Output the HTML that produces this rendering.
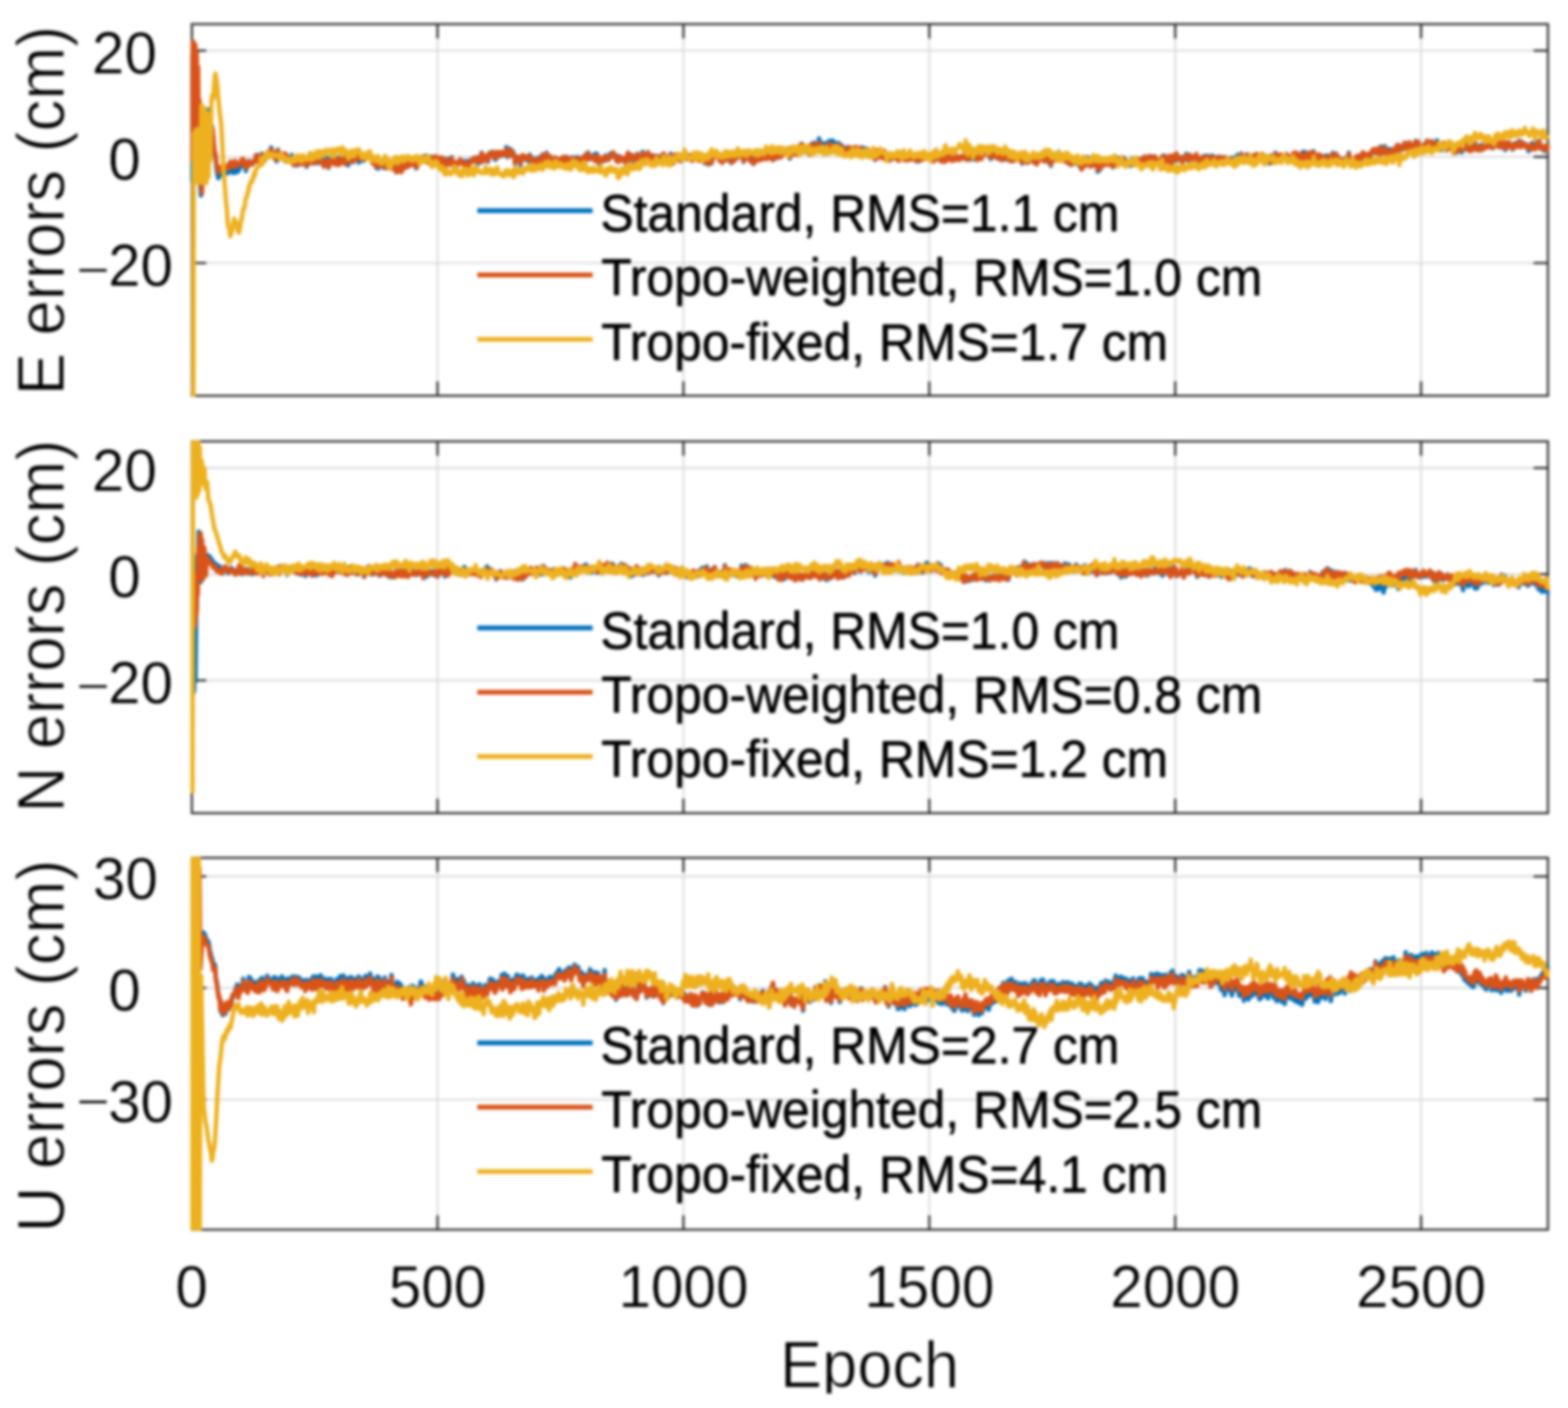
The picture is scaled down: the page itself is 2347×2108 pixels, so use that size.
<!DOCTYPE html>
<html lang="en"><head><meta charset="utf-8"><title>Positioning errors</title>
<style>html,body{margin:0;padding:0;background:#fff;}body{width:2347px;height:2108px;overflow:hidden;}svg{display:block;}text{font-family:"Liberation Sans","DejaVu Sans",sans-serif;fill:#000;}.tk{font-size:87.5px;stroke:#fff;stroke-width:0.6px;stroke-linejoin:round;}.lab{font-size:94.8px;stroke:#fff;stroke-width:1.2px;stroke-linejoin:round;}.leg{font-size:74.55px;stroke:#000;stroke-width:0.8px;stroke-linejoin:round;}</style></head><body>
<svg width="2347" height="2108" viewBox="0 0 2347 2108" role="img" aria-label="E, N and U positioning errors versus epoch">
<defs>
<clipPath id="c0"><rect x="284.7" y="34.6" width="2034.8" height="559.4"/></clipPath>
<clipPath id="c1"><rect x="284.7" y="659.3" width="2034.8" height="559.6"/></clipPath>
<clipPath id="c2"><rect x="284.7" y="1282.8" width="2034.8" height="559.7"/></clipPath>
<clipPath id="ce"><rect x="-200" y="-90" width="400" height="98.8"/></clipPath>
<filter id="bl" x="-5%" y="-5%" width="110%" height="110%" color-interpolation-filters="sRGB"><feGaussianBlur stdDeviation="2.0"/></filter>
</defs>
<rect width="2347" height="2108" fill="#fff"/>
<g filter="url(#bl)">
<g id="axes-E">
<line x1="654.9" x2="654.9" y1="36.1" y2="592.5" stroke="#dedede" stroke-width="3.1"/>
<line x1="1023.0" x2="1023.0" y1="36.1" y2="592.5" stroke="#dedede" stroke-width="3.1"/>
<line x1="1391.0" x2="1391.0" y1="36.1" y2="592.5" stroke="#dedede" stroke-width="3.1"/>
<line x1="1759.1" x2="1759.1" y1="36.1" y2="592.5" stroke="#dedede" stroke-width="3.1"/>
<line x1="2127.1" x2="2127.1" y1="36.1" y2="592.5" stroke="#dedede" stroke-width="3.1"/>
<line x1="287.2" x2="2317.0" y1="75.8" y2="75.8" stroke="#dedede" stroke-width="3.1"/>
<line x1="287.2" x2="2317.0" y1="234.8" y2="234.8" stroke="#dedede" stroke-width="3.1"/>
<line x1="287.2" x2="2317.0" y1="393.8" y2="393.8" stroke="#dedede" stroke-width="3.1"/>
<line x1="654.9" x2="654.9" y1="592.5" y2="571.0" stroke="#262626" stroke-width="3.1"/>
<line x1="654.9" x2="654.9" y1="36.1" y2="57.6" stroke="#262626" stroke-width="3.1"/>
<line x1="1023.0" x2="1023.0" y1="592.5" y2="571.0" stroke="#262626" stroke-width="3.1"/>
<line x1="1023.0" x2="1023.0" y1="36.1" y2="57.6" stroke="#262626" stroke-width="3.1"/>
<line x1="1391.0" x2="1391.0" y1="592.5" y2="571.0" stroke="#262626" stroke-width="3.1"/>
<line x1="1391.0" x2="1391.0" y1="36.1" y2="57.6" stroke="#262626" stroke-width="3.1"/>
<line x1="1759.1" x2="1759.1" y1="592.5" y2="571.0" stroke="#262626" stroke-width="3.1"/>
<line x1="1759.1" x2="1759.1" y1="36.1" y2="57.6" stroke="#262626" stroke-width="3.1"/>
<line x1="2127.1" x2="2127.1" y1="592.5" y2="571.0" stroke="#262626" stroke-width="3.1"/>
<line x1="2127.1" x2="2127.1" y1="36.1" y2="57.6" stroke="#262626" stroke-width="3.1"/>
<line x1="287.2" x2="308.7" y1="75.8" y2="75.8" stroke="#262626" stroke-width="3.1"/>
<line x1="2317.0" x2="2295.5" y1="75.8" y2="75.8" stroke="#262626" stroke-width="3.1"/>
<line x1="287.2" x2="308.7" y1="234.8" y2="234.8" stroke="#262626" stroke-width="3.1"/>
<line x1="2317.0" x2="2295.5" y1="234.8" y2="234.8" stroke="#262626" stroke-width="3.1"/>
<line x1="287.2" x2="308.7" y1="393.8" y2="393.8" stroke="#262626" stroke-width="3.1"/>
<line x1="2317.0" x2="2295.5" y1="393.8" y2="393.8" stroke="#262626" stroke-width="3.1"/>
<rect x="287.2" y="36.1" width="2029.8" height="556.4" fill="none" stroke="#262626" stroke-width="3.1"/>
<polyline clip-path="url(#c0)" fill="none" stroke="#0072BD" stroke-width="6.6" stroke-linejoin="round" stroke-linecap="round" points="286.5,268.7 287.0,85.0 288.0,201.7 289.0,69.9 290.0,198.7 291.0,73.4 292.0,198.2 293.0,85.0 294.0,197.8 295.0,104.6 296.0,204.3 297.0,154.1 298.5,254.5 300.9,292.6 304.0,243.7 305.0,219.8 306.0,199.8 307.0,183.2 308.0,174.6 309.0,171.7 310.0,168.2 311.0,163.9 312.0,168.1 313.0,172.9 314.0,173.1 315.0,178.7 316.0,187.1 317.0,188.8 318.0,192.7 319.0,202.7 320.0,215.0 321.0,227.2 322.0,232.7 323.0,238.3 324.0,249.9 325.0,258.2 326.0,262.8 327.0,266.8 328.0,262.6 329.0,260.6 330.0,262.0 331.0,258.5 332.0,259.4 333.0,259.0 334.0,257.4 335.0,258.8 336.0,260.8 337.0,257.2 338.0,257.1 339.0,256.3 340.0,256.2 341.0,259.4 342.0,252.0 343.0,257.3 344.0,252.5 345.0,247.1 346.0,254.1 347.0,255.1 348.0,258.6 349.0,255.1 350.0,258.6 351.0,258.9 352.0,249.4 353.0,251.6 354.0,256.5 355.0,256.6 356.0,257.4 357.0,252.7 358.0,254.1 359.0,249.6 360.0,248.6 361.0,240.4 362.0,245.5 363.0,244.1 364.0,240.4 365.0,249.1 366.0,244.5 367.0,248.7 368.0,256.1 369.0,248.1 370.0,248.9 371.0,249.5 372.0,242.5 373.0,241.1 374.0,243.4 375.0,242.9 376.0,245.9 377.0,243.7 378.0,245.9 379.0,244.1 380.0,242.4 381.0,242.0 382.0,239.7 383.0,232.7 384.0,240.3 385.0,231.8 386.0,239.9 387.0,243.2 388.0,236.1 389.0,236.0 390.0,235.3 391.0,236.7 392.0,230.1 393.0,232.5 394.0,234.0 395.0,235.0 396.0,241.1 397.0,235.0 398.0,235.1 399.0,235.2 400.0,234.5 401.0,227.4 402.0,231.9 403.0,230.1 404.0,232.0 405.0,228.3 406.0,220.9 407.0,225.1 408.0,228.9 409.0,228.1 410.0,231.3 411.0,236.4 412.0,238.2 413.0,236.3 414.0,241.5 415.0,228.5 416.0,224.0 417.0,233.4 418.0,232.9 419.0,237.2 420.0,237.9 421.0,234.4 422.0,237.4 423.0,236.1 424.0,230.1 425.0,236.0 426.0,236.8 427.0,241.3 428.0,231.3 429.0,236.8 430.0,239.6 431.0,236.4 432.0,239.0 433.0,238.5 434.0,236.0 435.0,239.9 436.0,241.1 437.0,232.0 438.0,238.9 439.0,244.1 440.0,247.3 441.0,242.6 442.0,242.2 443.0,246.3 444.0,240.4 445.0,247.6 446.0,244.9 447.0,245.7 448.0,240.7 449.0,241.1 450.0,244.8 451.0,245.7 452.0,240.9 453.0,244.5 454.0,243.2 455.0,239.8 456.0,243.5 457.0,243.5 458.0,242.6 459.0,249.6 460.0,246.9 461.0,244.9 462.0,240.3 463.0,239.3 464.0,244.2 465.0,242.9 466.0,240.7 467.0,241.0 468.0,240.4 469.0,242.1 470.0,243.5 471.0,243.2 472.0,239.9 473.0,244.0 474.0,243.1 475.0,244.0 476.0,237.9 477.0,237.4 478.0,237.9 479.0,241.3 480.0,240.9 481.0,244.9 482.0,243.6 483.0,242.7 484.0,239.4 485.0,247.9 486.0,243.6 487.0,242.7 488.0,244.3 489.0,242.0 490.0,235.9 491.0,245.2 492.0,251.1 493.0,244.2 494.0,243.8 495.0,243.9 496.0,239.4 497.0,239.8 498.0,241.5 499.0,242.2 500.0,238.3 501.0,246.0 502.0,238.9 503.0,242.2 504.0,246.1 505.0,244.9 506.0,236.1 507.0,239.3 508.0,245.3 509.0,238.4 510.0,243.7 511.0,242.1 512.0,238.6 513.0,238.2 514.0,241.0 515.0,244.0 516.0,243.4 517.0,241.5 518.0,235.9 519.0,243.3 520.0,242.1 521.0,247.4 522.0,245.3 523.0,238.2 524.0,240.1 525.0,235.8 526.0,237.6 527.0,236.5 528.0,238.8 529.0,242.9 530.0,227.8 531.0,237.4 532.0,238.5 533.0,234.7 534.0,238.4 535.0,232.5 536.0,237.4 537.0,243.3 538.0,234.8 539.0,234.3 540.0,236.4 541.0,235.6 542.0,240.3 543.0,236.7 544.0,240.8 545.0,238.3 546.0,233.5 547.0,235.6 548.0,231.6 549.0,231.7 550.0,229.6 551.0,232.4 552.0,229.4 553.0,232.5 554.0,236.8 555.0,236.8 556.0,237.1 557.0,242.2 558.0,244.5 559.0,238.1 560.0,245.3 561.0,246.8 562.0,245.9 563.0,250.9 564.0,245.8 565.0,249.7 566.0,252.4 567.0,244.0 568.0,243.4 569.0,243.8 570.0,248.0 571.0,246.6 572.0,248.6 573.0,249.9 574.0,251.1 575.0,247.7 576.0,244.8 577.0,242.9 578.0,251.8 579.0,247.3 580.0,245.7 581.0,248.9 582.0,248.3 583.0,243.9 584.0,251.5 585.0,247.1 586.0,248.6 587.0,253.1 588.0,248.1 589.0,251.1 590.0,248.1 591.0,248.1 592.0,250.0 593.0,257.8 594.0,252.7 595.0,255.6 596.0,252.6 597.0,253.4 598.0,253.6 599.0,249.9 600.0,242.6 601.0,256.7 602.0,250.0 603.0,249.0 604.0,252.6 605.0,249.2 606.0,251.4 607.0,246.6 608.0,242.3 609.0,249.8 610.0,242.6 611.0,245.1 612.0,247.5 613.0,248.2 614.0,243.7 615.0,244.4 616.0,245.7 617.0,242.6 618.0,243.1 619.0,243.8 620.0,242.9 621.0,248.7 622.0,243.9 623.0,251.9 624.0,251.1 625.0,237.6 626.0,241.4 627.0,238.7 628.0,242.1 629.0,240.9 630.0,241.5 631.0,235.8 632.0,240.1 633.0,236.9 634.0,235.0 635.0,236.4 636.0,234.8 637.0,236.1 638.0,233.4 639.0,242.1 640.0,234.8 641.0,242.2 642.0,241.2 643.0,244.9 644.0,234.4 645.0,238.2 646.0,238.3 647.0,245.8 648.0,247.4 649.0,235.0 650.0,237.5 651.0,237.4 652.0,237.9 653.0,234.9 654.0,244.1 655.0,241.3 656.0,244.9 657.0,241.5 658.0,237.4 659.0,241.2 660.0,245.0 661.0,237.2 662.0,237.2 663.0,240.0 664.0,242.5 665.0,239.4 666.0,237.6 667.0,248.4 668.0,243.7 669.0,245.4 670.0,243.0 671.0,241.4 672.0,237.9 673.0,241.2 674.0,246.6 675.0,237.3 676.0,235.5 677.0,245.4 678.0,243.0 679.0,247.9 680.0,250.4 681.0,244.1 682.0,243.1 683.0,243.5 684.0,246.1 685.0,247.1 686.0,244.0 687.0,242.2 688.0,243.3 689.0,239.0 690.0,243.8 691.0,241.8 692.0,241.9 693.0,243.0 694.0,244.1 695.0,242.3 696.0,241.2 697.0,246.8 698.0,245.2 699.0,245.6 700.0,249.5 701.0,241.1 702.0,245.8 703.0,244.9 704.0,243.7 705.0,239.8 706.0,239.4 707.0,238.4 708.0,241.5 709.0,237.7 710.0,241.4 711.0,241.5 712.0,241.6 713.0,235.7 714.0,235.5 715.0,239.6 716.0,245.0 717.0,240.9 718.0,241.0 719.0,236.7 720.0,238.8 721.0,228.5 722.0,242.6 723.0,239.1 724.0,240.0 725.0,235.1 726.0,233.4 727.0,237.5 728.0,233.9 729.0,239.0 730.0,242.5 731.0,239.7 732.0,229.8 733.0,230.2 734.0,231.6 735.0,231.0 736.0,227.3 737.0,227.2 738.0,230.4 739.0,231.0 740.0,237.7 741.0,234.9 742.0,239.1 743.0,228.4 744.0,228.6 745.0,231.2 746.0,230.2 747.0,228.0 748.0,232.9 749.0,232.6 750.0,232.0 751.0,227.8 752.0,228.9 753.0,230.2 754.0,231.7 755.0,232.6 756.0,227.7 757.0,229.4 758.0,220.4 759.0,232.8 760.0,235.3 761.0,230.5 762.0,233.0 763.0,222.7 764.0,231.4 765.0,224.2 766.0,231.1 767.0,232.1 768.0,227.0 769.0,231.0 770.0,233.2 771.0,245.1 772.0,237.9 773.0,234.4 774.0,235.7 775.0,234.7 776.0,236.2 777.0,237.3 778.0,238.1 779.0,246.9 780.0,241.0 781.0,236.2 782.0,232.5 783.0,235.7 784.0,235.1 785.0,233.4 786.0,239.0 787.0,236.5 788.0,237.2 789.0,238.7 790.0,235.7 791.0,241.6 792.0,235.7 793.0,231.5 794.0,234.4 795.0,235.9 796.0,243.8 797.0,242.0 798.0,239.4 799.0,240.2 800.0,241.6 801.0,237.2 802.0,240.9 803.0,239.4 804.0,243.9 805.0,238.0 806.0,242.8 807.0,235.8 808.0,240.2 809.0,244.9 810.0,238.1 811.0,240.2 812.0,231.3 813.0,238.2 814.0,238.6 815.0,236.6 816.0,235.6 817.0,240.4 818.0,228.8 819.0,240.9 820.0,239.3 821.0,237.8 822.0,238.5 823.0,233.4 824.0,237.8 825.0,240.7 826.0,244.1 827.0,239.1 828.0,240.6 829.0,239.7 830.0,242.6 831.0,235.5 832.0,238.0 833.0,243.7 834.0,244.2 835.0,238.4 836.0,242.1 837.0,242.0 838.0,242.5 839.0,238.6 840.0,237.8 841.0,236.8 842.0,241.3 843.0,245.3 844.0,235.1 845.0,240.0 846.0,239.9 847.0,237.4 848.0,244.7 849.0,234.9 850.0,246.4 851.0,241.5 852.0,238.3 853.0,241.1 854.0,243.7 855.0,237.0 856.0,239.0 857.0,235.5 858.0,236.2 859.0,242.6 860.0,241.4 861.0,243.7 862.0,243.0 863.0,238.0 864.0,235.1 865.0,237.6 866.0,242.7 867.0,239.0 868.0,239.8 869.0,238.4 870.0,243.0 871.0,235.9 872.0,236.1 873.0,235.7 874.0,239.3 875.0,243.9 876.0,231.9 877.0,233.3 878.0,237.5 879.0,235.7 880.0,228.3 881.0,230.1 882.0,236.8 883.0,236.0 884.0,235.7 885.0,236.3 886.0,234.5 887.0,233.3 888.0,235.6 889.0,239.9 890.0,231.0 891.0,233.9 892.0,236.9 893.0,230.1 894.0,235.5 895.0,235.5 896.0,235.2 897.0,246.6 898.0,244.0 899.0,243.1 900.0,242.6 901.0,239.7 902.0,238.7 903.0,237.9 904.0,235.3 905.0,240.7 906.0,232.7 907.0,236.1 908.0,239.4 909.0,236.4 910.0,235.3 911.0,237.3 912.0,237.4 913.0,230.2 914.0,230.2 915.0,229.7 916.0,233.3 917.0,230.9 918.0,229.0 919.0,233.0 920.0,235.8 921.0,234.0 922.0,232.4 923.0,241.3 924.0,241.3 925.0,241.0 926.0,240.7 927.0,234.2 928.0,236.0 929.0,235.1 930.0,237.8 931.0,238.0 932.0,238.7 933.0,241.2 934.0,237.8 935.0,239.3 936.0,235.6 937.0,245.0 938.0,242.4 939.0,233.2 940.0,231.3 941.0,242.0 942.0,233.8 943.0,238.9 944.0,231.6 945.0,238.2 946.0,232.8 947.0,236.9 948.0,233.2 949.0,241.9 950.0,235.0 951.0,240.0 952.0,236.5 953.0,239.0 954.0,230.4 955.0,232.3 956.0,237.9 957.0,233.5 958.0,235.8 959.0,233.6 960.0,232.1 961.0,233.6 962.0,227.4 963.0,230.7 964.0,235.4 965.0,234.4 966.0,238.1 967.0,237.0 968.0,238.8 969.0,238.0 970.0,228.2 971.0,233.7 972.0,233.5 973.0,241.0 974.0,235.9 975.0,232.6 976.0,233.7 977.0,232.4 978.0,234.2 979.0,235.8 980.0,239.7 981.0,234.8 982.0,234.8 983.0,233.4 984.0,235.2 985.0,233.7 986.0,241.0 987.0,243.5 988.0,243.8 989.0,239.7 990.0,238.7 991.0,239.7 992.0,230.5 993.0,239.6 994.0,231.4 995.0,238.5 996.0,236.4 997.0,236.4 998.0,235.0 999.0,238.9 1000.0,238.6 1001.0,240.9 1002.0,242.6 1003.0,237.8 1004.0,230.1 1005.0,235.8 1006.0,236.0 1007.0,244.2 1008.0,233.0 1009.0,236.0 1010.0,238.4 1011.0,238.8 1012.0,232.0 1013.0,239.8 1014.0,234.8 1015.0,236.6 1016.0,238.4 1017.0,233.8 1018.0,234.3 1019.0,241.4 1020.0,233.8 1021.0,233.5 1022.0,231.1 1023.0,236.2 1024.0,232.1 1025.0,233.3 1026.0,231.2 1027.0,230.8 1028.0,238.4 1029.0,234.7 1030.0,232.9 1031.0,235.2 1032.0,232.0 1033.0,233.3 1034.0,239.2 1035.0,240.1 1036.0,235.6 1037.0,238.9 1038.0,239.9 1039.0,236.4 1040.0,239.1 1041.0,235.6 1042.0,236.6 1043.0,230.6 1044.0,237.6 1045.0,235.1 1046.0,240.4 1047.0,234.0 1048.0,238.4 1049.0,232.7 1050.0,239.1 1051.0,240.8 1052.0,241.7 1053.0,242.6 1054.0,239.2 1055.0,244.6 1056.0,237.2 1057.0,238.8 1058.0,240.5 1059.0,237.4 1060.0,237.6 1061.0,246.4 1062.0,236.0 1063.0,240.0 1064.0,237.8 1065.0,244.5 1066.0,239.5 1067.0,236.0 1068.0,235.6 1069.0,232.8 1070.0,231.6 1071.0,230.1 1072.0,234.7 1073.0,234.5 1074.0,236.5 1075.0,234.2 1076.0,236.3 1077.0,240.6 1078.0,232.1 1079.0,232.3 1080.0,237.3 1081.0,242.3 1082.0,235.1 1083.0,231.3 1084.0,234.5 1085.0,235.2 1086.0,240.1 1087.0,234.5 1088.0,234.6 1089.0,234.5 1090.0,228.5 1091.0,228.6 1092.0,239.4 1093.0,242.2 1094.0,237.2 1095.0,244.1 1096.0,242.8 1097.0,241.0 1098.0,241.5 1099.0,240.5 1100.0,239.4 1101.0,238.9 1102.0,237.1 1103.0,233.4 1104.0,235.9 1105.0,230.0 1106.0,230.0 1107.0,234.2 1108.0,227.2 1109.0,235.4 1110.0,230.4 1111.0,230.7 1112.0,233.4 1113.0,242.4 1114.0,237.7 1115.0,230.9 1116.0,237.5 1117.0,237.6 1118.0,226.7 1119.0,229.4 1120.0,236.3 1121.0,234.5 1122.0,236.1 1123.0,241.4 1124.0,237.7 1125.0,236.1 1126.0,241.0 1127.0,239.0 1128.0,245.4 1129.0,238.7 1130.0,237.2 1131.0,237.0 1132.0,238.8 1133.0,239.9 1134.0,235.3 1135.0,231.9 1136.0,231.7 1137.0,234.7 1138.0,238.2 1139.0,239.3 1140.0,228.1 1141.0,234.9 1142.0,234.3 1143.0,234.3 1144.0,237.8 1145.0,233.1 1146.0,232.1 1147.0,237.3 1148.0,236.3 1149.0,233.8 1150.0,232.0 1151.0,231.5 1152.0,226.9 1153.0,236.2 1154.0,233.9 1155.0,230.9 1156.0,230.4 1157.0,239.8 1158.0,235.2 1159.0,234.8 1160.0,234.4 1161.0,237.3 1162.0,237.1 1163.0,230.1 1164.0,232.6 1165.0,233.1 1166.0,235.7 1167.0,233.3 1168.0,224.0 1169.0,233.7 1170.0,230.8 1171.0,221.6 1172.0,227.3 1173.0,227.0 1174.0,228.8 1175.0,227.0 1176.0,227.2 1177.0,227.8 1178.0,227.2 1179.0,229.6 1180.0,231.4 1181.0,234.0 1182.0,237.4 1183.0,232.1 1184.0,221.7 1185.0,230.7 1186.0,227.3 1187.0,227.1 1188.0,229.3 1189.0,224.7 1190.0,226.9 1191.0,222.8 1192.0,231.1 1193.0,222.2 1194.0,221.4 1195.0,226.3 1196.0,220.0 1197.0,223.7 1198.0,220.0 1199.0,217.1 1200.0,215.1 1201.0,223.5 1202.0,228.5 1203.0,224.0 1204.0,225.8 1205.0,226.5 1206.0,221.1 1207.0,222.5 1208.0,228.1 1209.0,223.3 1210.0,221.3 1211.0,220.2 1212.0,229.4 1213.0,224.3 1214.0,216.3 1215.0,222.1 1216.0,219.9 1217.0,218.6 1218.0,213.5 1219.0,224.5 1220.0,220.5 1221.0,215.5 1222.0,220.1 1223.0,216.0 1224.0,215.0 1225.0,216.2 1226.0,207.3 1227.0,219.1 1228.0,214.6 1229.0,213.4 1230.0,214.4 1231.0,215.7 1232.0,217.6 1233.0,217.6 1234.0,215.1 1235.0,217.7 1236.0,214.6 1237.0,214.9 1238.0,217.3 1239.0,219.2 1240.0,219.0 1241.0,211.0 1242.0,216.6 1243.0,216.6 1244.0,216.1 1245.0,218.1 1246.0,210.3 1247.0,214.9 1248.0,212.4 1249.0,215.2 1250.0,214.4 1251.0,220.9 1252.0,219.5 1253.0,216.9 1254.0,217.5 1255.0,214.0 1256.0,221.9 1257.0,217.2 1258.0,216.6 1259.0,219.0 1260.0,217.8 1261.0,224.7 1262.0,224.0 1263.0,226.4 1264.0,222.0 1265.0,221.9 1266.0,221.5 1267.0,223.8 1268.0,223.7 1269.0,224.6 1270.0,219.9 1271.0,225.1 1272.0,226.0 1273.0,230.6 1274.0,223.2 1275.0,229.2 1276.0,222.0 1277.0,223.6 1278.0,221.3 1279.0,222.2 1280.0,228.6 1281.0,221.1 1282.0,221.3 1283.0,220.9 1284.0,225.4 1285.0,229.9 1286.0,224.3 1287.0,226.8 1288.0,221.2 1289.0,225.0 1290.0,223.2 1291.0,220.9 1292.0,223.2 1293.0,228.1 1294.0,223.3 1295.0,223.7 1296.0,225.8 1297.0,222.7 1298.0,233.6 1299.0,223.8 1300.0,233.7 1301.0,230.5 1302.0,229.9 1303.0,234.4 1304.0,230.1 1305.0,234.1 1306.0,225.0 1307.0,231.1 1308.0,233.4 1309.0,230.2 1310.0,239.3 1311.0,232.6 1312.0,225.4 1313.0,234.6 1314.0,235.0 1315.0,230.4 1316.0,233.6 1317.0,235.0 1318.0,230.9 1319.0,234.0 1320.0,235.2 1321.0,231.5 1322.0,236.3 1323.0,236.5 1324.0,226.2 1325.0,227.7 1326.0,231.5 1327.0,232.9 1328.0,232.5 1329.0,231.2 1330.0,230.3 1331.0,236.0 1332.0,240.3 1333.0,232.6 1334.0,230.4 1335.0,232.4 1336.0,231.6 1337.0,231.3 1338.0,237.5 1339.0,236.5 1340.0,234.7 1341.0,233.9 1342.0,237.7 1343.0,237.1 1344.0,237.1 1345.0,240.7 1346.0,238.0 1347.0,228.7 1348.0,231.0 1349.0,232.8 1350.0,236.2 1351.0,239.2 1352.0,239.2 1353.0,236.6 1354.0,232.1 1355.0,232.3 1356.0,231.3 1357.0,238.7 1358.0,238.1 1359.0,236.5 1360.0,237.3 1361.0,233.4 1362.0,234.1 1363.0,232.6 1364.0,236.4 1365.0,238.7 1366.0,237.0 1367.0,237.7 1368.0,235.6 1369.0,237.6 1370.0,237.4 1371.0,241.1 1372.0,235.4 1373.0,237.3 1374.0,239.3 1375.0,241.7 1376.0,236.4 1377.0,233.8 1378.0,234.2 1379.0,231.4 1380.0,239.5 1381.0,236.8 1382.0,229.9 1383.0,235.4 1384.0,237.8 1385.0,233.6 1386.0,233.7 1387.0,237.7 1388.0,234.0 1389.0,233.0 1390.0,237.1 1391.0,235.4 1392.0,237.3 1393.0,234.5 1394.0,238.9 1395.0,237.2 1396.0,240.5 1397.0,237.6 1398.0,241.2 1399.0,239.6 1400.0,233.3 1401.0,231.5 1402.0,234.4 1403.0,236.4 1404.0,234.3 1405.0,239.0 1406.0,234.7 1407.0,236.5 1408.0,241.0 1409.0,238.3 1410.0,238.7 1411.0,239.9 1412.0,237.6 1413.0,234.4 1414.0,236.3 1415.0,240.8 1416.0,240.6 1417.0,239.8 1418.0,238.3 1419.0,231.6 1420.0,236.9 1421.0,231.7 1422.0,235.7 1423.0,238.2 1424.0,239.9 1425.0,240.6 1426.0,239.7 1427.0,240.2 1428.0,235.1 1429.0,237.7 1430.0,235.0 1431.0,233.7 1432.0,238.9 1433.0,236.2 1434.0,235.4 1435.0,237.6 1436.0,239.5 1437.0,234.7 1438.0,238.1 1439.0,236.5 1440.0,234.2 1441.0,235.1 1442.0,233.2 1443.0,232.3 1444.0,231.4 1445.0,238.4 1446.0,232.9 1447.0,237.4 1448.0,234.0 1449.0,238.4 1450.0,238.3 1451.0,239.3 1452.0,233.0 1453.0,234.7 1454.0,236.0 1455.0,235.1 1456.0,233.8 1457.0,238.7 1458.0,233.0 1459.0,227.5 1460.0,232.8 1461.0,232.3 1462.0,228.2 1463.0,239.3 1464.0,232.4 1465.0,234.6 1466.0,231.0 1467.0,230.3 1468.0,236.3 1469.0,237.0 1470.0,235.4 1471.0,229.6 1472.0,229.1 1473.0,228.9 1474.0,224.2 1475.0,222.0 1476.0,222.6 1477.0,228.2 1478.0,226.4 1479.0,230.0 1480.0,233.4 1481.0,234.8 1482.0,236.0 1483.0,238.1 1484.0,234.3 1485.0,226.7 1486.0,235.5 1487.0,232.1 1488.0,233.9 1489.0,232.8 1490.0,232.2 1491.0,228.3 1492.0,232.5 1493.0,237.4 1494.0,237.5 1495.0,234.4 1496.0,227.9 1497.0,229.6 1498.0,235.3 1499.0,240.0 1500.0,229.1 1501.0,232.8 1502.0,235.5 1503.0,238.0 1504.0,238.8 1505.0,229.0 1506.0,237.6 1507.0,235.7 1508.0,238.5 1509.0,233.6 1510.0,235.4 1511.0,240.4 1512.0,235.9 1513.0,239.6 1514.0,234.1 1515.0,241.3 1516.0,234.9 1517.0,237.9 1518.0,240.7 1519.0,237.0 1520.0,238.0 1521.0,236.3 1522.0,238.6 1523.0,232.6 1524.0,236.5 1525.0,234.7 1526.0,229.7 1527.0,238.8 1528.0,233.3 1529.0,240.9 1530.0,244.9 1531.0,241.5 1532.0,239.1 1533.0,237.8 1534.0,230.9 1535.0,238.8 1536.0,240.4 1537.0,242.4 1538.0,237.2 1539.0,243.6 1540.0,236.7 1541.0,237.0 1542.0,234.1 1543.0,236.9 1544.0,234.8 1545.0,237.0 1546.0,241.9 1547.0,242.8 1548.0,237.4 1549.0,235.1 1550.0,244.9 1551.0,241.8 1552.0,245.7 1553.0,238.0 1554.0,230.7 1555.0,239.7 1556.0,236.2 1557.0,237.6 1558.0,232.1 1559.0,236.7 1560.0,230.8 1561.0,237.3 1562.0,232.5 1563.0,241.6 1564.0,238.7 1565.0,238.5 1566.0,236.5 1567.0,236.9 1568.0,240.8 1569.0,234.4 1570.0,243.5 1571.0,238.2 1572.0,244.8 1573.0,248.2 1574.0,242.4 1575.0,235.7 1576.0,241.2 1577.0,240.0 1578.0,239.0 1579.0,238.8 1580.0,234.8 1581.0,236.8 1582.0,232.6 1583.0,236.9 1584.0,237.1 1585.0,227.4 1586.0,237.7 1587.0,232.3 1588.0,237.2 1589.0,238.0 1590.0,237.7 1591.0,235.4 1592.0,233.9 1593.0,238.2 1594.0,239.3 1595.0,240.6 1596.0,243.0 1597.0,239.7 1598.0,236.5 1599.0,239.4 1600.0,242.6 1601.0,246.0 1602.0,243.8 1603.0,246.5 1604.0,245.7 1605.0,243.7 1606.0,240.1 1607.0,242.9 1608.0,244.4 1609.0,242.1 1610.0,244.3 1611.0,244.9 1612.0,239.8 1613.0,243.0 1614.0,238.9 1615.0,245.7 1616.0,249.3 1617.0,242.2 1618.0,245.0 1619.0,253.7 1620.0,245.6 1621.0,244.7 1622.0,242.9 1623.0,242.7 1624.0,246.7 1625.0,241.6 1626.0,242.3 1627.0,241.3 1628.0,235.2 1629.0,246.8 1630.0,244.6 1631.0,244.1 1632.0,248.5 1633.0,244.9 1634.0,244.3 1635.0,244.8 1636.0,248.2 1637.0,238.8 1638.0,242.1 1639.0,239.5 1640.0,244.3 1641.0,243.8 1642.0,244.8 1643.0,257.0 1644.0,253.4 1645.0,255.4 1646.0,250.5 1647.0,253.7 1648.0,246.2 1649.0,247.3 1650.0,245.9 1651.0,243.2 1652.0,247.4 1653.0,244.4 1654.0,241.7 1655.0,239.2 1656.0,241.5 1657.0,243.2 1658.0,247.0 1659.0,242.8 1660.0,242.4 1661.0,243.2 1662.0,241.7 1663.0,245.0 1664.0,247.7 1665.0,242.7 1666.0,250.4 1667.0,248.3 1668.0,243.9 1669.0,246.0 1670.0,241.1 1671.0,243.1 1672.0,240.0 1673.0,240.1 1674.0,236.3 1675.0,243.2 1676.0,241.3 1677.0,236.6 1678.0,238.5 1679.0,244.5 1680.0,245.4 1681.0,235.7 1682.0,244.1 1683.0,237.2 1684.0,240.0 1685.0,240.5 1686.0,241.9 1687.0,242.1 1688.0,243.0 1689.0,246.5 1690.0,242.0 1691.0,243.3 1692.0,248.4 1693.0,243.6 1694.0,237.4 1695.0,238.7 1696.0,242.9 1697.0,246.4 1698.0,242.8 1699.0,240.9 1700.0,246.4 1701.0,238.4 1702.0,245.6 1703.0,238.1 1704.0,244.5 1705.0,237.8 1706.0,245.5 1707.0,242.0 1708.0,241.3 1709.0,242.8 1710.0,237.1 1711.0,240.7 1712.0,239.5 1713.0,234.9 1714.0,245.4 1715.0,243.4 1716.0,239.4 1717.0,241.6 1718.0,243.4 1719.0,241.6 1720.0,233.5 1721.0,237.7 1722.0,238.5 1723.0,242.2 1724.0,236.9 1725.0,234.2 1726.0,240.9 1727.0,235.8 1728.0,237.2 1729.0,235.8 1730.0,242.8 1731.0,238.8 1732.0,239.1 1733.0,243.8 1734.0,239.8 1735.0,239.4 1736.0,238.7 1737.0,243.3 1738.0,238.5 1739.0,239.9 1740.0,233.6 1741.0,236.2 1742.0,234.4 1743.0,233.3 1744.0,237.1 1745.0,240.5 1746.0,242.0 1747.0,239.8 1748.0,239.0 1749.0,241.4 1750.0,236.3 1751.0,239.6 1752.0,244.8 1753.0,244.4 1754.0,243.0 1755.0,240.1 1756.0,232.9 1757.0,235.6 1758.0,237.9 1759.0,238.2 1760.0,240.2 1761.0,231.2 1762.0,234.2 1763.0,239.9 1764.0,235.2 1765.0,234.9 1766.0,235.0 1767.0,237.9 1768.0,236.8 1769.0,241.0 1770.0,242.9 1771.0,238.1 1772.0,234.3 1773.0,236.4 1774.0,236.7 1775.0,237.4 1776.0,230.4 1777.0,233.5 1778.0,233.5 1779.0,240.7 1780.0,237.8 1781.0,232.2 1782.0,237.3 1783.0,237.3 1784.0,234.1 1785.0,236.5 1786.0,235.4 1787.0,233.9 1788.0,236.2 1789.0,235.3 1790.0,238.7 1791.0,232.6 1792.0,235.3 1793.0,242.4 1794.0,238.7 1795.0,239.7 1796.0,238.4 1797.0,239.4 1798.0,240.7 1799.0,238.1 1800.0,240.7 1801.0,233.9 1802.0,237.3 1803.0,236.9 1804.0,235.3 1805.0,239.3 1806.0,233.1 1807.0,234.6 1808.0,245.1 1809.0,240.0 1810.0,238.2 1811.0,239.3 1812.0,233.5 1813.0,240.3 1814.0,233.4 1815.0,235.6 1816.0,233.8 1817.0,238.1 1818.0,239.2 1819.0,242.3 1820.0,243.3 1821.0,237.0 1822.0,239.5 1823.0,236.7 1824.0,234.7 1825.0,241.3 1826.0,243.5 1827.0,235.8 1828.0,237.2 1829.0,237.6 1830.0,239.8 1831.0,240.3 1832.0,237.8 1833.0,237.4 1834.0,236.3 1835.0,235.8 1836.0,238.7 1837.0,239.6 1838.0,243.3 1839.0,240.6 1840.0,239.9 1841.0,237.3 1842.0,240.1 1843.0,238.3 1844.0,241.7 1845.0,236.0 1846.0,243.0 1847.0,239.7 1848.0,238.0 1849.0,237.8 1850.0,237.5 1851.0,240.5 1852.0,232.1 1853.0,236.0 1854.0,235.0 1855.0,239.7 1856.0,235.9 1857.0,238.5 1858.0,229.9 1859.0,241.1 1860.0,235.6 1861.0,241.5 1862.0,236.6 1863.0,243.2 1864.0,236.6 1865.0,236.5 1866.0,231.0 1867.0,238.1 1868.0,236.1 1869.0,231.6 1870.0,238.2 1871.0,235.2 1872.0,239.4 1873.0,236.2 1874.0,238.2 1875.0,242.0 1876.0,232.2 1877.0,240.4 1878.0,234.8 1879.0,234.6 1880.0,232.1 1881.0,230.6 1882.0,239.4 1883.0,234.0 1884.0,233.2 1885.0,238.7 1886.0,237.1 1887.0,236.9 1888.0,233.9 1889.0,232.5 1890.0,238.2 1891.0,239.9 1892.0,234.5 1893.0,240.7 1894.0,233.0 1895.0,236.4 1896.0,240.1 1897.0,239.1 1898.0,238.1 1899.0,237.1 1900.0,244.8 1901.0,232.9 1902.0,241.5 1903.0,242.7 1904.0,236.1 1905.0,236.4 1906.0,233.4 1907.0,237.0 1908.0,232.1 1909.0,228.8 1910.0,230.7 1911.0,236.6 1912.0,234.5 1913.0,237.1 1914.0,232.7 1915.0,236.5 1916.0,241.3 1917.0,231.6 1918.0,236.4 1919.0,235.1 1920.0,236.5 1921.0,238.2 1922.0,237.5 1923.0,234.8 1924.0,236.9 1925.0,235.8 1926.0,230.7 1927.0,237.2 1928.0,237.6 1929.0,240.3 1930.0,242.2 1931.0,236.3 1932.0,234.3 1933.0,233.6 1934.0,235.8 1935.0,239.7 1936.0,230.4 1937.0,239.2 1938.0,239.6 1939.0,230.0 1940.0,228.5 1941.0,234.2 1942.0,236.1 1943.0,236.6 1944.0,236.2 1945.0,239.0 1946.0,232.3 1947.0,234.4 1948.0,232.1 1949.0,233.0 1950.0,227.6 1951.0,234.0 1952.0,234.7 1953.0,227.5 1954.0,230.0 1955.0,233.0 1956.0,229.6 1957.0,234.4 1958.0,235.0 1959.0,231.3 1960.0,228.4 1961.0,236.4 1962.0,233.3 1963.0,232.6 1964.0,233.1 1965.0,231.4 1966.0,226.4 1967.0,230.5 1968.0,234.2 1969.0,239.0 1970.0,240.5 1971.0,234.0 1972.0,239.9 1973.0,232.7 1974.0,235.1 1975.0,231.4 1976.0,236.6 1977.0,235.6 1978.0,240.3 1979.0,234.4 1980.0,240.1 1981.0,238.7 1982.0,239.4 1983.0,239.1 1984.0,233.4 1985.0,233.0 1986.0,241.1 1987.0,239.8 1988.0,234.0 1989.0,238.2 1990.0,233.2 1991.0,237.2 1992.0,239.7 1993.0,237.1 1994.0,237.3 1995.0,228.9 1996.0,238.4 1997.0,231.2 1998.0,239.7 1999.0,236.9 2000.0,230.1 2001.0,239.4 2002.0,237.8 2003.0,234.2 2004.0,241.2 2005.0,241.4 2006.0,238.7 2007.0,244.5 2008.0,242.5 2009.0,240.6 2010.0,243.7 2011.0,238.0 2012.0,241.2 2013.0,237.5 2014.0,236.4 2015.0,237.4 2016.0,238.8 2017.0,240.4 2018.0,234.3 2019.0,228.7 2020.0,238.6 2021.0,237.2 2022.0,243.0 2023.0,241.0 2024.0,245.6 2025.0,243.7 2026.0,247.0 2027.0,239.3 2028.0,244.9 2029.0,243.3 2030.0,239.9 2031.0,234.9 2032.0,241.9 2033.0,240.4 2034.0,238.3 2035.0,232.8 2036.0,235.9 2037.0,235.6 2038.0,234.4 2039.0,238.4 2040.0,228.3 2041.0,237.1 2042.0,238.1 2043.0,236.0 2044.0,231.5 2045.0,231.9 2046.0,233.0 2047.0,234.0 2048.0,230.9 2049.0,233.8 2050.0,232.0 2051.0,235.6 2052.0,231.1 2053.0,228.9 2054.0,225.6 2055.0,227.9 2056.0,224.8 2057.0,222.9 2058.0,228.7 2059.0,229.3 2060.0,226.4 2061.0,228.2 2062.0,228.0 2063.0,224.1 2064.0,230.6 2065.0,220.7 2066.0,231.4 2067.0,219.6 2068.0,225.1 2069.0,225.9 2070.0,224.8 2071.0,225.1 2072.0,229.4 2073.0,219.0 2074.0,226.0 2075.0,224.9 2076.0,229.6 2077.0,230.9 2078.0,226.4 2079.0,223.6 2080.0,223.4 2081.0,225.2 2082.0,228.4 2083.0,228.7 2084.0,225.2 2085.0,223.4 2086.0,226.4 2087.0,229.1 2088.0,227.3 2089.0,229.4 2090.0,219.4 2091.0,222.7 2092.0,218.2 2093.0,217.6 2094.0,224.7 2095.0,225.6 2096.0,219.1 2097.0,224.0 2098.0,221.8 2099.0,219.7 2100.0,223.3 2101.0,219.0 2102.0,213.8 2103.0,215.8 2104.0,220.1 2105.0,220.9 2106.0,224.6 2107.0,218.9 2108.0,219.2 2109.0,213.1 2110.0,213.1 2111.0,218.7 2112.0,224.4 2113.0,220.3 2114.0,218.2 2115.0,218.6 2116.0,221.2 2117.0,216.1 2118.0,215.3 2119.0,210.8 2120.0,212.2 2121.0,214.4 2122.0,216.2 2123.0,212.5 2124.0,223.8 2125.0,221.4 2126.0,222.6 2127.0,224.7 2128.0,229.0 2129.0,220.5 2130.0,219.8 2131.0,220.7 2132.0,216.0 2133.0,215.7 2134.0,215.5 2135.0,218.8 2136.0,211.7 2137.0,218.9 2138.0,215.2 2139.0,216.9 2140.0,214.7 2141.0,220.6 2142.0,214.8 2143.0,211.1 2144.0,215.8 2145.0,215.2 2146.0,218.2 2147.0,217.4 2148.0,215.1 2149.0,214.6 2150.0,213.1 2151.0,210.2 2152.0,221.0 2153.0,214.3 2154.0,222.0 2155.0,217.9 2156.0,222.9 2157.0,220.0 2158.0,224.7 2159.0,220.7 2160.0,215.7 2161.0,216.6 2162.0,219.6 2163.0,220.1 2164.0,222.6 2165.0,225.1 2166.0,214.5 2167.0,217.8 2168.0,218.4 2169.0,222.2 2170.0,220.4 2171.0,212.5 2172.0,222.5 2173.0,223.9 2174.0,220.0 2175.0,219.7 2176.0,229.2 2177.0,223.2 2178.0,217.7 2179.0,223.5 2180.0,228.2 2181.0,227.9 2182.0,222.5 2183.0,223.3 2184.0,224.5 2185.0,225.8 2186.0,225.4 2187.0,224.0 2188.0,228.0 2189.0,224.5 2190.0,215.9 2191.0,218.6 2192.0,223.3 2193.0,218.2 2194.0,220.1 2195.0,219.5 2196.0,216.1 2197.0,220.3 2198.0,225.6 2199.0,215.1 2200.0,223.1 2201.0,220.9 2202.0,224.8 2203.0,224.4 2204.0,220.7 2205.0,218.8 2206.0,222.3 2207.0,219.6 2208.0,218.9 2209.0,215.4 2210.0,218.4 2211.0,224.9 2212.0,220.2 2213.0,223.6 2214.0,221.5 2215.0,220.8 2216.0,222.8 2217.0,217.1 2218.0,223.0 2219.0,223.3 2220.0,223.2 2221.0,219.9 2222.0,213.3 2223.0,219.1 2224.0,214.7 2225.0,219.9 2226.0,215.8 2227.0,216.1 2228.0,216.8 2229.0,211.3 2230.0,217.7 2231.0,213.5 2232.0,221.2 2233.0,215.8 2234.0,214.3 2235.0,221.8 2236.0,216.5 2237.0,215.9 2238.0,217.9 2239.0,216.6 2240.0,217.0 2241.0,215.3 2242.0,218.6 2243.0,216.9 2244.0,220.1 2245.0,219.0 2246.0,213.5 2247.0,220.7 2248.0,217.3 2249.0,220.4 2250.0,211.3 2251.0,217.3 2252.0,222.2 2253.0,224.4 2254.0,213.4 2255.0,222.5 2256.0,217.2 2257.0,219.4 2258.0,213.2 2259.0,214.2 2260.0,218.5 2261.0,216.7 2262.0,217.8 2263.0,216.9 2264.0,223.8 2265.0,219.1 2266.0,221.5 2267.0,221.0 2268.0,214.3 2269.0,219.1 2270.0,219.3 2271.0,217.3 2272.0,212.9 2273.0,215.7 2274.0,210.9 2275.0,219.5 2276.0,220.5 2277.0,211.7 2278.0,213.6 2279.0,218.3 2280.0,214.7 2281.0,215.9 2282.0,218.2 2283.0,215.2 2284.0,219.7 2285.0,221.2 2286.0,221.5 2287.0,221.9 2288.0,226.3 2289.0,219.3 2290.0,219.6 2291.0,217.8 2292.0,220.1 2293.0,214.3 2294.0,223.5 2295.0,218.2 2296.0,222.8 2297.0,221.9 2298.0,222.4 2299.0,215.6 2300.0,219.3 2301.0,218.2 2302.0,212.3 2303.0,212.9 2304.0,211.0 2305.0,219.6 2306.0,222.8 2307.0,222.3 2308.0,218.7 2309.0,220.9 2310.0,220.7 2311.0,222.9 2312.0,226.2 2313.0,221.3 2314.0,224.0 2315.0,217.6 2316.0,224.7 2317.0,218.9"/>
<polyline clip-path="url(#c0)" fill="none" stroke="#D95319" stroke-width="6.6" stroke-linejoin="round" stroke-linecap="round" points="288.0,240.0 288.5,62.0 289.5,190.0 290.5,64.0 291.5,193.0 292.5,68.0 293.5,193.0 294.5,80.0 295.5,193.0 296.5,100.0 297.5,200.0 298.5,150.0 300.0,250.0 302.4,289.0 304.0,241.7 305.0,219.8 306.0,199.8 307.0,187.8 308.0,179.9 309.0,176.0 310.0,172.9 311.0,170.8 312.0,173.9 313.0,175.7 314.0,178.2 315.0,182.9 316.0,189.2 317.0,192.5 318.0,193.2 319.0,203.3 320.0,215.7 321.0,225.3 322.0,228.6 323.0,232.8 324.0,244.7 325.0,249.1 326.0,254.5 327.0,258.7 328.0,255.2 329.0,253.0 330.0,254.4 331.0,249.6 332.0,251.4 333.0,249.7 334.0,250.3 335.0,252.3 336.0,252.1 337.0,249.8 338.0,251.1 339.0,250.5 340.0,249.8 341.0,253.2 342.0,245.7 343.0,251.5 344.0,246.8 345.0,241.5 346.0,246.3 347.0,245.7 348.0,249.7 349.0,245.6 350.0,250.0 351.0,249.5 352.0,240.9 353.0,244.3 354.0,247.8 355.0,248.2 356.0,248.1 357.0,245.8 358.0,246.9 359.0,243.5 360.0,245.0 361.0,239.4 362.0,243.1 363.0,241.5 364.0,237.9 365.0,246.0 366.0,240.9 367.0,245.9 368.0,251.8 369.0,244.1 370.0,245.6 371.0,250.0 372.0,241.9 373.0,242.7 374.0,245.2 375.0,244.2 376.0,243.8 377.0,242.4 378.0,246.2 379.0,243.1 380.0,242.2 381.0,240.4 382.0,238.4 383.0,232.9 384.0,241.2 385.0,233.1 386.0,239.9 387.0,243.5 388.0,235.8 389.0,235.7 390.0,235.4 391.0,236.8 392.0,231.4 393.0,233.2 394.0,232.9 395.0,233.8 396.0,239.8 397.0,232.2 398.0,235.1 399.0,234.8 400.0,234.1 401.0,227.7 402.0,234.1 403.0,232.5 404.0,233.5 405.0,230.0 406.0,223.5 407.0,225.6 408.0,229.8 409.0,229.5 410.0,230.2 411.0,236.0 412.0,238.2 413.0,233.3 414.0,239.0 415.0,227.2 416.0,225.4 417.0,234.6 418.0,233.0 419.0,235.0 420.0,237.0 421.0,234.0 422.0,236.5 423.0,235.2 424.0,229.5 425.0,236.3 426.0,236.0 427.0,239.9 428.0,230.4 429.0,236.2 430.0,237.2 431.0,237.3 432.0,241.6 433.0,238.9 434.0,237.0 435.0,238.7 436.0,241.8 437.0,236.1 438.0,241.5 439.0,246.9 440.0,246.2 441.0,242.6 442.0,242.2 443.0,244.4 444.0,239.0 445.0,246.0 446.0,245.6 447.0,245.2 448.0,239.8 449.0,240.8 450.0,245.3 451.0,245.1 452.0,242.1 453.0,245.8 454.0,244.2 455.0,240.6 456.0,242.7 457.0,243.1 458.0,241.8 459.0,247.8 460.0,247.0 461.0,246.1 462.0,240.6 463.0,239.3 464.0,241.5 465.0,239.7 466.0,239.4 467.0,240.0 468.0,242.1 469.0,245.0 470.0,244.2 471.0,242.9 472.0,239.6 473.0,240.3 474.0,239.6 475.0,241.8 476.0,237.8 477.0,237.9 478.0,238.1 479.0,242.5 480.0,243.1 481.0,244.4 482.0,243.3 483.0,244.7 484.0,241.7 485.0,249.9 486.0,244.5 487.0,243.5 488.0,245.8 489.0,242.4 490.0,239.7 491.0,245.2 492.0,249.8 493.0,242.2 494.0,243.9 495.0,244.6 496.0,239.6 497.0,240.5 498.0,242.3 499.0,241.8 500.0,239.1 501.0,246.1 502.0,240.2 503.0,241.7 504.0,245.2 505.0,246.8 506.0,238.1 507.0,240.4 508.0,246.8 509.0,240.1 510.0,241.4 511.0,239.1 512.0,237.7 513.0,237.6 514.0,241.2 515.0,244.7 516.0,245.6 517.0,240.5 518.0,234.7 519.0,240.7 520.0,240.8 521.0,243.2 522.0,241.0 523.0,234.0 524.0,240.2 525.0,233.2 526.0,236.8 527.0,239.9 528.0,239.1 529.0,242.2 530.0,228.2 531.0,238.3 532.0,238.9 533.0,235.4 534.0,238.5 535.0,233.1 536.0,236.8 537.0,237.9 538.0,233.1 539.0,232.9 540.0,234.8 541.0,233.5 542.0,238.4 543.0,235.3 544.0,239.4 545.0,237.6 546.0,234.9 547.0,235.6 548.0,231.3 549.0,231.3 550.0,229.1 551.0,233.5 552.0,229.3 553.0,232.4 554.0,235.0 555.0,236.3 556.0,238.8 557.0,243.9 558.0,244.7 559.0,239.5 560.0,245.0 561.0,246.6 562.0,245.5 563.0,249.6 564.0,245.5 565.0,248.5 566.0,249.6 567.0,242.4 568.0,243.7 569.0,244.2 570.0,246.6 571.0,244.2 572.0,248.4 573.0,249.1 574.0,249.0 575.0,245.7 576.0,243.0 577.0,243.3 578.0,251.6 579.0,248.9 580.0,244.2 581.0,247.4 582.0,247.5 583.0,243.5 584.0,251.0 585.0,247.4 586.0,248.3 587.0,252.2 588.0,248.9 589.0,250.9 590.0,249.9 591.0,249.6 592.0,250.1 593.0,257.8 594.0,253.1 595.0,257.7 596.0,251.4 597.0,254.9 598.0,253.2 599.0,251.0 600.0,245.1 601.0,257.8 602.0,249.8 603.0,248.5 604.0,251.0 605.0,248.7 606.0,251.5 607.0,246.9 608.0,243.2 609.0,250.6 610.0,244.2 611.0,246.6 612.0,248.6 613.0,248.6 614.0,246.0 615.0,244.9 616.0,244.3 617.0,241.6 618.0,245.1 619.0,244.0 620.0,242.3 621.0,245.7 622.0,243.7 623.0,251.0 624.0,249.8 625.0,238.6 626.0,242.9 627.0,240.0 628.0,242.5 629.0,240.2 630.0,240.4 631.0,236.5 632.0,241.3 633.0,238.1 634.0,233.6 635.0,237.5 636.0,237.6 637.0,236.6 638.0,234.9 639.0,242.8 640.0,236.8 641.0,242.1 642.0,239.0 643.0,245.0 644.0,237.1 645.0,239.8 646.0,238.3 647.0,243.8 648.0,244.9 649.0,234.5 650.0,236.3 651.0,238.5 652.0,237.9 653.0,234.2 654.0,242.1 655.0,239.2 656.0,243.1 657.0,239.4 658.0,236.5 659.0,239.3 660.0,244.1 661.0,235.5 662.0,238.9 663.0,240.1 664.0,241.6 665.0,242.6 666.0,238.3 667.0,248.3 668.0,242.6 669.0,244.3 670.0,242.9 671.0,241.9 672.0,240.3 673.0,243.9 674.0,246.8 675.0,237.9 676.0,236.7 677.0,246.4 678.0,244.9 679.0,246.1 680.0,250.2 681.0,242.9 682.0,242.9 683.0,244.5 684.0,248.4 685.0,246.5 686.0,243.3 687.0,241.2 688.0,241.9 689.0,238.5 690.0,244.3 691.0,242.2 692.0,242.8 693.0,242.7 694.0,247.0 695.0,243.4 696.0,243.2 697.0,246.4 698.0,244.4 699.0,245.7 700.0,247.9 701.0,243.7 702.0,247.3 703.0,244.0 704.0,243.9 705.0,241.4 706.0,239.9 707.0,238.4 708.0,240.5 709.0,236.3 710.0,241.9 711.0,241.3 712.0,241.1 713.0,237.3 714.0,236.5 715.0,239.1 716.0,243.2 717.0,239.2 718.0,238.9 719.0,233.9 720.0,239.7 721.0,229.5 722.0,242.1 723.0,237.5 724.0,238.3 725.0,233.4 726.0,233.3 727.0,239.5 728.0,236.2 729.0,239.1 730.0,241.0 731.0,238.2 732.0,229.4 733.0,230.2 734.0,231.3 735.0,233.1 736.0,229.5 737.0,228.2 738.0,231.3 739.0,231.8 740.0,236.7 741.0,233.3 742.0,236.1 743.0,227.4 744.0,228.3 745.0,232.0 746.0,228.4 747.0,227.8 748.0,234.5 749.0,233.8 750.0,232.2 751.0,227.3 752.0,228.8 753.0,230.2 754.0,230.0 755.0,230.6 756.0,227.5 757.0,231.1 758.0,223.4 759.0,232.7 760.0,233.9 761.0,229.5 762.0,231.3 763.0,224.7 764.0,230.3 765.0,225.1 766.0,231.0 767.0,233.5 768.0,229.0 769.0,232.8 770.0,233.5 771.0,244.4 772.0,237.1 773.0,235.9 774.0,236.4 775.0,235.6 776.0,236.0 777.0,235.3 778.0,238.5 779.0,244.5 780.0,239.7 781.0,236.6 782.0,232.2 783.0,236.8 784.0,235.6 785.0,233.8 786.0,238.7 787.0,235.3 788.0,234.8 789.0,236.6 790.0,234.2 791.0,238.9 792.0,234.0 793.0,233.4 794.0,237.3 795.0,238.4 796.0,244.0 797.0,241.4 798.0,241.3 799.0,240.1 800.0,241.6 801.0,237.8 802.0,241.0 803.0,239.5 804.0,245.2 805.0,242.0 806.0,245.5 807.0,238.5 808.0,240.9 809.0,243.5 810.0,239.4 811.0,241.9 812.0,231.8 813.0,237.7 814.0,238.1 815.0,239.0 816.0,235.3 817.0,240.4 818.0,230.2 819.0,239.7 820.0,237.1 821.0,237.3 822.0,237.6 823.0,233.4 824.0,238.0 825.0,241.9 826.0,244.4 827.0,240.9 828.0,243.3 829.0,242.0 830.0,244.5 831.0,235.8 832.0,238.7 833.0,243.9 834.0,243.8 835.0,240.4 836.0,242.3 837.0,240.1 838.0,238.9 839.0,237.5 840.0,237.7 841.0,236.2 842.0,237.8 843.0,242.5 844.0,234.6 845.0,238.6 846.0,241.0 847.0,237.0 848.0,243.9 849.0,235.5 850.0,243.2 851.0,240.9 852.0,237.2 853.0,239.7 854.0,243.5 855.0,237.4 856.0,239.9 857.0,237.7 858.0,237.0 859.0,241.4 860.0,239.3 861.0,243.7 862.0,244.8 863.0,237.7 864.0,237.2 865.0,238.5 866.0,242.8 867.0,239.5 868.0,237.9 869.0,239.2 870.0,243.6 871.0,236.0 872.0,237.1 873.0,235.7 874.0,239.3 875.0,243.4 876.0,233.2 877.0,234.1 878.0,238.9 879.0,238.0 880.0,229.3 881.0,234.7 882.0,238.8 883.0,234.9 884.0,235.8 885.0,235.5 886.0,236.1 887.0,234.7 888.0,236.1 889.0,239.2 890.0,233.7 891.0,236.9 892.0,241.6 893.0,234.5 894.0,236.0 895.0,235.0 896.0,233.9 897.0,243.5 898.0,240.0 899.0,242.6 900.0,240.9 901.0,238.3 902.0,236.8 903.0,236.4 904.0,235.6 905.0,239.4 906.0,233.8 907.0,236.9 908.0,239.2 909.0,236.6 910.0,235.6 911.0,239.6 912.0,238.3 913.0,233.6 914.0,233.0 915.0,231.8 916.0,234.0 917.0,231.4 918.0,227.9 919.0,232.0 920.0,234.9 921.0,234.6 922.0,233.1 923.0,241.6 924.0,241.8 925.0,241.4 926.0,242.4 927.0,236.6 928.0,237.3 929.0,235.0 930.0,236.9 931.0,239.0 932.0,239.4 933.0,240.8 934.0,238.9 935.0,240.4 936.0,235.6 937.0,243.8 938.0,240.9 939.0,231.9 940.0,228.5 941.0,239.5 942.0,232.5 943.0,237.6 944.0,233.1 945.0,237.7 946.0,234.4 947.0,236.8 948.0,232.9 949.0,239.8 950.0,234.8 951.0,240.2 952.0,235.4 953.0,237.3 954.0,231.5 955.0,231.2 956.0,238.2 957.0,233.4 958.0,236.7 959.0,235.0 960.0,233.8 961.0,236.7 962.0,230.1 963.0,230.3 964.0,236.9 965.0,233.8 966.0,237.0 967.0,236.3 968.0,238.8 969.0,235.6 970.0,227.6 971.0,232.7 972.0,233.5 973.0,239.1 974.0,237.9 975.0,234.6 976.0,236.1 977.0,233.1 978.0,235.5 979.0,234.5 980.0,237.5 981.0,234.2 982.0,236.2 983.0,233.4 984.0,236.7 985.0,235.5 986.0,240.3 987.0,240.6 988.0,239.6 989.0,238.3 990.0,238.0 991.0,240.3 992.0,231.9 993.0,241.4 994.0,230.0 995.0,236.5 996.0,235.0 997.0,237.4 998.0,235.8 999.0,238.6 1000.0,238.6 1001.0,241.8 1002.0,243.8 1003.0,239.2 1004.0,231.9 1005.0,237.6 1006.0,238.7 1007.0,245.1 1008.0,234.8 1009.0,235.8 1010.0,236.5 1011.0,236.1 1012.0,230.9 1013.0,238.8 1014.0,232.3 1015.0,235.8 1016.0,238.9 1017.0,233.6 1018.0,235.3 1019.0,241.3 1020.0,235.6 1021.0,233.4 1022.0,232.9 1023.0,237.0 1024.0,231.1 1025.0,232.1 1026.0,231.4 1027.0,231.2 1028.0,237.7 1029.0,233.7 1030.0,234.4 1031.0,236.5 1032.0,233.0 1033.0,232.4 1034.0,239.8 1035.0,240.5 1036.0,234.9 1037.0,238.4 1038.0,239.8 1039.0,236.5 1040.0,237.8 1041.0,233.7 1042.0,236.7 1043.0,231.5 1044.0,237.4 1045.0,235.5 1046.0,240.7 1047.0,232.2 1048.0,237.2 1049.0,230.9 1050.0,236.4 1051.0,239.2 1052.0,240.1 1053.0,240.5 1054.0,236.2 1055.0,242.9 1056.0,239.0 1057.0,240.1 1058.0,241.3 1059.0,238.0 1060.0,238.4 1061.0,246.0 1062.0,235.3 1063.0,238.3 1064.0,236.9 1065.0,243.6 1066.0,238.3 1067.0,234.2 1068.0,235.9 1069.0,233.9 1070.0,231.1 1071.0,228.8 1072.0,234.6 1073.0,234.1 1074.0,236.2 1075.0,234.3 1076.0,236.2 1077.0,240.3 1078.0,233.2 1079.0,231.4 1080.0,238.0 1081.0,244.1 1082.0,235.9 1083.0,232.4 1084.0,235.0 1085.0,236.5 1086.0,239.8 1087.0,234.8 1088.0,235.2 1089.0,235.5 1090.0,230.1 1091.0,230.5 1092.0,238.7 1093.0,240.4 1094.0,237.6 1095.0,243.5 1096.0,242.0 1097.0,239.4 1098.0,241.7 1099.0,239.4 1100.0,238.4 1101.0,238.0 1102.0,237.0 1103.0,230.0 1104.0,235.5 1105.0,231.5 1106.0,230.3 1107.0,234.4 1108.0,227.4 1109.0,235.4 1110.0,232.4 1111.0,233.2 1112.0,234.4 1113.0,241.5 1114.0,237.7 1115.0,231.3 1116.0,235.7 1117.0,237.1 1118.0,229.8 1119.0,231.0 1120.0,237.1 1121.0,235.5 1122.0,235.1 1123.0,240.2 1124.0,240.0 1125.0,238.6 1126.0,243.6 1127.0,239.7 1128.0,245.2 1129.0,239.1 1130.0,237.4 1131.0,239.1 1132.0,240.1 1133.0,241.4 1134.0,237.9 1135.0,233.2 1136.0,233.3 1137.0,235.1 1138.0,238.6 1139.0,239.8 1140.0,228.3 1141.0,235.7 1142.0,233.5 1143.0,234.6 1144.0,237.1 1145.0,232.8 1146.0,233.3 1147.0,238.3 1148.0,238.0 1149.0,234.5 1150.0,233.6 1151.0,233.3 1152.0,229.5 1153.0,237.2 1154.0,235.3 1155.0,232.7 1156.0,233.7 1157.0,239.7 1158.0,234.3 1159.0,233.0 1160.0,232.7 1161.0,235.2 1162.0,236.5 1163.0,229.7 1164.0,231.8 1165.0,231.8 1166.0,234.8 1167.0,233.5 1168.0,227.8 1169.0,235.6 1170.0,232.7 1171.0,224.0 1172.0,230.4 1173.0,229.5 1174.0,229.7 1175.0,227.3 1176.0,228.9 1177.0,229.8 1178.0,227.4 1179.0,230.4 1180.0,232.0 1181.0,232.8 1182.0,235.6 1183.0,232.5 1184.0,224.7 1185.0,232.6 1186.0,228.0 1187.0,225.8 1188.0,227.6 1189.0,223.3 1190.0,226.3 1191.0,222.8 1192.0,231.5 1193.0,223.7 1194.0,222.3 1195.0,223.7 1196.0,218.4 1197.0,222.7 1198.0,221.7 1199.0,220.7 1200.0,216.3 1201.0,224.0 1202.0,228.0 1203.0,223.0 1204.0,225.5 1205.0,225.9 1206.0,221.2 1207.0,222.6 1208.0,227.4 1209.0,225.3 1210.0,222.1 1211.0,221.7 1212.0,231.6 1213.0,224.9 1214.0,218.2 1215.0,223.4 1216.0,222.8 1217.0,222.6 1218.0,215.3 1219.0,226.4 1220.0,222.6 1221.0,219.8 1222.0,223.4 1223.0,219.1 1224.0,219.8 1225.0,223.1 1226.0,213.2 1227.0,223.1 1228.0,219.6 1229.0,221.5 1230.0,221.9 1231.0,223.3 1232.0,224.9 1233.0,223.5 1234.0,219.2 1235.0,223.1 1236.0,218.7 1237.0,219.3 1238.0,222.3 1239.0,222.2 1240.0,223.7 1241.0,215.0 1242.0,221.7 1243.0,222.2 1244.0,221.6 1245.0,223.7 1246.0,216.9 1247.0,221.4 1248.0,219.1 1249.0,220.1 1250.0,218.5 1251.0,221.9 1252.0,222.3 1253.0,220.1 1254.0,218.6 1255.0,216.7 1256.0,225.1 1257.0,218.5 1258.0,219.3 1259.0,222.2 1260.0,220.2 1261.0,225.9 1262.0,225.8 1263.0,227.5 1264.0,225.6 1265.0,225.9 1266.0,223.6 1267.0,226.7 1268.0,226.2 1269.0,224.7 1270.0,220.4 1271.0,223.7 1272.0,225.1 1273.0,227.2 1274.0,221.3 1275.0,230.3 1276.0,224.3 1277.0,224.0 1278.0,222.0 1279.0,221.7 1280.0,228.6 1281.0,220.0 1282.0,222.0 1283.0,221.3 1284.0,223.0 1285.0,228.2 1286.0,223.6 1287.0,225.6 1288.0,221.1 1289.0,226.7 1290.0,225.2 1291.0,223.9 1292.0,225.1 1293.0,229.2 1294.0,226.9 1295.0,225.9 1296.0,226.2 1297.0,224.6 1298.0,232.1 1299.0,223.4 1300.0,232.1 1301.0,231.2 1302.0,231.0 1303.0,234.7 1304.0,230.3 1305.0,235.2 1306.0,228.2 1307.0,231.2 1308.0,233.7 1309.0,228.8 1310.0,237.8 1311.0,232.3 1312.0,225.0 1313.0,234.2 1314.0,236.8 1315.0,229.9 1316.0,232.8 1317.0,234.5 1318.0,229.6 1319.0,233.7 1320.0,236.0 1321.0,232.2 1322.0,235.3 1323.0,237.9 1324.0,225.8 1325.0,226.9 1326.0,230.3 1327.0,232.3 1328.0,234.1 1329.0,231.4 1330.0,229.9 1331.0,232.5 1332.0,239.0 1333.0,230.7 1334.0,230.0 1335.0,231.9 1336.0,230.0 1337.0,230.0 1338.0,237.6 1339.0,235.3 1340.0,234.5 1341.0,232.8 1342.0,237.4 1343.0,235.8 1344.0,236.9 1345.0,240.7 1346.0,239.6 1347.0,230.4 1348.0,231.7 1349.0,233.1 1350.0,235.6 1351.0,238.0 1352.0,239.0 1353.0,234.9 1354.0,232.5 1355.0,234.1 1356.0,232.8 1357.0,240.2 1358.0,239.5 1359.0,237.1 1360.0,239.5 1361.0,232.5 1362.0,231.6 1363.0,231.4 1364.0,236.7 1365.0,238.9 1366.0,237.5 1367.0,236.8 1368.0,234.7 1369.0,237.6 1370.0,236.9 1371.0,240.4 1372.0,235.5 1373.0,237.3 1374.0,238.5 1375.0,240.3 1376.0,235.5 1377.0,234.7 1378.0,233.5 1379.0,232.4 1380.0,239.6 1381.0,237.4 1382.0,230.6 1383.0,233.8 1384.0,237.6 1385.0,234.2 1386.0,232.7 1387.0,238.0 1388.0,234.4 1389.0,232.9 1390.0,236.2 1391.0,232.8 1392.0,235.5 1393.0,235.3 1394.0,238.4 1395.0,236.0 1396.0,241.7 1397.0,238.8 1398.0,241.2 1399.0,239.8 1400.0,234.9 1401.0,233.8 1402.0,232.6 1403.0,237.1 1404.0,235.5 1405.0,239.0 1406.0,235.2 1407.0,234.2 1408.0,239.9 1409.0,236.0 1410.0,238.9 1411.0,242.5 1412.0,238.8 1413.0,234.7 1414.0,236.8 1415.0,241.9 1416.0,240.2 1417.0,239.8 1418.0,240.0 1419.0,232.0 1420.0,238.0 1421.0,233.6 1422.0,234.8 1423.0,235.5 1424.0,238.7 1425.0,240.8 1426.0,239.7 1427.0,238.7 1428.0,236.7 1429.0,239.7 1430.0,238.0 1431.0,233.4 1432.0,238.8 1433.0,237.2 1434.0,234.2 1435.0,235.9 1436.0,239.6 1437.0,234.3 1438.0,236.8 1439.0,237.0 1440.0,233.8 1441.0,235.5 1442.0,232.5 1443.0,232.5 1444.0,232.0 1445.0,238.0 1446.0,234.5 1447.0,239.1 1448.0,234.7 1449.0,236.6 1450.0,238.0 1451.0,238.5 1452.0,232.0 1453.0,234.6 1454.0,235.8 1455.0,234.1 1456.0,233.0 1457.0,235.1 1458.0,231.9 1459.0,228.6 1460.0,232.8 1461.0,234.3 1462.0,228.4 1463.0,239.9 1464.0,235.5 1465.0,236.2 1466.0,230.2 1467.0,231.3 1468.0,237.5 1469.0,238.1 1470.0,234.8 1471.0,230.6 1472.0,230.7 1473.0,231.7 1474.0,226.7 1475.0,224.0 1476.0,225.4 1477.0,228.8 1478.0,225.9 1479.0,229.1 1480.0,231.2 1481.0,233.3 1482.0,233.1 1483.0,236.4 1484.0,233.6 1485.0,227.8 1486.0,234.6 1487.0,232.9 1488.0,234.0 1489.0,234.1 1490.0,234.1 1491.0,227.7 1492.0,233.1 1493.0,236.2 1494.0,237.6 1495.0,233.9 1496.0,229.6 1497.0,232.6 1498.0,235.3 1499.0,239.7 1500.0,230.2 1501.0,234.6 1502.0,237.1 1503.0,237.6 1504.0,235.4 1505.0,227.0 1506.0,237.4 1507.0,235.5 1508.0,236.7 1509.0,233.3 1510.0,235.8 1511.0,240.4 1512.0,235.5 1513.0,236.5 1514.0,233.9 1515.0,241.6 1516.0,234.1 1517.0,236.8 1518.0,237.8 1519.0,237.3 1520.0,239.7 1521.0,236.4 1522.0,238.8 1523.0,234.4 1524.0,235.9 1525.0,234.9 1526.0,229.7 1527.0,239.5 1528.0,235.6 1529.0,241.6 1530.0,242.7 1531.0,241.0 1532.0,238.8 1533.0,237.0 1534.0,232.1 1535.0,239.7 1536.0,239.7 1537.0,244.0 1538.0,238.9 1539.0,243.1 1540.0,238.2 1541.0,239.8 1542.0,236.5 1543.0,238.0 1544.0,234.5 1545.0,237.8 1546.0,238.8 1547.0,242.4 1548.0,239.3 1549.0,236.3 1550.0,244.5 1551.0,242.3 1552.0,246.1 1553.0,238.9 1554.0,233.3 1555.0,241.2 1556.0,239.1 1557.0,239.3 1558.0,233.2 1559.0,236.0 1560.0,232.6 1561.0,238.7 1562.0,234.9 1563.0,241.7 1564.0,239.6 1565.0,239.6 1566.0,236.8 1567.0,236.6 1568.0,238.5 1569.0,233.3 1570.0,240.5 1571.0,235.7 1572.0,242.4 1573.0,246.7 1574.0,242.6 1575.0,233.4 1576.0,240.1 1577.0,236.6 1578.0,237.0 1579.0,238.3 1580.0,236.7 1581.0,240.5 1582.0,236.0 1583.0,240.4 1584.0,237.8 1585.0,229.1 1586.0,237.2 1587.0,236.2 1588.0,238.8 1589.0,239.4 1590.0,240.3 1591.0,237.3 1592.0,234.6 1593.0,239.7 1594.0,241.0 1595.0,239.8 1596.0,242.3 1597.0,239.5 1598.0,237.4 1599.0,240.4 1600.0,242.0 1601.0,245.6 1602.0,243.5 1603.0,246.3 1604.0,246.9 1605.0,242.9 1606.0,240.9 1607.0,243.4 1608.0,243.4 1609.0,243.1 1610.0,243.5 1611.0,244.1 1612.0,238.7 1613.0,244.0 1614.0,240.4 1615.0,243.7 1616.0,247.2 1617.0,242.9 1618.0,244.8 1619.0,254.0 1620.0,244.6 1621.0,244.5 1622.0,243.9 1623.0,244.5 1624.0,248.9 1625.0,243.1 1626.0,242.5 1627.0,241.1 1628.0,237.3 1629.0,246.8 1630.0,242.9 1631.0,244.7 1632.0,249.5 1633.0,244.9 1634.0,245.7 1635.0,244.0 1636.0,247.3 1637.0,239.3 1638.0,242.1 1639.0,239.5 1640.0,246.2 1641.0,247.7 1642.0,246.1 1643.0,254.4 1644.0,251.2 1645.0,252.3 1646.0,248.4 1647.0,252.6 1648.0,244.4 1649.0,247.5 1650.0,245.6 1651.0,243.2 1652.0,247.7 1653.0,246.1 1654.0,242.0 1655.0,243.1 1656.0,243.0 1657.0,244.7 1658.0,246.8 1659.0,243.5 1660.0,243.8 1661.0,244.2 1662.0,242.9 1663.0,244.9 1664.0,248.3 1665.0,243.2 1666.0,249.4 1667.0,247.6 1668.0,240.8 1669.0,244.7 1670.0,238.2 1671.0,242.0 1672.0,239.1 1673.0,239.8 1674.0,237.6 1675.0,243.2 1676.0,242.2 1677.0,238.2 1678.0,240.4 1679.0,244.1 1680.0,244.2 1681.0,237.1 1682.0,245.0 1683.0,238.6 1684.0,240.6 1685.0,242.0 1686.0,245.2 1687.0,244.3 1688.0,244.2 1689.0,245.9 1690.0,244.1 1691.0,241.9 1692.0,246.5 1693.0,243.2 1694.0,239.1 1695.0,238.3 1696.0,242.3 1697.0,245.4 1698.0,244.1 1699.0,242.3 1700.0,246.4 1701.0,239.4 1702.0,244.3 1703.0,241.9 1704.0,245.9 1705.0,238.8 1706.0,243.7 1707.0,239.3 1708.0,238.8 1709.0,240.0 1710.0,237.7 1711.0,241.1 1712.0,239.0 1713.0,234.1 1714.0,243.5 1715.0,243.9 1716.0,238.8 1717.0,240.1 1718.0,239.7 1719.0,237.6 1720.0,233.7 1721.0,237.2 1722.0,239.2 1723.0,242.9 1724.0,236.2 1725.0,235.2 1726.0,241.2 1727.0,235.2 1728.0,235.7 1729.0,234.3 1730.0,243.0 1731.0,238.6 1732.0,239.5 1733.0,241.1 1734.0,239.2 1735.0,240.4 1736.0,239.0 1737.0,242.3 1738.0,238.7 1739.0,238.5 1740.0,234.0 1741.0,235.6 1742.0,235.7 1743.0,235.0 1744.0,237.9 1745.0,242.5 1746.0,241.1 1747.0,238.1 1748.0,238.9 1749.0,240.9 1750.0,233.3 1751.0,238.1 1752.0,244.9 1753.0,245.4 1754.0,242.7 1755.0,240.8 1756.0,232.6 1757.0,237.0 1758.0,237.1 1759.0,237.1 1760.0,238.2 1761.0,229.6 1762.0,233.1 1763.0,239.1 1764.0,234.8 1765.0,235.6 1766.0,235.7 1767.0,235.6 1768.0,236.8 1769.0,241.4 1770.0,243.1 1771.0,239.0 1772.0,235.7 1773.0,237.4 1774.0,237.6 1775.0,239.0 1776.0,232.5 1777.0,235.3 1778.0,234.9 1779.0,239.2 1780.0,234.7 1781.0,231.8 1782.0,237.1 1783.0,236.0 1784.0,234.9 1785.0,239.2 1786.0,235.2 1787.0,235.3 1788.0,235.8 1789.0,233.8 1790.0,237.2 1791.0,230.7 1792.0,235.3 1793.0,239.9 1794.0,236.0 1795.0,237.5 1796.0,238.4 1797.0,236.8 1798.0,240.6 1799.0,237.7 1800.0,239.5 1801.0,234.9 1802.0,237.4 1803.0,237.7 1804.0,237.8 1805.0,241.2 1806.0,235.1 1807.0,236.5 1808.0,246.5 1809.0,239.8 1810.0,238.0 1811.0,240.0 1812.0,234.5 1813.0,240.9 1814.0,235.5 1815.0,237.2 1816.0,236.3 1817.0,240.7 1818.0,239.0 1819.0,242.0 1820.0,241.8 1821.0,235.9 1822.0,239.6 1823.0,236.5 1824.0,236.7 1825.0,241.7 1826.0,241.1 1827.0,235.0 1828.0,235.2 1829.0,236.1 1830.0,238.8 1831.0,238.8 1832.0,235.4 1833.0,238.8 1834.0,236.5 1835.0,237.1 1836.0,239.0 1837.0,240.5 1838.0,244.3 1839.0,241.6 1840.0,240.3 1841.0,237.5 1842.0,241.1 1843.0,240.0 1844.0,240.4 1845.0,238.5 1846.0,243.9 1847.0,242.5 1848.0,241.2 1849.0,240.7 1850.0,240.7 1851.0,243.4 1852.0,235.9 1853.0,237.0 1854.0,235.6 1855.0,239.3 1856.0,235.0 1857.0,240.2 1858.0,230.9 1859.0,241.9 1860.0,237.4 1861.0,240.4 1862.0,235.9 1863.0,242.5 1864.0,237.6 1865.0,238.1 1866.0,232.0 1867.0,239.1 1868.0,236.9 1869.0,232.6 1870.0,237.0 1871.0,234.3 1872.0,239.4 1873.0,236.4 1874.0,237.9 1875.0,241.8 1876.0,232.9 1877.0,242.0 1878.0,236.9 1879.0,235.6 1880.0,231.8 1881.0,230.8 1882.0,238.3 1883.0,233.9 1884.0,233.3 1885.0,238.7 1886.0,238.7 1887.0,237.4 1888.0,232.0 1889.0,230.2 1890.0,237.8 1891.0,237.7 1892.0,235.0 1893.0,241.5 1894.0,233.8 1895.0,236.9 1896.0,241.6 1897.0,237.7 1898.0,234.3 1899.0,234.8 1900.0,242.0 1901.0,235.4 1902.0,241.6 1903.0,243.7 1904.0,234.5 1905.0,236.4 1906.0,235.3 1907.0,239.0 1908.0,234.3 1909.0,230.1 1910.0,233.4 1911.0,235.6 1912.0,232.7 1913.0,236.0 1914.0,232.4 1915.0,234.6 1916.0,239.4 1917.0,231.2 1918.0,236.4 1919.0,234.9 1920.0,234.3 1921.0,237.9 1922.0,236.7 1923.0,232.8 1924.0,237.5 1925.0,237.4 1926.0,231.0 1927.0,236.6 1928.0,237.1 1929.0,239.6 1930.0,241.3 1931.0,235.5 1932.0,235.3 1933.0,233.4 1934.0,234.1 1935.0,237.5 1936.0,229.1 1937.0,240.0 1938.0,239.5 1939.0,228.8 1940.0,228.4 1941.0,234.7 1942.0,233.2 1943.0,236.5 1944.0,235.1 1945.0,238.2 1946.0,230.8 1947.0,234.4 1948.0,233.7 1949.0,233.5 1950.0,231.3 1951.0,237.3 1952.0,238.8 1953.0,231.0 1954.0,232.1 1955.0,233.6 1956.0,230.1 1957.0,234.8 1958.0,235.8 1959.0,232.1 1960.0,228.1 1961.0,237.1 1962.0,232.0 1963.0,232.6 1964.0,232.4 1965.0,232.7 1966.0,228.1 1967.0,231.4 1968.0,233.8 1969.0,236.3 1970.0,238.5 1971.0,232.0 1972.0,237.2 1973.0,232.2 1974.0,234.9 1975.0,231.0 1976.0,235.5 1977.0,233.4 1978.0,239.8 1979.0,233.7 1980.0,237.9 1981.0,237.8 1982.0,239.1 1983.0,238.5 1984.0,236.6 1985.0,236.1 1986.0,240.1 1987.0,239.3 1988.0,234.8 1989.0,240.6 1990.0,234.4 1991.0,237.2 1992.0,238.0 1993.0,237.8 1994.0,238.6 1995.0,230.3 1996.0,240.3 1997.0,231.4 1998.0,240.7 1999.0,238.1 2000.0,231.1 2001.0,239.8 2002.0,236.3 2003.0,234.3 2004.0,241.9 2005.0,240.9 2006.0,239.0 2007.0,243.2 2008.0,240.6 2009.0,238.9 2010.0,243.4 2011.0,239.5 2012.0,242.0 2013.0,241.3 2014.0,239.0 2015.0,238.0 2016.0,240.5 2017.0,240.6 2018.0,237.7 2019.0,230.4 2020.0,238.4 2021.0,238.2 2022.0,245.5 2023.0,240.0 2024.0,243.9 2025.0,244.1 2026.0,244.6 2027.0,236.6 2028.0,243.5 2029.0,241.7 2030.0,239.6 2031.0,233.3 2032.0,240.6 2033.0,238.2 2034.0,238.6 2035.0,233.4 2036.0,236.4 2037.0,235.2 2038.0,231.3 2039.0,236.8 2040.0,227.8 2041.0,236.6 2042.0,236.4 2043.0,235.3 2044.0,231.2 2045.0,230.7 2046.0,234.7 2047.0,236.3 2048.0,232.2 2049.0,232.6 2050.0,230.3 2051.0,233.3 2052.0,228.7 2053.0,227.3 2054.0,224.6 2055.0,224.9 2056.0,226.0 2057.0,223.2 2058.0,227.9 2059.0,228.8 2060.0,225.3 2061.0,226.8 2062.0,227.8 2063.0,222.1 2064.0,230.6 2065.0,221.0 2066.0,233.0 2067.0,222.3 2068.0,227.8 2069.0,225.8 2070.0,226.7 2071.0,224.6 2072.0,229.3 2073.0,220.9 2074.0,228.0 2075.0,227.4 2076.0,231.5 2077.0,233.6 2078.0,227.3 2079.0,226.5 2080.0,226.6 2081.0,226.9 2082.0,226.6 2083.0,228.7 2084.0,225.9 2085.0,223.8 2086.0,227.7 2087.0,229.2 2088.0,226.0 2089.0,228.3 2090.0,219.2 2091.0,222.4 2092.0,216.7 2093.0,218.7 2094.0,222.6 2095.0,225.1 2096.0,220.0 2097.0,222.9 2098.0,221.4 2099.0,221.8 2100.0,222.3 2101.0,220.0 2102.0,214.0 2103.0,214.5 2104.0,220.2 2105.0,220.4 2106.0,226.3 2107.0,218.6 2108.0,220.6 2109.0,213.7 2110.0,213.1 2111.0,219.0 2112.0,223.5 2113.0,219.7 2114.0,217.3 2115.0,219.2 2116.0,220.0 2117.0,217.7 2118.0,216.5 2119.0,211.8 2120.0,213.8 2121.0,214.8 2122.0,217.8 2123.0,212.6 2124.0,223.4 2125.0,221.3 2126.0,218.5 2127.0,221.9 2128.0,226.1 2129.0,219.6 2130.0,220.9 2131.0,223.6 2132.0,217.2 2133.0,218.2 2134.0,217.0 2135.0,219.1 2136.0,210.3 2137.0,216.9 2138.0,214.5 2139.0,215.9 2140.0,215.6 2141.0,221.1 2142.0,214.6 2143.0,211.7 2144.0,216.6 2145.0,215.3 2146.0,218.6 2147.0,217.9 2148.0,216.0 2149.0,217.7 2150.0,213.8 2151.0,213.8 2152.0,224.9 2153.0,216.5 2154.0,222.2 2155.0,216.8 2156.0,219.6 2157.0,219.6 2158.0,222.5 2159.0,218.6 2160.0,214.2 2161.0,213.9 2162.0,218.1 2163.0,220.4 2164.0,222.6 2165.0,224.8 2166.0,214.2 2167.0,217.2 2168.0,216.4 2169.0,220.5 2170.0,220.3 2171.0,213.4 2172.0,222.3 2173.0,223.8 2174.0,221.7 2175.0,220.2 2176.0,229.1 2177.0,222.8 2178.0,217.5 2179.0,223.4 2180.0,226.8 2181.0,226.1 2182.0,221.0 2183.0,222.2 2184.0,223.7 2185.0,225.3 2186.0,223.6 2187.0,220.3 2188.0,225.1 2189.0,222.9 2190.0,215.6 2191.0,217.7 2192.0,221.4 2193.0,217.2 2194.0,219.5 2195.0,219.5 2196.0,218.6 2197.0,221.9 2198.0,225.3 2199.0,217.5 2200.0,223.5 2201.0,220.6 2202.0,226.3 2203.0,225.4 2204.0,220.5 2205.0,220.5 2206.0,223.3 2207.0,220.5 2208.0,216.6 2209.0,215.7 2210.0,218.6 2211.0,224.3 2212.0,221.6 2213.0,223.4 2214.0,224.1 2215.0,223.0 2216.0,225.4 2217.0,219.5 2218.0,223.2 2219.0,222.9 2220.0,223.5 2221.0,221.4 2222.0,214.7 2223.0,219.8 2224.0,215.6 2225.0,221.6 2226.0,216.4 2227.0,216.6 2228.0,217.1 2229.0,211.1 2230.0,216.4 2231.0,213.0 2232.0,220.4 2233.0,216.1 2234.0,214.5 2235.0,221.3 2236.0,217.3 2237.0,216.6 2238.0,218.6 2239.0,218.3 2240.0,218.3 2241.0,213.6 2242.0,219.0 2243.0,217.2 2244.0,220.3 2245.0,219.4 2246.0,213.9 2247.0,219.9 2248.0,215.5 2249.0,217.3 2250.0,211.1 2251.0,216.0 2252.0,221.5 2253.0,222.2 2254.0,213.3 2255.0,220.9 2256.0,218.8 2257.0,220.6 2258.0,213.9 2259.0,213.8 2260.0,219.7 2261.0,218.0 2262.0,218.1 2263.0,217.5 2264.0,222.9 2265.0,216.1 2266.0,221.2 2267.0,220.3 2268.0,215.9 2269.0,220.4 2270.0,219.2 2271.0,215.2 2272.0,213.7 2273.0,216.5 2274.0,211.8 2275.0,218.6 2276.0,220.5 2277.0,213.3 2278.0,213.0 2279.0,219.0 2280.0,215.2 2281.0,216.5 2282.0,217.3 2283.0,216.3 2284.0,219.8 2285.0,219.4 2286.0,220.9 2287.0,220.0 2288.0,222.8 2289.0,217.4 2290.0,219.0 2291.0,216.7 2292.0,218.3 2293.0,217.0 2294.0,223.4 2295.0,218.4 2296.0,222.6 2297.0,223.0 2298.0,223.5 2299.0,218.2 2300.0,221.4 2301.0,220.3 2302.0,213.4 2303.0,213.8 2304.0,212.0 2305.0,217.3 2306.0,220.7 2307.0,223.1 2308.0,217.9 2309.0,219.4 2310.0,222.1 2311.0,222.2 2312.0,223.9 2313.0,219.3 2314.0,223.5 2315.0,218.7 2316.0,224.6 2317.0,217.2"/>
<polyline clip-path="url(#c0)" fill="none" stroke="#EDB120" stroke-width="6.6" stroke-linejoin="round" stroke-linecap="round" points="289.5,592.0 290.0,200.0 291.0,270.0 292.5,195.0 294.0,272.0 295.5,193.0 297.0,274.0 298.5,193.0 300.0,270.0 301.5,158.0 303.0,274.0 304.5,160.0 306.0,272.0 307.5,165.0 309.0,274.0 310.5,170.0 312.0,265.0 313.5,180.0 315.0,240.0 316.5,150.5 317.5,142.9 318.5,148.3 319.5,146.3 320.5,125.3 321.5,116.2 322.5,110.2 323.5,116.5 324.5,121.2 325.5,131.2 326.5,144.2 327.5,155.4 328.5,165.0 329.5,174.3 330.5,180.2 331.5,191.2 332.5,210.9 333.5,231.7 334.5,251.9 335.5,265.5 336.5,278.8 337.5,291.6 338.5,304.1 339.5,311.3 340.5,328.3 341.5,338.3 342.5,341.4 343.5,342.6 344.5,353.6 345.5,351.6 346.5,348.3 347.5,345.2 348.5,337.3 349.5,332.9 350.5,327.3 351.5,329.2 352.5,331.2 353.5,334.1 354.5,337.2 355.5,343.4 356.5,346.7 357.5,348.3 358.5,345.5 359.5,339.9 360.5,330.0 361.5,330.0 362.5,322.3 363.5,316.9 364.5,311.7 365.5,312.4 366.5,307.9 367.5,297.7 368.5,295.8 369.5,295.0 370.5,289.6 371.5,287.6 372.5,280.0 373.5,278.8 374.5,274.1 375.5,271.8 376.5,273.1 377.5,270.9 378.5,265.7 379.5,266.3 380.5,258.4 381.5,262.7 382.5,255.9 383.5,253.8 384.5,251.5 385.5,250.4 386.5,249.8 387.5,248.6 388.5,246.4 389.5,247.0 390.5,236.7 391.5,238.5 392.5,246.4 393.5,235.7 394.5,241.6 395.5,237.7 396.5,237.3 397.5,231.9 398.5,235.0 399.5,229.4 400.5,228.5 401.5,231.5 402.5,231.9 403.5,235.9 404.5,229.6 405.5,233.2 406.5,230.7 407.5,230.1 408.5,233.2 409.5,232.4 410.5,231.0 411.5,231.6 412.5,233.8 413.5,232.9 414.5,232.7 415.5,233.1 416.5,234.5 417.5,231.4 418.5,235.6 419.5,237.8 420.5,236.4 421.5,233.9 422.5,231.5 423.5,237.7 424.5,236.0 425.5,238.4 426.5,236.1 427.5,237.1 428.5,238.5 429.5,242.7 430.5,237.4 431.5,242.4 432.5,238.5 433.5,241.1 434.5,241.5 435.5,240.0 436.5,241.2 437.5,241.3 438.5,235.6 439.5,242.7 440.5,240.9 441.5,241.6 442.5,240.7 443.5,238.4 444.5,235.5 445.5,232.5 446.5,236.2 447.5,233.4 448.5,240.6 449.5,234.1 450.5,234.9 451.5,242.1 452.5,233.8 453.5,232.2 454.5,237.2 455.5,239.3 456.5,237.8 457.5,235.7 458.5,239.3 459.5,238.9 460.5,235.2 461.5,235.9 462.5,232.4 463.5,229.3 464.5,232.9 465.5,240.1 466.5,229.3 467.5,238.0 468.5,233.5 469.5,234.4 470.5,237.9 471.5,232.2 472.5,232.7 473.5,226.9 474.5,227.1 475.5,227.5 476.5,235.4 477.5,232.0 478.5,236.0 479.5,225.7 480.5,226.3 481.5,229.6 482.5,230.7 483.5,232.2 484.5,231.4 485.5,233.2 486.5,226.5 487.5,224.3 488.5,225.3 489.5,225.8 490.5,226.0 491.5,227.8 492.5,224.9 493.5,224.4 494.5,225.0 495.5,225.4 496.5,233.8 497.5,223.8 498.5,227.5 499.5,224.2 500.5,234.3 501.5,226.4 502.5,223.6 503.5,224.4 504.5,224.2 505.5,225.9 506.5,222.3 507.5,223.7 508.5,225.1 509.5,230.7 510.5,228.9 511.5,230.3 512.5,220.6 513.5,226.0 514.5,230.4 515.5,224.3 516.5,224.4 517.5,230.0 518.5,230.3 519.5,232.5 520.5,233.7 521.5,237.4 522.5,226.9 523.5,231.9 524.5,228.0 525.5,234.4 526.5,230.4 527.5,225.0 528.5,232.8 529.5,231.2 530.5,233.8 531.5,225.9 532.5,228.3 533.5,227.8 534.5,224.2 535.5,225.6 536.5,223.4 537.5,228.6 538.5,225.4 539.5,232.9 540.5,233.5 541.5,233.1 542.5,237.2 543.5,235.3 544.5,235.6 545.5,229.9 546.5,233.5 547.5,231.5 548.5,230.5 549.5,238.1 550.5,231.6 551.5,228.6 552.5,231.6 553.5,226.3 554.5,231.4 555.5,231.3 556.5,241.4 557.5,237.4 558.5,234.1 559.5,235.7 560.5,235.6 561.5,238.4 562.5,239.9 563.5,241.9 564.5,237.8 565.5,233.4 566.5,237.3 567.5,238.5 568.5,242.6 569.5,240.7 570.5,245.2 571.5,241.7 572.5,244.7 573.5,240.5 574.5,236.5 575.5,240.4 576.5,233.2 577.5,240.6 578.5,240.1 579.5,237.2 580.5,248.7 581.5,242.2 582.5,238.8 583.5,243.4 584.5,252.9 585.5,241.6 586.5,244.0 587.5,243.3 588.5,244.1 589.5,243.7 590.5,235.7 591.5,237.5 592.5,241.3 593.5,234.9 594.5,235.7 595.5,244.6 596.5,242.4 597.5,240.6 598.5,240.4 599.5,235.4 600.5,240.9 601.5,234.7 602.5,234.2 603.5,236.7 604.5,241.9 605.5,237.2 606.5,235.0 607.5,235.1 608.5,239.1 609.5,237.5 610.5,233.4 611.5,237.8 612.5,238.6 613.5,237.7 614.5,235.5 615.5,237.8 616.5,240.7 617.5,235.4 618.5,240.6 619.5,237.1 620.5,237.0 621.5,238.8 622.5,233.8 623.5,237.3 624.5,236.8 625.5,239.7 626.5,234.2 627.5,245.5 628.5,245.7 629.5,241.3 630.5,237.3 631.5,238.9 632.5,241.7 633.5,237.2 634.5,235.3 635.5,242.5 636.5,241.0 637.5,239.9 638.5,235.9 639.5,238.7 640.5,235.5 641.5,234.0 642.5,240.3 643.5,242.8 644.5,247.4 645.5,248.2 646.5,250.0 647.5,248.8 648.5,241.8 649.5,248.0 650.5,248.1 651.5,247.0 652.5,243.8 653.5,241.2 654.5,243.1 655.5,247.2 656.5,250.0 657.5,252.5 658.5,250.3 659.5,253.6 660.5,248.7 661.5,251.5 662.5,250.8 663.5,257.8 664.5,251.7 665.5,254.7 666.5,261.4 667.5,259.9 668.5,253.6 669.5,254.7 670.5,256.9 671.5,258.0 672.5,260.5 673.5,257.6 674.5,260.7 675.5,258.6 676.5,259.4 677.5,257.2 678.5,255.6 679.5,248.6 680.5,256.9 681.5,254.4 682.5,257.6 683.5,250.4 684.5,257.3 685.5,259.4 686.5,262.1 687.5,258.3 688.5,259.5 689.5,260.5 690.5,256.1 691.5,263.7 692.5,256.8 693.5,252.8 694.5,258.5 695.5,252.1 696.5,255.5 697.5,258.8 698.5,252.8 699.5,262.5 700.5,258.8 701.5,261.9 702.5,255.0 703.5,259.8 704.5,252.6 705.5,260.2 706.5,254.7 707.5,257.7 708.5,253.7 709.5,262.3 710.5,249.9 711.5,256.6 712.5,255.8 713.5,251.4 714.5,256.5 715.5,257.4 716.5,257.6 717.5,255.0 718.5,256.8 719.5,257.5 720.5,259.1 721.5,258.0 722.5,258.4 723.5,258.3 724.5,258.3 725.5,259.4 726.5,250.2 727.5,254.7 728.5,255.2 729.5,257.8 730.5,256.4 731.5,258.8 732.5,255.2 733.5,252.7 734.5,255.7 735.5,261.2 736.5,256.6 737.5,255.8 738.5,253.8 739.5,258.3 740.5,261.3 741.5,254.4 742.5,258.0 743.5,258.0 744.5,250.5 745.5,258.6 746.5,259.4 747.5,258.4 748.5,261.6 749.5,260.5 750.5,261.0 751.5,261.4 752.5,263.8 753.5,264.3 754.5,259.6 755.5,257.1 756.5,259.6 757.5,262.0 758.5,254.6 759.5,259.0 760.5,258.4 761.5,255.5 762.5,261.8 763.5,258.7 764.5,259.0 765.5,261.3 766.5,255.6 767.5,262.5 768.5,265.2 769.5,264.6 770.5,251.9 771.5,256.3 772.5,257.5 773.5,258.4 774.5,252.7 775.5,259.3 776.5,257.9 777.5,255.5 778.5,254.2 779.5,253.8 780.5,256.8 781.5,258.8 782.5,260.1 783.5,255.1 784.5,252.8 785.5,256.5 786.5,253.3 787.5,250.7 788.5,252.1 789.5,253.1 790.5,250.2 791.5,249.5 792.5,251.0 793.5,254.3 794.5,248.4 795.5,246.6 796.5,255.6 797.5,253.5 798.5,250.6 799.5,251.0 800.5,252.2 801.5,255.2 802.5,247.7 803.5,250.6 804.5,249.1 805.5,248.8 806.5,251.4 807.5,253.0 808.5,247.7 809.5,246.0 810.5,252.4 811.5,248.4 812.5,253.9 813.5,248.6 814.5,249.5 815.5,246.3 816.5,242.7 817.5,247.3 818.5,249.0 819.5,248.4 820.5,249.3 821.5,241.7 822.5,245.9 823.5,249.7 824.5,250.5 825.5,248.3 826.5,247.9 827.5,244.5 828.5,247.5 829.5,252.6 830.5,245.6 831.5,240.6 832.5,246.3 833.5,242.3 834.5,243.2 835.5,250.1 836.5,247.6 837.5,245.2 838.5,245.4 839.5,244.8 840.5,249.2 841.5,250.3 842.5,248.0 843.5,251.0 844.5,246.9 845.5,252.1 846.5,251.7 847.5,248.5 848.5,252.9 849.5,245.5 850.5,250.8 851.5,249.1 852.5,245.1 853.5,246.6 854.5,254.0 855.5,246.0 856.5,249.9 857.5,240.0 858.5,244.6 859.5,248.6 860.5,245.0 861.5,245.7 862.5,247.7 863.5,242.5 864.5,244.8 865.5,251.7 866.5,248.9 867.5,248.3 868.5,254.7 869.5,250.8 870.5,245.7 871.5,249.3 872.5,247.4 873.5,254.2 874.5,242.5 875.5,249.5 876.5,247.9 877.5,248.0 878.5,252.1 879.5,258.0 880.5,255.6 881.5,252.9 882.5,253.4 883.5,252.4 884.5,257.1 885.5,252.7 886.5,252.5 887.5,257.3 888.5,250.5 889.5,256.0 890.5,256.7 891.5,255.8 892.5,253.9 893.5,254.7 894.5,256.3 895.5,254.0 896.5,253.0 897.5,250.6 898.5,258.1 899.5,247.7 900.5,254.7 901.5,255.2 902.5,257.1 903.5,256.2 904.5,259.1 905.5,256.1 906.5,263.0 907.5,262.3 908.5,252.1 909.5,256.0 910.5,257.4 911.5,256.4 912.5,255.2 913.5,253.2 914.5,249.9 915.5,256.7 916.5,254.2 917.5,256.4 918.5,256.3 919.5,252.8 920.5,253.5 921.5,257.3 922.5,252.6 923.5,257.2 924.5,264.8 925.5,266.5 926.5,266.1 927.5,256.9 928.5,262.2 929.5,261.8 930.5,251.8 931.5,258.3 932.5,259.7 933.5,254.3 934.5,253.2 935.5,254.3 936.5,250.5 937.5,252.9 938.5,255.4 939.5,261.1 940.5,245.7 941.5,249.6 942.5,254.2 943.5,252.3 944.5,250.9 945.5,246.6 946.5,249.5 947.5,253.2 948.5,249.2 949.5,251.9 950.5,249.5 951.5,252.6 952.5,244.6 953.5,246.4 954.5,248.2 955.5,246.8 956.5,247.5 957.5,253.1 958.5,248.5 959.5,248.6 960.5,239.5 961.5,243.3 962.5,244.0 963.5,244.5 964.5,244.9 965.5,245.5 966.5,246.4 967.5,238.0 968.5,243.4 969.5,240.0 970.5,239.8 971.5,241.9 972.5,243.1 973.5,242.6 974.5,248.7 975.5,247.0 976.5,242.4 977.5,245.4 978.5,246.5 979.5,242.2 980.5,248.4 981.5,240.7 982.5,236.3 983.5,246.1 984.5,240.9 985.5,240.1 986.5,243.1 987.5,240.0 988.5,241.8 989.5,242.6 990.5,242.4 991.5,247.3 992.5,240.1 993.5,234.1 994.5,236.5 995.5,242.8 996.5,245.1 997.5,238.7 998.5,242.7 999.5,247.3 1000.5,239.7 1001.5,235.6 1002.5,238.1 1003.5,247.6 1004.5,235.6 1005.5,237.0 1006.5,237.1 1007.5,240.3 1008.5,238.3 1009.5,237.0 1010.5,243.2 1011.5,234.0 1012.5,233.6 1013.5,234.7 1014.5,235.0 1015.5,230.4 1016.5,232.2 1017.5,235.6 1018.5,238.0 1019.5,238.7 1020.5,235.8 1021.5,238.0 1022.5,232.0 1023.5,239.0 1024.5,224.0 1025.5,225.7 1026.5,233.6 1027.5,231.1 1028.5,233.0 1029.5,236.1 1030.5,236.5 1031.5,238.0 1032.5,238.6 1033.5,234.7 1034.5,235.2 1035.5,234.4 1036.5,233.7 1037.5,235.3 1038.5,228.5 1039.5,238.8 1040.5,232.5 1041.5,238.6 1042.5,228.0 1043.5,234.8 1044.5,238.3 1045.5,228.9 1046.5,234.3 1047.5,233.4 1048.5,234.2 1049.5,229.7 1050.5,230.0 1051.5,241.6 1052.5,239.7 1053.5,235.8 1054.5,234.4 1055.5,238.5 1056.5,233.7 1057.5,231.6 1058.5,230.9 1059.5,237.8 1060.5,230.5 1061.5,237.4 1062.5,229.0 1063.5,230.3 1064.5,225.2 1065.5,223.6 1066.5,227.9 1067.5,233.1 1068.5,229.5 1069.5,231.5 1070.5,230.8 1071.5,226.8 1072.5,225.7 1073.5,234.9 1074.5,232.6 1075.5,229.6 1076.5,235.3 1077.5,234.7 1078.5,234.0 1079.5,233.9 1080.5,236.7 1081.5,234.9 1082.5,231.2 1083.5,233.0 1084.5,234.0 1085.5,226.3 1086.5,235.3 1087.5,229.5 1088.5,226.6 1089.5,234.2 1090.5,232.6 1091.5,233.1 1092.5,231.8 1093.5,233.6 1094.5,230.1 1095.5,227.7 1096.5,230.0 1097.5,227.0 1098.5,233.6 1099.5,233.2 1100.5,228.7 1101.5,226.7 1102.5,233.0 1103.5,228.4 1104.5,222.2 1105.5,227.1 1106.5,231.4 1107.5,233.1 1108.5,232.1 1109.5,227.1 1110.5,231.9 1111.5,228.7 1112.5,226.0 1113.5,229.1 1114.5,225.7 1115.5,230.1 1116.5,233.2 1117.5,232.6 1118.5,233.1 1119.5,229.3 1120.5,229.2 1121.5,224.9 1122.5,228.7 1123.5,228.1 1124.5,229.9 1125.5,227.1 1126.5,228.0 1127.5,230.5 1128.5,227.4 1129.5,226.3 1130.5,227.5 1131.5,226.0 1132.5,224.4 1133.5,233.3 1134.5,228.3 1135.5,226.7 1136.5,227.7 1137.5,232.0 1138.5,225.1 1139.5,230.0 1140.5,225.8 1141.5,229.0 1142.5,226.7 1143.5,228.3 1144.5,230.9 1145.5,225.6 1146.5,219.7 1147.5,219.9 1148.5,221.2 1149.5,225.5 1150.5,222.6 1151.5,227.3 1152.5,228.9 1153.5,229.6 1154.5,227.8 1155.5,219.1 1156.5,222.1 1157.5,224.5 1158.5,229.1 1159.5,225.4 1160.5,221.1 1161.5,225.0 1162.5,223.6 1163.5,227.6 1164.5,220.8 1165.5,225.3 1166.5,220.5 1167.5,226.8 1168.5,229.6 1169.5,227.2 1170.5,220.8 1171.5,226.8 1172.5,223.6 1173.5,224.5 1174.5,225.7 1175.5,228.6 1176.5,223.1 1177.5,229.6 1178.5,221.1 1179.5,234.4 1180.5,227.1 1181.5,226.3 1182.5,224.8 1183.5,229.7 1184.5,223.8 1185.5,224.5 1186.5,219.4 1187.5,219.0 1188.5,226.2 1189.5,227.3 1190.5,223.6 1191.5,225.7 1192.5,220.7 1193.5,227.2 1194.5,225.7 1195.5,226.0 1196.5,232.4 1197.5,219.2 1198.5,222.0 1199.5,220.3 1200.5,221.7 1201.5,222.4 1202.5,227.8 1203.5,225.6 1204.5,217.3 1205.5,224.8 1206.5,226.8 1207.5,219.9 1208.5,218.9 1209.5,222.7 1210.5,226.1 1211.5,228.9 1212.5,224.2 1213.5,228.3 1214.5,221.3 1215.5,231.0 1216.5,225.2 1217.5,224.6 1218.5,227.2 1219.5,230.0 1220.5,223.0 1221.5,225.2 1222.5,222.1 1223.5,223.9 1224.5,221.5 1225.5,223.9 1226.5,228.1 1227.5,225.2 1228.5,226.8 1229.5,227.0 1230.5,219.6 1231.5,229.0 1232.5,221.4 1233.5,231.0 1234.5,230.9 1235.5,226.8 1236.5,226.2 1237.5,220.1 1238.5,229.2 1239.5,230.3 1240.5,225.8 1241.5,225.0 1242.5,227.6 1243.5,228.1 1244.5,228.2 1245.5,223.7 1246.5,227.7 1247.5,219.4 1248.5,225.3 1249.5,228.7 1250.5,223.3 1251.5,222.1 1252.5,218.4 1253.5,223.4 1254.5,231.0 1255.5,224.4 1256.5,227.3 1257.5,225.2 1258.5,222.0 1259.5,230.0 1260.5,224.1 1261.5,233.1 1262.5,233.1 1263.5,230.7 1264.5,230.7 1265.5,234.5 1266.5,232.3 1267.5,232.6 1268.5,231.6 1269.5,229.1 1270.5,230.1 1271.5,231.5 1272.5,228.0 1273.5,235.3 1274.5,226.4 1275.5,228.5 1276.5,223.1 1277.5,233.6 1278.5,228.0 1279.5,228.2 1280.5,231.0 1281.5,228.1 1282.5,224.4 1283.5,223.0 1284.5,234.0 1285.5,234.3 1286.5,225.2 1287.5,229.9 1288.5,226.5 1289.5,234.2 1290.5,236.0 1291.5,234.9 1292.5,225.2 1293.5,227.4 1294.5,225.8 1295.5,226.9 1296.5,228.6 1297.5,224.4 1298.5,235.0 1299.5,225.1 1300.5,231.0 1301.5,228.9 1302.5,226.6 1303.5,228.1 1304.5,230.5 1305.5,236.3 1306.5,232.7 1307.5,221.4 1308.5,231.2 1309.5,234.1 1310.5,234.7 1311.5,231.1 1312.5,233.5 1313.5,228.5 1314.5,231.2 1315.5,229.4 1316.5,224.6 1317.5,222.1 1318.5,227.9 1319.5,224.8 1320.5,227.5 1321.5,229.1 1322.5,229.0 1323.5,230.0 1324.5,231.3 1325.5,227.6 1326.5,232.3 1327.5,241.5 1328.5,233.5 1329.5,235.2 1330.5,235.3 1331.5,229.5 1332.5,229.7 1333.5,229.6 1334.5,229.8 1335.5,232.3 1336.5,235.4 1337.5,234.2 1338.5,230.0 1339.5,234.6 1340.5,231.7 1341.5,234.0 1342.5,231.1 1343.5,226.2 1344.5,231.2 1345.5,234.0 1346.5,234.8 1347.5,230.1 1348.5,231.9 1349.5,238.4 1350.5,230.3 1351.5,228.8 1352.5,225.0 1353.5,229.7 1354.5,230.0 1355.5,236.1 1356.5,229.9 1357.5,229.7 1358.5,229.9 1359.5,235.0 1360.5,231.9 1361.5,226.1 1362.5,225.5 1363.5,232.8 1364.5,232.0 1365.5,231.1 1366.5,231.7 1367.5,236.3 1368.5,235.7 1369.5,233.7 1370.5,229.4 1371.5,229.2 1372.5,232.9 1373.5,230.1 1374.5,234.3 1375.5,229.6 1376.5,230.0 1377.5,228.5 1378.5,229.3 1379.5,229.4 1380.5,236.3 1381.5,235.4 1382.5,235.6 1383.5,226.0 1384.5,235.5 1385.5,234.5 1386.5,238.4 1387.5,238.4 1388.5,235.4 1389.5,232.3 1390.5,229.4 1391.5,233.4 1392.5,240.1 1393.5,230.9 1394.5,232.3 1395.5,238.1 1396.5,233.6 1397.5,227.0 1398.5,234.7 1399.5,228.4 1400.5,225.3 1401.5,223.8 1402.5,232.0 1403.5,235.0 1404.5,233.3 1405.5,229.5 1406.5,232.2 1407.5,229.8 1408.5,228.0 1409.5,232.2 1410.5,228.3 1411.5,231.6 1412.5,225.0 1413.5,224.9 1414.5,218.3 1415.5,217.5 1416.5,229.5 1417.5,224.3 1418.5,224.8 1419.5,225.5 1420.5,225.5 1421.5,227.5 1422.5,223.2 1423.5,227.6 1424.5,229.6 1425.5,222.6 1426.5,229.8 1427.5,229.9 1428.5,227.4 1429.5,223.7 1430.5,227.6 1431.5,223.9 1432.5,222.2 1433.5,221.3 1434.5,220.7 1435.5,216.5 1436.5,215.8 1437.5,218.3 1438.5,221.2 1439.5,218.5 1440.5,221.1 1441.5,218.6 1442.5,228.3 1443.5,223.2 1444.5,218.7 1445.5,210.3 1446.5,226.8 1447.5,227.8 1448.5,232.1 1449.5,219.0 1450.5,216.8 1451.5,219.3 1452.5,225.1 1453.5,221.2 1454.5,223.0 1455.5,222.9 1456.5,236.2 1457.5,227.4 1458.5,226.1 1459.5,229.0 1460.5,225.8 1461.5,222.5 1462.5,229.2 1463.5,226.0 1464.5,222.0 1465.5,218.5 1466.5,218.9 1467.5,219.2 1468.5,221.0 1469.5,230.7 1470.5,226.7 1471.5,222.9 1472.5,219.3 1473.5,220.9 1474.5,222.8 1475.5,220.5 1476.5,224.6 1477.5,228.8 1478.5,220.1 1479.5,229.7 1480.5,226.7 1481.5,227.9 1482.5,219.1 1483.5,225.7 1484.5,225.6 1485.5,223.7 1486.5,222.4 1487.5,219.1 1488.5,221.1 1489.5,219.9 1490.5,222.3 1491.5,227.9 1492.5,229.3 1493.5,225.5 1494.5,228.8 1495.5,228.3 1496.5,222.4 1497.5,225.6 1498.5,224.3 1499.5,225.3 1500.5,230.4 1501.5,230.5 1502.5,224.2 1503.5,225.6 1504.5,219.4 1505.5,226.6 1506.5,227.9 1507.5,229.6 1508.5,224.2 1509.5,230.1 1510.5,234.8 1511.5,234.3 1512.5,228.5 1513.5,230.5 1514.5,226.5 1515.5,236.2 1516.5,227.8 1517.5,228.6 1518.5,227.3 1519.5,235.4 1520.5,231.7 1521.5,235.6 1522.5,240.2 1523.5,233.3 1524.5,229.6 1525.5,234.9 1526.5,231.8 1527.5,231.5 1528.5,228.0 1529.5,234.7 1530.5,231.1 1531.5,232.1 1532.5,228.4 1533.5,239.1 1534.5,227.4 1535.5,232.2 1536.5,229.3 1537.5,240.0 1538.5,240.6 1539.5,236.6 1540.5,237.9 1541.5,237.7 1542.5,233.1 1543.5,237.3 1544.5,235.1 1545.5,231.8 1546.5,228.0 1547.5,234.6 1548.5,234.6 1549.5,231.9 1550.5,236.3 1551.5,231.8 1552.5,231.5 1553.5,230.3 1554.5,231.5 1555.5,230.7 1556.5,236.6 1557.5,231.8 1558.5,231.4 1559.5,235.4 1560.5,227.5 1561.5,230.0 1562.5,233.3 1563.5,231.1 1564.5,224.3 1565.5,230.2 1566.5,227.8 1567.5,230.4 1568.5,230.8 1569.5,232.0 1570.5,224.3 1571.5,229.2 1572.5,234.2 1573.5,230.3 1574.5,236.5 1575.5,236.7 1576.5,228.9 1577.5,231.6 1578.5,235.2 1579.5,233.4 1580.5,231.7 1581.5,239.9 1582.5,228.8 1583.5,232.4 1584.5,229.1 1585.5,228.3 1586.5,235.8 1587.5,233.2 1588.5,241.3 1589.5,231.9 1590.5,237.9 1591.5,230.5 1592.5,231.1 1593.5,230.6 1594.5,238.5 1595.5,230.6 1596.5,228.8 1597.5,231.2 1598.5,229.2 1599.5,235.3 1600.5,237.5 1601.5,235.3 1602.5,236.3 1603.5,233.5 1604.5,240.9 1605.5,236.5 1606.5,237.7 1607.5,235.8 1608.5,243.4 1609.5,237.9 1610.5,237.7 1611.5,233.6 1612.5,242.2 1613.5,233.1 1614.5,244.8 1615.5,243.5 1616.5,239.9 1617.5,241.8 1618.5,244.3 1619.5,242.3 1620.5,244.2 1621.5,234.1 1622.5,236.1 1623.5,236.3 1624.5,236.3 1625.5,236.5 1626.5,241.5 1627.5,243.2 1628.5,240.1 1629.5,238.5 1630.5,239.5 1631.5,242.5 1632.5,242.7 1633.5,237.3 1634.5,240.3 1635.5,235.4 1636.5,232.1 1637.5,236.2 1638.5,240.9 1639.5,237.4 1640.5,234.2 1641.5,240.9 1642.5,236.7 1643.5,233.6 1644.5,239.8 1645.5,242.0 1646.5,236.1 1647.5,236.0 1648.5,237.0 1649.5,236.8 1650.5,241.9 1651.5,238.5 1652.5,240.3 1653.5,238.4 1654.5,240.7 1655.5,236.5 1656.5,237.9 1657.5,242.5 1658.5,237.4 1659.5,239.1 1660.5,241.3 1661.5,240.0 1662.5,235.3 1663.5,239.4 1664.5,236.2 1665.5,237.4 1666.5,241.7 1667.5,238.1 1668.5,232.6 1669.5,237.9 1670.5,239.5 1671.5,239.2 1672.5,239.2 1673.5,249.3 1674.5,245.2 1675.5,242.6 1676.5,239.4 1677.5,243.2 1678.5,235.4 1679.5,239.9 1680.5,242.2 1681.5,244.9 1682.5,247.0 1683.5,244.1 1684.5,249.9 1685.5,247.5 1686.5,244.6 1687.5,242.2 1688.5,246.5 1689.5,243.7 1690.5,243.9 1691.5,245.4 1692.5,243.2 1693.5,238.7 1694.5,245.1 1695.5,243.1 1696.5,239.4 1697.5,243.4 1698.5,242.9 1699.5,248.0 1700.5,235.5 1701.5,238.5 1702.5,245.0 1703.5,244.3 1704.5,246.1 1705.5,244.2 1706.5,248.6 1707.5,252.1 1708.5,253.4 1709.5,249.7 1710.5,246.5 1711.5,250.5 1712.5,246.1 1713.5,248.5 1714.5,247.9 1715.5,248.5 1716.5,246.6 1717.5,245.1 1718.5,247.1 1719.5,243.7 1720.5,246.0 1721.5,245.2 1722.5,250.1 1723.5,242.6 1724.5,246.3 1725.5,253.8 1726.5,251.8 1727.5,249.7 1728.5,245.3 1729.5,243.5 1730.5,244.4 1731.5,244.9 1732.5,246.4 1733.5,245.0 1734.5,245.2 1735.5,242.4 1736.5,253.3 1737.5,248.5 1738.5,253.6 1739.5,239.4 1740.5,247.1 1741.5,249.4 1742.5,252.2 1743.5,252.5 1744.5,251.5 1745.5,248.7 1746.5,254.5 1747.5,254.8 1748.5,253.8 1749.5,255.7 1750.5,253.4 1751.5,249.6 1752.5,251.2 1753.5,254.8 1754.5,250.8 1755.5,251.9 1756.5,255.4 1757.5,253.0 1758.5,247.9 1759.5,252.1 1760.5,257.1 1761.5,254.7 1762.5,258.4 1763.5,257.4 1764.5,248.6 1765.5,253.7 1766.5,253.9 1767.5,252.0 1768.5,249.9 1769.5,249.1 1770.5,248.8 1771.5,248.9 1772.5,255.1 1773.5,249.4 1774.5,251.7 1775.5,253.3 1776.5,248.5 1777.5,248.4 1778.5,249.2 1779.5,251.7 1780.5,248.8 1781.5,245.8 1782.5,252.2 1783.5,247.4 1784.5,248.0 1785.5,247.9 1786.5,246.5 1787.5,248.1 1788.5,250.6 1789.5,243.5 1790.5,248.8 1791.5,247.5 1792.5,247.7 1793.5,247.2 1794.5,253.5 1795.5,248.1 1796.5,248.8 1797.5,250.6 1798.5,244.9 1799.5,244.7 1800.5,248.2 1801.5,243.5 1802.5,250.2 1803.5,250.7 1804.5,247.1 1805.5,240.8 1806.5,239.3 1807.5,246.4 1808.5,247.4 1809.5,245.6 1810.5,245.8 1811.5,245.1 1812.5,246.6 1813.5,242.9 1814.5,242.8 1815.5,244.4 1816.5,244.1 1817.5,239.4 1818.5,247.7 1819.5,243.9 1820.5,249.1 1821.5,247.6 1822.5,243.5 1823.5,243.4 1824.5,245.6 1825.5,243.1 1826.5,244.3 1827.5,241.1 1828.5,242.0 1829.5,246.8 1830.5,242.7 1831.5,241.3 1832.5,246.7 1833.5,246.0 1834.5,243.3 1835.5,242.9 1836.5,237.2 1837.5,244.2 1838.5,243.8 1839.5,239.7 1840.5,241.4 1841.5,240.3 1842.5,244.0 1843.5,246.3 1844.5,240.8 1845.5,245.7 1846.5,246.2 1847.5,249.9 1848.5,238.1 1849.5,243.0 1850.5,237.9 1851.5,247.5 1852.5,244.9 1853.5,244.8 1854.5,235.4 1855.5,236.9 1856.5,240.2 1857.5,242.6 1858.5,240.1 1859.5,236.5 1860.5,237.3 1861.5,243.9 1862.5,241.4 1863.5,235.6 1864.5,242.0 1865.5,239.3 1866.5,240.6 1867.5,238.0 1868.5,239.2 1869.5,244.4 1870.5,239.8 1871.5,232.2 1872.5,245.1 1873.5,241.4 1874.5,243.1 1875.5,237.9 1876.5,248.5 1877.5,239.8 1878.5,239.5 1879.5,245.7 1880.5,241.7 1881.5,245.9 1882.5,236.5 1883.5,234.5 1884.5,235.2 1885.5,239.0 1886.5,231.8 1887.5,230.7 1888.5,240.0 1889.5,243.1 1890.5,240.9 1891.5,242.6 1892.5,246.5 1893.5,235.6 1894.5,233.4 1895.5,243.5 1896.5,239.6 1897.5,236.1 1898.5,239.6 1899.5,233.3 1900.5,236.7 1901.5,237.7 1902.5,239.4 1903.5,239.6 1904.5,239.3 1905.5,240.4 1906.5,234.5 1907.5,240.9 1908.5,244.5 1909.5,238.0 1910.5,240.3 1911.5,242.4 1912.5,243.1 1913.5,240.8 1914.5,238.5 1915.5,241.1 1916.5,236.7 1917.5,241.0 1918.5,243.9 1919.5,240.2 1920.5,235.9 1921.5,231.9 1922.5,234.7 1923.5,236.6 1924.5,234.7 1925.5,236.5 1926.5,241.6 1927.5,244.3 1928.5,243.4 1929.5,237.6 1930.5,241.9 1931.5,238.2 1932.5,242.1 1933.5,237.7 1934.5,243.4 1935.5,233.7 1936.5,238.2 1937.5,238.3 1938.5,238.5 1939.5,246.5 1940.5,239.0 1941.5,242.7 1942.5,246.0 1943.5,245.4 1944.5,249.2 1945.5,248.0 1946.5,250.9 1947.5,242.4 1948.5,246.1 1949.5,244.0 1950.5,247.9 1951.5,247.6 1952.5,245.7 1953.5,242.8 1954.5,243.9 1955.5,248.2 1956.5,250.4 1957.5,250.3 1958.5,242.3 1959.5,247.4 1960.5,248.0 1961.5,245.8 1962.5,244.3 1963.5,246.0 1964.5,240.7 1965.5,239.8 1966.5,234.5 1967.5,245.5 1968.5,245.0 1969.5,241.7 1970.5,247.4 1971.5,243.7 1972.5,246.8 1973.5,243.5 1974.5,248.3 1975.5,245.4 1976.5,243.9 1977.5,241.5 1978.5,246.5 1979.5,245.9 1980.5,240.0 1981.5,243.0 1982.5,239.1 1983.5,242.5 1984.5,242.8 1985.5,248.5 1986.5,244.3 1987.5,246.6 1988.5,245.8 1989.5,242.3 1990.5,248.2 1991.5,244.3 1992.5,238.8 1993.5,244.9 1994.5,243.3 1995.5,242.4 1996.5,241.1 1997.5,241.0 1998.5,244.1 1999.5,245.5 2000.5,238.4 2001.5,239.5 2002.5,247.4 2003.5,246.9 2004.5,243.4 2005.5,241.0 2006.5,240.5 2007.5,242.2 2008.5,246.5 2009.5,246.9 2010.5,248.3 2011.5,249.7 2012.5,243.1 2013.5,246.7 2014.5,237.6 2015.5,243.1 2016.5,242.8 2017.5,240.7 2018.5,241.3 2019.5,243.1 2020.5,245.1 2021.5,249.5 2022.5,247.4 2023.5,238.8 2024.5,240.7 2025.5,238.0 2026.5,245.7 2027.5,247.2 2028.5,247.4 2029.5,251.0 2030.5,248.0 2031.5,243.4 2032.5,246.9 2033.5,248.6 2034.5,243.5 2035.5,246.1 2036.5,246.4 2037.5,249.1 2038.5,244.8 2039.5,246.6 2040.5,245.4 2041.5,243.5 2042.5,239.9 2043.5,245.4 2044.5,242.9 2045.5,243.3 2046.5,238.4 2047.5,246.6 2048.5,241.9 2049.5,243.7 2050.5,244.7 2051.5,240.7 2052.5,241.4 2053.5,244.8 2054.5,238.5 2055.5,237.5 2056.5,240.2 2057.5,243.7 2058.5,244.5 2059.5,237.9 2060.5,239.8 2061.5,239.8 2062.5,239.9 2063.5,242.4 2064.5,236.3 2065.5,238.3 2066.5,241.8 2067.5,243.5 2068.5,242.9 2069.5,239.8 2070.5,239.9 2071.5,244.0 2072.5,240.1 2073.5,244.7 2074.5,235.3 2075.5,245.6 2076.5,235.9 2077.5,238.5 2078.5,240.2 2079.5,236.2 2080.5,237.9 2081.5,233.8 2082.5,240.0 2083.5,243.0 2084.5,236.1 2085.5,243.3 2086.5,241.3 2087.5,234.6 2088.5,232.5 2089.5,237.2 2090.5,232.5 2091.5,237.5 2092.5,238.6 2093.5,231.3 2094.5,247.1 2095.5,234.9 2096.5,236.0 2097.5,232.1 2098.5,232.2 2099.5,238.7 2100.5,237.2 2101.5,234.5 2102.5,236.4 2103.5,235.3 2104.5,236.3 2105.5,233.9 2106.5,227.2 2107.5,228.4 2108.5,227.7 2109.5,228.1 2110.5,229.5 2111.5,228.9 2112.5,225.4 2113.5,229.3 2114.5,230.8 2115.5,230.8 2116.5,234.8 2117.5,225.2 2118.5,228.0 2119.5,223.2 2120.5,231.5 2121.5,230.6 2122.5,229.6 2123.5,225.2 2124.5,227.7 2125.5,228.1 2126.5,221.1 2127.5,225.1 2128.5,229.7 2129.5,223.6 2130.5,221.0 2131.5,221.1 2132.5,226.0 2133.5,228.5 2134.5,221.8 2135.5,222.4 2136.5,222.9 2137.5,223.2 2138.5,218.4 2139.5,223.1 2140.5,228.0 2141.5,227.5 2142.5,225.0 2143.5,229.2 2144.5,227.9 2145.5,224.3 2146.5,221.5 2147.5,222.7 2148.5,222.3 2149.5,223.9 2150.5,221.2 2151.5,223.9 2152.5,221.6 2153.5,225.3 2154.5,213.7 2155.5,220.0 2156.5,217.1 2157.5,216.7 2158.5,220.6 2159.5,222.2 2160.5,216.3 2161.5,216.7 2162.5,221.9 2163.5,222.8 2164.5,215.1 2165.5,216.3 2166.5,215.8 2167.5,213.9 2168.5,211.6 2169.5,218.4 2170.5,217.9 2171.5,216.8 2172.5,212.9 2173.5,217.5 2174.5,228.8 2175.5,221.4 2176.5,220.0 2177.5,224.0 2178.5,218.3 2179.5,216.9 2180.5,214.3 2181.5,218.0 2182.5,217.2 2183.5,214.6 2184.5,215.4 2185.5,212.3 2186.5,216.7 2187.5,211.5 2188.5,212.4 2189.5,218.7 2190.5,214.4 2191.5,208.9 2192.5,207.1 2193.5,206.7 2194.5,209.8 2195.5,204.0 2196.5,210.2 2197.5,210.2 2198.5,209.8 2199.5,215.2 2200.5,209.0 2201.5,205.4 2202.5,207.4 2203.5,211.4 2204.5,208.1 2205.5,205.9 2206.5,208.0 2207.5,199.0 2208.5,208.7 2209.5,203.7 2210.5,204.9 2211.5,201.7 2212.5,201.7 2213.5,203.4 2214.5,207.3 2215.5,201.1 2216.5,200.5 2217.5,207.0 2218.5,206.3 2219.5,205.7 2220.5,204.0 2221.5,210.7 2222.5,213.4 2223.5,205.4 2224.5,208.9 2225.5,203.8 2226.5,205.4 2227.5,208.3 2228.5,212.1 2229.5,204.6 2230.5,209.0 2231.5,209.2 2232.5,212.5 2233.5,211.3 2234.5,209.6 2235.5,213.6 2236.5,216.4 2237.5,213.4 2238.5,202.2 2239.5,207.8 2240.5,207.7 2241.5,199.8 2242.5,208.6 2243.5,206.8 2244.5,202.1 2245.5,201.4 2246.5,205.2 2247.5,203.0 2248.5,203.1 2249.5,202.0 2250.5,208.1 2251.5,205.8 2252.5,197.9 2253.5,200.1 2254.5,204.5 2255.5,199.0 2256.5,201.0 2257.5,204.3 2258.5,197.3 2259.5,205.3 2260.5,205.8 2261.5,200.6 2262.5,197.5 2263.5,195.3 2264.5,203.9 2265.5,199.4 2266.5,200.9 2267.5,197.7 2268.5,200.1 2269.5,199.2 2270.5,203.7 2271.5,197.2 2272.5,201.7 2273.5,201.0 2274.5,195.4 2275.5,199.5 2276.5,201.8 2277.5,199.5 2278.5,201.5 2279.5,196.0 2280.5,199.4 2281.5,196.1 2282.5,191.4 2283.5,195.9 2284.5,195.4 2285.5,197.9 2286.5,200.6 2287.5,200.3 2288.5,197.8 2289.5,203.9 2290.5,198.7 2291.5,200.9 2292.5,200.4 2293.5,197.7 2294.5,192.3 2295.5,199.5 2296.5,196.3 2297.5,208.6 2298.5,201.6 2299.5,199.6 2300.5,195.8 2301.5,197.7 2302.5,197.2 2303.5,197.3 2304.5,198.2 2305.5,202.2 2306.5,202.3 2307.5,205.4 2308.5,204.8 2309.5,195.5 2310.5,195.6 2311.5,205.6 2312.5,207.1 2313.5,205.4 2314.5,206.3 2315.5,205.1 2316.5,205.1"/>
<text class="tk" transform="translate(137.6,110.0) scale(1,1.02)">20</text>
<text class="tk" transform="translate(162,269.0) scale(1,1.02)">0</text>
<text class="tk" transform="translate(0,428.0) scale(1,1.02)"><tspan x="113.0" font-size="89.3" stroke-width="2.5" dy="6.5">−</tspan><tspan x="161.7" dy="-6.5">20</tspan></text>
<text class="lab" transform="translate(96,591.7) rotate(-90) scale(1,1.048)">E errors (cm)</text>
<line x1="714.5" x2="887" y1="315.4" y2="315.4" stroke="#0072BD" stroke-width="7.2"/>
<text class="leg" transform="translate(898.7,345.9) scale(1,1.05)">Standard, RMS=1.1 cm</text>
<line x1="714.5" x2="887" y1="411.7" y2="411.7" stroke="#D95319" stroke-width="7.2"/>
<text class="leg" transform="translate(899.9,442.2) scale(1,1.05)">Tropo-weighted, RMS=1.0 cm</text>
<line x1="714.5" x2="887" y1="508.0" y2="508.0" stroke="#EDB120" stroke-width="7.2"/>
<text class="leg" transform="translate(899.9,538.5) scale(1,1.05)">Tropo-fixed, RMS=1.7 cm</text>
</g>
<g id="axes-N">
<line x1="654.9" x2="654.9" y1="660.8" y2="1217.4" stroke="#dedede" stroke-width="3.1"/>
<line x1="1023.0" x2="1023.0" y1="660.8" y2="1217.4" stroke="#dedede" stroke-width="3.1"/>
<line x1="1391.0" x2="1391.0" y1="660.8" y2="1217.4" stroke="#dedede" stroke-width="3.1"/>
<line x1="1759.1" x2="1759.1" y1="660.8" y2="1217.4" stroke="#dedede" stroke-width="3.1"/>
<line x1="2127.1" x2="2127.1" y1="660.8" y2="1217.4" stroke="#dedede" stroke-width="3.1"/>
<line x1="287.2" x2="2317.0" y1="700.6" y2="700.6" stroke="#dedede" stroke-width="3.1"/>
<line x1="287.2" x2="2317.0" y1="859.6" y2="859.6" stroke="#dedede" stroke-width="3.1"/>
<line x1="287.2" x2="2317.0" y1="1018.6" y2="1018.6" stroke="#dedede" stroke-width="3.1"/>
<line x1="654.9" x2="654.9" y1="1217.4" y2="1195.9" stroke="#262626" stroke-width="3.1"/>
<line x1="654.9" x2="654.9" y1="660.8" y2="682.3" stroke="#262626" stroke-width="3.1"/>
<line x1="1023.0" x2="1023.0" y1="1217.4" y2="1195.9" stroke="#262626" stroke-width="3.1"/>
<line x1="1023.0" x2="1023.0" y1="660.8" y2="682.3" stroke="#262626" stroke-width="3.1"/>
<line x1="1391.0" x2="1391.0" y1="1217.4" y2="1195.9" stroke="#262626" stroke-width="3.1"/>
<line x1="1391.0" x2="1391.0" y1="660.8" y2="682.3" stroke="#262626" stroke-width="3.1"/>
<line x1="1759.1" x2="1759.1" y1="1217.4" y2="1195.9" stroke="#262626" stroke-width="3.1"/>
<line x1="1759.1" x2="1759.1" y1="660.8" y2="682.3" stroke="#262626" stroke-width="3.1"/>
<line x1="2127.1" x2="2127.1" y1="1217.4" y2="1195.9" stroke="#262626" stroke-width="3.1"/>
<line x1="2127.1" x2="2127.1" y1="660.8" y2="682.3" stroke="#262626" stroke-width="3.1"/>
<line x1="287.2" x2="308.7" y1="700.6" y2="700.6" stroke="#262626" stroke-width="3.1"/>
<line x1="2317.0" x2="2295.5" y1="700.6" y2="700.6" stroke="#262626" stroke-width="3.1"/>
<line x1="287.2" x2="308.7" y1="859.6" y2="859.6" stroke="#262626" stroke-width="3.1"/>
<line x1="2317.0" x2="2295.5" y1="859.6" y2="859.6" stroke="#262626" stroke-width="3.1"/>
<line x1="287.2" x2="308.7" y1="1018.6" y2="1018.6" stroke="#262626" stroke-width="3.1"/>
<line x1="2317.0" x2="2295.5" y1="1018.6" y2="1018.6" stroke="#262626" stroke-width="3.1"/>
<rect x="287.2" y="660.8" width="2029.8" height="556.6" fill="none" stroke="#262626" stroke-width="3.1"/>
<polyline clip-path="url(#c1)" fill="none" stroke="#0072BD" stroke-width="6.6" stroke-linejoin="round" stroke-linecap="round" points="288.5,1041.0 289.5,969.0 290.5,1035.0 291.5,970.0 292.5,1020.0 293.5,920.0 294.5,910.0 295.5,832.0 296.5,872.0 297.5,796.0 298.5,867.0 299.0,799.0 300.0,871.5 301.0,812.3 302.5,868.3 304.5,819.7 306.5,859.0 310.0,831.2 311.0,831.3 312.0,832.9 313.0,832.4 314.0,836.3 315.0,834.8 316.0,837.9 317.0,840.0 318.0,838.8 319.0,843.9 320.0,843.0 321.0,843.5 322.0,845.6 323.0,844.2 324.0,849.3 325.0,846.4 326.0,849.6 327.0,847.7 328.0,847.3 329.0,855.1 330.0,854.0 331.0,854.7 332.0,855.8 333.0,858.4 334.0,853.4 335.0,849.7 336.0,850.3 337.0,851.7 338.0,848.2 339.0,852.7 340.0,853.6 341.0,857.7 342.0,857.9 343.0,855.0 344.0,852.5 345.0,853.9 346.0,850.1 347.0,851.3 348.0,853.9 349.0,852.4 350.0,855.0 351.0,855.3 352.0,858.1 353.0,856.5 354.0,854.3 355.0,853.6 356.0,854.5 357.0,858.9 358.0,846.8 359.0,855.4 360.0,852.7 361.0,855.7 362.0,852.1 363.0,859.5 364.0,857.0 365.0,852.7 366.0,855.9 367.0,853.2 368.0,853.9 369.0,852.6 370.0,856.6 371.0,857.2 372.0,852.2 373.0,855.8 374.0,854.7 375.0,856.0 376.0,851.0 377.0,859.6 378.0,851.9 379.0,853.2 380.0,853.8 381.0,853.5 382.0,857.5 383.0,850.7 384.0,856.7 385.0,857.6 386.0,850.8 387.0,851.9 388.0,854.2 389.0,853.8 390.0,854.7 391.0,856.3 392.0,856.1 393.0,856.6 394.0,858.9 395.0,853.0 396.0,848.5 397.0,856.3 398.0,854.5 399.0,855.4 400.0,854.4 401.0,851.7 402.0,855.5 403.0,859.3 404.0,859.0 405.0,853.6 406.0,859.4 407.0,852.6 408.0,853.8 409.0,854.2 410.0,852.4 411.0,851.3 412.0,854.6 413.0,851.7 414.0,849.8 415.0,850.2 416.0,850.2 417.0,848.9 418.0,859.6 419.0,849.4 420.0,852.5 421.0,847.2 422.0,852.3 423.0,852.3 424.0,853.3 425.0,851.6 426.0,848.3 427.0,854.6 428.0,851.1 429.0,850.8 430.0,860.8 431.0,855.9 432.0,850.1 433.0,849.3 434.0,851.7 435.0,854.0 436.0,850.8 437.0,850.4 438.0,850.4 439.0,851.6 440.0,847.9 441.0,851.2 442.0,856.4 443.0,857.7 444.0,852.9 445.0,854.0 446.0,855.3 447.0,850.6 448.0,852.4 449.0,856.9 450.0,860.0 451.0,858.3 452.0,849.4 453.0,858.6 454.0,857.4 455.0,857.1 456.0,859.9 457.0,862.1 458.0,857.0 459.0,854.7 460.0,852.4 461.0,858.8 462.0,856.4 463.0,856.4 464.0,854.6 465.0,858.1 466.0,860.2 467.0,860.5 468.0,854.0 469.0,861.6 470.0,858.8 471.0,853.4 472.0,860.6 473.0,849.1 474.0,853.0 475.0,860.8 476.0,859.4 477.0,853.6 478.0,854.1 479.0,856.5 480.0,852.3 481.0,857.7 482.0,854.9 483.0,857.3 484.0,854.7 485.0,852.4 486.0,853.8 487.0,855.9 488.0,852.6 489.0,854.6 490.0,856.9 491.0,857.7 492.0,859.6 493.0,855.4 494.0,854.2 495.0,857.6 496.0,857.1 497.0,861.5 498.0,853.1 499.0,858.9 500.0,856.0 501.0,847.8 502.0,853.1 503.0,854.4 504.0,852.1 505.0,855.1 506.0,854.2 507.0,856.6 508.0,850.2 509.0,847.3 510.0,853.7 511.0,854.1 512.0,856.6 513.0,851.2 514.0,858.9 515.0,851.1 516.0,854.0 517.0,857.9 518.0,859.3 519.0,848.9 520.0,858.4 521.0,857.0 522.0,856.2 523.0,853.6 524.0,848.5 525.0,855.6 526.0,854.3 527.0,858.1 528.0,855.4 529.0,853.2 530.0,855.8 531.0,853.6 532.0,858.0 533.0,853.8 534.0,860.1 535.0,854.9 536.0,852.0 537.0,855.3 538.0,853.5 539.0,859.5 540.0,852.0 541.0,854.2 542.0,858.4 543.0,855.9 544.0,856.0 545.0,863.8 546.0,858.3 547.0,860.1 548.0,856.2 549.0,852.0 550.0,857.2 551.0,852.9 552.0,847.6 553.0,858.6 554.0,855.3 555.0,852.8 556.0,859.9 557.0,855.4 558.0,855.4 559.0,853.6 560.0,859.5 561.0,851.2 562.0,855.5 563.0,857.8 564.0,857.2 565.0,852.9 566.0,856.6 567.0,855.7 568.0,861.7 569.0,855.9 570.0,860.9 571.0,855.2 572.0,855.0 573.0,855.8 574.0,855.6 575.0,855.2 576.0,859.4 577.0,858.0 578.0,852.5 579.0,854.7 580.0,861.9 581.0,856.0 582.0,850.5 583.0,857.1 584.0,863.9 585.0,860.2 586.0,858.1 587.0,862.4 588.0,863.7 589.0,860.3 590.0,858.5 591.0,863.2 592.0,857.0 593.0,861.0 594.0,854.1 595.0,856.3 596.0,857.0 597.0,861.2 598.0,856.0 599.0,855.0 600.0,854.6 601.0,858.1 602.0,861.8 603.0,853.5 604.0,857.0 605.0,858.6 606.0,858.8 607.0,859.7 608.0,862.4 609.0,854.6 610.0,859.8 611.0,863.0 612.0,854.6 613.0,856.2 614.0,855.9 615.0,857.5 616.0,854.2 617.0,858.3 618.0,858.3 619.0,856.6 620.0,859.1 621.0,856.7 622.0,858.3 623.0,860.6 624.0,860.2 625.0,855.0 626.0,858.5 627.0,859.1 628.0,858.9 629.0,854.6 630.0,857.4 631.0,858.0 632.0,857.4 633.0,859.5 634.0,865.6 635.0,857.1 636.0,857.8 637.0,853.8 638.0,854.0 639.0,862.9 640.0,857.9 641.0,853.1 642.0,858.7 643.0,855.2 644.0,856.5 645.0,856.0 646.0,857.2 647.0,858.7 648.0,857.9 649.0,855.3 650.0,857.6 651.0,861.0 652.0,857.6 653.0,855.5 654.0,855.9 655.0,863.3 656.0,857.0 657.0,857.1 658.0,854.5 659.0,859.0 660.0,852.5 661.0,848.0 662.0,857.4 663.0,857.5 664.0,855.9 665.0,853.9 666.0,862.8 667.0,858.7 668.0,853.0 669.0,855.1 670.0,854.1 671.0,860.0 672.0,855.6 673.0,851.9 674.0,855.6 675.0,855.4 676.0,856.0 677.0,851.5 678.0,852.2 679.0,851.9 680.0,853.1 681.0,853.1 682.0,854.6 683.0,854.9 684.0,853.2 685.0,851.7 686.0,854.9 687.0,858.7 688.0,856.4 689.0,860.7 690.0,858.2 691.0,852.3 692.0,859.6 693.0,850.9 694.0,856.6 695.0,848.8 696.0,855.3 697.0,856.3 698.0,857.9 699.0,853.0 700.0,856.7 701.0,855.6 702.0,855.9 703.0,858.0 704.0,853.2 705.0,856.4 706.0,854.7 707.0,856.3 708.0,855.7 709.0,855.3 710.0,858.1 711.0,859.4 712.0,857.1 713.0,854.9 714.0,855.9 715.0,854.7 716.0,860.7 717.0,858.1 718.0,861.8 719.0,856.2 720.0,861.5 721.0,856.3 722.0,856.8 723.0,855.8 724.0,852.7 725.0,858.0 726.0,857.0 727.0,854.5 728.0,851.8 729.0,848.2 730.0,851.3 731.0,858.2 732.0,858.6 733.0,855.0 734.0,854.8 735.0,852.4 736.0,852.7 737.0,859.0 738.0,858.6 739.0,861.3 740.0,862.1 741.0,859.5 742.0,856.9 743.0,867.4 744.0,865.2 745.0,863.9 746.0,861.5 747.0,862.4 748.0,863.0 749.0,855.1 750.0,858.4 751.0,857.3 752.0,859.9 753.0,863.9 754.0,859.6 755.0,864.2 756.0,859.7 757.0,860.2 758.0,863.9 759.0,863.8 760.0,865.0 761.0,862.0 762.0,860.2 763.0,860.9 764.0,857.9 765.0,861.7 766.0,861.5 767.0,859.9 768.0,858.4 769.0,865.8 770.0,855.5 771.0,858.8 772.0,862.8 773.0,865.4 774.0,860.3 775.0,867.2 776.0,867.0 777.0,861.3 778.0,855.4 779.0,864.6 780.0,863.1 781.0,862.8 782.0,867.5 783.0,866.7 784.0,862.1 785.0,859.7 786.0,854.4 787.0,861.8 788.0,859.2 789.0,857.9 790.0,852.8 791.0,857.0 792.0,858.6 793.0,857.8 794.0,858.8 795.0,852.0 796.0,857.3 797.0,853.8 798.0,856.8 799.0,854.0 800.0,853.2 801.0,852.4 802.0,855.3 803.0,850.1 804.0,855.5 805.0,856.0 806.0,860.1 807.0,857.6 808.0,852.9 809.0,850.7 810.0,853.8 811.0,850.0 812.0,859.8 813.0,854.4 814.0,847.8 815.0,853.8 816.0,851.8 817.0,857.2 818.0,855.3 819.0,853.0 820.0,858.5 821.0,859.1 822.0,857.3 823.0,856.0 824.0,854.3 825.0,855.4 826.0,856.9 827.0,859.1 828.0,852.7 829.0,856.1 830.0,862.2 831.0,852.2 832.0,855.4 833.0,853.6 834.0,856.3 835.0,859.4 836.0,859.2 837.0,857.6 838.0,856.2 839.0,855.2 840.0,857.5 841.0,851.8 842.0,854.6 843.0,851.2 844.0,859.0 845.0,851.7 846.0,856.1 847.0,856.4 848.0,859.2 849.0,854.5 850.0,860.8 851.0,857.2 852.0,853.5 853.0,857.1 854.0,864.4 855.0,856.5 856.0,862.5 857.0,855.4 858.0,853.1 859.0,860.8 860.0,855.9 861.0,845.1 862.0,852.9 863.0,847.6 864.0,852.2 865.0,856.8 866.0,854.3 867.0,852.9 868.0,849.0 869.0,856.3 870.0,853.3 871.0,853.7 872.0,848.8 873.0,847.7 874.0,850.7 875.0,849.5 876.0,849.4 877.0,845.3 878.0,847.1 879.0,852.7 880.0,849.8 881.0,854.6 882.0,854.5 883.0,855.3 884.0,852.1 885.0,857.3 886.0,855.1 887.0,850.0 888.0,855.1 889.0,852.1 890.0,851.8 891.0,849.6 892.0,853.4 893.0,855.6 894.0,857.5 895.0,856.7 896.0,856.4 897.0,847.6 898.0,853.0 899.0,851.0 900.0,849.9 901.0,845.6 902.0,848.0 903.0,846.6 904.0,851.2 905.0,850.9 906.0,852.2 907.0,848.5 908.0,849.4 909.0,843.5 910.0,852.2 911.0,850.5 912.0,849.2 913.0,851.4 914.0,850.2 915.0,850.9 916.0,843.9 917.0,846.8 918.0,845.7 919.0,857.0 920.0,857.2 921.0,854.5 922.0,853.7 923.0,855.5 924.0,852.3 925.0,848.2 926.0,852.4 927.0,851.0 928.0,851.1 929.0,850.1 930.0,844.2 931.0,846.9 932.0,846.4 933.0,852.2 934.0,849.4 935.0,845.9 936.0,856.3 937.0,853.0 938.0,847.9 939.0,853.7 940.0,849.4 941.0,858.2 942.0,856.1 943.0,855.5 944.0,857.5 945.0,862.6 946.0,857.5 947.0,851.5 948.0,858.2 949.0,860.6 950.0,857.0 951.0,856.2 952.0,853.2 953.0,847.7 954.0,859.3 955.0,854.0 956.0,859.4 957.0,853.3 958.0,859.7 959.0,853.8 960.0,854.9 961.0,851.9 962.0,857.7 963.0,860.6 964.0,855.5 965.0,856.5 966.0,855.9 967.0,856.2 968.0,853.0 969.0,858.4 970.0,850.6 971.0,857.4 972.0,852.1 973.0,854.2 974.0,856.4 975.0,848.3 976.0,850.0 977.0,854.0 978.0,852.9 979.0,855.2 980.0,851.2 981.0,850.5 982.0,856.2 983.0,855.5 984.0,857.3 985.0,856.0 986.0,861.2 987.0,849.4 988.0,851.5 989.0,857.0 990.0,853.1 991.0,854.3 992.0,856.0 993.0,852.6 994.0,853.0 995.0,855.1 996.0,849.1 997.0,857.5 998.0,856.5 999.0,857.3 1000.0,851.6 1001.0,854.9 1002.0,855.7 1003.0,851.1 1004.0,852.1 1005.0,850.3 1006.0,855.2 1007.0,853.0 1008.0,854.8 1009.0,859.2 1010.0,850.3 1011.0,852.8 1012.0,857.9 1013.0,857.0 1014.0,858.5 1015.0,851.5 1016.0,856.8 1017.0,860.6 1018.0,855.1 1019.0,853.2 1020.0,854.2 1021.0,860.2 1022.0,855.8 1023.0,856.8 1024.0,860.2 1025.0,859.7 1026.0,859.3 1027.0,862.6 1028.0,855.7 1029.0,864.5 1030.0,859.9 1031.0,858.4 1032.0,860.0 1033.0,856.4 1034.0,858.3 1035.0,859.1 1036.0,861.8 1037.0,856.8 1038.0,854.8 1039.0,858.9 1040.0,857.1 1041.0,859.1 1042.0,862.8 1043.0,858.5 1044.0,861.4 1045.0,862.5 1046.0,854.3 1047.0,856.8 1048.0,857.9 1049.0,855.4 1050.0,854.3 1051.0,850.1 1052.0,853.0 1053.0,853.5 1054.0,852.0 1055.0,856.3 1056.0,851.5 1057.0,848.7 1058.0,848.0 1059.0,855.0 1060.0,856.3 1061.0,859.0 1062.0,859.5 1063.0,854.5 1064.0,854.6 1065.0,856.1 1066.0,859.1 1067.0,851.6 1068.0,854.8 1069.0,851.9 1070.0,849.3 1071.0,861.4 1072.0,855.6 1073.0,854.8 1074.0,856.0 1075.0,861.7 1076.0,861.3 1077.0,856.9 1078.0,859.9 1079.0,858.1 1080.0,857.1 1081.0,856.9 1082.0,858.3 1083.0,854.1 1084.0,859.6 1085.0,846.4 1086.0,860.6 1087.0,857.5 1088.0,857.7 1089.0,862.3 1090.0,863.1 1091.0,861.2 1092.0,852.6 1093.0,861.5 1094.0,853.6 1095.0,853.7 1096.0,859.3 1097.0,857.9 1098.0,857.1 1099.0,861.2 1100.0,855.8 1101.0,854.8 1102.0,861.3 1103.0,862.1 1104.0,859.4 1105.0,859.6 1106.0,858.7 1107.0,861.7 1108.0,860.3 1109.0,853.9 1110.0,847.0 1111.0,859.6 1112.0,858.6 1113.0,858.8 1114.0,863.1 1115.0,850.9 1116.0,846.1 1117.0,854.6 1118.0,853.4 1119.0,851.6 1120.0,848.7 1121.0,859.3 1122.0,853.7 1123.0,862.2 1124.0,855.1 1125.0,859.7 1126.0,850.7 1127.0,860.7 1128.0,855.9 1129.0,855.3 1130.0,858.3 1131.0,864.4 1132.0,856.4 1133.0,853.6 1134.0,861.1 1135.0,856.1 1136.0,856.3 1137.0,861.1 1138.0,860.3 1139.0,858.0 1140.0,861.8 1141.0,859.7 1142.0,853.2 1143.0,857.4 1144.0,856.9 1145.0,858.7 1146.0,858.7 1147.0,861.2 1148.0,861.9 1149.0,857.6 1150.0,856.7 1151.0,857.9 1152.0,861.7 1153.0,858.6 1154.0,852.7 1155.0,860.1 1156.0,853.3 1157.0,854.0 1158.0,855.9 1159.0,863.3 1160.0,855.6 1161.0,863.3 1162.0,860.0 1163.0,860.7 1164.0,854.0 1165.0,865.0 1166.0,858.2 1167.0,859.6 1168.0,857.6 1169.0,856.2 1170.0,867.9 1171.0,859.5 1172.0,861.7 1173.0,863.1 1174.0,866.9 1175.0,865.0 1176.0,861.0 1177.0,862.1 1178.0,859.1 1179.0,856.6 1180.0,857.2 1181.0,861.3 1182.0,864.7 1183.0,856.9 1184.0,863.8 1185.0,863.2 1186.0,865.5 1187.0,862.5 1188.0,862.6 1189.0,865.8 1190.0,868.6 1191.0,864.2 1192.0,861.9 1193.0,862.7 1194.0,866.1 1195.0,862.1 1196.0,860.6 1197.0,861.4 1198.0,859.9 1199.0,867.6 1200.0,862.4 1201.0,862.0 1202.0,866.4 1203.0,861.9 1204.0,864.6 1205.0,861.4 1206.0,862.0 1207.0,857.0 1208.0,862.9 1209.0,860.3 1210.0,862.5 1211.0,865.1 1212.0,863.4 1213.0,862.7 1214.0,864.2 1215.0,861.6 1216.0,857.4 1217.0,857.0 1218.0,861.6 1219.0,860.3 1220.0,860.6 1221.0,854.1 1222.0,862.2 1223.0,863.1 1224.0,861.8 1225.0,858.3 1226.0,858.9 1227.0,866.4 1228.0,856.4 1229.0,860.0 1230.0,862.5 1231.0,861.0 1232.0,860.2 1233.0,865.2 1234.0,866.4 1235.0,858.9 1236.0,865.7 1237.0,867.8 1238.0,868.2 1239.0,863.5 1240.0,864.9 1241.0,863.3 1242.0,857.8 1243.0,859.7 1244.0,865.5 1245.0,862.3 1246.0,858.6 1247.0,861.3 1248.0,861.5 1249.0,859.7 1250.0,854.2 1251.0,856.4 1252.0,860.4 1253.0,854.9 1254.0,864.2 1255.0,861.1 1256.0,857.7 1257.0,855.9 1258.0,864.5 1259.0,861.9 1260.0,863.7 1261.0,859.4 1262.0,864.7 1263.0,864.4 1264.0,860.5 1265.0,861.0 1266.0,856.4 1267.0,861.7 1268.0,858.1 1269.0,857.2 1270.0,859.6 1271.0,856.9 1272.0,849.5 1273.0,853.3 1274.0,850.3 1275.0,850.6 1276.0,852.4 1277.0,855.6 1278.0,856.2 1279.0,857.9 1280.0,855.1 1281.0,853.3 1282.0,850.6 1283.0,852.1 1284.0,852.3 1285.0,852.2 1286.0,848.7 1287.0,851.6 1288.0,855.7 1289.0,850.3 1290.0,848.1 1291.0,851.5 1292.0,848.6 1293.0,845.5 1294.0,848.7 1295.0,845.1 1296.0,852.0 1297.0,849.9 1298.0,846.5 1299.0,848.9 1300.0,847.9 1301.0,856.5 1302.0,850.6 1303.0,853.2 1304.0,846.9 1305.0,850.4 1306.0,855.5 1307.0,855.1 1308.0,857.3 1309.0,851.5 1310.0,861.6 1311.0,856.7 1312.0,849.9 1313.0,851.9 1314.0,852.5 1315.0,844.6 1316.0,848.5 1317.0,848.1 1318.0,850.8 1319.0,850.9 1320.0,846.0 1321.0,851.1 1322.0,851.7 1323.0,850.1 1324.0,847.8 1325.0,844.9 1326.0,846.6 1327.0,847.0 1328.0,842.6 1329.0,843.0 1330.0,852.9 1331.0,851.4 1332.0,846.1 1333.0,844.7 1334.0,847.4 1335.0,846.5 1336.0,845.8 1337.0,852.4 1338.0,853.8 1339.0,848.7 1340.0,850.4 1341.0,847.4 1342.0,850.7 1343.0,851.1 1344.0,848.3 1345.0,842.4 1346.0,851.3 1347.0,850.6 1348.0,852.8 1349.0,853.6 1350.0,852.5 1351.0,850.7 1352.0,854.0 1353.0,858.0 1354.0,856.9 1355.0,853.9 1356.0,854.0 1357.0,853.3 1358.0,849.0 1359.0,856.0 1360.0,852.6 1361.0,855.0 1362.0,850.5 1363.0,849.4 1364.0,856.8 1365.0,849.6 1366.0,855.6 1367.0,855.8 1368.0,854.9 1369.0,854.0 1370.0,852.3 1371.0,857.9 1372.0,850.4 1373.0,846.9 1374.0,845.8 1375.0,851.0 1376.0,849.7 1377.0,850.7 1378.0,853.9 1379.0,848.6 1380.0,847.9 1381.0,856.9 1382.0,850.7 1383.0,851.8 1384.0,850.3 1385.0,850.9 1386.0,850.0 1387.0,842.6 1388.0,843.3 1389.0,845.0 1390.0,850.4 1391.0,851.4 1392.0,849.8 1393.0,850.0 1394.0,854.3 1395.0,851.1 1396.0,848.9 1397.0,846.8 1398.0,850.8 1399.0,849.7 1400.0,848.2 1401.0,848.3 1402.0,847.2 1403.0,853.7 1404.0,843.4 1405.0,852.2 1406.0,853.1 1407.0,848.8 1408.0,845.6 1409.0,857.8 1410.0,853.5 1411.0,854.1 1412.0,858.1 1413.0,857.1 1414.0,852.4 1415.0,855.4 1416.0,855.1 1417.0,859.1 1418.0,862.7 1419.0,852.5 1420.0,858.5 1421.0,863.8 1422.0,857.6 1423.0,856.6 1424.0,856.7 1425.0,860.4 1426.0,857.0 1427.0,861.4 1428.0,862.5 1429.0,859.3 1430.0,857.2 1431.0,858.8 1432.0,860.9 1433.0,862.7 1434.0,864.9 1435.0,863.3 1436.0,864.0 1437.0,861.2 1438.0,860.9 1439.0,861.8 1440.0,860.7 1441.0,861.0 1442.0,870.0 1443.0,863.9 1444.0,869.5 1445.0,867.0 1446.0,862.5 1447.0,870.4 1448.0,869.1 1449.0,868.7 1450.0,867.5 1451.0,868.7 1452.0,867.1 1453.0,868.8 1454.0,865.9 1455.0,865.2 1456.0,866.5 1457.0,867.0 1458.0,860.9 1459.0,865.2 1460.0,855.5 1461.0,867.8 1462.0,867.7 1463.0,864.9 1464.0,865.4 1465.0,863.4 1466.0,862.1 1467.0,861.9 1468.0,866.5 1469.0,865.9 1470.0,862.6 1471.0,866.4 1472.0,857.3 1473.0,864.3 1474.0,865.7 1475.0,859.7 1476.0,868.9 1477.0,860.5 1478.0,863.7 1479.0,863.1 1480.0,863.2 1481.0,865.2 1482.0,868.9 1483.0,866.2 1484.0,864.0 1485.0,864.4 1486.0,864.4 1487.0,863.3 1488.0,867.0 1489.0,867.0 1490.0,866.3 1491.0,864.3 1492.0,863.5 1493.0,862.0 1494.0,858.4 1495.0,862.8 1496.0,868.0 1497.0,862.5 1498.0,862.4 1499.0,861.6 1500.0,865.4 1501.0,864.2 1502.0,865.5 1503.0,862.6 1504.0,866.4 1505.0,864.7 1506.0,866.4 1507.0,864.8 1508.0,865.3 1509.0,868.1 1510.0,864.8 1511.0,856.4 1512.0,856.3 1513.0,855.8 1514.0,857.9 1515.0,857.1 1516.0,854.2 1517.0,854.9 1518.0,854.0 1519.0,857.8 1520.0,856.4 1521.0,858.5 1522.0,859.1 1523.0,849.9 1524.0,852.8 1525.0,853.5 1526.0,855.2 1527.0,848.7 1528.0,851.7 1529.0,853.5 1530.0,847.9 1531.0,847.6 1532.0,845.1 1533.0,840.9 1534.0,844.6 1535.0,846.8 1536.0,842.8 1537.0,847.6 1538.0,851.9 1539.0,847.0 1540.0,848.4 1541.0,846.0 1542.0,847.0 1543.0,848.2 1544.0,848.4 1545.0,845.9 1546.0,845.0 1547.0,844.5 1548.0,845.9 1549.0,846.9 1550.0,846.3 1551.0,855.5 1552.0,845.1 1553.0,846.6 1554.0,851.6 1555.0,846.8 1556.0,847.2 1557.0,843.2 1558.0,845.4 1559.0,846.8 1560.0,847.0 1561.0,844.5 1562.0,848.1 1563.0,844.1 1564.0,848.5 1565.0,853.8 1566.0,843.7 1567.0,847.4 1568.0,849.6 1569.0,849.4 1570.0,847.2 1571.0,843.0 1572.0,848.0 1573.0,845.7 1574.0,849.1 1575.0,845.1 1576.0,843.3 1577.0,843.9 1578.0,845.6 1579.0,849.8 1580.0,847.9 1581.0,843.7 1582.0,847.7 1583.0,843.2 1584.0,856.3 1585.0,848.6 1586.0,846.7 1587.0,847.1 1588.0,846.5 1589.0,852.2 1590.0,847.7 1591.0,849.4 1592.0,849.1 1593.0,848.4 1594.0,843.5 1595.0,853.4 1596.0,852.2 1597.0,854.6 1598.0,847.7 1599.0,849.5 1600.0,844.9 1601.0,850.1 1602.0,851.2 1603.0,849.2 1604.0,852.0 1605.0,855.4 1606.0,848.3 1607.0,855.0 1608.0,848.8 1609.0,849.8 1610.0,853.4 1611.0,845.3 1612.0,848.7 1613.0,848.8 1614.0,849.9 1615.0,854.6 1616.0,854.3 1617.0,849.7 1618.0,851.2 1619.0,854.9 1620.0,854.2 1621.0,855.4 1622.0,858.3 1623.0,854.0 1624.0,846.0 1625.0,848.2 1626.0,851.8 1627.0,852.6 1628.0,851.6 1629.0,851.7 1630.0,853.2 1631.0,850.3 1632.0,854.7 1633.0,856.4 1634.0,846.0 1635.0,850.3 1636.0,851.1 1637.0,852.7 1638.0,854.2 1639.0,852.7 1640.0,851.4 1641.0,860.8 1642.0,860.3 1643.0,860.2 1644.0,852.3 1645.0,851.9 1646.0,848.1 1647.0,854.0 1648.0,855.7 1649.0,856.2 1650.0,851.0 1651.0,858.3 1652.0,856.2 1653.0,855.9 1654.0,852.3 1655.0,854.4 1656.0,850.9 1657.0,858.0 1658.0,851.2 1659.0,849.5 1660.0,850.5 1661.0,851.5 1662.0,845.9 1663.0,857.0 1664.0,850.4 1665.0,850.9 1666.0,851.4 1667.0,852.3 1668.0,852.8 1669.0,854.6 1670.0,854.1 1671.0,854.7 1672.0,857.3 1673.0,859.6 1674.0,855.4 1675.0,854.6 1676.0,857.7 1677.0,855.7 1678.0,864.5 1679.0,861.2 1680.0,855.9 1681.0,855.4 1682.0,855.3 1683.0,853.7 1684.0,860.1 1685.0,863.2 1686.0,861.1 1687.0,857.4 1688.0,858.6 1689.0,850.2 1690.0,853.7 1691.0,852.7 1692.0,858.5 1693.0,856.2 1694.0,857.2 1695.0,856.4 1696.0,853.7 1697.0,856.6 1698.0,854.5 1699.0,856.4 1700.0,859.9 1701.0,859.4 1702.0,860.5 1703.0,857.7 1704.0,856.0 1705.0,858.5 1706.0,859.3 1707.0,859.8 1708.0,860.2 1709.0,859.2 1710.0,854.0 1711.0,860.3 1712.0,859.7 1713.0,854.6 1714.0,857.4 1715.0,853.2 1716.0,858.7 1717.0,861.4 1718.0,857.2 1719.0,858.1 1720.0,851.4 1721.0,854.1 1722.0,858.4 1723.0,855.7 1724.0,858.2 1725.0,858.1 1726.0,858.4 1727.0,855.5 1728.0,851.6 1729.0,853.3 1730.0,851.8 1731.0,856.5 1732.0,851.8 1733.0,850.2 1734.0,851.6 1735.0,855.2 1736.0,858.0 1737.0,853.8 1738.0,854.6 1739.0,852.7 1740.0,861.9 1741.0,856.8 1742.0,852.8 1743.0,857.0 1744.0,847.0 1745.0,855.0 1746.0,852.0 1747.0,858.5 1748.0,850.9 1749.0,849.1 1750.0,852.4 1751.0,852.9 1752.0,862.0 1753.0,854.5 1754.0,859.1 1755.0,854.7 1756.0,852.5 1757.0,848.6 1758.0,856.4 1759.0,856.6 1760.0,852.4 1761.0,862.4 1762.0,857.3 1763.0,858.1 1764.0,860.6 1765.0,860.2 1766.0,858.3 1767.0,858.7 1768.0,859.1 1769.0,851.0 1770.0,855.2 1771.0,853.4 1772.0,863.9 1773.0,855.8 1774.0,853.5 1775.0,857.1 1776.0,854.5 1777.0,856.5 1778.0,853.3 1779.0,856.8 1780.0,857.8 1781.0,856.6 1782.0,854.1 1783.0,852.8 1784.0,849.1 1785.0,852.8 1786.0,853.6 1787.0,852.5 1788.0,855.7 1789.0,857.0 1790.0,858.2 1791.0,859.4 1792.0,863.5 1793.0,861.4 1794.0,857.1 1795.0,859.2 1796.0,859.1 1797.0,853.6 1798.0,856.7 1799.0,855.8 1800.0,860.6 1801.0,855.0 1802.0,857.8 1803.0,857.1 1804.0,853.8 1805.0,861.2 1806.0,855.5 1807.0,859.8 1808.0,859.7 1809.0,852.1 1810.0,863.1 1811.0,852.8 1812.0,852.0 1813.0,850.2 1814.0,856.5 1815.0,855.3 1816.0,855.6 1817.0,861.5 1818.0,854.2 1819.0,857.2 1820.0,854.6 1821.0,861.2 1822.0,851.7 1823.0,854.8 1824.0,855.8 1825.0,854.0 1826.0,860.8 1827.0,853.0 1828.0,857.4 1829.0,863.6 1830.0,854.1 1831.0,861.9 1832.0,858.2 1833.0,859.3 1834.0,856.1 1835.0,854.7 1836.0,856.8 1837.0,864.6 1838.0,861.2 1839.0,854.5 1840.0,866.8 1841.0,856.8 1842.0,854.3 1843.0,862.8 1844.0,859.4 1845.0,863.0 1846.0,856.9 1847.0,861.4 1848.0,857.3 1849.0,859.5 1850.0,861.6 1851.0,856.6 1852.0,856.8 1853.0,855.4 1854.0,857.8 1855.0,858.3 1856.0,860.2 1857.0,857.9 1858.0,856.9 1859.0,857.8 1860.0,863.1 1861.0,858.5 1862.0,860.9 1863.0,858.4 1864.0,860.1 1865.0,857.8 1866.0,860.7 1867.0,854.7 1868.0,857.4 1869.0,854.8 1870.0,851.2 1871.0,852.7 1872.0,852.0 1873.0,856.2 1874.0,858.0 1875.0,862.5 1876.0,861.9 1877.0,857.0 1878.0,857.5 1879.0,855.8 1880.0,861.7 1881.0,863.7 1882.0,860.0 1883.0,859.8 1884.0,857.7 1885.0,858.4 1886.0,860.5 1887.0,862.8 1888.0,861.7 1889.0,860.7 1890.0,864.1 1891.0,858.3 1892.0,856.8 1893.0,861.0 1894.0,857.9 1895.0,861.1 1896.0,861.1 1897.0,859.3 1898.0,859.2 1899.0,857.7 1900.0,858.0 1901.0,863.0 1902.0,857.0 1903.0,862.5 1904.0,861.8 1905.0,861.8 1906.0,861.2 1907.0,858.6 1908.0,861.3 1909.0,862.9 1910.0,864.1 1911.0,862.4 1912.0,861.5 1913.0,864.7 1914.0,865.0 1915.0,858.8 1916.0,855.8 1917.0,862.1 1918.0,856.0 1919.0,860.6 1920.0,861.2 1921.0,864.0 1922.0,863.6 1923.0,863.3 1924.0,853.6 1925.0,858.0 1926.0,856.9 1927.0,862.0 1928.0,868.8 1929.0,862.0 1930.0,864.6 1931.0,856.1 1932.0,859.0 1933.0,862.6 1934.0,857.4 1935.0,857.7 1936.0,858.4 1937.0,863.6 1938.0,864.8 1939.0,862.0 1940.0,860.9 1941.0,863.5 1942.0,866.4 1943.0,861.9 1944.0,863.1 1945.0,860.9 1946.0,863.1 1947.0,866.6 1948.0,861.2 1949.0,861.8 1950.0,861.2 1951.0,860.9 1952.0,860.0 1953.0,864.2 1954.0,860.5 1955.0,863.8 1956.0,863.9 1957.0,869.0 1958.0,866.7 1959.0,861.6 1960.0,863.8 1961.0,856.4 1962.0,866.9 1963.0,864.7 1964.0,858.9 1965.0,866.3 1966.0,863.8 1967.0,865.2 1968.0,864.2 1969.0,860.1 1970.0,865.8 1971.0,863.4 1972.0,862.9 1973.0,869.1 1974.0,864.1 1975.0,864.1 1976.0,867.7 1977.0,871.3 1978.0,861.7 1979.0,858.5 1980.0,856.6 1981.0,861.9 1982.0,856.7 1983.0,860.0 1984.0,853.3 1985.0,859.7 1986.0,855.0 1987.0,850.8 1988.0,852.1 1989.0,859.2 1990.0,857.4 1991.0,862.5 1992.0,859.4 1993.0,854.3 1994.0,858.9 1995.0,860.9 1996.0,861.3 1997.0,863.4 1998.0,859.0 1999.0,856.8 2000.0,862.9 2001.0,856.4 2002.0,859.5 2003.0,857.9 2004.0,864.1 2005.0,865.7 2006.0,857.3 2007.0,865.5 2008.0,861.4 2009.0,865.4 2010.0,860.9 2011.0,864.2 2012.0,859.0 2013.0,859.2 2014.0,858.3 2015.0,867.8 2016.0,859.2 2017.0,865.4 2018.0,868.8 2019.0,863.5 2020.0,866.4 2021.0,867.4 2022.0,860.7 2023.0,869.1 2024.0,868.1 2025.0,869.0 2026.0,865.1 2027.0,865.8 2028.0,869.4 2029.0,869.2 2030.0,866.2 2031.0,864.8 2032.0,868.1 2033.0,864.8 2034.0,861.2 2035.0,861.5 2036.0,867.4 2037.0,867.9 2038.0,870.3 2039.0,866.6 2040.0,866.2 2041.0,864.8 2042.0,868.9 2043.0,869.3 2044.0,867.4 2045.0,865.4 2046.0,869.3 2047.0,868.9 2048.0,865.5 2049.0,872.8 2050.0,867.3 2051.0,870.6 2052.0,871.1 2053.0,870.3 2054.0,875.7 2055.0,877.1 2056.0,876.5 2057.0,875.1 2058.0,876.5 2059.0,882.6 2060.0,882.8 2061.0,878.1 2062.0,878.4 2063.0,875.4 2064.0,882.3 2065.0,879.9 2066.0,879.3 2067.0,872.3 2068.0,875.6 2069.0,873.0 2070.0,879.4 2071.0,887.1 2072.0,879.9 2073.0,878.3 2074.0,878.9 2075.0,871.1 2076.0,873.9 2077.0,873.9 2078.0,872.3 2079.0,865.2 2080.0,868.5 2081.0,867.7 2082.0,877.0 2083.0,875.6 2084.0,875.7 2085.0,876.3 2086.0,874.6 2087.0,872.4 2088.0,874.6 2089.0,874.5 2090.0,870.2 2091.0,876.5 2092.0,873.0 2093.0,881.5 2094.0,866.2 2095.0,872.4 2096.0,871.8 2097.0,873.6 2098.0,871.2 2099.0,868.2 2100.0,867.0 2101.0,867.0 2102.0,865.3 2103.0,861.8 2104.0,862.5 2105.0,857.7 2106.0,862.2 2107.0,865.2 2108.0,857.5 2109.0,859.0 2110.0,867.3 2111.0,854.8 2112.0,856.7 2113.0,855.5 2114.0,857.5 2115.0,864.0 2116.0,862.7 2117.0,856.6 2118.0,861.4 2119.0,853.4 2120.0,857.3 2121.0,860.2 2122.0,862.4 2123.0,859.8 2124.0,864.7 2125.0,861.0 2126.0,861.3 2127.0,858.1 2128.0,863.3 2129.0,860.0 2130.0,863.6 2131.0,856.6 2132.0,857.8 2133.0,862.5 2134.0,859.8 2135.0,863.1 2136.0,860.0 2137.0,859.7 2138.0,859.8 2139.0,859.7 2140.0,855.3 2141.0,855.2 2142.0,864.2 2143.0,857.6 2144.0,862.8 2145.0,860.1 2146.0,869.1 2147.0,858.9 2148.0,862.1 2149.0,862.4 2150.0,860.8 2151.0,871.4 2152.0,865.2 2153.0,864.5 2154.0,857.4 2155.0,863.3 2156.0,858.5 2157.0,866.7 2158.0,863.0 2159.0,860.6 2160.0,868.4 2161.0,865.7 2162.0,866.1 2163.0,864.1 2164.0,866.5 2165.0,864.5 2166.0,865.7 2167.0,859.9 2168.0,866.6 2169.0,863.3 2170.0,866.5 2171.0,866.8 2172.0,872.6 2173.0,866.5 2174.0,865.1 2175.0,870.0 2176.0,866.8 2177.0,864.2 2178.0,869.8 2179.0,874.3 2180.0,869.7 2181.0,867.7 2182.0,864.7 2183.0,868.7 2184.0,871.7 2185.0,874.4 2186.0,870.5 2187.0,871.4 2188.0,874.8 2189.0,878.0 2190.0,883.6 2191.0,874.8 2192.0,873.6 2193.0,874.5 2194.0,872.0 2195.0,871.5 2196.0,873.5 2197.0,874.6 2198.0,878.1 2199.0,870.8 2200.0,873.2 2201.0,875.3 2202.0,871.9 2203.0,871.9 2204.0,868.7 2205.0,872.2 2206.0,871.6 2207.0,879.9 2208.0,880.9 2209.0,879.5 2210.0,874.1 2211.0,880.8 2212.0,875.7 2213.0,874.4 2214.0,875.8 2215.0,870.4 2216.0,868.1 2217.0,871.5 2218.0,869.7 2219.0,869.5 2220.0,872.9 2221.0,865.7 2222.0,861.1 2223.0,867.4 2224.0,866.1 2225.0,868.3 2226.0,868.3 2227.0,864.7 2228.0,872.8 2229.0,865.0 2230.0,865.5 2231.0,869.0 2232.0,869.1 2233.0,869.1 2234.0,863.9 2235.0,873.7 2236.0,875.7 2237.0,868.0 2238.0,869.3 2239.0,869.3 2240.0,869.5 2241.0,868.4 2242.0,875.4 2243.0,875.3 2244.0,868.2 2245.0,867.4 2246.0,872.9 2247.0,869.4 2248.0,860.3 2249.0,868.4 2250.0,867.8 2251.0,864.4 2252.0,862.2 2253.0,864.6 2254.0,868.2 2255.0,871.7 2256.0,868.9 2257.0,874.5 2258.0,870.7 2259.0,871.1 2260.0,873.0 2261.0,873.3 2262.0,871.1 2263.0,873.9 2264.0,873.8 2265.0,871.8 2266.0,875.5 2267.0,873.2 2268.0,870.4 2269.0,872.4 2270.0,875.0 2271.0,873.8 2272.0,871.5 2273.0,879.1 2274.0,873.1 2275.0,874.4 2276.0,870.4 2277.0,872.7 2278.0,871.6 2279.0,870.9 2280.0,869.9 2281.0,873.7 2282.0,871.2 2283.0,869.5 2284.0,873.6 2285.0,872.3 2286.0,872.4 2287.0,877.0 2288.0,870.2 2289.0,868.0 2290.0,872.7 2291.0,873.8 2292.0,867.0 2293.0,865.4 2294.0,867.0 2295.0,868.4 2296.0,870.4 2297.0,872.5 2298.0,875.0 2299.0,869.6 2300.0,876.2 2301.0,872.2 2302.0,873.8 2303.0,882.1 2304.0,881.9 2305.0,877.7 2306.0,882.9 2307.0,876.5 2308.0,886.1 2309.0,882.7 2310.0,884.0 2311.0,885.1 2312.0,876.9 2313.0,884.1 2314.0,882.1 2315.0,884.7 2316.0,884.1 2317.0,888.3"/>
<polyline clip-path="url(#c1)" fill="none" stroke="#D95319" stroke-width="6.6" stroke-linejoin="round" stroke-linecap="round" points="290.0,941.0 291.0,869.0 292.0,935.0 293.0,870.0 294.0,920.0 295.0,860.0 296.0,890.0 297.0,820.0 298.0,868.0 299.0,800.0 300.0,868.0 300.5,798.5 301.5,868.0 302.5,808.0 304.0,866.0 306.0,820.0 308.0,862.0 310.0,835.4 311.0,836.3 312.0,838.6 313.0,838.2 314.0,842.4 315.0,841.3 316.0,844.1 317.0,845.9 318.0,845.9 319.0,850.0 320.0,847.1 321.0,849.1 322.0,850.8 323.0,848.8 324.0,854.6 325.0,853.6 326.0,855.4 327.0,853.0 328.0,853.3 329.0,857.8 330.0,857.7 331.0,858.5 332.0,858.1 333.0,858.7 334.0,852.8 335.0,849.2 336.0,850.7 337.0,849.4 338.0,848.3 339.0,852.7 340.0,853.9 341.0,855.1 342.0,855.8 343.0,853.0 344.0,853.9 345.0,855.6 346.0,851.6 347.0,853.0 348.0,856.9 349.0,854.9 350.0,856.0 351.0,857.0 352.0,860.3 353.0,856.5 354.0,854.1 355.0,853.3 356.0,853.1 357.0,858.7 358.0,846.3 359.0,854.6 360.0,852.6 361.0,853.6 362.0,849.0 363.0,858.3 364.0,856.4 365.0,852.9 366.0,855.4 367.0,852.6 368.0,853.9 369.0,854.6 370.0,858.9 371.0,858.5 372.0,855.0 373.0,856.8 374.0,856.6 375.0,855.5 376.0,848.7 377.0,856.9 378.0,851.6 379.0,852.6 380.0,854.0 381.0,855.0 382.0,858.4 383.0,849.5 384.0,858.1 385.0,859.0 386.0,853.9 387.0,855.8 388.0,854.6 389.0,855.5 390.0,855.3 391.0,854.0 392.0,856.2 393.0,857.1 394.0,862.5 395.0,855.5 396.0,851.1 397.0,856.6 398.0,855.0 399.0,856.1 400.0,854.8 401.0,852.7 402.0,856.4 403.0,859.5 404.0,858.4 405.0,854.3 406.0,858.8 407.0,851.1 408.0,851.9 409.0,854.5 410.0,851.1 411.0,850.2 412.0,853.3 413.0,851.7 414.0,850.6 415.0,851.2 416.0,849.8 417.0,849.6 418.0,859.4 419.0,848.4 420.0,853.3 421.0,847.4 422.0,852.1 423.0,851.8 424.0,852.1 425.0,848.7 426.0,847.2 427.0,855.1 428.0,851.0 429.0,850.0 430.0,858.9 431.0,857.5 432.0,852.9 433.0,851.7 434.0,852.7 435.0,854.7 436.0,852.7 437.0,850.4 438.0,850.5 439.0,852.9 440.0,849.6 441.0,852.1 442.0,855.2 443.0,857.0 444.0,853.8 445.0,854.8 446.0,858.8 447.0,851.7 448.0,852.5 449.0,855.5 450.0,858.0 451.0,858.4 452.0,849.0 453.0,859.0 454.0,858.2 455.0,856.3 456.0,857.4 457.0,859.5 458.0,855.4 459.0,853.7 460.0,850.9 461.0,857.3 462.0,854.8 463.0,854.4 464.0,853.6 465.0,859.2 466.0,861.0 467.0,861.4 468.0,854.6 469.0,859.4 470.0,857.1 471.0,849.8 472.0,858.2 473.0,849.8 474.0,851.8 475.0,858.5 476.0,858.8 477.0,852.9 478.0,854.5 479.0,857.3 480.0,852.3 481.0,856.9 482.0,855.2 483.0,859.3 484.0,858.3 485.0,854.8 486.0,856.2 487.0,856.2 488.0,852.6 489.0,853.1 490.0,854.8 491.0,855.3 492.0,860.2 493.0,855.9 494.0,853.5 495.0,857.3 496.0,859.2 497.0,862.5 498.0,855.0 499.0,858.6 500.0,856.5 501.0,850.6 502.0,853.1 503.0,853.9 504.0,852.7 505.0,855.2 506.0,855.4 507.0,856.5 508.0,851.3 509.0,849.7 510.0,854.8 511.0,853.6 512.0,856.6 513.0,853.1 514.0,858.4 515.0,849.7 516.0,852.7 517.0,857.9 518.0,859.5 519.0,852.8 520.0,860.8 521.0,859.1 522.0,855.9 523.0,852.3 524.0,848.9 525.0,854.0 526.0,854.4 527.0,857.2 528.0,854.9 529.0,853.5 530.0,857.1 531.0,852.5 532.0,857.2 533.0,854.0 534.0,859.4 535.0,854.3 536.0,851.6 537.0,854.8 538.0,851.8 539.0,855.5 540.0,852.6 541.0,854.0 542.0,857.3 543.0,854.7 544.0,855.4 545.0,862.8 546.0,857.6 547.0,858.8 548.0,855.6 549.0,852.7 550.0,857.0 551.0,854.0 552.0,848.6 553.0,857.0 554.0,857.3 555.0,851.4 556.0,859.4 557.0,856.1 558.0,854.3 559.0,852.5 560.0,858.3 561.0,851.8 562.0,853.8 563.0,855.9 564.0,855.1 565.0,853.0 566.0,855.1 567.0,855.3 568.0,861.1 569.0,856.5 570.0,860.3 571.0,856.3 572.0,856.3 573.0,857.3 574.0,856.7 575.0,856.9 576.0,858.6 577.0,858.4 578.0,851.1 579.0,853.7 580.0,861.7 581.0,856.5 582.0,850.8 583.0,858.0 584.0,862.8 585.0,861.5 586.0,857.3 587.0,859.2 588.0,861.1 589.0,859.0 590.0,859.2 591.0,864.5 592.0,857.9 593.0,861.2 594.0,854.8 595.0,858.8 596.0,858.5 597.0,862.0 598.0,857.0 599.0,856.0 600.0,854.4 601.0,858.8 602.0,863.2 603.0,855.2 604.0,858.1 605.0,857.1 606.0,858.3 607.0,860.8 608.0,863.2 609.0,853.7 610.0,861.5 611.0,863.5 612.0,856.6 613.0,859.7 614.0,858.3 615.0,857.7 616.0,856.9 617.0,860.2 618.0,860.3 619.0,858.9 620.0,860.5 621.0,855.6 622.0,858.3 623.0,858.3 624.0,856.6 625.0,854.6 626.0,858.7 627.0,858.2 628.0,859.6 629.0,854.3 630.0,857.7 631.0,859.1 632.0,858.5 633.0,862.7 634.0,865.0 635.0,857.2 636.0,857.9 637.0,855.7 638.0,854.7 639.0,859.6 640.0,856.6 641.0,853.2 642.0,858.1 643.0,858.3 644.0,859.1 645.0,858.4 646.0,860.3 647.0,859.8 648.0,858.6 649.0,856.9 650.0,856.9 651.0,858.6 652.0,856.9 653.0,857.3 654.0,855.5 655.0,862.7 656.0,856.6 657.0,855.8 658.0,854.1 659.0,857.5 660.0,852.2 661.0,849.8 662.0,857.6 663.0,856.9 664.0,855.8 665.0,852.9 666.0,860.2 667.0,856.3 668.0,850.6 669.0,850.8 670.0,853.6 671.0,861.6 672.0,855.6 673.0,851.0 674.0,853.4 675.0,855.7 676.0,856.2 677.0,852.3 678.0,850.8 679.0,852.0 680.0,854.7 681.0,854.1 682.0,853.8 683.0,855.2 684.0,853.9 685.0,852.3 686.0,854.8 687.0,856.8 688.0,855.9 689.0,858.6 690.0,859.3 691.0,854.7 692.0,860.3 693.0,853.2 694.0,858.4 695.0,854.0 696.0,856.7 697.0,857.7 698.0,858.8 699.0,852.7 700.0,855.9 701.0,854.0 702.0,855.8 703.0,859.4 704.0,855.7 705.0,859.6 706.0,856.6 707.0,857.0 708.0,855.3 709.0,855.7 710.0,858.6 711.0,860.0 712.0,858.8 713.0,855.8 714.0,854.8 715.0,854.0 716.0,861.3 717.0,858.9 718.0,861.3 719.0,856.6 720.0,863.8 721.0,858.2 722.0,858.3 723.0,856.3 724.0,854.5 725.0,859.0 726.0,857.8 727.0,857.9 728.0,854.3 729.0,852.0 730.0,853.1 731.0,858.1 732.0,858.5 733.0,853.8 734.0,855.2 735.0,852.9 736.0,853.2 737.0,858.3 738.0,855.6 739.0,859.0 740.0,861.0 741.0,858.8 742.0,856.6 743.0,866.2 744.0,864.2 745.0,861.7 746.0,861.3 747.0,861.2 748.0,862.8 749.0,855.9 750.0,860.0 751.0,856.9 752.0,860.6 753.0,863.0 754.0,859.9 755.0,864.8 756.0,860.1 757.0,860.1 758.0,863.4 759.0,862.4 760.0,864.1 761.0,861.6 762.0,861.2 763.0,863.8 764.0,858.6 765.0,863.5 766.0,862.6 767.0,861.6 768.0,861.1 769.0,866.3 770.0,856.8 771.0,859.7 772.0,861.6 773.0,866.0 774.0,862.3 775.0,867.9 776.0,867.5 777.0,861.9 778.0,857.0 779.0,865.3 780.0,863.1 781.0,862.7 782.0,866.2 783.0,865.8 784.0,862.5 785.0,862.4 786.0,858.7 787.0,863.7 788.0,859.6 789.0,859.3 790.0,854.3 791.0,858.0 792.0,858.6 793.0,857.5 794.0,857.1 795.0,850.0 796.0,857.4 797.0,852.9 798.0,858.9 799.0,857.1 800.0,857.0 801.0,854.0 802.0,857.8 803.0,850.7 804.0,856.6 805.0,857.0 806.0,860.9 807.0,857.0 808.0,853.8 809.0,850.5 810.0,851.7 811.0,847.7 812.0,854.5 813.0,852.8 814.0,849.5 815.0,855.0 816.0,853.8 817.0,856.6 818.0,855.3 819.0,852.1 820.0,856.9 821.0,858.3 822.0,855.3 823.0,855.4 824.0,854.0 825.0,855.7 826.0,856.2 827.0,860.3 828.0,855.1 829.0,855.2 830.0,863.0 831.0,853.8 832.0,856.1 833.0,854.3 834.0,856.1 835.0,858.7 836.0,859.0 837.0,857.5 838.0,857.7 839.0,855.4 840.0,857.8 841.0,851.5 842.0,856.6 843.0,851.5 844.0,858.6 845.0,852.2 846.0,856.1 847.0,857.5 848.0,859.9 849.0,854.6 850.0,860.1 851.0,859.0 852.0,854.8 853.0,855.2 854.0,861.4 855.0,855.2 856.0,861.4 857.0,855.0 858.0,851.3 859.0,859.4 860.0,854.3 861.0,844.4 862.0,854.1 863.0,850.1 864.0,853.5 865.0,855.5 866.0,855.8 867.0,852.2 868.0,848.9 869.0,855.9 870.0,853.7 871.0,852.6 872.0,848.0 873.0,848.7 874.0,850.7 875.0,849.4 876.0,851.7 877.0,848.9 878.0,848.2 879.0,854.6 880.0,852.3 881.0,854.4 882.0,854.9 883.0,852.3 884.0,849.8 885.0,855.4 886.0,852.0 887.0,847.9 888.0,854.0 889.0,851.2 890.0,850.7 891.0,849.5 892.0,853.1 893.0,855.3 894.0,856.2 895.0,856.1 896.0,854.1 897.0,847.1 898.0,851.6 899.0,850.3 900.0,848.0 901.0,846.2 902.0,846.1 903.0,847.6 904.0,851.8 905.0,850.5 906.0,851.6 907.0,847.8 908.0,848.1 909.0,842.4 910.0,850.6 911.0,851.2 912.0,848.9 913.0,850.6 914.0,849.7 915.0,850.6 916.0,845.5 917.0,848.1 918.0,846.9 919.0,856.5 920.0,856.0 921.0,853.7 922.0,852.7 923.0,855.7 924.0,853.6 925.0,849.3 926.0,852.2 927.0,853.8 928.0,853.3 929.0,853.4 930.0,846.4 931.0,849.1 932.0,845.5 933.0,852.2 934.0,849.9 935.0,846.5 936.0,855.6 937.0,853.6 938.0,848.4 939.0,853.4 940.0,850.5 941.0,857.3 942.0,857.8 943.0,855.0 944.0,856.4 945.0,859.7 946.0,856.4 947.0,851.6 948.0,856.1 949.0,858.0 950.0,857.4 951.0,858.9 952.0,853.7 953.0,848.0 954.0,858.0 955.0,852.2 956.0,854.5 957.0,851.7 958.0,858.6 959.0,851.4 960.0,855.3 961.0,854.0 962.0,858.3 963.0,859.1 964.0,855.7 965.0,856.9 966.0,856.5 967.0,856.8 968.0,853.2 969.0,857.2 970.0,848.5 971.0,855.1 972.0,854.3 973.0,855.3 974.0,856.8 975.0,849.3 976.0,850.9 977.0,854.3 978.0,851.6 979.0,854.5 980.0,852.8 981.0,851.6 982.0,855.6 983.0,855.3 984.0,855.3 985.0,855.3 986.0,859.5 987.0,850.6 988.0,851.9 989.0,858.3 990.0,853.8 991.0,855.8 992.0,856.7 993.0,853.4 994.0,853.2 995.0,853.0 996.0,846.7 997.0,856.9 998.0,856.3 999.0,855.7 1000.0,849.8 1001.0,853.1 1002.0,854.2 1003.0,850.7 1004.0,850.5 1005.0,850.4 1006.0,854.2 1007.0,851.3 1008.0,854.1 1009.0,859.5 1010.0,850.0 1011.0,854.7 1012.0,860.0 1013.0,856.9 1014.0,860.1 1015.0,854.2 1016.0,855.0 1017.0,859.7 1018.0,855.0 1019.0,854.7 1020.0,854.2 1021.0,859.4 1022.0,853.3 1023.0,856.3 1024.0,858.1 1025.0,858.8 1026.0,857.3 1027.0,860.0 1028.0,854.0 1029.0,862.2 1030.0,858.6 1031.0,857.6 1032.0,860.7 1033.0,856.6 1034.0,857.2 1035.0,861.1 1036.0,862.6 1037.0,856.7 1038.0,854.1 1039.0,859.4 1040.0,857.5 1041.0,857.5 1042.0,861.8 1043.0,857.8 1044.0,860.4 1045.0,861.8 1046.0,855.8 1047.0,858.7 1048.0,857.5 1049.0,856.1 1050.0,857.1 1051.0,852.4 1052.0,854.4 1053.0,853.8 1054.0,853.5 1055.0,856.7 1056.0,852.7 1057.0,850.1 1058.0,850.0 1059.0,855.3 1060.0,855.1 1061.0,858.4 1062.0,859.4 1063.0,855.4 1064.0,854.4 1065.0,855.7 1066.0,860.2 1067.0,854.1 1068.0,856.8 1069.0,852.2 1070.0,848.9 1071.0,860.1 1072.0,858.0 1073.0,856.2 1074.0,856.8 1075.0,857.2 1076.0,860.8 1077.0,857.5 1078.0,859.2 1079.0,858.6 1080.0,856.4 1081.0,858.4 1082.0,857.7 1083.0,855.7 1084.0,862.5 1085.0,847.9 1086.0,860.8 1087.0,855.7 1088.0,856.1 1089.0,859.2 1090.0,859.1 1091.0,859.1 1092.0,852.1 1093.0,861.5 1094.0,853.4 1095.0,856.1 1096.0,859.6 1097.0,856.9 1098.0,856.2 1099.0,859.0 1100.0,855.4 1101.0,853.9 1102.0,860.5 1103.0,859.8 1104.0,857.3 1105.0,857.9 1106.0,859.0 1107.0,860.1 1108.0,859.8 1109.0,856.3 1110.0,849.5 1111.0,860.0 1112.0,860.7 1113.0,859.8 1114.0,861.8 1115.0,852.0 1116.0,847.9 1117.0,857.7 1118.0,855.3 1119.0,853.7 1120.0,849.2 1121.0,858.4 1122.0,852.8 1123.0,860.3 1124.0,855.9 1125.0,860.5 1126.0,850.2 1127.0,860.9 1128.0,856.2 1129.0,854.0 1130.0,856.6 1131.0,866.4 1132.0,857.2 1133.0,854.6 1134.0,862.2 1135.0,855.0 1136.0,858.2 1137.0,861.4 1138.0,860.8 1139.0,859.0 1140.0,861.8 1141.0,857.6 1142.0,854.7 1143.0,858.3 1144.0,856.6 1145.0,860.1 1146.0,859.2 1147.0,859.6 1148.0,861.3 1149.0,856.5 1150.0,859.0 1151.0,858.9 1152.0,861.4 1153.0,856.4 1154.0,851.4 1155.0,860.4 1156.0,853.0 1157.0,854.4 1158.0,856.0 1159.0,860.6 1160.0,852.7 1161.0,861.2 1162.0,858.4 1163.0,860.3 1164.0,858.4 1165.0,867.6 1166.0,861.1 1167.0,859.9 1168.0,859.3 1169.0,856.7 1170.0,868.4 1171.0,858.8 1172.0,861.0 1173.0,863.0 1174.0,863.5 1175.0,861.8 1176.0,859.1 1177.0,862.9 1178.0,861.7 1179.0,857.2 1180.0,859.2 1181.0,863.6 1182.0,864.9 1183.0,855.0 1184.0,861.5 1185.0,860.5 1186.0,865.2 1187.0,864.5 1188.0,862.7 1189.0,866.9 1190.0,869.1 1191.0,865.5 1192.0,861.4 1193.0,864.2 1194.0,866.8 1195.0,863.4 1196.0,862.1 1197.0,863.3 1198.0,859.8 1199.0,866.4 1200.0,861.3 1201.0,862.6 1202.0,867.7 1203.0,861.2 1204.0,863.5 1205.0,862.6 1206.0,860.5 1207.0,857.6 1208.0,863.8 1209.0,859.8 1210.0,862.5 1211.0,864.6 1212.0,864.3 1213.0,863.4 1214.0,865.0 1215.0,860.9 1216.0,857.7 1217.0,858.2 1218.0,859.7 1219.0,858.9 1220.0,860.7 1221.0,855.8 1222.0,863.3 1223.0,862.1 1224.0,862.7 1225.0,860.2 1226.0,859.3 1227.0,867.5 1228.0,859.6 1229.0,860.9 1230.0,862.1 1231.0,857.8 1232.0,857.0 1233.0,861.8 1234.0,864.4 1235.0,860.7 1236.0,865.3 1237.0,866.1 1238.0,866.0 1239.0,861.5 1240.0,865.8 1241.0,862.7 1242.0,858.9 1243.0,858.9 1244.0,864.0 1245.0,860.9 1246.0,858.8 1247.0,862.6 1248.0,862.5 1249.0,859.5 1250.0,855.5 1251.0,857.9 1252.0,860.5 1253.0,855.7 1254.0,865.9 1255.0,859.4 1256.0,856.2 1257.0,855.9 1258.0,863.9 1259.0,859.2 1260.0,860.8 1261.0,858.4 1262.0,863.9 1263.0,863.3 1264.0,859.7 1265.0,860.6 1266.0,856.1 1267.0,862.2 1268.0,859.7 1269.0,858.7 1270.0,860.1 1271.0,861.5 1272.0,853.2 1273.0,854.0 1274.0,851.2 1275.0,849.2 1276.0,850.2 1277.0,855.5 1278.0,854.7 1279.0,856.4 1280.0,854.0 1281.0,852.8 1282.0,850.0 1283.0,850.8 1284.0,851.0 1285.0,848.8 1286.0,847.0 1287.0,849.6 1288.0,854.7 1289.0,848.8 1290.0,847.8 1291.0,853.1 1292.0,851.0 1293.0,846.8 1294.0,850.8 1295.0,845.8 1296.0,852.5 1297.0,850.0 1298.0,846.3 1299.0,849.7 1300.0,846.2 1301.0,852.9 1302.0,847.1 1303.0,851.6 1304.0,845.5 1305.0,849.9 1306.0,854.4 1307.0,854.1 1308.0,854.4 1309.0,848.9 1310.0,859.2 1311.0,855.9 1312.0,849.7 1313.0,850.4 1314.0,852.1 1315.0,845.1 1316.0,850.5 1317.0,850.7 1318.0,850.5 1319.0,850.8 1320.0,846.0 1321.0,851.4 1322.0,850.2 1323.0,849.8 1324.0,848.3 1325.0,846.6 1326.0,849.0 1327.0,849.6 1328.0,844.7 1329.0,847.0 1330.0,851.4 1331.0,850.5 1332.0,846.1 1333.0,845.5 1334.0,849.6 1335.0,846.1 1336.0,844.8 1337.0,851.2 1338.0,851.8 1339.0,847.9 1340.0,848.4 1341.0,848.0 1342.0,850.0 1343.0,849.7 1344.0,848.1 1345.0,841.6 1346.0,849.1 1347.0,849.1 1348.0,853.5 1349.0,852.6 1350.0,851.5 1351.0,849.3 1352.0,853.5 1353.0,855.5 1354.0,856.7 1355.0,854.9 1356.0,854.0 1357.0,853.0 1358.0,849.2 1359.0,855.1 1360.0,851.5 1361.0,852.7 1362.0,848.7 1363.0,849.6 1364.0,858.1 1365.0,849.8 1366.0,853.0 1367.0,853.6 1368.0,853.1 1369.0,851.5 1370.0,852.1 1371.0,854.9 1372.0,851.3 1373.0,846.9 1374.0,846.8 1375.0,854.2 1376.0,850.1 1377.0,850.6 1378.0,851.0 1379.0,849.4 1380.0,846.9 1381.0,855.3 1382.0,848.9 1383.0,851.4 1384.0,852.4 1385.0,853.3 1386.0,850.1 1387.0,847.1 1388.0,845.9 1389.0,846.6 1390.0,852.5 1391.0,854.3 1392.0,850.5 1393.0,850.0 1394.0,853.4 1395.0,851.1 1396.0,848.1 1397.0,847.1 1398.0,852.8 1399.0,850.5 1400.0,849.7 1401.0,849.6 1402.0,848.7 1403.0,854.6 1404.0,844.8 1405.0,852.9 1406.0,854.8 1407.0,851.8 1408.0,848.2 1409.0,858.1 1410.0,854.2 1411.0,853.1 1412.0,857.4 1413.0,856.1 1414.0,852.4 1415.0,856.5 1416.0,854.0 1417.0,858.7 1418.0,860.9 1419.0,852.9 1420.0,855.8 1421.0,862.6 1422.0,858.8 1423.0,858.8 1424.0,857.0 1425.0,860.0 1426.0,857.1 1427.0,861.2 1428.0,862.4 1429.0,861.0 1430.0,857.7 1431.0,859.9 1432.0,862.2 1433.0,864.0 1434.0,865.4 1435.0,864.3 1436.0,866.2 1437.0,861.1 1438.0,861.7 1439.0,862.1 1440.0,862.1 1441.0,861.2 1442.0,871.4 1443.0,865.8 1444.0,869.4 1445.0,867.0 1446.0,861.4 1447.0,868.9 1448.0,867.1 1449.0,865.4 1450.0,864.8 1451.0,866.7 1452.0,868.0 1453.0,867.7 1454.0,864.4 1455.0,862.2 1456.0,863.7 1457.0,865.7 1458.0,861.6 1459.0,863.0 1460.0,857.8 1461.0,867.7 1462.0,868.2 1463.0,866.7 1464.0,866.2 1465.0,866.6 1466.0,864.6 1467.0,863.8 1468.0,865.9 1469.0,866.6 1470.0,862.8 1471.0,866.2 1472.0,858.4 1473.0,862.7 1474.0,863.3 1475.0,857.7 1476.0,866.8 1477.0,859.1 1478.0,863.2 1479.0,864.3 1480.0,865.8 1481.0,865.4 1482.0,868.6 1483.0,866.6 1484.0,864.8 1485.0,865.4 1486.0,864.7 1487.0,862.5 1488.0,866.6 1489.0,865.9 1490.0,867.9 1491.0,865.3 1492.0,866.0 1493.0,864.7 1494.0,861.3 1495.0,863.8 1496.0,868.9 1497.0,863.6 1498.0,864.0 1499.0,865.1 1500.0,865.0 1501.0,864.3 1502.0,866.0 1503.0,864.9 1504.0,867.2 1505.0,863.6 1506.0,865.9 1507.0,864.7 1508.0,866.5 1509.0,866.5 1510.0,864.3 1511.0,855.3 1512.0,857.9 1513.0,854.7 1514.0,857.7 1515.0,857.4 1516.0,854.2 1517.0,853.2 1518.0,855.3 1519.0,857.8 1520.0,857.8 1521.0,860.0 1522.0,861.4 1523.0,850.9 1524.0,853.5 1525.0,852.2 1526.0,853.2 1527.0,848.9 1528.0,852.4 1529.0,853.9 1530.0,850.6 1531.0,851.3 1532.0,847.6 1533.0,842.4 1534.0,845.7 1535.0,848.3 1536.0,846.4 1537.0,848.9 1538.0,854.0 1539.0,848.9 1540.0,849.3 1541.0,847.2 1542.0,850.1 1543.0,849.7 1544.0,850.8 1545.0,846.6 1546.0,844.6 1547.0,844.6 1548.0,849.7 1549.0,850.8 1550.0,846.0 1551.0,856.2 1552.0,846.0 1553.0,846.7 1554.0,851.8 1555.0,848.9 1556.0,845.9 1557.0,842.8 1558.0,846.1 1559.0,844.1 1560.0,845.2 1561.0,842.4 1562.0,847.0 1563.0,844.4 1564.0,848.5 1565.0,854.8 1566.0,846.3 1567.0,847.2 1568.0,848.0 1569.0,849.3 1570.0,847.8 1571.0,845.2 1572.0,849.8 1573.0,846.0 1574.0,849.1 1575.0,844.9 1576.0,844.8 1577.0,844.0 1578.0,845.0 1579.0,848.4 1580.0,849.3 1581.0,845.5 1582.0,849.2 1583.0,843.5 1584.0,856.8 1585.0,849.0 1586.0,848.6 1587.0,847.1 1588.0,849.5 1589.0,853.5 1590.0,848.7 1591.0,849.5 1592.0,850.6 1593.0,851.2 1594.0,846.1 1595.0,851.3 1596.0,849.5 1597.0,854.7 1598.0,847.4 1599.0,849.9 1600.0,848.5 1601.0,853.5 1602.0,853.8 1603.0,850.9 1604.0,853.4 1605.0,855.5 1606.0,848.3 1607.0,854.0 1608.0,848.4 1609.0,852.3 1610.0,855.0 1611.0,847.4 1612.0,848.6 1613.0,848.5 1614.0,849.8 1615.0,854.4 1616.0,853.6 1617.0,848.9 1618.0,850.6 1619.0,853.5 1620.0,851.9 1621.0,854.8 1622.0,858.1 1623.0,854.4 1624.0,849.1 1625.0,850.0 1626.0,853.2 1627.0,853.3 1628.0,850.5 1629.0,850.0 1630.0,851.7 1631.0,849.7 1632.0,852.3 1633.0,853.2 1634.0,846.4 1635.0,851.7 1636.0,850.7 1637.0,851.5 1638.0,853.4 1639.0,852.0 1640.0,851.8 1641.0,860.9 1642.0,859.7 1643.0,859.1 1644.0,851.3 1645.0,851.1 1646.0,850.6 1647.0,852.0 1648.0,853.1 1649.0,854.7 1650.0,849.7 1651.0,857.5 1652.0,855.7 1653.0,857.7 1654.0,854.2 1655.0,856.9 1656.0,851.1 1657.0,855.7 1658.0,851.2 1659.0,851.3 1660.0,853.5 1661.0,853.9 1662.0,847.4 1663.0,857.1 1664.0,850.1 1665.0,851.7 1666.0,851.0 1667.0,849.8 1668.0,852.4 1669.0,854.4 1670.0,853.7 1671.0,851.7 1672.0,854.4 1673.0,858.8 1674.0,855.2 1675.0,853.1 1676.0,858.2 1677.0,853.9 1678.0,861.5 1679.0,858.9 1680.0,856.2 1681.0,855.3 1682.0,853.5 1683.0,854.4 1684.0,858.7 1685.0,861.4 1686.0,858.2 1687.0,855.3 1688.0,857.1 1689.0,849.4 1690.0,852.4 1691.0,854.3 1692.0,859.8 1693.0,856.0 1694.0,858.2 1695.0,857.8 1696.0,854.7 1697.0,856.2 1698.0,854.3 1699.0,853.6 1700.0,858.4 1701.0,858.6 1702.0,860.6 1703.0,858.0 1704.0,855.7 1705.0,857.5 1706.0,858.2 1707.0,859.5 1708.0,863.1 1709.0,858.7 1710.0,855.1 1711.0,859.6 1712.0,858.6 1713.0,854.6 1714.0,859.5 1715.0,853.3 1716.0,855.8 1717.0,859.8 1718.0,854.5 1719.0,857.4 1720.0,852.8 1721.0,856.5 1722.0,857.9 1723.0,854.6 1724.0,857.5 1725.0,857.7 1726.0,856.7 1727.0,854.7 1728.0,853.2 1729.0,854.5 1730.0,853.7 1731.0,858.0 1732.0,854.6 1733.0,851.9 1734.0,852.1 1735.0,853.7 1736.0,855.8 1737.0,850.3 1738.0,853.6 1739.0,851.7 1740.0,858.6 1741.0,854.1 1742.0,852.1 1743.0,856.4 1744.0,847.1 1745.0,856.4 1746.0,851.5 1747.0,857.1 1748.0,852.4 1749.0,850.3 1750.0,855.4 1751.0,854.3 1752.0,863.9 1753.0,856.0 1754.0,861.0 1755.0,857.6 1756.0,854.6 1757.0,849.8 1758.0,857.3 1759.0,855.9 1760.0,850.5 1761.0,861.5 1762.0,856.4 1763.0,857.0 1764.0,860.5 1765.0,860.6 1766.0,857.5 1767.0,857.5 1768.0,858.1 1769.0,851.9 1770.0,855.6 1771.0,855.6 1772.0,864.8 1773.0,858.2 1774.0,855.0 1775.0,856.9 1776.0,855.0 1777.0,857.9 1778.0,855.6 1779.0,858.2 1780.0,859.0 1781.0,856.3 1782.0,854.6 1783.0,852.4 1784.0,850.1 1785.0,853.1 1786.0,852.9 1787.0,853.1 1788.0,854.8 1789.0,857.1 1790.0,857.8 1791.0,857.4 1792.0,860.4 1793.0,861.9 1794.0,856.8 1795.0,858.3 1796.0,859.5 1797.0,855.6 1798.0,858.6 1799.0,855.9 1800.0,860.7 1801.0,854.7 1802.0,858.5 1803.0,855.7 1804.0,854.7 1805.0,860.5 1806.0,858.0 1807.0,860.3 1808.0,860.6 1809.0,853.9 1810.0,863.4 1811.0,852.4 1812.0,853.4 1813.0,852.1 1814.0,858.0 1815.0,857.7 1816.0,856.2 1817.0,861.8 1818.0,854.5 1819.0,856.1 1820.0,854.2 1821.0,861.2 1822.0,852.0 1823.0,854.8 1824.0,856.6 1825.0,855.8 1826.0,857.5 1827.0,851.8 1828.0,855.9 1829.0,859.4 1830.0,853.2 1831.0,861.6 1832.0,856.7 1833.0,859.5 1834.0,856.8 1835.0,855.7 1836.0,856.7 1837.0,864.6 1838.0,861.4 1839.0,856.4 1840.0,867.4 1841.0,857.1 1842.0,856.8 1843.0,861.7 1844.0,858.1 1845.0,862.7 1846.0,855.9 1847.0,859.6 1848.0,857.2 1849.0,857.6 1850.0,860.2 1851.0,854.8 1852.0,856.3 1853.0,856.4 1854.0,857.5 1855.0,857.2 1856.0,859.0 1857.0,856.1 1858.0,855.1 1859.0,857.5 1860.0,863.0 1861.0,858.0 1862.0,859.6 1863.0,856.7 1864.0,857.1 1865.0,859.0 1866.0,860.9 1867.0,854.7 1868.0,857.1 1869.0,854.8 1870.0,853.7 1871.0,856.2 1872.0,855.1 1873.0,857.5 1874.0,857.5 1875.0,860.8 1876.0,860.5 1877.0,856.7 1878.0,857.6 1879.0,856.6 1880.0,863.2 1881.0,864.7 1882.0,859.9 1883.0,858.3 1884.0,858.2 1885.0,860.6 1886.0,861.8 1887.0,861.3 1888.0,859.6 1889.0,859.3 1890.0,861.6 1891.0,860.5 1892.0,857.8 1893.0,859.9 1894.0,857.0 1895.0,860.5 1896.0,858.7 1897.0,862.0 1898.0,860.3 1899.0,857.7 1900.0,857.3 1901.0,863.6 1902.0,856.0 1903.0,860.8 1904.0,860.5 1905.0,860.2 1906.0,860.9 1907.0,858.9 1908.0,861.7 1909.0,859.9 1910.0,862.9 1911.0,861.2 1912.0,860.4 1913.0,861.5 1914.0,862.9 1915.0,859.8 1916.0,856.2 1917.0,860.7 1918.0,855.1 1919.0,859.3 1920.0,859.1 1921.0,863.5 1922.0,862.2 1923.0,862.2 1924.0,855.0 1925.0,860.2 1926.0,858.0 1927.0,862.2 1928.0,868.4 1929.0,860.2 1930.0,863.7 1931.0,854.4 1932.0,857.9 1933.0,861.0 1934.0,857.4 1935.0,860.0 1936.0,860.2 1937.0,864.2 1938.0,861.6 1939.0,861.0 1940.0,860.0 1941.0,862.0 1942.0,863.1 1943.0,859.0 1944.0,862.8 1945.0,861.0 1946.0,862.9 1947.0,864.3 1948.0,860.6 1949.0,862.7 1950.0,861.5 1951.0,860.8 1952.0,859.8 1953.0,863.6 1954.0,860.7 1955.0,864.7 1956.0,863.5 1957.0,866.6 1958.0,866.0 1959.0,862.9 1960.0,864.4 1961.0,858.1 1962.0,867.7 1963.0,863.8 1964.0,858.3 1965.0,864.1 1966.0,859.6 1967.0,861.8 1968.0,862.3 1969.0,859.4 1970.0,866.6 1971.0,864.4 1972.0,862.3 1973.0,867.2 1974.0,862.3 1975.0,864.3 1976.0,868.2 1977.0,872.0 1978.0,860.7 1979.0,860.8 1980.0,859.4 1981.0,862.0 1982.0,857.2 1983.0,859.0 1984.0,853.8 1985.0,859.1 1986.0,854.6 1987.0,852.1 1988.0,855.0 1989.0,859.9 1990.0,860.1 1991.0,862.8 1992.0,859.9 1993.0,856.6 1994.0,860.2 1995.0,861.9 1996.0,864.2 1997.0,864.5 1998.0,861.1 1999.0,857.9 2000.0,863.7 2001.0,856.6 2002.0,859.2 2003.0,857.6 2004.0,863.2 2005.0,865.1 2006.0,857.7 2007.0,867.5 2008.0,860.6 2009.0,867.5 2010.0,862.0 2011.0,864.8 2012.0,857.8 2013.0,859.7 2014.0,859.1 2015.0,866.2 2016.0,859.4 2017.0,864.9 2018.0,866.6 2019.0,861.7 2020.0,862.3 2021.0,865.3 2022.0,859.7 2023.0,866.3 2024.0,868.2 2025.0,868.3 2026.0,864.8 2027.0,868.6 2028.0,871.8 2029.0,871.2 2030.0,867.9 2031.0,867.1 2032.0,865.8 2033.0,862.3 2034.0,862.4 2035.0,861.1 2036.0,863.5 2037.0,866.3 2038.0,870.9 2039.0,866.4 2040.0,865.8 2041.0,864.3 2042.0,871.8 2043.0,872.1 2044.0,868.6 2045.0,868.4 2046.0,869.0 2047.0,869.1 2048.0,865.1 2049.0,870.3 2050.0,866.7 2051.0,870.1 2052.0,869.3 2053.0,867.6 2054.0,872.8 2055.0,871.8 2056.0,869.8 2057.0,867.8 2058.0,867.6 2059.0,872.4 2060.0,871.1 2061.0,867.7 2062.0,868.5 2063.0,864.7 2064.0,871.5 2065.0,867.4 2066.0,869.1 2067.0,863.4 2068.0,866.9 2069.0,863.2 2070.0,869.0 2071.0,874.5 2072.0,866.7 2073.0,865.7 2074.0,868.9 2075.0,861.0 2076.0,863.7 2077.0,862.4 2078.0,862.0 2079.0,857.3 2080.0,859.1 2081.0,858.3 2082.0,865.0 2083.0,863.4 2084.0,866.7 2085.0,865.7 2086.0,865.9 2087.0,863.4 2088.0,863.3 2089.0,864.3 2090.0,861.5 2091.0,865.0 2092.0,861.7 2093.0,870.8 2094.0,857.3 2095.0,863.7 2096.0,862.8 2097.0,861.4 2098.0,858.5 2099.0,857.1 2100.0,855.1 2101.0,858.6 2102.0,857.1 2103.0,855.7 2104.0,859.2 2105.0,852.9 2106.0,859.5 2107.0,861.9 2108.0,854.8 2109.0,858.1 2110.0,864.1 2111.0,853.6 2112.0,857.1 2113.0,854.9 2114.0,857.0 2115.0,862.4 2116.0,862.2 2117.0,858.7 2118.0,862.1 2119.0,855.2 2120.0,859.1 2121.0,862.7 2122.0,863.8 2123.0,860.9 2124.0,862.0 2125.0,859.5 2126.0,862.4 2127.0,857.8 2128.0,862.3 2129.0,859.9 2130.0,861.4 2131.0,854.5 2132.0,857.9 2133.0,860.9 2134.0,857.9 2135.0,860.7 2136.0,858.7 2137.0,859.1 2138.0,859.2 2139.0,858.8 2140.0,854.0 2141.0,856.4 2142.0,864.9 2143.0,857.2 2144.0,861.7 2145.0,857.6 2146.0,866.9 2147.0,859.1 2148.0,860.9 2149.0,864.4 2150.0,861.2 2151.0,869.4 2152.0,864.4 2153.0,862.5 2154.0,856.6 2155.0,863.7 2156.0,861.0 2157.0,866.2 2158.0,863.3 2159.0,859.8 2160.0,866.5 2161.0,865.9 2162.0,864.7 2163.0,864.7 2164.0,866.4 2165.0,865.3 2166.0,866.4 2167.0,860.2 2168.0,866.2 2169.0,863.4 2170.0,867.8 2171.0,867.9 2172.0,871.7 2173.0,864.3 2174.0,861.5 2175.0,868.0 2176.0,866.8 2177.0,863.6 2178.0,868.8 2179.0,872.6 2180.0,869.5 2181.0,868.6 2182.0,864.7 2183.0,866.0 2184.0,869.0 2185.0,871.8 2186.0,868.4 2187.0,868.1 2188.0,871.8 2189.0,872.1 2190.0,876.3 2191.0,867.5 2192.0,867.1 2193.0,869.8 2194.0,866.9 2195.0,864.8 2196.0,867.2 2197.0,870.0 2198.0,870.6 2199.0,866.5 2200.0,870.4 2201.0,869.2 2202.0,868.1 2203.0,868.0 2204.0,865.0 2205.0,868.0 2206.0,866.2 2207.0,873.2 2208.0,873.5 2209.0,873.0 2210.0,866.8 2211.0,874.9 2212.0,870.5 2213.0,871.5 2214.0,872.6 2215.0,868.2 2216.0,866.5 2217.0,869.9 2218.0,867.5 2219.0,865.8 2220.0,869.1 2221.0,862.9 2222.0,862.0 2223.0,867.4 2224.0,867.2 2225.0,868.6 2226.0,869.4 2227.0,866.3 2228.0,871.1 2229.0,863.5 2230.0,864.1 2231.0,868.6 2232.0,868.2 2233.0,868.7 2234.0,866.1 2235.0,873.6 2236.0,873.8 2237.0,867.9 2238.0,871.1 2239.0,871.5 2240.0,868.6 2241.0,866.4 2242.0,874.7 2243.0,873.3 2244.0,865.5 2245.0,865.8 2246.0,873.2 2247.0,869.2 2248.0,861.4 2249.0,867.3 2250.0,867.1 2251.0,866.5 2252.0,866.7 2253.0,866.6 2254.0,868.8 2255.0,872.1 2256.0,867.3 2257.0,875.3 2258.0,871.9 2259.0,869.5 2260.0,872.7 2261.0,872.2 2262.0,871.3 2263.0,873.3 2264.0,871.9 2265.0,874.1 2266.0,875.7 2267.0,874.5 2268.0,872.1 2269.0,871.4 2270.0,873.3 2271.0,871.8 2272.0,870.6 2273.0,876.9 2274.0,869.4 2275.0,871.9 2276.0,868.7 2277.0,871.5 2278.0,871.2 2279.0,870.3 2280.0,871.0 2281.0,871.9 2282.0,870.5 2283.0,868.6 2284.0,871.4 2285.0,872.0 2286.0,869.6 2287.0,874.1 2288.0,868.1 2289.0,867.2 2290.0,872.1 2291.0,871.3 2292.0,866.7 2293.0,864.5 2294.0,866.1 2295.0,868.4 2296.0,869.9 2297.0,870.6 2298.0,871.4 2299.0,866.4 2300.0,868.5 2301.0,866.8 2302.0,870.5 2303.0,876.8 2304.0,875.3 2305.0,870.7 2306.0,875.9 2307.0,868.2 2308.0,876.7 2309.0,873.5 2310.0,876.7 2311.0,877.1 2312.0,872.0 2313.0,879.3 2314.0,875.2 2315.0,876.8 2316.0,875.6 2317.0,881.5"/>
<polyline clip-path="url(#c1)" fill="none" stroke="#EDB120" stroke-width="6.6" stroke-linejoin="round" stroke-linecap="round" points="288.0,1185.0 289.0,659.0 290.0,740.0 291.0,659.0 292.0,730.0 293.0,659.0 294.0,745.0 295.0,659.0 296.0,740.0 297.0,662.0 298.0,735.0 299.0,670.0 300.0,720.0 302.0,690.1 303.0,707.5 304.0,724.7 305.0,713.1 306.0,700.9 307.0,721.5 308.0,732.0 309.0,726.8 310.0,721.5 311.0,735.0 312.0,749.1 313.0,749.8 314.0,753.2 315.0,755.0 316.0,761.6 317.0,768.7 318.0,774.9 319.0,780.7 320.0,786.0 321.0,791.8 322.0,793.3 323.0,796.4 324.0,800.4 325.0,802.6 326.0,806.3 327.0,809.4 328.0,814.2 329.0,816.5 330.0,818.9 331.0,824.0 332.0,827.0 333.0,827.8 334.0,829.5 335.0,833.9 336.0,830.6 337.0,832.6 338.0,835.9 339.0,834.3 340.0,838.7 341.0,840.7 342.0,840.9 343.0,841.3 344.0,842.2 345.0,839.9 346.0,838.9 347.0,834.8 348.0,834.5 349.0,831.5 350.0,833.4 351.0,831.8 352.0,825.7 353.0,827.3 354.0,830.5 355.0,831.7 356.0,831.4 357.0,834.4 358.0,831.4 359.0,834.4 360.0,838.7 361.0,839.9 362.0,842.5 363.0,838.3 364.0,845.1 365.0,840.4 366.0,838.3 367.0,843.3 368.0,834.4 369.0,840.2 370.0,840.7 371.0,842.0 372.0,841.3 373.0,837.4 374.0,838.1 375.0,848.7 376.0,841.8 377.0,843.9 378.0,846.8 379.0,843.2 380.0,842.4 381.0,846.2 382.0,847.1 383.0,844.8 384.0,852.0 385.0,851.0 386.0,849.2 387.0,855.6 388.0,846.5 389.0,849.0 390.0,843.4 391.0,853.9 392.0,845.9 393.0,855.1 394.0,858.5 395.0,852.4 396.0,848.1 397.0,848.6 398.0,852.0 399.0,845.1 400.0,852.9 401.0,847.7 402.0,850.4 403.0,848.9 404.0,857.6 405.0,852.1 406.0,853.7 407.0,852.9 408.0,850.2 409.0,859.3 410.0,860.2 411.0,849.9 412.0,854.6 413.0,854.7 414.0,852.5 415.0,850.5 416.0,858.4 417.0,857.2 418.0,853.3 419.0,853.5 420.0,856.7 421.0,850.2 422.0,852.9 423.0,846.9 424.0,848.8 425.0,854.9 426.0,854.1 427.0,846.3 428.0,850.6 429.0,851.7 430.0,859.3 431.0,859.6 432.0,858.1 433.0,853.3 434.0,848.9 435.0,848.0 436.0,849.0 437.0,855.1 438.0,855.2 439.0,849.1 440.0,846.4 441.0,847.3 442.0,852.3 443.0,852.8 444.0,846.4 445.0,847.4 446.0,853.3 447.0,843.7 448.0,854.1 449.0,846.1 450.0,849.7 451.0,853.3 452.0,849.8 453.0,848.4 454.0,848.6 455.0,849.9 456.0,850.6 457.0,848.4 458.0,848.8 459.0,846.6 460.0,846.1 461.0,844.3 462.0,846.1 463.0,850.6 464.0,851.3 465.0,842.6 466.0,850.8 467.0,848.5 468.0,848.5 469.0,843.7 470.0,847.8 471.0,843.8 472.0,847.8 473.0,850.5 474.0,852.2 475.0,845.5 476.0,851.5 477.0,850.1 478.0,849.1 479.0,854.7 480.0,844.4 481.0,849.3 482.0,848.9 483.0,853.4 484.0,853.5 485.0,853.5 486.0,845.9 487.0,853.4 488.0,846.8 489.0,850.0 490.0,852.6 491.0,854.8 492.0,854.4 493.0,846.2 494.0,851.5 495.0,849.9 496.0,847.0 497.0,850.9 498.0,848.5 499.0,846.4 500.0,842.5 501.0,851.5 502.0,847.5 503.0,849.4 504.0,850.0 505.0,847.6 506.0,854.8 507.0,844.2 508.0,848.4 509.0,847.6 510.0,851.0 511.0,848.7 512.0,850.1 513.0,857.2 514.0,851.2 515.0,844.0 516.0,850.7 517.0,851.1 518.0,849.1 519.0,852.0 520.0,849.5 521.0,855.9 522.0,853.5 523.0,855.6 524.0,851.5 525.0,853.9 526.0,854.1 527.0,852.3 528.0,846.3 529.0,847.9 530.0,851.1 531.0,855.8 532.0,855.2 533.0,851.6 534.0,848.0 535.0,852.6 536.0,854.2 537.0,851.0 538.0,849.0 539.0,849.6 540.0,852.1 541.0,859.2 542.0,855.1 543.0,850.2 544.0,853.5 545.0,850.8 546.0,855.4 547.0,850.9 548.0,855.6 549.0,854.6 550.0,857.5 551.0,858.3 552.0,854.5 553.0,851.7 554.0,847.4 555.0,852.6 556.0,848.7 557.0,850.6 558.0,851.8 559.0,848.5 560.0,849.6 561.0,849.7 562.0,850.3 563.0,845.6 564.0,854.5 565.0,849.5 566.0,849.2 567.0,853.0 568.0,848.4 569.0,847.1 570.0,850.6 571.0,849.5 572.0,850.8 573.0,847.3 574.0,851.6 575.0,848.0 576.0,845.2 577.0,849.7 578.0,850.4 579.0,850.9 580.0,846.5 581.0,851.9 582.0,850.2 583.0,845.1 584.0,849.5 585.0,849.3 586.0,847.8 587.0,845.6 588.0,841.2 589.0,844.6 590.0,842.0 591.0,850.4 592.0,843.9 593.0,840.1 594.0,848.6 595.0,847.1 596.0,843.1 597.0,846.4 598.0,847.4 599.0,845.1 600.0,845.6 601.0,846.6 602.0,849.0 603.0,849.0 604.0,843.8 605.0,846.3 606.0,848.9 607.0,839.6 608.0,841.2 609.0,847.2 610.0,848.8 611.0,849.7 612.0,847.0 613.0,854.5 614.0,844.4 615.0,842.3 616.0,848.7 617.0,844.3 618.0,849.0 619.0,848.0 620.0,846.1 621.0,847.1 622.0,846.4 623.0,843.8 624.0,844.0 625.0,850.4 626.0,848.5 627.0,845.5 628.0,845.5 629.0,845.9 630.0,846.7 631.0,841.5 632.0,851.6 633.0,845.1 634.0,841.7 635.0,846.8 636.0,843.3 637.0,845.6 638.0,851.7 639.0,848.5 640.0,851.0 641.0,846.9 642.0,847.6 643.0,845.7 644.0,839.9 645.0,840.0 646.0,840.6 647.0,842.6 648.0,839.1 649.0,849.7 650.0,839.2 651.0,844.3 652.0,844.8 653.0,845.0 654.0,848.7 655.0,847.6 656.0,842.0 657.0,843.0 658.0,846.6 659.0,848.0 660.0,849.0 661.0,845.9 662.0,842.2 663.0,846.2 664.0,839.4 665.0,849.9 666.0,848.9 667.0,845.6 668.0,845.7 669.0,844.4 670.0,838.6 671.0,839.6 672.0,844.4 673.0,843.1 674.0,847.1 675.0,851.3 676.0,849.2 677.0,844.0 678.0,856.8 679.0,857.2 680.0,853.4 681.0,856.8 682.0,860.0 683.0,848.7 684.0,850.1 685.0,858.2 686.0,859.5 687.0,858.5 688.0,857.0 689.0,857.7 690.0,859.0 691.0,861.0 692.0,851.4 693.0,852.3 694.0,858.1 695.0,857.7 696.0,855.6 697.0,863.2 698.0,853.6 699.0,857.6 700.0,855.7 701.0,852.8 702.0,854.7 703.0,857.5 704.0,853.6 705.0,852.0 706.0,852.6 707.0,854.5 708.0,853.5 709.0,851.9 710.0,852.9 711.0,851.6 712.0,845.9 713.0,854.5 714.0,856.1 715.0,855.0 716.0,858.4 717.0,856.1 718.0,853.6 719.0,855.0 720.0,858.3 721.0,861.1 722.0,855.5 723.0,854.8 724.0,857.1 725.0,852.3 726.0,854.7 727.0,858.7 728.0,862.0 729.0,859.8 730.0,866.4 731.0,857.8 732.0,858.8 733.0,856.1 734.0,856.8 735.0,857.3 736.0,859.2 737.0,854.2 738.0,861.0 739.0,856.6 740.0,858.6 741.0,857.3 742.0,857.0 743.0,860.2 744.0,859.5 745.0,857.6 746.0,858.1 747.0,858.9 748.0,861.7 749.0,860.5 750.0,861.4 751.0,864.1 752.0,860.3 753.0,861.4 754.0,858.9 755.0,858.4 756.0,859.6 757.0,858.8 758.0,860.8 759.0,854.6 760.0,860.2 761.0,859.9 762.0,863.4 763.0,859.9 764.0,856.1 765.0,854.6 766.0,859.5 767.0,862.7 768.0,856.7 769.0,861.2 770.0,857.9 771.0,858.9 772.0,856.4 773.0,860.1 774.0,859.1 775.0,852.7 776.0,856.8 777.0,858.6 778.0,855.4 779.0,851.1 780.0,853.7 781.0,850.9 782.0,849.3 783.0,847.6 784.0,856.0 785.0,853.2 786.0,856.2 787.0,847.9 788.0,853.3 789.0,852.3 790.0,854.9 791.0,854.4 792.0,853.5 793.0,853.5 794.0,855.0 795.0,856.0 796.0,853.7 797.0,854.5 798.0,856.9 799.0,855.2 800.0,852.0 801.0,861.1 802.0,864.1 803.0,854.8 804.0,860.9 805.0,858.1 806.0,856.1 807.0,853.2 808.0,855.9 809.0,854.3 810.0,848.8 811.0,850.4 812.0,854.8 813.0,858.2 814.0,853.4 815.0,856.0 816.0,852.2 817.0,856.9 818.0,856.7 819.0,860.0 820.0,859.5 821.0,857.9 822.0,855.1 823.0,855.8 824.0,859.8 825.0,858.7 826.0,858.2 827.0,865.9 828.0,858.7 829.0,855.9 830.0,863.4 831.0,851.4 832.0,857.8 833.0,853.4 834.0,858.3 835.0,856.2 836.0,852.4 837.0,860.7 838.0,852.3 839.0,851.1 840.0,854.3 841.0,855.6 842.0,852.6 843.0,856.3 844.0,854.8 845.0,863.8 846.0,861.4 847.0,859.7 848.0,865.5 849.0,858.2 850.0,856.3 851.0,856.0 852.0,853.1 853.0,853.5 854.0,851.6 855.0,861.4 856.0,855.1 857.0,862.0 858.0,855.8 859.0,859.9 860.0,858.7 861.0,855.3 862.0,860.4 863.0,861.4 864.0,850.3 865.0,856.8 866.0,854.5 867.0,850.5 868.0,853.7 869.0,857.1 870.0,855.7 871.0,855.2 872.0,850.3 873.0,854.1 874.0,853.5 875.0,853.1 876.0,854.8 877.0,850.0 878.0,849.9 879.0,858.0 880.0,852.3 881.0,855.9 882.0,851.7 883.0,856.6 884.0,853.1 885.0,851.5 886.0,852.2 887.0,847.6 888.0,853.1 889.0,853.6 890.0,853.8 891.0,849.4 892.0,849.7 893.0,850.3 894.0,846.7 895.0,846.3 896.0,844.3 897.0,840.6 898.0,850.4 899.0,854.1 900.0,848.6 901.0,850.0 902.0,859.3 903.0,855.4 904.0,852.8 905.0,851.1 906.0,850.3 907.0,854.3 908.0,854.1 909.0,853.3 910.0,856.9 911.0,852.4 912.0,845.9 913.0,852.4 914.0,856.8 915.0,857.3 916.0,854.2 917.0,855.5 918.0,850.3 919.0,850.1 920.0,851.2 921.0,850.7 922.0,858.3 923.0,848.8 924.0,854.4 925.0,858.4 926.0,855.7 927.0,854.9 928.0,850.7 929.0,849.6 930.0,847.7 931.0,854.0 932.0,852.7 933.0,859.1 934.0,853.3 935.0,852.6 936.0,853.5 937.0,849.0 938.0,854.5 939.0,857.0 940.0,859.8 941.0,863.7 942.0,857.4 943.0,857.9 944.0,857.0 945.0,856.3 946.0,855.4 947.0,853.3 948.0,858.8 949.0,857.4 950.0,850.0 951.0,853.0 952.0,856.8 953.0,857.2 954.0,858.7 955.0,859.5 956.0,857.6 957.0,856.9 958.0,851.3 959.0,859.0 960.0,856.0 961.0,857.1 962.0,855.9 963.0,856.3 964.0,857.3 965.0,851.1 966.0,850.5 967.0,856.4 968.0,848.4 969.0,851.8 970.0,846.1 971.0,854.3 972.0,849.8 973.0,848.9 974.0,845.7 975.0,846.5 976.0,847.7 977.0,849.9 978.0,850.1 979.0,850.2 980.0,850.2 981.0,849.5 982.0,852.0 983.0,854.4 984.0,849.1 985.0,852.1 986.0,857.3 987.0,856.3 988.0,851.0 989.0,853.1 990.0,851.2 991.0,853.4 992.0,853.3 993.0,854.2 994.0,852.3 995.0,849.8 996.0,849.3 997.0,845.4 998.0,847.6 999.0,845.5 1000.0,849.3 1001.0,852.5 1002.0,846.6 1003.0,855.4 1004.0,850.0 1005.0,847.4 1006.0,853.8 1007.0,850.3 1008.0,858.9 1009.0,851.9 1010.0,854.6 1011.0,859.0 1012.0,856.4 1013.0,856.1 1014.0,855.3 1015.0,852.4 1016.0,858.7 1017.0,856.9 1018.0,864.2 1019.0,857.8 1020.0,854.4 1021.0,849.3 1022.0,856.5 1023.0,863.0 1024.0,854.4 1025.0,859.7 1026.0,854.0 1027.0,860.4 1028.0,853.4 1029.0,858.0 1030.0,857.7 1031.0,863.7 1032.0,856.9 1033.0,856.1 1034.0,864.9 1035.0,866.9 1036.0,861.8 1037.0,859.3 1038.0,858.9 1039.0,860.5 1040.0,864.6 1041.0,859.0 1042.0,860.8 1043.0,861.1 1044.0,858.6 1045.0,857.1 1046.0,857.3 1047.0,860.9 1048.0,860.2 1049.0,856.3 1050.0,862.2 1051.0,861.6 1052.0,854.1 1053.0,860.0 1054.0,857.7 1055.0,860.2 1056.0,857.3 1057.0,861.0 1058.0,862.4 1059.0,866.7 1060.0,860.6 1061.0,860.8 1062.0,861.2 1063.0,860.8 1064.0,860.6 1065.0,866.8 1066.0,863.0 1067.0,860.5 1068.0,859.0 1069.0,861.2 1070.0,863.8 1071.0,859.9 1072.0,858.2 1073.0,855.2 1074.0,860.9 1075.0,858.7 1076.0,863.4 1077.0,862.5 1078.0,860.6 1079.0,860.5 1080.0,857.4 1081.0,860.5 1082.0,864.2 1083.0,861.4 1084.0,864.4 1085.0,866.0 1086.0,854.6 1087.0,863.0 1088.0,867.9 1089.0,858.0 1090.0,861.6 1091.0,860.8 1092.0,859.4 1093.0,860.2 1094.0,861.4 1095.0,853.7 1096.0,858.0 1097.0,852.6 1098.0,853.5 1099.0,853.8 1100.0,860.4 1101.0,856.1 1102.0,855.9 1103.0,859.0 1104.0,856.2 1105.0,855.2 1106.0,858.2 1107.0,865.9 1108.0,860.9 1109.0,858.5 1110.0,856.6 1111.0,864.2 1112.0,859.3 1113.0,865.0 1114.0,861.2 1115.0,856.0 1116.0,863.0 1117.0,860.4 1118.0,862.9 1119.0,853.0 1120.0,858.4 1121.0,859.4 1122.0,863.2 1123.0,859.8 1124.0,861.6 1125.0,859.8 1126.0,855.0 1127.0,850.6 1128.0,857.8 1129.0,857.8 1130.0,859.6 1131.0,857.8 1132.0,856.4 1133.0,858.5 1134.0,849.9 1135.0,858.6 1136.0,852.8 1137.0,859.9 1138.0,856.6 1139.0,855.1 1140.0,856.3 1141.0,859.1 1142.0,851.7 1143.0,859.6 1144.0,854.8 1145.0,853.8 1146.0,857.7 1147.0,851.7 1148.0,851.1 1149.0,860.7 1150.0,855.3 1151.0,865.3 1152.0,858.4 1153.0,853.1 1154.0,855.7 1155.0,858.3 1156.0,851.1 1157.0,851.6 1158.0,852.5 1159.0,852.8 1160.0,850.6 1161.0,853.5 1162.0,855.3 1163.0,856.6 1164.0,855.5 1165.0,851.9 1166.0,851.8 1167.0,850.4 1168.0,852.5 1169.0,849.9 1170.0,847.4 1171.0,854.4 1172.0,848.0 1173.0,851.7 1174.0,852.6 1175.0,853.5 1176.0,850.7 1177.0,846.8 1178.0,851.6 1179.0,848.0 1180.0,845.1 1181.0,846.5 1182.0,853.3 1183.0,849.3 1184.0,856.0 1185.0,847.4 1186.0,848.3 1187.0,849.1 1188.0,852.6 1189.0,852.6 1190.0,855.3 1191.0,844.1 1192.0,849.5 1193.0,851.0 1194.0,855.7 1195.0,853.8 1196.0,845.5 1197.0,845.5 1198.0,849.5 1199.0,850.7 1200.0,849.3 1201.0,851.6 1202.0,850.5 1203.0,851.0 1204.0,851.6 1205.0,855.1 1206.0,849.7 1207.0,852.5 1208.0,852.5 1209.0,856.1 1210.0,855.3 1211.0,850.1 1212.0,851.9 1213.0,851.6 1214.0,845.5 1215.0,852.2 1216.0,851.0 1217.0,846.0 1218.0,851.3 1219.0,842.3 1220.0,851.2 1221.0,853.3 1222.0,847.4 1223.0,850.8 1224.0,846.2 1225.0,848.1 1226.0,856.7 1227.0,853.4 1228.0,848.5 1229.0,851.0 1230.0,851.0 1231.0,854.3 1232.0,852.3 1233.0,853.7 1234.0,846.9 1235.0,851.6 1236.0,850.3 1237.0,850.4 1238.0,848.3 1239.0,852.4 1240.0,847.1 1241.0,853.1 1242.0,857.3 1243.0,853.0 1244.0,852.9 1245.0,852.1 1246.0,853.5 1247.0,846.3 1248.0,850.7 1249.0,846.5 1250.0,847.7 1251.0,845.1 1252.0,840.2 1253.0,842.8 1254.0,844.7 1255.0,842.1 1256.0,840.5 1257.0,849.1 1258.0,842.7 1259.0,848.9 1260.0,850.7 1261.0,853.6 1262.0,849.5 1263.0,851.9 1264.0,851.0 1265.0,856.1 1266.0,856.3 1267.0,845.2 1268.0,846.4 1269.0,850.8 1270.0,847.2 1271.0,845.2 1272.0,845.1 1273.0,849.0 1274.0,852.7 1275.0,845.2 1276.0,847.9 1277.0,845.9 1278.0,847.6 1279.0,848.3 1280.0,850.9 1281.0,851.5 1282.0,841.0 1283.0,847.6 1284.0,843.7 1285.0,838.8 1286.0,838.0 1287.0,846.2 1288.0,847.1 1289.0,839.1 1290.0,849.1 1291.0,847.2 1292.0,845.7 1293.0,847.7 1294.0,842.3 1295.0,841.5 1296.0,850.1 1297.0,846.1 1298.0,844.9 1299.0,849.1 1300.0,847.2 1301.0,846.5 1302.0,854.5 1303.0,843.0 1304.0,843.5 1305.0,846.2 1306.0,848.2 1307.0,846.4 1308.0,850.0 1309.0,847.6 1310.0,845.2 1311.0,853.6 1312.0,849.3 1313.0,848.6 1314.0,851.1 1315.0,846.6 1316.0,846.1 1317.0,842.7 1318.0,851.3 1319.0,848.7 1320.0,847.7 1321.0,852.5 1322.0,857.9 1323.0,851.4 1324.0,852.3 1325.0,856.6 1326.0,850.1 1327.0,854.3 1328.0,858.1 1329.0,856.8 1330.0,854.1 1331.0,854.5 1332.0,851.0 1333.0,857.8 1334.0,856.9 1335.0,855.3 1336.0,851.2 1337.0,853.3 1338.0,852.2 1339.0,852.2 1340.0,850.5 1341.0,850.4 1342.0,848.9 1343.0,842.9 1344.0,852.4 1345.0,856.0 1346.0,850.7 1347.0,849.3 1348.0,848.6 1349.0,849.1 1350.0,852.9 1351.0,853.5 1352.0,855.4 1353.0,852.5 1354.0,857.4 1355.0,850.8 1356.0,857.9 1357.0,850.9 1358.0,854.0 1359.0,849.3 1360.0,852.0 1361.0,858.8 1362.0,850.7 1363.0,855.9 1364.0,849.8 1365.0,854.7 1366.0,856.0 1367.0,852.6 1368.0,856.9 1369.0,858.0 1370.0,853.2 1371.0,853.1 1372.0,856.2 1373.0,856.5 1374.0,851.9 1375.0,857.8 1376.0,850.5 1377.0,853.4 1378.0,848.4 1379.0,850.9 1380.0,845.7 1381.0,849.1 1382.0,846.9 1383.0,847.8 1384.0,849.2 1385.0,847.2 1386.0,853.1 1387.0,851.6 1388.0,852.0 1389.0,856.1 1390.0,848.1 1391.0,848.6 1392.0,850.5 1393.0,845.3 1394.0,847.6 1395.0,851.1 1396.0,851.1 1397.0,845.9 1398.0,851.2 1399.0,847.4 1400.0,845.7 1401.0,850.1 1402.0,849.3 1403.0,845.6 1404.0,850.0 1405.0,851.7 1406.0,854.8 1407.0,854.5 1408.0,850.2 1409.0,853.6 1410.0,854.3 1411.0,855.7 1412.0,853.2 1413.0,858.2 1414.0,857.7 1415.0,855.6 1416.0,862.4 1417.0,865.1 1418.0,860.0 1419.0,857.5 1420.0,860.7 1421.0,858.9 1422.0,865.8 1423.0,857.6 1424.0,856.0 1425.0,861.4 1426.0,862.6 1427.0,861.8 1428.0,857.5 1429.0,865.0 1430.0,861.1 1431.0,867.5 1432.0,862.3 1433.0,862.3 1434.0,867.5 1435.0,850.1 1436.0,857.9 1437.0,854.3 1438.0,852.1 1439.0,856.5 1440.0,850.5 1441.0,852.4 1442.0,850.1 1443.0,856.5 1444.0,847.3 1445.0,850.6 1446.0,847.2 1447.0,852.2 1448.0,848.6 1449.0,848.1 1450.0,851.7 1451.0,846.3 1452.0,852.6 1453.0,851.0 1454.0,850.2 1455.0,851.8 1456.0,846.2 1457.0,849.1 1458.0,849.2 1459.0,854.7 1460.0,854.5 1461.0,848.0 1462.0,844.4 1463.0,852.5 1464.0,852.9 1465.0,851.1 1466.0,850.3 1467.0,862.0 1468.0,855.5 1469.0,854.8 1470.0,851.8 1471.0,856.4 1472.0,851.1 1473.0,853.5 1474.0,860.6 1475.0,852.4 1476.0,858.7 1477.0,859.4 1478.0,855.8 1479.0,846.1 1480.0,853.3 1481.0,845.9 1482.0,851.9 1483.0,850.5 1484.0,854.5 1485.0,847.0 1486.0,850.5 1487.0,856.2 1488.0,848.9 1489.0,854.3 1490.0,851.6 1491.0,854.4 1492.0,851.0 1493.0,846.6 1494.0,856.8 1495.0,855.3 1496.0,855.3 1497.0,854.6 1498.0,851.7 1499.0,856.5 1500.0,851.5 1501.0,851.0 1502.0,853.6 1503.0,857.7 1504.0,850.9 1505.0,856.9 1506.0,852.7 1507.0,855.0 1508.0,853.4 1509.0,859.2 1510.0,855.2 1511.0,852.9 1512.0,848.7 1513.0,853.8 1514.0,858.5 1515.0,855.1 1516.0,849.0 1517.0,851.1 1518.0,856.7 1519.0,851.8 1520.0,855.7 1521.0,857.6 1522.0,860.1 1523.0,858.0 1524.0,851.3 1525.0,856.6 1526.0,860.0 1527.0,857.3 1528.0,851.8 1529.0,861.2 1530.0,852.5 1531.0,857.9 1532.0,854.7 1533.0,856.9 1534.0,859.2 1535.0,859.4 1536.0,863.0 1537.0,862.6 1538.0,858.3 1539.0,855.4 1540.0,857.4 1541.0,859.1 1542.0,856.4 1543.0,859.6 1544.0,855.1 1545.0,859.5 1546.0,853.5 1547.0,857.2 1548.0,856.0 1549.0,855.5 1550.0,855.0 1551.0,860.8 1552.0,856.7 1553.0,849.8 1554.0,855.1 1555.0,847.4 1556.0,859.8 1557.0,858.6 1558.0,859.6 1559.0,856.3 1560.0,857.7 1561.0,859.6 1562.0,859.0 1563.0,857.6 1564.0,855.8 1565.0,860.5 1566.0,856.8 1567.0,856.8 1568.0,855.4 1569.0,863.6 1570.0,863.0 1571.0,865.4 1572.0,864.1 1573.0,860.5 1574.0,856.1 1575.0,855.6 1576.0,861.8 1577.0,853.4 1578.0,855.5 1579.0,854.8 1580.0,854.0 1581.0,858.4 1582.0,863.2 1583.0,857.3 1584.0,857.5 1585.0,853.6 1586.0,859.4 1587.0,858.8 1588.0,860.0 1589.0,854.6 1590.0,854.5 1591.0,855.4 1592.0,856.8 1593.0,851.7 1594.0,853.1 1595.0,857.6 1596.0,857.2 1597.0,857.9 1598.0,849.7 1599.0,853.8 1600.0,855.9 1601.0,853.7 1602.0,853.2 1603.0,855.8 1604.0,856.0 1605.0,847.7 1606.0,849.4 1607.0,850.3 1608.0,853.2 1609.0,851.0 1610.0,851.2 1611.0,854.4 1612.0,850.8 1613.0,849.2 1614.0,851.9 1615.0,854.6 1616.0,855.3 1617.0,855.9 1618.0,852.1 1619.0,853.0 1620.0,853.9 1621.0,852.4 1622.0,851.6 1623.0,850.0 1624.0,849.5 1625.0,847.4 1626.0,847.3 1627.0,848.3 1628.0,859.7 1629.0,851.0 1630.0,855.7 1631.0,851.2 1632.0,853.8 1633.0,850.6 1634.0,849.2 1635.0,848.5 1636.0,848.4 1637.0,849.9 1638.0,843.1 1639.0,849.8 1640.0,839.9 1641.0,844.3 1642.0,845.4 1643.0,845.2 1644.0,845.1 1645.0,845.1 1646.0,846.7 1647.0,848.1 1648.0,852.5 1649.0,844.8 1650.0,847.6 1651.0,845.2 1652.0,850.8 1653.0,846.7 1654.0,843.0 1655.0,853.5 1656.0,848.0 1657.0,849.1 1658.0,849.8 1659.0,848.7 1660.0,852.2 1661.0,848.5 1662.0,845.3 1663.0,848.3 1664.0,844.5 1665.0,846.0 1666.0,843.6 1667.0,842.4 1668.0,837.0 1669.0,841.5 1670.0,850.8 1671.0,848.6 1672.0,847.6 1673.0,844.7 1674.0,847.0 1675.0,851.4 1676.0,849.1 1677.0,845.4 1678.0,848.8 1679.0,845.8 1680.0,840.8 1681.0,848.7 1682.0,845.7 1683.0,844.9 1684.0,842.7 1685.0,844.2 1686.0,845.9 1687.0,847.9 1688.0,847.2 1689.0,846.4 1690.0,846.8 1691.0,843.7 1692.0,852.6 1693.0,851.1 1694.0,843.5 1695.0,844.5 1696.0,845.6 1697.0,847.8 1698.0,851.4 1699.0,841.6 1700.0,841.9 1701.0,848.5 1702.0,847.2 1703.0,846.1 1704.0,846.1 1705.0,850.5 1706.0,845.3 1707.0,847.0 1708.0,846.3 1709.0,846.1 1710.0,842.7 1711.0,841.0 1712.0,848.9 1713.0,839.7 1714.0,843.1 1715.0,841.4 1716.0,844.1 1717.0,842.4 1718.0,844.6 1719.0,840.4 1720.0,848.1 1721.0,841.1 1722.0,841.8 1723.0,839.5 1724.0,834.0 1725.0,836.0 1726.0,845.4 1727.0,835.8 1728.0,839.3 1729.0,840.5 1730.0,844.1 1731.0,842.1 1732.0,842.9 1733.0,842.0 1734.0,847.9 1735.0,848.1 1736.0,845.0 1737.0,840.0 1738.0,841.2 1739.0,846.3 1740.0,842.0 1741.0,840.0 1742.0,844.2 1743.0,848.1 1744.0,837.9 1745.0,842.9 1746.0,840.7 1747.0,840.5 1748.0,846.2 1749.0,841.7 1750.0,842.5 1751.0,842.8 1752.0,842.5 1753.0,844.0 1754.0,841.8 1755.0,840.1 1756.0,842.6 1757.0,841.8 1758.0,839.3 1759.0,837.7 1760.0,838.5 1761.0,840.2 1762.0,840.7 1763.0,841.4 1764.0,840.4 1765.0,840.0 1766.0,838.7 1767.0,841.0 1768.0,840.2 1769.0,844.9 1770.0,843.0 1771.0,848.9 1772.0,845.3 1773.0,843.5 1774.0,845.4 1775.0,847.9 1776.0,839.8 1777.0,842.4 1778.0,846.0 1779.0,847.9 1780.0,845.0 1781.0,836.6 1782.0,838.0 1783.0,843.2 1784.0,845.3 1785.0,843.8 1786.0,851.2 1787.0,846.5 1788.0,849.9 1789.0,846.5 1790.0,849.7 1791.0,845.4 1792.0,842.6 1793.0,851.0 1794.0,851.4 1795.0,855.3 1796.0,843.1 1797.0,847.9 1798.0,850.7 1799.0,848.8 1800.0,849.2 1801.0,848.4 1802.0,848.0 1803.0,846.2 1804.0,851.1 1805.0,856.3 1806.0,853.8 1807.0,851.1 1808.0,846.5 1809.0,856.2 1810.0,853.8 1811.0,853.3 1812.0,850.3 1813.0,849.0 1814.0,855.6 1815.0,851.6 1816.0,858.2 1817.0,857.9 1818.0,853.2 1819.0,859.9 1820.0,856.9 1821.0,849.8 1822.0,850.2 1823.0,859.3 1824.0,859.4 1825.0,854.0 1826.0,851.0 1827.0,857.9 1828.0,858.9 1829.0,856.2 1830.0,856.9 1831.0,851.9 1832.0,862.9 1833.0,858.4 1834.0,853.6 1835.0,855.3 1836.0,850.9 1837.0,858.2 1838.0,851.8 1839.0,856.8 1840.0,858.0 1841.0,856.0 1842.0,860.5 1843.0,860.6 1844.0,858.2 1845.0,858.7 1846.0,854.1 1847.0,866.9 1848.0,854.0 1849.0,851.6 1850.0,853.4 1851.0,850.5 1852.0,846.6 1853.0,851.9 1854.0,855.1 1855.0,850.3 1856.0,851.1 1857.0,857.2 1858.0,857.6 1859.0,855.8 1860.0,854.8 1861.0,856.7 1862.0,849.4 1863.0,856.0 1864.0,859.0 1865.0,856.9 1866.0,857.2 1867.0,862.2 1868.0,856.8 1869.0,854.7 1870.0,857.8 1871.0,856.3 1872.0,858.3 1873.0,857.0 1874.0,854.2 1875.0,856.7 1876.0,854.0 1877.0,857.4 1878.0,853.3 1879.0,853.0 1880.0,859.5 1881.0,855.2 1882.0,865.2 1883.0,861.0 1884.0,865.5 1885.0,859.0 1886.0,858.6 1887.0,860.7 1888.0,859.1 1889.0,861.1 1890.0,862.5 1891.0,857.2 1892.0,867.3 1893.0,864.9 1894.0,863.1 1895.0,862.5 1896.0,865.2 1897.0,864.4 1898.0,859.2 1899.0,861.3 1900.0,861.1 1901.0,866.7 1902.0,869.4 1903.0,872.1 1904.0,865.4 1905.0,866.1 1906.0,870.1 1907.0,868.7 1908.0,866.2 1909.0,867.9 1910.0,870.7 1911.0,862.2 1912.0,862.4 1913.0,871.1 1914.0,865.4 1915.0,861.1 1916.0,865.6 1917.0,862.9 1918.0,867.5 1919.0,864.2 1920.0,865.9 1921.0,864.0 1922.0,871.8 1923.0,865.1 1924.0,865.5 1925.0,862.2 1926.0,866.8 1927.0,864.8 1928.0,867.6 1929.0,869.3 1930.0,869.2 1931.0,872.2 1932.0,871.8 1933.0,866.2 1934.0,870.1 1935.0,871.4 1936.0,871.7 1937.0,871.2 1938.0,866.8 1939.0,869.3 1940.0,869.0 1941.0,875.0 1942.0,864.1 1943.0,867.1 1944.0,864.4 1945.0,866.1 1946.0,865.3 1947.0,868.0 1948.0,859.4 1949.0,864.5 1950.0,861.9 1951.0,871.9 1952.0,865.1 1953.0,868.9 1954.0,865.7 1955.0,866.5 1956.0,874.8 1957.0,869.0 1958.0,866.4 1959.0,860.7 1960.0,864.2 1961.0,866.6 1962.0,868.4 1963.0,866.9 1964.0,866.4 1965.0,864.0 1966.0,867.6 1967.0,868.5 1968.0,869.5 1969.0,868.2 1970.0,864.1 1971.0,870.8 1972.0,869.9 1973.0,870.3 1974.0,867.8 1975.0,868.7 1976.0,866.5 1977.0,873.5 1978.0,872.8 1979.0,869.6 1980.0,872.6 1981.0,871.8 1982.0,872.4 1983.0,872.7 1984.0,868.4 1985.0,868.6 1986.0,871.8 1987.0,862.0 1988.0,870.4 1989.0,874.5 1990.0,871.9 1991.0,868.4 1992.0,874.3 1993.0,868.8 1994.0,874.6 1995.0,870.5 1996.0,870.8 1997.0,872.7 1998.0,873.4 1999.0,875.2 2000.0,871.5 2001.0,877.5 2002.0,877.9 2003.0,874.6 2004.0,871.9 2005.0,866.9 2006.0,870.6 2007.0,868.4 2008.0,871.2 2009.0,868.8 2010.0,873.3 2011.0,872.1 2012.0,869.7 2013.0,868.9 2014.0,864.8 2015.0,868.6 2016.0,867.7 2017.0,866.2 2018.0,867.2 2019.0,866.3 2020.0,860.4 2021.0,860.1 2022.0,858.6 2023.0,866.2 2024.0,865.7 2025.0,863.7 2026.0,863.5 2027.0,866.8 2028.0,865.0 2029.0,866.9 2030.0,864.4 2031.0,867.3 2032.0,860.8 2033.0,871.0 2034.0,871.2 2035.0,866.7 2036.0,862.0 2037.0,860.7 2038.0,864.2 2039.0,860.9 2040.0,865.4 2041.0,864.2 2042.0,864.1 2043.0,872.6 2044.0,869.1 2045.0,869.9 2046.0,865.8 2047.0,871.3 2048.0,871.9 2049.0,871.2 2050.0,872.2 2051.0,868.7 2052.0,869.2 2053.0,867.2 2054.0,866.4 2055.0,864.4 2056.0,864.9 2057.0,873.9 2058.0,866.2 2059.0,870.7 2060.0,871.1 2061.0,868.0 2062.0,868.5 2063.0,872.2 2064.0,866.5 2065.0,869.8 2066.0,867.6 2067.0,867.5 2068.0,865.1 2069.0,864.8 2070.0,872.8 2071.0,873.4 2072.0,867.1 2073.0,870.5 2074.0,863.2 2075.0,870.5 2076.0,874.1 2077.0,871.4 2078.0,865.6 2079.0,874.2 2080.0,869.8 2081.0,871.5 2082.0,866.7 2083.0,876.8 2084.0,869.2 2085.0,869.4 2086.0,869.1 2087.0,867.5 2088.0,870.9 2089.0,872.4 2090.0,869.5 2091.0,877.9 2092.0,877.7 2093.0,873.9 2094.0,875.2 2095.0,872.9 2096.0,880.9 2097.0,873.7 2098.0,872.0 2099.0,873.6 2100.0,874.1 2101.0,875.8 2102.0,876.7 2103.0,872.2 2104.0,871.8 2105.0,874.5 2106.0,870.3 2107.0,878.3 2108.0,879.3 2109.0,873.6 2110.0,879.4 2111.0,874.0 2112.0,877.3 2113.0,874.3 2114.0,876.9 2115.0,869.2 2116.0,874.1 2117.0,871.7 2118.0,875.5 2119.0,879.9 2120.0,879.6 2121.0,880.0 2122.0,877.7 2123.0,878.2 2124.0,884.8 2125.0,881.4 2126.0,890.3 2127.0,888.9 2128.0,883.9 2129.0,884.5 2130.0,879.6 2131.0,879.1 2132.0,881.9 2133.0,888.0 2134.0,887.9 2135.0,890.6 2136.0,880.2 2137.0,882.3 2138.0,887.3 2139.0,884.0 2140.0,880.3 2141.0,882.4 2142.0,880.8 2143.0,885.0 2144.0,882.0 2145.0,883.2 2146.0,877.6 2147.0,881.3 2148.0,884.1 2149.0,875.5 2150.0,876.5 2151.0,875.5 2152.0,880.0 2153.0,880.4 2154.0,876.2 2155.0,877.9 2156.0,879.9 2157.0,881.1 2158.0,885.4 2159.0,885.0 2160.0,876.6 2161.0,883.3 2162.0,881.4 2163.0,881.2 2164.0,887.2 2165.0,877.4 2166.0,879.7 2167.0,881.8 2168.0,877.7 2169.0,876.1 2170.0,873.6 2171.0,880.9 2172.0,873.0 2173.0,876.0 2174.0,877.2 2175.0,872.7 2176.0,871.4 2177.0,868.5 2178.0,861.2 2179.0,868.5 2180.0,865.5 2181.0,858.7 2182.0,862.9 2183.0,868.4 2184.0,866.0 2185.0,858.1 2186.0,864.3 2187.0,860.6 2188.0,862.1 2189.0,861.8 2190.0,860.3 2191.0,859.7 2192.0,862.9 2193.0,863.8 2194.0,857.3 2195.0,859.6 2196.0,858.4 2197.0,864.1 2198.0,862.1 2199.0,859.5 2200.0,854.8 2201.0,860.3 2202.0,862.1 2203.0,860.1 2204.0,862.3 2205.0,863.6 2206.0,865.4 2207.0,859.8 2208.0,863.2 2209.0,864.6 2210.0,865.5 2211.0,863.7 2212.0,860.3 2213.0,859.5 2214.0,862.1 2215.0,865.4 2216.0,863.1 2217.0,866.8 2218.0,865.9 2219.0,865.3 2220.0,868.3 2221.0,866.6 2222.0,863.4 2223.0,858.7 2224.0,858.0 2225.0,867.8 2226.0,865.7 2227.0,866.4 2228.0,868.1 2229.0,861.4 2230.0,865.5 2231.0,871.5 2232.0,865.8 2233.0,872.5 2234.0,861.0 2235.0,864.4 2236.0,863.5 2237.0,872.6 2238.0,867.6 2239.0,867.5 2240.0,866.9 2241.0,868.0 2242.0,864.5 2243.0,868.4 2244.0,870.7 2245.0,866.9 2246.0,864.9 2247.0,865.3 2248.0,868.3 2249.0,868.0 2250.0,862.0 2251.0,866.1 2252.0,868.2 2253.0,865.7 2254.0,871.8 2255.0,866.2 2256.0,871.1 2257.0,868.1 2258.0,878.2 2259.0,870.8 2260.0,873.1 2261.0,873.2 2262.0,869.6 2263.0,864.3 2264.0,869.4 2265.0,869.7 2266.0,876.6 2267.0,870.5 2268.0,869.0 2269.0,869.6 2270.0,875.1 2271.0,876.0 2272.0,872.5 2273.0,871.2 2274.0,865.3 2275.0,870.7 2276.0,871.4 2277.0,869.9 2278.0,867.9 2279.0,866.9 2280.0,869.6 2281.0,859.4 2282.0,863.6 2283.0,860.7 2284.0,865.2 2285.0,861.2 2286.0,866.9 2287.0,865.8 2288.0,869.3 2289.0,860.9 2290.0,865.1 2291.0,861.9 2292.0,859.0 2293.0,865.9 2294.0,860.6 2295.0,857.4 2296.0,867.6 2297.0,864.8 2298.0,858.0 2299.0,860.8 2300.0,861.7 2301.0,858.8 2302.0,860.4 2303.0,868.7 2304.0,867.1 2305.0,866.9 2306.0,869.6 2307.0,871.6 2308.0,870.3 2309.0,868.9 2310.0,871.6 2311.0,871.3 2312.0,868.9 2313.0,870.5 2314.0,873.8 2315.0,865.3 2316.0,880.1 2317.0,875.6"/>
<text class="tk" transform="translate(137.6,734.8) scale(1,1.02)">20</text>
<text class="tk" transform="translate(162,893.8) scale(1,1.02)">0</text>
<text class="tk" transform="translate(0,1052.8) scale(1,1.02)"><tspan x="113.0" font-size="89.3" stroke-width="2.5" dy="5.2">−</tspan><tspan x="161.7" dy="-5.2">20</tspan></text>
<text class="lab" transform="translate(96,1216.4) rotate(-90) scale(1,1.048)">N errors (cm)</text>
<line x1="714.5" x2="887" y1="940.1" y2="940.1" stroke="#0072BD" stroke-width="7.2"/>
<text class="leg" transform="translate(898.7,970.6) scale(1,1.05)">Standard, RMS=1.0 cm</text>
<line x1="714.5" x2="887" y1="1036.4" y2="1036.4" stroke="#D95319" stroke-width="7.2"/>
<text class="leg" transform="translate(899.9,1066.9) scale(1,1.05)">Tropo-weighted, RMS=0.8 cm</text>
<line x1="714.5" x2="887" y1="1132.7" y2="1132.7" stroke="#EDB120" stroke-width="7.2"/>
<text class="leg" transform="translate(899.9,1163.2) scale(1,1.05)">Tropo-fixed, RMS=1.2 cm</text>
</g>
<g id="axes-U">
<line x1="654.9" x2="654.9" y1="1284.3" y2="1841.0" stroke="#dedede" stroke-width="3.1"/>
<line x1="1023.0" x2="1023.0" y1="1284.3" y2="1841.0" stroke="#dedede" stroke-width="3.1"/>
<line x1="1391.0" x2="1391.0" y1="1284.3" y2="1841.0" stroke="#dedede" stroke-width="3.1"/>
<line x1="1759.1" x2="1759.1" y1="1284.3" y2="1841.0" stroke="#dedede" stroke-width="3.1"/>
<line x1="2127.1" x2="2127.1" y1="1284.3" y2="1841.0" stroke="#dedede" stroke-width="3.1"/>
<line x1="287.2" x2="2317.0" y1="1312.1" y2="1312.1" stroke="#dedede" stroke-width="3.1"/>
<line x1="287.2" x2="2317.0" y1="1479.1" y2="1479.1" stroke="#dedede" stroke-width="3.1"/>
<line x1="287.2" x2="2317.0" y1="1646.2" y2="1646.2" stroke="#dedede" stroke-width="3.1"/>
<line x1="654.9" x2="654.9" y1="1841.0" y2="1819.5" stroke="#262626" stroke-width="3.1"/>
<line x1="654.9" x2="654.9" y1="1284.3" y2="1305.8" stroke="#262626" stroke-width="3.1"/>
<line x1="1023.0" x2="1023.0" y1="1841.0" y2="1819.5" stroke="#262626" stroke-width="3.1"/>
<line x1="1023.0" x2="1023.0" y1="1284.3" y2="1305.8" stroke="#262626" stroke-width="3.1"/>
<line x1="1391.0" x2="1391.0" y1="1841.0" y2="1819.5" stroke="#262626" stroke-width="3.1"/>
<line x1="1391.0" x2="1391.0" y1="1284.3" y2="1305.8" stroke="#262626" stroke-width="3.1"/>
<line x1="1759.1" x2="1759.1" y1="1841.0" y2="1819.5" stroke="#262626" stroke-width="3.1"/>
<line x1="1759.1" x2="1759.1" y1="1284.3" y2="1305.8" stroke="#262626" stroke-width="3.1"/>
<line x1="2127.1" x2="2127.1" y1="1841.0" y2="1819.5" stroke="#262626" stroke-width="3.1"/>
<line x1="2127.1" x2="2127.1" y1="1284.3" y2="1305.8" stroke="#262626" stroke-width="3.1"/>
<line x1="287.2" x2="308.7" y1="1312.1" y2="1312.1" stroke="#262626" stroke-width="3.1"/>
<line x1="2317.0" x2="2295.5" y1="1312.1" y2="1312.1" stroke="#262626" stroke-width="3.1"/>
<line x1="287.2" x2="308.7" y1="1479.1" y2="1479.1" stroke="#262626" stroke-width="3.1"/>
<line x1="2317.0" x2="2295.5" y1="1479.1" y2="1479.1" stroke="#262626" stroke-width="3.1"/>
<line x1="287.2" x2="308.7" y1="1646.2" y2="1646.2" stroke="#262626" stroke-width="3.1"/>
<line x1="2317.0" x2="2295.5" y1="1646.2" y2="1646.2" stroke="#262626" stroke-width="3.1"/>
<rect x="287.2" y="1284.3" width="2029.8" height="556.7" fill="none" stroke="#262626" stroke-width="3.1"/>
<polyline clip-path="url(#c2)" fill="none" stroke="#0072BD" stroke-width="6.6" stroke-linejoin="round" stroke-linecap="round" points="292.5,1284.0 293.1,1463.0 293.9,1284.0 294.5,1470.0 295.3,1284.0 296.0,1463.0 297.0,1300.0 298.5,1450.0 302.0,1416.3 303.0,1412.3 304.0,1401.1 305.0,1396.2 306.0,1399.3 307.0,1399.6 308.0,1405.0 309.0,1406.3 310.0,1408.9 311.0,1408.5 312.0,1410.6 313.0,1415.2 314.0,1424.3 315.0,1425.8 316.0,1432.4 317.0,1433.6 318.0,1437.9 319.0,1446.3 320.0,1442.6 321.0,1443.4 322.0,1446.2 323.0,1463.6 324.0,1467.8 325.0,1473.7 326.0,1483.2 327.0,1491.9 328.0,1491.4 329.0,1499.7 330.0,1513.5 331.0,1501.6 332.0,1514.9 333.0,1519.7 334.0,1507.4 335.0,1508.6 336.0,1515.0 337.0,1518.2 338.0,1515.3 339.0,1503.4 340.0,1505.5 341.0,1509.3 342.0,1504.6 343.0,1510.8 344.0,1500.0 345.0,1497.8 346.0,1504.9 347.0,1497.8 348.0,1491.7 349.0,1493.6 350.0,1487.4 351.0,1487.6 352.0,1485.8 353.0,1479.7 354.0,1477.7 355.0,1474.1 356.0,1484.5 357.0,1488.8 358.0,1478.2 359.0,1478.9 360.0,1480.5 361.0,1476.1 362.0,1474.4 363.0,1473.0 364.0,1465.4 365.0,1474.4 366.0,1478.2 367.0,1478.6 368.0,1476.9 369.0,1476.5 370.0,1480.0 371.0,1482.2 372.0,1466.2 373.0,1462.6 374.0,1466.8 375.0,1470.9 376.0,1465.7 377.0,1474.0 378.0,1470.3 379.0,1476.3 380.0,1472.7 381.0,1470.4 382.0,1481.6 383.0,1471.2 384.0,1475.4 385.0,1479.5 386.0,1480.9 387.0,1479.3 388.0,1467.5 389.0,1480.7 390.0,1480.4 391.0,1474.6 392.0,1464.0 393.0,1476.2 394.0,1476.6 395.0,1473.8 396.0,1475.3 397.0,1469.9 398.0,1470.5 399.0,1464.6 400.0,1461.0 401.0,1466.5 402.0,1464.4 403.0,1467.5 404.0,1466.3 405.0,1469.0 406.0,1468.0 407.0,1471.8 408.0,1467.6 409.0,1476.0 410.0,1463.2 411.0,1473.1 412.0,1472.6 413.0,1463.6 414.0,1473.5 415.0,1479.1 416.0,1476.5 417.0,1474.1 418.0,1469.6 419.0,1468.3 420.0,1464.6 421.0,1463.2 422.0,1462.1 423.0,1468.8 424.0,1470.3 425.0,1465.6 426.0,1467.6 427.0,1471.3 428.0,1476.2 429.0,1471.4 430.0,1476.9 431.0,1465.1 432.0,1469.6 433.0,1469.1 434.0,1469.5 435.0,1467.7 436.0,1469.5 437.0,1462.5 438.0,1462.6 439.0,1465.7 440.0,1472.1 441.0,1462.0 442.0,1466.1 443.0,1470.4 444.0,1464.6 445.0,1470.9 446.0,1462.8 447.0,1467.5 448.0,1467.5 449.0,1464.7 450.0,1471.0 451.0,1472.3 452.0,1473.6 453.0,1469.3 454.0,1471.1 455.0,1467.9 456.0,1470.5 457.0,1479.6 458.0,1467.2 459.0,1467.6 460.0,1476.0 461.0,1474.3 462.0,1473.4 463.0,1467.8 464.0,1469.2 465.0,1466.7 466.0,1475.8 467.0,1477.3 468.0,1464.3 469.0,1461.9 470.0,1465.4 471.0,1463.9 472.0,1468.3 473.0,1474.1 474.0,1462.1 475.0,1469.7 476.0,1472.0 477.0,1464.0 478.0,1471.9 479.0,1464.2 480.0,1460.2 481.0,1467.3 482.0,1470.5 483.0,1471.4 484.0,1470.9 485.0,1465.1 486.0,1466.2 487.0,1468.8 488.0,1475.6 489.0,1471.0 490.0,1467.2 491.0,1465.8 492.0,1470.6 493.0,1470.8 494.0,1476.8 495.0,1474.0 496.0,1465.7 497.0,1472.5 498.0,1472.0 499.0,1478.2 500.0,1475.5 501.0,1479.3 502.0,1478.4 503.0,1470.7 504.0,1466.2 505.0,1468.3 506.0,1466.5 507.0,1485.7 508.0,1470.4 509.0,1461.6 510.0,1461.8 511.0,1471.0 512.0,1468.1 513.0,1465.2 514.0,1460.5 515.0,1467.3 516.0,1467.5 517.0,1473.3 518.0,1471.0 519.0,1478.8 520.0,1464.7 521.0,1476.0 522.0,1468.8 523.0,1468.4 524.0,1478.3 525.0,1462.8 526.0,1472.2 527.0,1470.8 528.0,1477.4 529.0,1465.1 530.0,1474.5 531.0,1475.0 532.0,1472.3 533.0,1472.5 534.0,1470.1 535.0,1464.7 536.0,1470.8 537.0,1462.1 538.0,1475.1 539.0,1475.5 540.0,1465.4 541.0,1477.7 542.0,1472.4 543.0,1469.3 544.0,1472.3 545.0,1474.7 546.0,1465.7 547.0,1461.2 548.0,1471.1 549.0,1466.8 550.0,1464.4 551.0,1462.5 552.0,1468.2 553.0,1468.9 554.0,1457.6 555.0,1464.7 556.0,1467.5 557.0,1467.6 558.0,1464.9 559.0,1480.7 560.0,1474.1 561.0,1478.8 562.0,1471.5 563.0,1484.6 564.0,1473.8 565.0,1462.0 566.0,1474.1 567.0,1470.4 568.0,1464.3 569.0,1473.6 570.0,1469.8 571.0,1477.1 572.0,1476.1 573.0,1469.1 574.0,1478.6 575.0,1478.0 576.0,1463.6 577.0,1480.2 578.0,1477.6 579.0,1482.7 580.0,1488.2 581.0,1474.9 582.0,1469.7 583.0,1469.4 584.0,1468.6 585.0,1473.5 586.0,1459.7 587.0,1466.8 588.0,1481.0 589.0,1474.1 590.0,1474.7 591.0,1474.2 592.0,1475.3 593.0,1478.7 594.0,1476.5 595.0,1470.1 596.0,1474.7 597.0,1481.5 598.0,1475.4 599.0,1473.0 600.0,1481.5 601.0,1484.7 602.0,1477.2 603.0,1491.5 604.0,1485.8 605.0,1484.2 606.0,1482.1 607.0,1488.5 608.0,1483.7 609.0,1482.1 610.0,1481.4 611.0,1485.7 612.0,1478.1 613.0,1482.9 614.0,1487.3 615.0,1498.6 616.0,1489.1 617.0,1475.7 618.0,1481.7 619.0,1479.5 620.0,1477.8 621.0,1478.0 622.0,1489.0 623.0,1485.8 624.0,1486.5 625.0,1485.6 626.0,1486.0 627.0,1485.7 628.0,1480.4 629.0,1474.8 630.0,1469.5 631.0,1472.5 632.0,1479.7 633.0,1478.1 634.0,1483.2 635.0,1477.6 636.0,1489.6 637.0,1477.5 638.0,1484.2 639.0,1488.7 640.0,1487.6 641.0,1482.4 642.0,1492.1 643.0,1486.4 644.0,1487.7 645.0,1487.6 646.0,1480.1 647.0,1492.1 648.0,1488.8 649.0,1487.6 650.0,1480.6 651.0,1493.4 652.0,1486.6 653.0,1484.6 654.0,1481.2 655.0,1487.7 656.0,1484.2 657.0,1491.8 658.0,1488.9 659.0,1485.3 660.0,1479.9 661.0,1476.4 662.0,1471.5 663.0,1476.9 664.0,1482.9 665.0,1479.6 666.0,1467.5 667.0,1477.6 668.0,1481.4 669.0,1473.3 670.0,1478.9 671.0,1475.3 672.0,1479.8 673.0,1479.2 674.0,1477.5 675.0,1479.1 676.0,1474.6 677.0,1473.8 678.0,1459.2 679.0,1474.7 680.0,1476.5 681.0,1465.2 682.0,1472.9 683.0,1473.6 684.0,1471.5 685.0,1468.6 686.0,1466.4 687.0,1474.3 688.0,1465.5 689.0,1471.9 690.0,1473.0 691.0,1462.4 692.0,1468.9 693.0,1473.1 694.0,1468.0 695.0,1472.1 696.0,1482.4 697.0,1479.8 698.0,1479.7 699.0,1485.2 700.0,1486.7 701.0,1475.1 702.0,1480.2 703.0,1482.8 704.0,1490.1 705.0,1485.8 706.0,1481.0 707.0,1482.0 708.0,1472.2 709.0,1487.1 710.0,1486.1 711.0,1491.8 712.0,1487.8 713.0,1475.6 714.0,1482.2 715.0,1476.1 716.0,1479.1 717.0,1485.8 718.0,1473.9 719.0,1492.0 720.0,1488.3 721.0,1486.6 722.0,1480.7 723.0,1485.8 724.0,1486.0 725.0,1481.3 726.0,1475.0 727.0,1483.9 728.0,1480.7 729.0,1483.6 730.0,1477.7 731.0,1475.8 732.0,1475.2 733.0,1467.1 734.0,1465.1 735.0,1473.1 736.0,1468.3 737.0,1475.7 738.0,1467.0 739.0,1471.8 740.0,1478.2 741.0,1479.4 742.0,1473.3 743.0,1477.5 744.0,1472.7 745.0,1470.2 746.0,1469.3 747.0,1470.7 748.0,1470.6 749.0,1472.2 750.0,1469.4 751.0,1459.7 752.0,1477.8 753.0,1475.3 754.0,1471.7 755.0,1457.8 756.0,1466.9 757.0,1471.5 758.0,1470.5 759.0,1471.6 760.0,1461.2 761.0,1472.4 762.0,1469.6 763.0,1472.6 764.0,1479.9 765.0,1475.5 766.0,1475.0 767.0,1466.8 768.0,1471.4 769.0,1467.0 770.0,1474.5 771.0,1466.6 772.0,1464.5 773.0,1459.7 774.0,1462.4 775.0,1459.6 776.0,1469.9 777.0,1464.4 778.0,1463.5 779.0,1465.1 780.0,1462.7 781.0,1475.8 782.0,1473.9 783.0,1460.6 784.0,1469.1 785.0,1465.0 786.0,1471.0 787.0,1475.7 788.0,1470.1 789.0,1466.9 790.0,1465.8 791.0,1465.8 792.0,1469.2 793.0,1471.9 794.0,1465.0 795.0,1470.1 796.0,1463.5 797.0,1473.4 798.0,1468.1 799.0,1467.2 800.0,1468.7 801.0,1472.4 802.0,1470.4 803.0,1468.2 804.0,1470.9 805.0,1466.1 806.0,1476.3 807.0,1465.0 808.0,1464.3 809.0,1465.6 810.0,1463.1 811.0,1461.1 812.0,1467.3 813.0,1463.9 814.0,1478.2 815.0,1465.9 816.0,1467.4 817.0,1473.2 818.0,1470.6 819.0,1472.5 820.0,1466.1 821.0,1465.8 822.0,1465.1 823.0,1462.3 824.0,1465.7 825.0,1469.5 826.0,1467.2 827.0,1465.6 828.0,1465.9 829.0,1467.8 830.0,1461.9 831.0,1468.9 832.0,1458.0 833.0,1460.5 834.0,1458.2 835.0,1453.9 836.0,1459.1 837.0,1450.7 838.0,1459.5 839.0,1460.0 840.0,1456.5 841.0,1460.3 842.0,1460.8 843.0,1459.3 844.0,1459.2 845.0,1464.5 846.0,1453.2 847.0,1459.8 848.0,1460.1 849.0,1457.5 850.0,1449.9 851.0,1449.1 852.0,1456.1 853.0,1454.8 854.0,1448.8 855.0,1461.5 856.0,1454.6 857.0,1454.3 858.0,1453.6 859.0,1449.1 860.0,1444.0 861.0,1453.2 862.0,1447.8 863.0,1450.9 864.0,1450.5 865.0,1447.6 866.0,1449.5 867.0,1458.8 868.0,1463.5 869.0,1456.0 870.0,1455.5 871.0,1456.1 872.0,1461.0 873.0,1470.6 874.0,1466.3 875.0,1459.6 876.0,1462.5 877.0,1465.0 878.0,1459.8 879.0,1461.5 880.0,1466.2 881.0,1462.2 882.0,1456.4 883.0,1451.0 884.0,1454.9 885.0,1461.3 886.0,1455.7 887.0,1466.2 888.0,1455.5 889.0,1459.7 890.0,1466.8 891.0,1469.8 892.0,1456.1 893.0,1462.4 894.0,1466.6 895.0,1456.6 896.0,1467.2 897.0,1463.1 898.0,1463.1 899.0,1466.9 900.0,1468.3 901.0,1463.2 902.0,1472.9 903.0,1461.2 904.0,1469.9 905.0,1452.6 906.0,1472.1 907.0,1472.6 908.0,1474.9 909.0,1478.1 910.0,1481.7 911.0,1480.3 912.0,1482.7 913.0,1483.3 914.0,1487.5 915.0,1486.2 916.0,1488.5 917.0,1489.6 918.0,1480.2 919.0,1486.5 920.0,1483.2 921.0,1486.3 922.0,1496.7 923.0,1485.8 924.0,1487.2 925.0,1484.8 926.0,1487.2 927.0,1491.8 928.0,1478.9 929.0,1479.9 930.0,1475.8 931.0,1477.9 932.0,1490.1 933.0,1475.5 934.0,1482.8 935.0,1480.7 936.0,1483.6 937.0,1488.2 938.0,1486.9 939.0,1489.9 940.0,1479.4 941.0,1486.0 942.0,1485.7 943.0,1475.1 944.0,1479.4 945.0,1481.4 946.0,1488.2 947.0,1480.1 948.0,1489.6 949.0,1482.6 950.0,1491.2 951.0,1483.8 952.0,1487.7 953.0,1495.7 954.0,1486.6 955.0,1486.6 956.0,1473.0 957.0,1485.0 958.0,1484.6 959.0,1475.7 960.0,1478.7 961.0,1475.6 962.0,1479.2 963.0,1475.0 964.0,1472.1 965.0,1482.8 966.0,1477.8 967.0,1484.2 968.0,1493.3 969.0,1489.7 970.0,1480.8 971.0,1481.4 972.0,1481.7 973.0,1482.2 974.0,1490.0 975.0,1488.0 976.0,1479.4 977.0,1483.2 978.0,1491.6 979.0,1476.7 980.0,1491.4 981.0,1476.6 982.0,1490.1 983.0,1487.3 984.0,1485.5 985.0,1480.2 986.0,1487.7 987.0,1487.0 988.0,1487.0 989.0,1494.2 990.0,1481.4 991.0,1484.1 992.0,1496.8 993.0,1501.8 994.0,1484.5 995.0,1489.5 996.0,1488.5 997.0,1488.1 998.0,1493.8 999.0,1489.6 1000.0,1490.1 1001.0,1483.4 1002.0,1489.9 1003.0,1490.8 1004.0,1488.5 1005.0,1481.1 1006.0,1488.2 1007.0,1480.1 1008.0,1481.3 1009.0,1485.1 1010.0,1489.8 1011.0,1483.3 1012.0,1484.0 1013.0,1492.5 1014.0,1491.9 1015.0,1486.0 1016.0,1485.8 1017.0,1486.4 1018.0,1492.2 1019.0,1491.8 1020.0,1487.3 1021.0,1490.3 1022.0,1482.9 1023.0,1493.3 1024.0,1496.9 1025.0,1498.0 1026.0,1489.0 1027.0,1492.9 1028.0,1496.1 1029.0,1498.8 1030.0,1495.1 1031.0,1498.3 1032.0,1499.7 1033.0,1495.7 1034.0,1488.4 1035.0,1498.4 1036.0,1504.4 1037.0,1500.7 1038.0,1502.3 1039.0,1505.4 1040.0,1494.4 1041.0,1491.4 1042.0,1494.5 1043.0,1498.5 1044.0,1505.5 1045.0,1499.5 1046.0,1494.1 1047.0,1503.0 1048.0,1496.0 1049.0,1494.7 1050.0,1493.2 1051.0,1486.3 1052.0,1487.4 1053.0,1489.6 1054.0,1486.9 1055.0,1495.3 1056.0,1500.9 1057.0,1494.3 1058.0,1488.9 1059.0,1493.9 1060.0,1503.5 1061.0,1497.1 1062.0,1504.6 1063.0,1496.0 1064.0,1485.9 1065.0,1493.2 1066.0,1503.4 1067.0,1496.8 1068.0,1485.1 1069.0,1497.0 1070.0,1498.7 1071.0,1483.8 1072.0,1489.7 1073.0,1498.0 1074.0,1499.7 1075.0,1489.1 1076.0,1493.7 1077.0,1500.6 1078.0,1496.1 1079.0,1493.3 1080.0,1490.6 1081.0,1499.3 1082.0,1493.2 1083.0,1500.3 1084.0,1486.2 1085.0,1487.3 1086.0,1488.1 1087.0,1490.5 1088.0,1487.5 1089.0,1496.2 1090.0,1491.8 1091.0,1481.2 1092.0,1486.5 1093.0,1487.6 1094.0,1477.1 1095.0,1490.0 1096.0,1479.0 1097.0,1489.2 1098.0,1484.8 1099.0,1477.5 1100.0,1487.6 1101.0,1483.0 1102.0,1487.6 1103.0,1487.1 1104.0,1487.2 1105.0,1489.8 1106.0,1491.1 1107.0,1484.6 1108.0,1495.9 1109.0,1477.1 1110.0,1479.6 1111.0,1480.0 1112.0,1478.3 1113.0,1478.3 1114.0,1491.6 1115.0,1480.6 1116.0,1483.9 1117.0,1492.3 1118.0,1495.9 1119.0,1490.2 1120.0,1498.8 1121.0,1497.5 1122.0,1496.3 1123.0,1492.0 1124.0,1487.9 1125.0,1486.9 1126.0,1499.3 1127.0,1496.1 1128.0,1492.0 1129.0,1493.3 1130.0,1498.2 1131.0,1499.7 1132.0,1493.5 1133.0,1487.5 1134.0,1498.2 1135.0,1492.3 1136.0,1486.7 1137.0,1496.9 1138.0,1496.5 1139.0,1487.8 1140.0,1485.6 1141.0,1485.0 1142.0,1483.7 1143.0,1485.9 1144.0,1486.4 1145.0,1488.5 1146.0,1490.6 1147.0,1494.9 1148.0,1493.2 1149.0,1493.0 1150.0,1488.4 1151.0,1492.4 1152.0,1487.8 1153.0,1485.4 1154.0,1486.0 1155.0,1477.6 1156.0,1480.6 1157.0,1471.7 1158.0,1482.0 1159.0,1490.3 1160.0,1492.8 1161.0,1483.3 1162.0,1482.6 1163.0,1492.9 1164.0,1487.8 1165.0,1498.0 1166.0,1485.1 1167.0,1498.4 1168.0,1493.8 1169.0,1483.7 1170.0,1485.2 1171.0,1497.1 1172.0,1495.7 1173.0,1490.1 1174.0,1491.0 1175.0,1504.6 1176.0,1497.1 1177.0,1494.3 1178.0,1495.0 1179.0,1491.9 1180.0,1496.1 1181.0,1498.9 1182.0,1500.6 1183.0,1489.5 1184.0,1504.3 1185.0,1494.6 1186.0,1500.1 1187.0,1501.6 1188.0,1501.8 1189.0,1506.4 1190.0,1496.1 1191.0,1495.4 1192.0,1496.0 1193.0,1495.4 1194.0,1499.0 1195.0,1495.1 1196.0,1493.0 1197.0,1495.2 1198.0,1493.6 1199.0,1503.6 1200.0,1490.1 1201.0,1507.2 1202.0,1513.1 1203.0,1501.9 1204.0,1499.8 1205.0,1497.1 1206.0,1489.5 1207.0,1489.5 1208.0,1489.5 1209.0,1497.4 1210.0,1499.3 1211.0,1491.6 1212.0,1499.9 1213.0,1493.4 1214.0,1489.6 1215.0,1490.8 1216.0,1488.9 1217.0,1497.1 1218.0,1495.2 1219.0,1493.9 1220.0,1489.6 1221.0,1477.6 1222.0,1479.1 1223.0,1484.3 1224.0,1493.5 1225.0,1483.8 1226.0,1491.2 1227.0,1475.0 1228.0,1478.9 1229.0,1481.7 1230.0,1488.3 1231.0,1486.5 1232.0,1484.0 1233.0,1484.2 1234.0,1473.4 1235.0,1469.1 1236.0,1491.0 1237.0,1497.7 1238.0,1492.7 1239.0,1485.6 1240.0,1494.8 1241.0,1485.0 1242.0,1494.2 1243.0,1493.9 1244.0,1501.4 1245.0,1492.0 1246.0,1487.0 1247.0,1479.1 1248.0,1490.6 1249.0,1484.5 1250.0,1488.3 1251.0,1487.5 1252.0,1488.5 1253.0,1477.4 1254.0,1492.5 1255.0,1484.4 1256.0,1490.6 1257.0,1500.2 1258.0,1493.4 1259.0,1486.6 1260.0,1490.8 1261.0,1484.0 1262.0,1487.6 1263.0,1491.4 1264.0,1487.6 1265.0,1488.0 1266.0,1480.2 1267.0,1488.3 1268.0,1485.6 1269.0,1481.5 1270.0,1492.6 1271.0,1487.3 1272.0,1487.8 1273.0,1495.0 1274.0,1485.9 1275.0,1489.7 1276.0,1485.3 1277.0,1487.4 1278.0,1490.1 1279.0,1486.8 1280.0,1492.8 1281.0,1488.4 1282.0,1494.7 1283.0,1498.4 1284.0,1490.7 1285.0,1484.7 1286.0,1483.8 1287.0,1489.2 1288.0,1485.1 1289.0,1479.7 1290.0,1494.8 1291.0,1496.8 1292.0,1489.8 1293.0,1489.0 1294.0,1493.6 1295.0,1487.2 1296.0,1490.2 1297.0,1489.3 1298.0,1491.1 1299.0,1488.4 1300.0,1487.8 1301.0,1493.8 1302.0,1490.2 1303.0,1488.3 1304.0,1482.5 1305.0,1489.4 1306.0,1489.7 1307.0,1492.3 1308.0,1486.6 1309.0,1495.5 1310.0,1494.3 1311.0,1500.3 1312.0,1489.6 1313.0,1497.6 1314.0,1494.6 1315.0,1489.8 1316.0,1492.6 1317.0,1486.0 1318.0,1488.3 1319.0,1487.9 1320.0,1487.9 1321.0,1490.6 1322.0,1495.0 1323.0,1484.2 1324.0,1486.4 1325.0,1477.8 1326.0,1487.0 1327.0,1501.7 1328.0,1494.7 1329.0,1495.6 1330.0,1506.7 1331.0,1490.8 1332.0,1497.3 1333.0,1494.1 1334.0,1500.3 1335.0,1493.0 1336.0,1488.7 1337.0,1493.5 1338.0,1497.8 1339.0,1502.7 1340.0,1502.6 1341.0,1499.9 1342.0,1498.9 1343.0,1501.2 1344.0,1510.6 1345.0,1503.1 1346.0,1510.1 1347.0,1499.4 1348.0,1499.6 1349.0,1497.3 1350.0,1497.0 1351.0,1503.6 1352.0,1503.4 1353.0,1510.1 1354.0,1510.7 1355.0,1505.9 1356.0,1500.9 1357.0,1500.1 1358.0,1498.0 1359.0,1499.8 1360.0,1488.2 1361.0,1499.0 1362.0,1506.2 1363.0,1495.7 1364.0,1501.0 1365.0,1502.6 1366.0,1494.9 1367.0,1493.5 1368.0,1499.9 1369.0,1503.5 1370.0,1504.5 1371.0,1491.4 1372.0,1503.5 1373.0,1491.7 1374.0,1501.7 1375.0,1496.3 1376.0,1499.4 1377.0,1496.2 1378.0,1484.7 1379.0,1494.7 1380.0,1487.0 1381.0,1489.7 1382.0,1488.5 1383.0,1489.8 1384.0,1483.2 1385.0,1490.7 1386.0,1494.8 1387.0,1487.8 1388.0,1498.3 1389.0,1493.8 1390.0,1485.4 1391.0,1490.5 1392.0,1489.2 1393.0,1486.8 1394.0,1491.3 1395.0,1488.9 1396.0,1486.2 1397.0,1492.8 1398.0,1488.8 1399.0,1487.2 1400.0,1494.2 1401.0,1492.3 1402.0,1492.7 1403.0,1498.1 1404.0,1487.4 1405.0,1501.9 1406.0,1498.1 1407.0,1498.8 1408.0,1501.5 1409.0,1499.7 1410.0,1503.3 1411.0,1491.5 1412.0,1495.3 1413.0,1497.8 1414.0,1494.6 1415.0,1496.9 1416.0,1492.6 1417.0,1503.5 1418.0,1495.2 1419.0,1501.6 1420.0,1504.3 1421.0,1496.3 1422.0,1497.6 1423.0,1494.4 1424.0,1502.1 1425.0,1508.9 1426.0,1504.3 1427.0,1500.4 1428.0,1513.3 1429.0,1512.8 1430.0,1510.7 1431.0,1500.1 1432.0,1499.4 1433.0,1501.7 1434.0,1497.7 1435.0,1503.4 1436.0,1504.8 1437.0,1507.2 1438.0,1506.3 1439.0,1509.3 1440.0,1513.0 1441.0,1508.6 1442.0,1502.3 1443.0,1509.7 1444.0,1511.4 1445.0,1494.0 1446.0,1506.2 1447.0,1501.8 1448.0,1504.3 1449.0,1513.6 1450.0,1507.4 1451.0,1505.7 1452.0,1504.2 1453.0,1508.5 1454.0,1501.3 1455.0,1509.1 1456.0,1507.2 1457.0,1514.3 1458.0,1519.3 1459.0,1515.6 1460.0,1513.0 1461.0,1508.9 1462.0,1504.5 1463.0,1516.7 1464.0,1512.9 1465.0,1519.9 1466.0,1514.5 1467.0,1510.3 1468.0,1510.5 1469.0,1506.2 1470.0,1516.9 1471.0,1511.2 1472.0,1505.6 1473.0,1510.0 1474.0,1504.4 1475.0,1501.2 1476.0,1505.3 1477.0,1501.1 1478.0,1500.3 1479.0,1509.8 1480.0,1511.6 1481.0,1504.6 1482.0,1504.0 1483.0,1499.6 1484.0,1495.3 1485.0,1502.5 1486.0,1497.3 1487.0,1493.9 1488.0,1496.5 1489.0,1492.3 1490.0,1499.6 1491.0,1496.1 1492.0,1488.5 1493.0,1494.9 1494.0,1484.8 1495.0,1482.0 1496.0,1481.9 1497.0,1484.2 1498.0,1483.1 1499.0,1476.2 1500.0,1490.4 1501.0,1481.6 1502.0,1471.3 1503.0,1472.7 1504.0,1479.7 1505.0,1477.0 1506.0,1474.2 1507.0,1486.3 1508.0,1483.2 1509.0,1468.1 1510.0,1478.1 1511.0,1475.4 1512.0,1467.8 1513.0,1468.8 1514.0,1465.4 1515.0,1469.4 1516.0,1474.4 1517.0,1472.2 1518.0,1470.7 1519.0,1478.0 1520.0,1472.5 1521.0,1470.5 1522.0,1475.1 1523.0,1479.1 1524.0,1486.4 1525.0,1485.0 1526.0,1483.0 1527.0,1483.1 1528.0,1472.4 1529.0,1478.6 1530.0,1474.6 1531.0,1481.1 1532.0,1477.5 1533.0,1474.0 1534.0,1472.0 1535.0,1472.0 1536.0,1481.2 1537.0,1479.0 1538.0,1483.1 1539.0,1476.1 1540.0,1481.4 1541.0,1479.9 1542.0,1476.2 1543.0,1480.2 1544.0,1472.6 1545.0,1478.2 1546.0,1469.7 1547.0,1475.7 1548.0,1467.6 1549.0,1467.9 1550.0,1477.1 1551.0,1475.3 1552.0,1481.8 1553.0,1474.7 1554.0,1475.5 1555.0,1479.5 1556.0,1486.5 1557.0,1470.5 1558.0,1467.6 1559.0,1471.5 1560.0,1473.3 1561.0,1466.6 1562.0,1469.3 1563.0,1476.2 1564.0,1483.2 1565.0,1486.2 1566.0,1476.1 1567.0,1476.4 1568.0,1476.6 1569.0,1472.8 1570.0,1477.2 1571.0,1478.3 1572.0,1469.2 1573.0,1471.7 1574.0,1473.0 1575.0,1472.9 1576.0,1468.8 1577.0,1469.2 1578.0,1482.0 1579.0,1476.4 1580.0,1474.1 1581.0,1483.5 1582.0,1479.4 1583.0,1482.5 1584.0,1476.1 1585.0,1473.2 1586.0,1478.4 1587.0,1477.9 1588.0,1476.5 1589.0,1477.6 1590.0,1477.5 1591.0,1470.4 1592.0,1478.1 1593.0,1481.5 1594.0,1471.8 1595.0,1480.0 1596.0,1476.8 1597.0,1478.5 1598.0,1470.6 1599.0,1477.8 1600.0,1474.1 1601.0,1473.6 1602.0,1481.2 1603.0,1477.9 1604.0,1472.2 1605.0,1484.2 1606.0,1475.0 1607.0,1476.2 1608.0,1475.4 1609.0,1486.2 1610.0,1480.8 1611.0,1476.8 1612.0,1481.0 1613.0,1488.4 1614.0,1478.4 1615.0,1477.3 1616.0,1472.6 1617.0,1476.8 1618.0,1486.9 1619.0,1473.5 1620.0,1482.3 1621.0,1480.5 1622.0,1481.7 1623.0,1480.0 1624.0,1485.5 1625.0,1479.7 1626.0,1475.7 1627.0,1482.2 1628.0,1479.7 1629.0,1476.9 1630.0,1479.5 1631.0,1472.6 1632.0,1479.3 1633.0,1485.8 1634.0,1475.3 1635.0,1478.4 1636.0,1482.2 1637.0,1477.8 1638.0,1482.0 1639.0,1488.7 1640.0,1488.7 1641.0,1495.0 1642.0,1487.0 1643.0,1485.7 1644.0,1478.4 1645.0,1482.2 1646.0,1476.9 1647.0,1483.8 1648.0,1471.9 1649.0,1471.6 1650.0,1478.7 1651.0,1479.2 1652.0,1481.6 1653.0,1480.6 1654.0,1479.1 1655.0,1468.1 1656.0,1472.6 1657.0,1472.5 1658.0,1470.2 1659.0,1473.5 1660.0,1470.2 1661.0,1472.3 1662.0,1478.8 1663.0,1477.1 1664.0,1473.3 1665.0,1474.7 1666.0,1476.2 1667.0,1474.6 1668.0,1466.6 1669.0,1475.7 1670.0,1460.5 1671.0,1467.1 1672.0,1467.5 1673.0,1464.0 1674.0,1467.4 1675.0,1466.1 1676.0,1469.3 1677.0,1466.1 1678.0,1462.2 1679.0,1464.5 1680.0,1465.9 1681.0,1464.5 1682.0,1466.3 1683.0,1465.1 1684.0,1470.2 1685.0,1473.5 1686.0,1465.4 1687.0,1475.1 1688.0,1474.3 1689.0,1476.8 1690.0,1480.7 1691.0,1477.3 1692.0,1468.0 1693.0,1475.6 1694.0,1469.6 1695.0,1475.1 1696.0,1464.9 1697.0,1475.8 1698.0,1479.2 1699.0,1482.2 1700.0,1478.4 1701.0,1471.2 1702.0,1470.0 1703.0,1477.5 1704.0,1473.3 1705.0,1464.7 1706.0,1465.9 1707.0,1475.6 1708.0,1472.6 1709.0,1465.9 1710.0,1464.4 1711.0,1466.7 1712.0,1472.8 1713.0,1473.1 1714.0,1472.2 1715.0,1471.7 1716.0,1470.2 1717.0,1471.7 1718.0,1480.5 1719.0,1470.9 1720.0,1472.9 1721.0,1470.8 1722.0,1467.8 1723.0,1458.2 1724.0,1466.1 1725.0,1464.7 1726.0,1460.4 1727.0,1464.4 1728.0,1462.7 1729.0,1462.2 1730.0,1458.0 1731.0,1462.6 1732.0,1457.9 1733.0,1474.3 1734.0,1458.2 1735.0,1464.6 1736.0,1460.4 1737.0,1459.9 1738.0,1466.6 1739.0,1470.3 1740.0,1460.5 1741.0,1470.2 1742.0,1466.4 1743.0,1473.9 1744.0,1459.2 1745.0,1473.5 1746.0,1469.6 1747.0,1467.8 1748.0,1467.0 1749.0,1462.1 1750.0,1469.6 1751.0,1463.5 1752.0,1456.2 1753.0,1461.4 1754.0,1460.2 1755.0,1453.3 1756.0,1461.4 1757.0,1467.7 1758.0,1462.8 1759.0,1462.7 1760.0,1461.2 1761.0,1465.4 1762.0,1465.7 1763.0,1468.1 1764.0,1468.0 1765.0,1477.7 1766.0,1464.1 1767.0,1463.9 1768.0,1460.0 1769.0,1462.3 1770.0,1466.9 1771.0,1460.1 1772.0,1464.5 1773.0,1467.6 1774.0,1462.9 1775.0,1481.2 1776.0,1467.4 1777.0,1473.7 1778.0,1475.1 1779.0,1468.2 1780.0,1455.0 1781.0,1468.1 1782.0,1466.5 1783.0,1466.4 1784.0,1472.8 1785.0,1463.5 1786.0,1470.5 1787.0,1470.3 1788.0,1463.3 1789.0,1471.5 1790.0,1464.1 1791.0,1471.9 1792.0,1471.0 1793.0,1460.5 1794.0,1464.7 1795.0,1453.4 1796.0,1455.4 1797.0,1452.4 1798.0,1459.1 1799.0,1455.3 1800.0,1467.0 1801.0,1454.1 1802.0,1456.7 1803.0,1458.2 1804.0,1467.4 1805.0,1463.3 1806.0,1464.8 1807.0,1467.3 1808.0,1466.6 1809.0,1461.0 1810.0,1456.8 1811.0,1467.2 1812.0,1476.2 1813.0,1469.7 1814.0,1468.9 1815.0,1466.7 1816.0,1473.3 1817.0,1469.5 1818.0,1462.9 1819.0,1467.6 1820.0,1468.3 1821.0,1466.9 1822.0,1468.5 1823.0,1471.9 1824.0,1473.0 1825.0,1472.7 1826.0,1468.1 1827.0,1476.2 1828.0,1482.2 1829.0,1470.3 1830.0,1480.9 1831.0,1473.4 1832.0,1477.1 1833.0,1489.9 1834.0,1480.2 1835.0,1472.5 1836.0,1473.3 1837.0,1475.7 1838.0,1479.7 1839.0,1477.1 1840.0,1473.0 1841.0,1484.0 1842.0,1474.8 1843.0,1482.1 1844.0,1490.3 1845.0,1481.8 1846.0,1481.5 1847.0,1477.3 1848.0,1481.4 1849.0,1479.7 1850.0,1480.9 1851.0,1479.9 1852.0,1472.4 1853.0,1484.3 1854.0,1479.6 1855.0,1490.9 1856.0,1487.4 1857.0,1486.8 1858.0,1487.1 1859.0,1490.7 1860.0,1482.1 1861.0,1493.4 1862.0,1498.3 1863.0,1492.5 1864.0,1486.1 1865.0,1485.7 1866.0,1490.5 1867.0,1485.7 1868.0,1483.7 1869.0,1496.2 1870.0,1487.1 1871.0,1487.5 1872.0,1487.1 1873.0,1478.8 1874.0,1491.2 1875.0,1485.4 1876.0,1484.4 1877.0,1477.7 1878.0,1479.9 1879.0,1487.9 1880.0,1484.5 1881.0,1484.6 1882.0,1486.0 1883.0,1490.3 1884.0,1481.9 1885.0,1496.0 1886.0,1494.0 1887.0,1495.2 1888.0,1481.0 1889.0,1488.4 1890.0,1490.7 1891.0,1482.3 1892.0,1483.9 1893.0,1484.2 1894.0,1487.6 1895.0,1491.5 1896.0,1480.5 1897.0,1485.5 1898.0,1494.7 1899.0,1480.7 1900.0,1486.5 1901.0,1486.4 1902.0,1487.0 1903.0,1482.7 1904.0,1486.8 1905.0,1483.7 1906.0,1492.9 1907.0,1483.9 1908.0,1494.8 1909.0,1484.5 1910.0,1489.6 1911.0,1498.9 1912.0,1495.7 1913.0,1495.3 1914.0,1490.9 1915.0,1494.1 1916.0,1488.6 1917.0,1491.8 1918.0,1499.6 1919.0,1499.3 1920.0,1499.6 1921.0,1490.4 1922.0,1501.0 1923.0,1503.0 1924.0,1494.6 1925.0,1494.4 1926.0,1484.6 1927.0,1487.2 1928.0,1493.4 1929.0,1493.2 1930.0,1489.8 1931.0,1486.5 1932.0,1489.1 1933.0,1495.1 1934.0,1488.5 1935.0,1493.1 1936.0,1495.9 1937.0,1497.8 1938.0,1489.3 1939.0,1488.8 1940.0,1499.3 1941.0,1497.0 1942.0,1500.6 1943.0,1499.4 1944.0,1498.4 1945.0,1498.1 1946.0,1501.8 1947.0,1497.7 1948.0,1495.1 1949.0,1504.3 1950.0,1497.4 1951.0,1494.4 1952.0,1493.9 1953.0,1486.4 1954.0,1494.1 1955.0,1494.9 1956.0,1487.3 1957.0,1488.8 1958.0,1484.1 1959.0,1488.5 1960.0,1490.3 1961.0,1483.6 1962.0,1484.6 1963.0,1489.7 1964.0,1489.0 1965.0,1485.9 1966.0,1486.6 1967.0,1491.7 1968.0,1499.5 1969.0,1490.2 1970.0,1493.0 1971.0,1494.5 1972.0,1493.3 1973.0,1500.3 1974.0,1481.8 1975.0,1490.0 1976.0,1494.6 1977.0,1489.6 1978.0,1493.0 1979.0,1492.0 1980.0,1488.1 1981.0,1481.8 1982.0,1480.1 1983.0,1484.0 1984.0,1495.8 1985.0,1489.4 1986.0,1475.5 1987.0,1483.8 1988.0,1483.3 1989.0,1485.6 1990.0,1489.0 1991.0,1472.0 1992.0,1498.6 1993.0,1490.1 1994.0,1488.0 1995.0,1482.3 1996.0,1474.4 1997.0,1477.6 1998.0,1485.4 1999.0,1480.2 2000.0,1488.3 2001.0,1486.7 2002.0,1479.0 2003.0,1482.2 2004.0,1484.5 2005.0,1486.5 2006.0,1485.1 2007.0,1477.7 2008.0,1479.7 2009.0,1480.5 2010.0,1476.7 2011.0,1481.4 2012.0,1476.9 2013.0,1487.4 2014.0,1480.9 2015.0,1478.8 2016.0,1475.6 2017.0,1475.7 2018.0,1483.0 2019.0,1468.7 2020.0,1475.4 2021.0,1483.4 2022.0,1461.3 2023.0,1469.7 2024.0,1463.5 2025.0,1474.3 2026.0,1465.5 2027.0,1462.1 2028.0,1470.0 2029.0,1477.5 2030.0,1464.5 2031.0,1465.4 2032.0,1468.7 2033.0,1464.7 2034.0,1464.8 2035.0,1463.6 2036.0,1467.1 2037.0,1463.0 2038.0,1458.9 2039.0,1458.1 2040.0,1470.3 2041.0,1459.9 2042.0,1458.7 2043.0,1461.8 2044.0,1465.8 2045.0,1459.0 2046.0,1457.4 2047.0,1452.7 2048.0,1461.8 2049.0,1457.7 2050.0,1451.6 2051.0,1457.5 2052.0,1451.2 2053.0,1464.7 2054.0,1451.3 2055.0,1462.2 2056.0,1452.3 2057.0,1453.4 2058.0,1452.2 2059.0,1439.3 2060.0,1444.8 2061.0,1447.4 2062.0,1443.3 2063.0,1448.4 2064.0,1457.3 2065.0,1449.9 2066.0,1448.2 2067.0,1444.9 2068.0,1440.4 2069.0,1450.8 2070.0,1451.4 2071.0,1437.3 2072.0,1446.5 2073.0,1444.4 2074.0,1434.5 2075.0,1444.5 2076.0,1436.4 2077.0,1435.8 2078.0,1435.5 2079.0,1435.9 2080.0,1442.4 2081.0,1444.8 2082.0,1447.7 2083.0,1435.1 2084.0,1448.2 2085.0,1439.4 2086.0,1433.4 2087.0,1448.0 2088.0,1446.2 2089.0,1448.0 2090.0,1448.1 2091.0,1449.2 2092.0,1441.0 2093.0,1441.2 2094.0,1437.3 2095.0,1442.1 2096.0,1439.6 2097.0,1450.1 2098.0,1443.3 2099.0,1447.6 2100.0,1442.3 2101.0,1441.3 2102.0,1438.5 2103.0,1443.5 2104.0,1425.8 2105.0,1434.8 2106.0,1444.6 2107.0,1442.3 2108.0,1445.2 2109.0,1431.8 2110.0,1433.1 2111.0,1434.1 2112.0,1429.6 2113.0,1433.5 2114.0,1432.5 2115.0,1432.2 2116.0,1435.0 2117.0,1432.4 2118.0,1436.0 2119.0,1437.2 2120.0,1433.9 2121.0,1437.9 2122.0,1431.8 2123.0,1435.7 2124.0,1442.0 2125.0,1439.6 2126.0,1432.7 2127.0,1435.2 2128.0,1428.6 2129.0,1429.9 2130.0,1428.8 2131.0,1433.0 2132.0,1434.5 2133.0,1433.1 2134.0,1428.9 2135.0,1426.6 2136.0,1433.0 2137.0,1432.5 2138.0,1437.7 2139.0,1433.3 2140.0,1438.5 2141.0,1434.2 2142.0,1430.4 2143.0,1426.0 2144.0,1430.3 2145.0,1432.1 2146.0,1427.6 2147.0,1439.5 2148.0,1437.5 2149.0,1436.1 2150.0,1431.5 2151.0,1438.0 2152.0,1435.1 2153.0,1426.5 2154.0,1431.6 2155.0,1439.1 2156.0,1429.1 2157.0,1432.8 2158.0,1432.3 2159.0,1434.6 2160.0,1438.3 2161.0,1449.6 2162.0,1433.6 2163.0,1434.3 2164.0,1449.3 2165.0,1443.3 2166.0,1435.6 2167.0,1445.1 2168.0,1435.7 2169.0,1437.1 2170.0,1438.9 2171.0,1439.8 2172.0,1446.3 2173.0,1446.1 2174.0,1447.0 2175.0,1445.1 2176.0,1448.5 2177.0,1438.3 2178.0,1438.0 2179.0,1445.5 2180.0,1442.8 2181.0,1454.5 2182.0,1452.8 2183.0,1443.6 2184.0,1440.9 2185.0,1447.8 2186.0,1455.0 2187.0,1448.2 2188.0,1459.8 2189.0,1453.5 2190.0,1454.5 2191.0,1459.8 2192.0,1466.8 2193.0,1458.3 2194.0,1466.8 2195.0,1468.0 2196.0,1470.3 2197.0,1471.6 2198.0,1470.4 2199.0,1472.3 2200.0,1473.7 2201.0,1467.3 2202.0,1471.3 2203.0,1472.2 2204.0,1477.7 2205.0,1468.4 2206.0,1477.2 2207.0,1460.5 2208.0,1460.6 2209.0,1458.7 2210.0,1459.5 2211.0,1469.2 2212.0,1466.2 2213.0,1470.0 2214.0,1465.1 2215.0,1460.2 2216.0,1473.5 2217.0,1472.9 2218.0,1466.5 2219.0,1467.9 2220.0,1468.8 2221.0,1476.6 2222.0,1478.3 2223.0,1479.8 2224.0,1474.3 2225.0,1481.5 2226.0,1475.0 2227.0,1471.7 2228.0,1474.3 2229.0,1473.5 2230.0,1469.0 2231.0,1474.0 2232.0,1468.9 2233.0,1482.7 2234.0,1478.6 2235.0,1478.4 2236.0,1478.9 2237.0,1475.5 2238.0,1479.8 2239.0,1464.6 2240.0,1482.7 2241.0,1475.2 2242.0,1468.3 2243.0,1480.0 2244.0,1479.1 2245.0,1476.1 2246.0,1483.6 2247.0,1486.4 2248.0,1476.3 2249.0,1479.3 2250.0,1479.2 2251.0,1474.0 2252.0,1476.4 2253.0,1481.5 2254.0,1469.7 2255.0,1478.6 2256.0,1483.6 2257.0,1480.4 2258.0,1474.6 2259.0,1480.6 2260.0,1479.1 2261.0,1476.2 2262.0,1483.2 2263.0,1480.9 2264.0,1480.8 2265.0,1473.7 2266.0,1474.5 2267.0,1473.4 2268.0,1479.3 2269.0,1474.0 2270.0,1472.4 2271.0,1478.5 2272.0,1473.8 2273.0,1477.2 2274.0,1489.0 2275.0,1470.4 2276.0,1481.9 2277.0,1473.9 2278.0,1472.0 2279.0,1474.4 2280.0,1473.0 2281.0,1473.5 2282.0,1477.0 2283.0,1477.8 2284.0,1483.3 2285.0,1477.1 2286.0,1473.0 2287.0,1469.5 2288.0,1476.0 2289.0,1473.6 2290.0,1476.2 2291.0,1467.9 2292.0,1481.8 2293.0,1476.8 2294.0,1471.7 2295.0,1475.7 2296.0,1466.1 2297.0,1472.3 2298.0,1474.0 2299.0,1468.9 2300.0,1476.6 2301.0,1467.2 2302.0,1465.6 2303.0,1470.2 2304.0,1464.0 2305.0,1466.8 2306.0,1465.2 2307.0,1460.7 2308.0,1459.0 2309.0,1456.9 2310.0,1458.1 2311.0,1455.8 2312.0,1455.1 2313.0,1458.7 2314.0,1447.4 2315.0,1449.1 2316.0,1447.6 2317.0,1448.7"/>
<polyline clip-path="url(#c2)" fill="none" stroke="#D95319" stroke-width="6.6" stroke-linejoin="round" stroke-linecap="round" points="294.0,1284.0 294.6,1463.0 295.4,1284.0 296.0,1470.0 296.8,1284.0 297.5,1463.0 298.5,1300.0 300.0,1450.0 302.0,1418.9 303.0,1413.3 304.0,1403.3 305.0,1401.7 306.0,1405.6 307.0,1407.0 308.0,1411.2 309.0,1412.1 310.0,1415.2 311.0,1414.9 312.0,1417.8 313.0,1422.8 314.0,1431.0 315.0,1432.9 316.0,1438.0 317.0,1438.6 318.0,1443.7 319.0,1452.0 320.0,1447.6 321.0,1448.7 322.0,1450.5 323.0,1467.5 324.0,1471.8 325.0,1476.4 326.0,1485.5 327.0,1493.5 328.0,1489.5 329.0,1499.1 330.0,1510.7 331.0,1499.0 332.0,1512.6 333.0,1517.5 334.0,1505.3 335.0,1505.5 336.0,1512.0 337.0,1516.0 338.0,1512.2 339.0,1501.0 340.0,1503.0 341.0,1505.5 342.0,1501.9 343.0,1509.8 344.0,1499.9 345.0,1497.7 346.0,1504.0 347.0,1494.5 348.0,1489.4 349.0,1491.8 350.0,1488.8 351.0,1488.9 352.0,1487.8 353.0,1482.4 354.0,1480.5 355.0,1478.3 356.0,1489.1 357.0,1494.3 358.0,1485.5 359.0,1486.1 360.0,1485.5 361.0,1480.0 362.0,1478.5 363.0,1476.3 364.0,1469.1 365.0,1477.0 366.0,1482.0 367.0,1482.9 368.0,1480.7 369.0,1478.8 370.0,1483.7 371.0,1486.6 372.0,1471.0 373.0,1469.1 374.0,1472.3 375.0,1473.7 376.0,1470.3 377.0,1479.7 378.0,1475.4 379.0,1480.6 380.0,1478.1 381.0,1475.4 382.0,1483.9 383.0,1475.2 384.0,1478.5 385.0,1483.6 386.0,1485.5 387.0,1484.0 388.0,1471.5 389.0,1484.9 390.0,1483.1 391.0,1478.8 392.0,1469.2 393.0,1480.9 394.0,1482.1 395.0,1480.0 396.0,1481.8 397.0,1477.8 398.0,1476.6 399.0,1469.9 400.0,1465.4 401.0,1471.9 402.0,1467.7 403.0,1471.5 404.0,1471.4 405.0,1471.7 406.0,1473.2 407.0,1476.4 408.0,1472.7 409.0,1481.4 410.0,1469.7 411.0,1479.6 412.0,1479.4 413.0,1469.3 414.0,1479.6 415.0,1483.9 416.0,1481.6 417.0,1478.7 418.0,1473.8 419.0,1475.1 420.0,1472.2 421.0,1470.9 422.0,1469.1 423.0,1476.1 424.0,1475.4 425.0,1469.5 426.0,1470.5 427.0,1474.5 428.0,1481.6 429.0,1477.7 430.0,1483.8 431.0,1471.3 432.0,1475.7 433.0,1474.0 434.0,1474.0 435.0,1472.1 436.0,1472.8 437.0,1466.7 438.0,1467.1 439.0,1468.5 440.0,1474.5 441.0,1465.4 442.0,1470.7 443.0,1473.4 444.0,1469.0 445.0,1473.8 446.0,1466.4 447.0,1473.1 448.0,1473.5 449.0,1469.8 450.0,1475.5 451.0,1478.0 452.0,1477.3 453.0,1474.2 454.0,1476.3 455.0,1472.3 456.0,1475.0 457.0,1483.9 458.0,1471.9 459.0,1472.0 460.0,1479.9 461.0,1478.3 462.0,1478.8 463.0,1472.1 464.0,1471.8 465.0,1469.9 466.0,1479.1 467.0,1481.8 468.0,1469.6 469.0,1467.8 470.0,1473.4 471.0,1469.9 472.0,1475.7 473.0,1480.8 474.0,1467.5 475.0,1474.0 476.0,1476.8 477.0,1469.4 478.0,1478.6 479.0,1471.3 480.0,1467.1 481.0,1474.5 482.0,1475.6 483.0,1475.1 484.0,1475.7 485.0,1469.7 486.0,1472.2 487.0,1474.2 488.0,1480.1 489.0,1475.9 490.0,1473.8 491.0,1471.4 492.0,1475.5 493.0,1475.8 494.0,1482.4 495.0,1479.3 496.0,1470.2 497.0,1478.4 498.0,1477.5 499.0,1483.8 500.0,1478.4 501.0,1482.1 502.0,1482.2 503.0,1476.5 504.0,1471.4 505.0,1473.5 506.0,1471.3 507.0,1491.4 508.0,1477.4 509.0,1470.6 510.0,1469.9 511.0,1477.7 512.0,1473.6 513.0,1469.7 514.0,1467.0 515.0,1474.5 516.0,1473.4 517.0,1477.8 518.0,1476.6 519.0,1485.2 520.0,1470.4 521.0,1482.0 522.0,1474.4 523.0,1474.6 524.0,1483.2 525.0,1467.8 526.0,1476.7 527.0,1475.3 528.0,1481.1 529.0,1469.3 530.0,1479.1 531.0,1479.0 532.0,1476.4 533.0,1477.5 534.0,1476.3 535.0,1471.1 536.0,1475.6 537.0,1466.1 538.0,1478.9 539.0,1480.8 540.0,1470.6 541.0,1482.7 542.0,1476.8 543.0,1472.8 544.0,1474.7 545.0,1478.9 546.0,1468.8 547.0,1467.0 548.0,1477.2 549.0,1472.8 550.0,1470.9 551.0,1469.1 552.0,1473.2 553.0,1473.6 554.0,1463.4 555.0,1471.0 556.0,1472.5 557.0,1472.1 558.0,1469.3 559.0,1482.5 560.0,1476.5 561.0,1482.9 562.0,1475.3 563.0,1489.2 564.0,1477.8 565.0,1467.6 566.0,1480.1 567.0,1474.8 568.0,1469.4 569.0,1476.9 570.0,1472.6 571.0,1481.0 572.0,1480.2 573.0,1472.7 574.0,1482.0 575.0,1482.2 576.0,1467.6 577.0,1485.7 578.0,1483.2 579.0,1487.1 580.0,1491.2 581.0,1480.4 582.0,1474.4 583.0,1475.1 584.0,1472.4 585.0,1477.4 586.0,1463.9 587.0,1471.0 588.0,1484.6 589.0,1479.2 590.0,1481.6 591.0,1480.1 592.0,1480.4 593.0,1483.9 594.0,1482.4 595.0,1477.1 596.0,1481.1 597.0,1487.0 598.0,1481.5 599.0,1479.8 600.0,1489.5 601.0,1489.4 602.0,1481.7 603.0,1495.5 604.0,1491.7 605.0,1489.2 606.0,1486.6 607.0,1491.7 608.0,1487.1 609.0,1486.5 610.0,1484.9 611.0,1489.9 612.0,1485.8 613.0,1489.5 614.0,1493.0 615.0,1503.8 616.0,1494.4 617.0,1481.1 618.0,1487.6 619.0,1485.1 620.0,1483.3 621.0,1483.4 622.0,1494.0 623.0,1490.6 624.0,1490.0 625.0,1488.7 626.0,1491.2 627.0,1490.7 628.0,1486.5 629.0,1481.9 630.0,1476.8 631.0,1478.7 632.0,1482.6 633.0,1481.9 634.0,1487.3 635.0,1481.7 636.0,1493.3 637.0,1481.6 638.0,1488.3 639.0,1493.0 640.0,1492.0 641.0,1487.6 642.0,1496.7 643.0,1490.2 644.0,1490.3 645.0,1491.6 646.0,1483.3 647.0,1495.3 648.0,1491.6 649.0,1491.3 650.0,1484.1 651.0,1496.2 652.0,1491.5 653.0,1489.8 654.0,1484.9 655.0,1491.8 656.0,1487.9 657.0,1496.0 658.0,1493.4 659.0,1491.7 660.0,1485.4 661.0,1480.8 662.0,1476.5 663.0,1482.2 664.0,1489.2 665.0,1486.3 666.0,1473.6 667.0,1484.1 668.0,1485.6 669.0,1479.4 670.0,1484.4 671.0,1480.5 672.0,1484.0 673.0,1483.8 674.0,1480.7 675.0,1483.5 676.0,1481.0 677.0,1481.0 678.0,1465.7 679.0,1478.1 680.0,1481.3 681.0,1470.6 682.0,1477.0 683.0,1477.1 684.0,1474.7 685.0,1474.2 686.0,1473.5 687.0,1481.6 688.0,1471.2 689.0,1476.5 690.0,1478.0 691.0,1465.4 692.0,1473.4 693.0,1478.7 694.0,1473.3 695.0,1477.1 696.0,1487.7 697.0,1484.3 698.0,1485.0 699.0,1490.5 700.0,1491.0 701.0,1478.8 702.0,1484.2 703.0,1485.8 704.0,1494.3 705.0,1489.9 706.0,1485.7 707.0,1488.4 708.0,1476.7 709.0,1487.9 710.0,1489.1 711.0,1493.8 712.0,1490.5 713.0,1478.8 714.0,1487.2 715.0,1482.3 716.0,1484.1 717.0,1490.8 718.0,1479.0 719.0,1498.8 720.0,1495.1 721.0,1492.0 722.0,1485.5 723.0,1492.8 724.0,1491.5 725.0,1487.2 726.0,1478.6 727.0,1489.1 728.0,1485.9 729.0,1489.5 730.0,1483.5 731.0,1482.8 732.0,1480.6 733.0,1473.4 734.0,1470.6 735.0,1479.1 736.0,1474.3 737.0,1480.0 738.0,1472.7 739.0,1477.0 740.0,1485.1 741.0,1486.3 742.0,1478.8 743.0,1483.2 744.0,1478.4 745.0,1473.1 746.0,1473.8 747.0,1475.2 748.0,1474.7 749.0,1476.1 750.0,1472.0 751.0,1464.2 752.0,1481.6 753.0,1479.6 754.0,1473.8 755.0,1464.1 756.0,1471.9 757.0,1475.7 758.0,1474.7 759.0,1475.4 760.0,1466.2 761.0,1478.2 762.0,1475.7 763.0,1478.5 764.0,1485.6 765.0,1480.9 766.0,1482.8 767.0,1471.6 768.0,1476.8 769.0,1472.0 770.0,1480.6 771.0,1471.6 772.0,1471.5 773.0,1465.8 774.0,1467.9 775.0,1464.6 776.0,1472.7 777.0,1467.4 778.0,1469.6 779.0,1470.4 780.0,1466.3 781.0,1480.8 782.0,1478.5 783.0,1467.6 784.0,1474.5 785.0,1469.0 786.0,1475.9 787.0,1478.7 788.0,1473.7 789.0,1470.6 790.0,1471.9 791.0,1472.0 792.0,1474.5 793.0,1478.3 794.0,1470.1 795.0,1472.9 796.0,1466.9 797.0,1477.3 798.0,1472.7 799.0,1470.5 800.0,1471.9 801.0,1476.6 802.0,1475.3 803.0,1473.2 804.0,1476.2 805.0,1472.6 806.0,1482.9 807.0,1470.8 808.0,1469.3 809.0,1472.1 810.0,1468.9 811.0,1468.7 812.0,1473.7 813.0,1468.8 814.0,1483.2 815.0,1470.5 816.0,1471.9 817.0,1478.5 818.0,1477.1 819.0,1477.2 820.0,1470.5 821.0,1470.7 822.0,1469.9 823.0,1468.1 824.0,1471.5 825.0,1473.9 826.0,1472.2 827.0,1470.1 828.0,1470.2 829.0,1472.3 830.0,1467.7 831.0,1473.3 832.0,1463.7 833.0,1465.7 834.0,1463.5 835.0,1458.8 836.0,1464.3 837.0,1457.7 838.0,1464.0 839.0,1464.8 840.0,1459.0 841.0,1463.3 842.0,1464.0 843.0,1462.9 844.0,1464.1 845.0,1468.2 846.0,1458.1 847.0,1464.4 848.0,1462.7 849.0,1459.4 850.0,1452.5 851.0,1453.4 852.0,1460.2 853.0,1459.7 854.0,1454.1 855.0,1467.8 856.0,1462.0 857.0,1458.9 858.0,1458.8 859.0,1453.9 860.0,1447.0 861.0,1456.5 862.0,1452.0 863.0,1455.8 864.0,1456.6 865.0,1451.8 866.0,1455.9 867.0,1463.4 868.0,1468.2 869.0,1460.7 870.0,1461.1 871.0,1462.3 872.0,1464.5 873.0,1476.4 874.0,1472.3 875.0,1461.7 876.0,1465.6 877.0,1468.0 878.0,1463.3 879.0,1465.2 880.0,1467.5 881.0,1464.4 882.0,1461.8 883.0,1456.3 884.0,1460.1 885.0,1466.6 886.0,1460.0 887.0,1470.1 888.0,1459.5 889.0,1464.5 890.0,1472.8 891.0,1474.3 892.0,1461.7 893.0,1467.8 894.0,1471.7 895.0,1460.6 896.0,1472.6 897.0,1468.8 898.0,1469.0 899.0,1472.3 900.0,1470.1 901.0,1463.9 902.0,1476.5 903.0,1466.4 904.0,1475.3 905.0,1458.6 906.0,1475.4 907.0,1475.1 908.0,1477.0 909.0,1479.8 910.0,1483.3 911.0,1481.5 912.0,1484.7 913.0,1483.6 914.0,1486.8 915.0,1485.7 916.0,1489.7 917.0,1491.2 918.0,1480.8 919.0,1484.5 920.0,1482.7 921.0,1485.9 922.0,1494.8 923.0,1484.6 924.0,1486.8 925.0,1483.8 926.0,1487.3 927.0,1491.4 928.0,1479.4 929.0,1481.1 930.0,1476.6 931.0,1478.9 932.0,1489.8 933.0,1475.2 934.0,1482.2 935.0,1482.6 936.0,1485.5 937.0,1489.7 938.0,1487.8 939.0,1490.1 940.0,1480.8 941.0,1486.3 942.0,1484.5 943.0,1474.4 944.0,1479.3 945.0,1481.9 946.0,1487.8 947.0,1479.5 948.0,1489.3 949.0,1483.2 950.0,1493.2 951.0,1485.3 952.0,1489.4 953.0,1495.7 954.0,1487.4 955.0,1487.6 956.0,1473.1 957.0,1484.2 958.0,1483.1 959.0,1475.2 960.0,1478.7 961.0,1474.2 962.0,1477.5 963.0,1473.7 964.0,1473.3 965.0,1484.0 966.0,1479.3 967.0,1485.0 968.0,1491.3 969.0,1489.1 970.0,1481.4 971.0,1481.5 972.0,1481.0 973.0,1482.3 974.0,1490.4 975.0,1488.7 976.0,1479.9 977.0,1481.3 978.0,1490.5 979.0,1476.4 980.0,1490.4 981.0,1476.8 982.0,1490.6 983.0,1488.4 984.0,1485.6 985.0,1478.7 986.0,1487.6 987.0,1487.5 988.0,1488.2 989.0,1495.7 990.0,1482.7 991.0,1483.6 992.0,1496.1 993.0,1500.8 994.0,1483.7 995.0,1489.0 996.0,1487.3 997.0,1490.3 998.0,1494.3 999.0,1487.7 1000.0,1490.1 1001.0,1483.4 1002.0,1489.4 1003.0,1487.8 1004.0,1488.4 1005.0,1480.9 1006.0,1488.3 1007.0,1482.4 1008.0,1483.3 1009.0,1484.9 1010.0,1488.2 1011.0,1481.6 1012.0,1484.0 1013.0,1493.6 1014.0,1491.7 1015.0,1484.8 1016.0,1486.1 1017.0,1485.6 1018.0,1491.1 1019.0,1489.5 1020.0,1487.1 1021.0,1490.2 1022.0,1483.4 1023.0,1495.4 1024.0,1497.2 1025.0,1499.1 1026.0,1490.5 1027.0,1494.4 1028.0,1498.2 1029.0,1499.6 1030.0,1496.7 1031.0,1498.2 1032.0,1499.3 1033.0,1495.0 1034.0,1487.9 1035.0,1497.4 1036.0,1504.6 1037.0,1502.2 1038.0,1500.8 1039.0,1505.6 1040.0,1492.2 1041.0,1489.9 1042.0,1492.4 1043.0,1497.8 1044.0,1504.8 1045.0,1498.7 1046.0,1494.2 1047.0,1502.5 1048.0,1494.8 1049.0,1494.9 1050.0,1492.5 1051.0,1486.4 1052.0,1487.4 1053.0,1488.9 1054.0,1486.6 1055.0,1494.9 1056.0,1501.2 1057.0,1494.4 1058.0,1489.1 1059.0,1494.0 1060.0,1502.5 1061.0,1495.4 1062.0,1503.9 1063.0,1495.5 1064.0,1484.3 1065.0,1493.7 1066.0,1504.5 1067.0,1497.6 1068.0,1485.3 1069.0,1496.0 1070.0,1499.0 1071.0,1483.4 1072.0,1489.3 1073.0,1497.3 1074.0,1499.3 1075.0,1489.1 1076.0,1494.3 1077.0,1498.4 1078.0,1493.5 1079.0,1489.7 1080.0,1488.2 1081.0,1496.5 1082.0,1490.6 1083.0,1499.8 1084.0,1486.1 1085.0,1489.7 1086.0,1489.6 1087.0,1490.7 1088.0,1489.1 1089.0,1496.5 1090.0,1491.1 1091.0,1483.2 1092.0,1486.7 1093.0,1488.2 1094.0,1477.4 1095.0,1490.7 1096.0,1478.7 1097.0,1488.3 1098.0,1485.1 1099.0,1478.6 1100.0,1488.5 1101.0,1484.0 1102.0,1488.4 1103.0,1486.3 1104.0,1487.4 1105.0,1489.2 1106.0,1491.3 1107.0,1483.6 1108.0,1493.9 1109.0,1476.6 1110.0,1480.9 1111.0,1480.8 1112.0,1478.9 1113.0,1478.5 1114.0,1490.6 1115.0,1480.9 1116.0,1484.8 1117.0,1494.0 1118.0,1497.1 1119.0,1491.3 1120.0,1499.2 1121.0,1498.3 1122.0,1497.7 1123.0,1492.3 1124.0,1487.1 1125.0,1486.9 1126.0,1498.0 1127.0,1496.0 1128.0,1492.5 1129.0,1493.5 1130.0,1497.8 1131.0,1498.8 1132.0,1494.2 1133.0,1489.6 1134.0,1499.2 1135.0,1492.2 1136.0,1487.5 1137.0,1498.1 1138.0,1499.6 1139.0,1489.2 1140.0,1486.5 1141.0,1485.6 1142.0,1485.7 1143.0,1487.7 1144.0,1487.6 1145.0,1488.1 1146.0,1489.5 1147.0,1494.6 1148.0,1494.0 1149.0,1493.3 1150.0,1486.2 1151.0,1490.9 1152.0,1485.3 1153.0,1482.5 1154.0,1485.0 1155.0,1477.5 1156.0,1481.1 1157.0,1471.2 1158.0,1481.2 1159.0,1486.6 1160.0,1492.0 1161.0,1484.0 1162.0,1483.4 1163.0,1494.0 1164.0,1488.3 1165.0,1496.4 1166.0,1484.1 1167.0,1497.0 1168.0,1492.8 1169.0,1484.1 1170.0,1490.2 1171.0,1499.3 1172.0,1498.3 1173.0,1491.1 1174.0,1490.8 1175.0,1505.5 1176.0,1496.9 1177.0,1492.5 1178.0,1492.4 1179.0,1490.6 1180.0,1492.8 1181.0,1497.6 1182.0,1497.8 1183.0,1489.6 1184.0,1504.2 1185.0,1494.6 1186.0,1500.0 1187.0,1502.6 1188.0,1502.5 1189.0,1507.4 1190.0,1495.4 1191.0,1494.8 1192.0,1495.9 1193.0,1497.0 1194.0,1500.1 1195.0,1493.8 1196.0,1492.6 1197.0,1494.1 1198.0,1493.0 1199.0,1503.2 1200.0,1490.7 1201.0,1506.2 1202.0,1510.6 1203.0,1498.8 1204.0,1498.7 1205.0,1496.5 1206.0,1489.0 1207.0,1490.5 1208.0,1488.8 1209.0,1498.2 1210.0,1498.7 1211.0,1491.0 1212.0,1498.1 1213.0,1491.4 1214.0,1488.9 1215.0,1492.9 1216.0,1487.7 1217.0,1495.9 1218.0,1494.0 1219.0,1492.5 1220.0,1487.2 1221.0,1477.2 1222.0,1479.1 1223.0,1483.6 1224.0,1493.9 1225.0,1483.9 1226.0,1492.5 1227.0,1475.8 1228.0,1480.3 1229.0,1482.3 1230.0,1488.9 1231.0,1484.8 1232.0,1483.9 1233.0,1483.6 1234.0,1474.7 1235.0,1470.9 1236.0,1491.8 1237.0,1498.5 1238.0,1493.4 1239.0,1484.3 1240.0,1494.5 1241.0,1484.4 1242.0,1492.8 1243.0,1493.1 1244.0,1499.1 1245.0,1493.5 1246.0,1489.2 1247.0,1481.3 1248.0,1490.4 1249.0,1486.9 1250.0,1491.3 1251.0,1488.1 1252.0,1488.3 1253.0,1479.3 1254.0,1494.3 1255.0,1485.7 1256.0,1489.7 1257.0,1497.1 1258.0,1493.6 1259.0,1486.4 1260.0,1489.1 1261.0,1482.9 1262.0,1487.5 1263.0,1490.1 1264.0,1485.4 1265.0,1486.0 1266.0,1482.1 1267.0,1488.9 1268.0,1484.8 1269.0,1481.6 1270.0,1494.1 1271.0,1485.7 1272.0,1486.8 1273.0,1493.4 1274.0,1486.5 1275.0,1489.9 1276.0,1484.2 1277.0,1489.0 1278.0,1491.4 1279.0,1486.2 1280.0,1492.2 1281.0,1487.5 1282.0,1495.0 1283.0,1498.0 1284.0,1492.3 1285.0,1486.3 1286.0,1486.7 1287.0,1490.7 1288.0,1487.4 1289.0,1480.9 1290.0,1495.2 1291.0,1497.1 1292.0,1489.7 1293.0,1488.4 1294.0,1491.6 1295.0,1484.6 1296.0,1489.5 1297.0,1490.5 1298.0,1491.2 1299.0,1487.6 1300.0,1486.8 1301.0,1490.7 1302.0,1489.2 1303.0,1488.6 1304.0,1483.2 1305.0,1490.1 1306.0,1490.9 1307.0,1493.7 1308.0,1487.1 1309.0,1495.1 1310.0,1494.3 1311.0,1500.7 1312.0,1491.5 1313.0,1497.9 1314.0,1494.7 1315.0,1490.1 1316.0,1492.3 1317.0,1486.6 1318.0,1488.2 1319.0,1488.9 1320.0,1489.6 1321.0,1491.7 1322.0,1494.7 1323.0,1485.7 1324.0,1487.7 1325.0,1479.1 1326.0,1487.6 1327.0,1501.4 1328.0,1495.3 1329.0,1495.5 1330.0,1505.0 1331.0,1489.5 1332.0,1495.0 1333.0,1494.3 1334.0,1499.1 1335.0,1490.9 1336.0,1486.8 1337.0,1492.3 1338.0,1496.2 1339.0,1500.9 1340.0,1500.2 1341.0,1498.4 1342.0,1496.0 1343.0,1495.4 1344.0,1506.0 1345.0,1497.0 1346.0,1503.9 1347.0,1492.9 1348.0,1493.7 1349.0,1491.7 1350.0,1490.5 1351.0,1498.2 1352.0,1499.1 1353.0,1503.3 1354.0,1505.4 1355.0,1500.7 1356.0,1495.3 1357.0,1496.1 1358.0,1494.4 1359.0,1496.5 1360.0,1485.7 1361.0,1494.7 1362.0,1501.8 1363.0,1490.9 1364.0,1495.8 1365.0,1496.9 1366.0,1490.5 1367.0,1488.5 1368.0,1497.7 1369.0,1501.1 1370.0,1501.2 1371.0,1486.8 1372.0,1499.5 1373.0,1488.0 1374.0,1498.1 1375.0,1492.1 1376.0,1494.1 1377.0,1494.3 1378.0,1482.6 1379.0,1490.6 1380.0,1482.6 1381.0,1486.4 1382.0,1484.6 1383.0,1485.8 1384.0,1480.3 1385.0,1487.3 1386.0,1488.1 1387.0,1481.2 1388.0,1491.5 1389.0,1488.4 1390.0,1480.2 1391.0,1484.0 1392.0,1481.4 1393.0,1481.5 1394.0,1485.7 1395.0,1483.6 1396.0,1481.8 1397.0,1488.4 1398.0,1486.2 1399.0,1484.3 1400.0,1490.3 1401.0,1485.9 1402.0,1487.5 1403.0,1494.6 1404.0,1483.4 1405.0,1497.0 1406.0,1494.1 1407.0,1492.7 1408.0,1495.7 1409.0,1493.0 1410.0,1497.5 1411.0,1485.5 1412.0,1491.1 1413.0,1493.4 1414.0,1490.5 1415.0,1491.4 1416.0,1487.6 1417.0,1498.1 1418.0,1492.2 1419.0,1499.2 1420.0,1502.5 1421.0,1493.2 1422.0,1492.1 1423.0,1490.3 1424.0,1499.1 1425.0,1504.2 1426.0,1500.7 1427.0,1495.9 1428.0,1508.1 1429.0,1508.4 1430.0,1503.9 1431.0,1494.9 1432.0,1493.2 1433.0,1495.2 1434.0,1491.9 1435.0,1499.6 1436.0,1502.2 1437.0,1503.7 1438.0,1502.3 1439.0,1505.4 1440.0,1507.9 1441.0,1501.7 1442.0,1495.5 1443.0,1504.0 1444.0,1505.0 1445.0,1488.6 1446.0,1501.2 1447.0,1494.7 1448.0,1497.5 1449.0,1508.2 1450.0,1499.2 1451.0,1499.1 1452.0,1498.6 1453.0,1503.9 1454.0,1497.6 1455.0,1503.4 1456.0,1499.3 1457.0,1508.7 1458.0,1515.6 1459.0,1511.4 1460.0,1507.6 1461.0,1505.4 1462.0,1500.1 1463.0,1511.1 1464.0,1506.4 1465.0,1513.0 1466.0,1507.3 1467.0,1506.3 1468.0,1505.8 1469.0,1502.2 1470.0,1513.3 1471.0,1509.3 1472.0,1502.0 1473.0,1506.1 1474.0,1499.4 1475.0,1497.4 1476.0,1499.7 1477.0,1495.2 1478.0,1495.0 1479.0,1503.7 1480.0,1503.8 1481.0,1500.0 1482.0,1501.5 1483.0,1495.7 1484.0,1490.7 1485.0,1498.5 1486.0,1493.5 1487.0,1490.5 1488.0,1492.4 1489.0,1488.5 1490.0,1496.7 1491.0,1491.0 1492.0,1485.9 1493.0,1492.2 1494.0,1482.2 1495.0,1479.3 1496.0,1481.6 1497.0,1483.1 1498.0,1482.3 1499.0,1476.8 1500.0,1489.4 1501.0,1483.3 1502.0,1473.8 1503.0,1476.8 1504.0,1483.3 1505.0,1480.9 1506.0,1478.1 1507.0,1489.5 1508.0,1486.7 1509.0,1472.2 1510.0,1483.7 1511.0,1480.7 1512.0,1472.8 1513.0,1473.6 1514.0,1472.5 1515.0,1476.7 1516.0,1481.6 1517.0,1477.4 1518.0,1477.3 1519.0,1482.9 1520.0,1476.1 1521.0,1474.6 1522.0,1477.9 1523.0,1484.1 1524.0,1491.0 1525.0,1490.1 1526.0,1489.0 1527.0,1489.0 1528.0,1478.0 1529.0,1484.3 1530.0,1478.1 1531.0,1487.0 1532.0,1485.8 1533.0,1479.8 1534.0,1477.4 1535.0,1477.2 1536.0,1485.0 1537.0,1483.1 1538.0,1488.9 1539.0,1483.7 1540.0,1486.9 1541.0,1484.5 1542.0,1480.5 1543.0,1483.9 1544.0,1475.9 1545.0,1481.1 1546.0,1476.3 1547.0,1481.0 1548.0,1472.7 1549.0,1474.5 1550.0,1483.9 1551.0,1481.9 1552.0,1487.0 1553.0,1479.6 1554.0,1481.0 1555.0,1485.8 1556.0,1490.1 1557.0,1476.9 1558.0,1473.4 1559.0,1476.1 1560.0,1477.8 1561.0,1472.5 1562.0,1473.4 1563.0,1481.1 1564.0,1487.5 1565.0,1490.1 1566.0,1480.9 1567.0,1483.8 1568.0,1481.8 1569.0,1477.3 1570.0,1480.1 1571.0,1482.7 1572.0,1474.1 1573.0,1478.6 1574.0,1480.5 1575.0,1477.8 1576.0,1474.3 1577.0,1475.4 1578.0,1486.8 1579.0,1482.8 1580.0,1478.8 1581.0,1487.5 1582.0,1482.4 1583.0,1485.3 1584.0,1481.6 1585.0,1478.7 1586.0,1482.6 1587.0,1484.0 1588.0,1484.1 1589.0,1484.0 1590.0,1482.0 1591.0,1475.5 1592.0,1481.3 1593.0,1484.1 1594.0,1476.3 1595.0,1485.1 1596.0,1480.5 1597.0,1482.5 1598.0,1475.4 1599.0,1484.2 1600.0,1480.4 1601.0,1479.8 1602.0,1486.6 1603.0,1482.2 1604.0,1477.9 1605.0,1488.8 1606.0,1479.8 1607.0,1480.1 1608.0,1479.9 1609.0,1489.7 1610.0,1484.7 1611.0,1479.8 1612.0,1483.5 1613.0,1490.9 1614.0,1481.8 1615.0,1483.8 1616.0,1477.7 1617.0,1482.0 1618.0,1491.1 1619.0,1478.9 1620.0,1485.8 1621.0,1487.3 1622.0,1486.6 1623.0,1484.0 1624.0,1490.5 1625.0,1485.3 1626.0,1481.4 1627.0,1488.1 1628.0,1485.6 1629.0,1482.2 1630.0,1484.0 1631.0,1477.8 1632.0,1483.2 1633.0,1490.6 1634.0,1479.3 1635.0,1483.0 1636.0,1486.7 1637.0,1484.1 1638.0,1488.4 1639.0,1494.1 1640.0,1492.7 1641.0,1499.9 1642.0,1491.9 1643.0,1491.7 1644.0,1484.6 1645.0,1488.1 1646.0,1482.1 1647.0,1489.1 1648.0,1477.1 1649.0,1478.2 1650.0,1482.4 1651.0,1482.5 1652.0,1485.3 1653.0,1485.8 1654.0,1484.0 1655.0,1472.4 1656.0,1478.4 1657.0,1479.0 1658.0,1476.3 1659.0,1478.4 1660.0,1476.1 1661.0,1476.8 1662.0,1482.0 1663.0,1480.2 1664.0,1477.2 1665.0,1478.4 1666.0,1480.6 1667.0,1480.6 1668.0,1472.9 1669.0,1481.3 1670.0,1466.0 1671.0,1472.6 1672.0,1471.4 1673.0,1468.3 1674.0,1471.5 1675.0,1472.1 1676.0,1474.7 1677.0,1471.8 1678.0,1469.2 1679.0,1471.6 1680.0,1472.7 1681.0,1472.0 1682.0,1473.3 1683.0,1469.6 1684.0,1476.0 1685.0,1478.6 1686.0,1470.4 1687.0,1480.2 1688.0,1479.2 1689.0,1480.9 1690.0,1483.9 1691.0,1482.8 1692.0,1473.8 1693.0,1478.3 1694.0,1473.2 1695.0,1480.5 1696.0,1469.1 1697.0,1480.7 1698.0,1483.3 1699.0,1485.3 1700.0,1481.1 1701.0,1476.3 1702.0,1475.8 1703.0,1481.4 1704.0,1477.1 1705.0,1470.7 1706.0,1469.5 1707.0,1477.4 1708.0,1476.0 1709.0,1470.0 1710.0,1471.8 1711.0,1472.5 1712.0,1478.5 1713.0,1477.9 1714.0,1476.7 1715.0,1476.3 1716.0,1474.5 1717.0,1475.9 1718.0,1484.1 1719.0,1473.9 1720.0,1478.4 1721.0,1476.2 1722.0,1473.6 1723.0,1463.4 1724.0,1470.9 1725.0,1470.0 1726.0,1466.1 1727.0,1470.3 1728.0,1469.9 1729.0,1469.0 1730.0,1464.5 1731.0,1469.6 1732.0,1465.2 1733.0,1479.1 1734.0,1463.8 1735.0,1469.1 1736.0,1465.9 1737.0,1465.5 1738.0,1470.2 1739.0,1474.0 1740.0,1465.9 1741.0,1475.4 1742.0,1472.9 1743.0,1478.9 1744.0,1462.6 1745.0,1476.8 1746.0,1472.8 1747.0,1470.9 1748.0,1469.1 1749.0,1465.2 1750.0,1472.5 1751.0,1467.8 1752.0,1460.2 1753.0,1466.3 1754.0,1464.7 1755.0,1458.5 1756.0,1467.1 1757.0,1472.3 1758.0,1469.3 1759.0,1469.2 1760.0,1466.0 1761.0,1469.7 1762.0,1469.4 1763.0,1473.4 1764.0,1473.7 1765.0,1483.3 1766.0,1470.0 1767.0,1467.5 1768.0,1463.2 1769.0,1466.3 1770.0,1471.8 1771.0,1465.5 1772.0,1469.9 1773.0,1472.4 1774.0,1467.2 1775.0,1484.6 1776.0,1469.8 1777.0,1475.8 1778.0,1479.9 1779.0,1471.2 1780.0,1459.0 1781.0,1473.0 1782.0,1472.4 1783.0,1472.1 1784.0,1477.4 1785.0,1469.9 1786.0,1475.6 1787.0,1475.8 1788.0,1468.7 1789.0,1475.2 1790.0,1468.4 1791.0,1476.3 1792.0,1475.9 1793.0,1465.4 1794.0,1469.9 1795.0,1459.0 1796.0,1461.1 1797.0,1457.5 1798.0,1463.9 1799.0,1458.6 1800.0,1470.7 1801.0,1457.7 1802.0,1460.0 1803.0,1462.6 1804.0,1470.9 1805.0,1465.5 1806.0,1467.0 1807.0,1469.0 1808.0,1466.2 1809.0,1460.9 1810.0,1458.5 1811.0,1468.3 1812.0,1477.7 1813.0,1471.6 1814.0,1469.4 1815.0,1465.7 1816.0,1472.3 1817.0,1469.1 1818.0,1461.3 1819.0,1463.7 1820.0,1465.2 1821.0,1464.1 1822.0,1464.5 1823.0,1466.5 1824.0,1467.6 1825.0,1466.5 1826.0,1460.9 1827.0,1468.0 1828.0,1474.0 1829.0,1463.2 1830.0,1472.2 1831.0,1465.5 1832.0,1468.9 1833.0,1481.2 1834.0,1472.5 1835.0,1465.0 1836.0,1466.2 1837.0,1468.4 1838.0,1472.5 1839.0,1469.1 1840.0,1467.3 1841.0,1476.2 1842.0,1467.8 1843.0,1474.5 1844.0,1482.0 1845.0,1473.1 1846.0,1473.6 1847.0,1469.4 1848.0,1473.1 1849.0,1472.0 1850.0,1474.3 1851.0,1474.3 1852.0,1466.1 1853.0,1477.9 1854.0,1472.3 1855.0,1482.9 1856.0,1479.3 1857.0,1480.8 1858.0,1482.1 1859.0,1482.0 1860.0,1477.0 1861.0,1486.7 1862.0,1491.8 1863.0,1485.9 1864.0,1478.5 1865.0,1479.0 1866.0,1482.1 1867.0,1478.8 1868.0,1477.6 1869.0,1489.0 1870.0,1479.3 1871.0,1479.4 1872.0,1479.7 1873.0,1473.6 1874.0,1484.2 1875.0,1478.9 1876.0,1479.7 1877.0,1470.0 1878.0,1473.1 1879.0,1480.2 1880.0,1478.1 1881.0,1478.6 1882.0,1477.9 1883.0,1483.2 1884.0,1474.8 1885.0,1490.4 1886.0,1487.9 1887.0,1487.0 1888.0,1472.9 1889.0,1481.2 1890.0,1484.2 1891.0,1474.9 1892.0,1476.5 1893.0,1475.4 1894.0,1479.0 1895.0,1484.8 1896.0,1472.7 1897.0,1477.0 1898.0,1485.0 1899.0,1473.1 1900.0,1477.4 1901.0,1478.4 1902.0,1479.9 1903.0,1473.4 1904.0,1478.2 1905.0,1475.3 1906.0,1485.8 1907.0,1476.6 1908.0,1486.3 1909.0,1475.3 1910.0,1481.5 1911.0,1492.0 1912.0,1488.3 1913.0,1487.9 1914.0,1483.9 1915.0,1485.5 1916.0,1482.3 1917.0,1486.2 1918.0,1492.9 1919.0,1494.1 1920.0,1493.0 1921.0,1482.3 1922.0,1492.2 1923.0,1495.5 1924.0,1487.4 1925.0,1487.4 1926.0,1477.2 1927.0,1480.7 1928.0,1486.0 1929.0,1486.8 1930.0,1482.3 1931.0,1479.9 1932.0,1481.3 1933.0,1486.7 1934.0,1480.0 1935.0,1485.7 1936.0,1488.8 1937.0,1490.6 1938.0,1483.3 1939.0,1482.4 1940.0,1491.4 1941.0,1489.5 1942.0,1491.6 1943.0,1489.5 1944.0,1489.6 1945.0,1488.4 1946.0,1492.9 1947.0,1489.1 1948.0,1487.6 1949.0,1495.4 1950.0,1489.7 1951.0,1486.1 1952.0,1484.9 1953.0,1477.6 1954.0,1484.4 1955.0,1485.0 1956.0,1476.4 1957.0,1480.4 1958.0,1477.2 1959.0,1480.2 1960.0,1483.6 1961.0,1476.7 1962.0,1477.7 1963.0,1483.4 1964.0,1479.6 1965.0,1475.3 1966.0,1477.3 1967.0,1482.7 1968.0,1492.0 1969.0,1482.2 1970.0,1485.4 1971.0,1486.9 1972.0,1484.5 1973.0,1490.4 1974.0,1474.5 1975.0,1481.9 1976.0,1487.1 1977.0,1482.4 1978.0,1485.8 1979.0,1485.9 1980.0,1481.5 1981.0,1473.2 1982.0,1472.7 1983.0,1477.5 1984.0,1488.4 1985.0,1479.6 1986.0,1466.8 1987.0,1474.5 1988.0,1475.1 1989.0,1477.3 1990.0,1479.0 1991.0,1463.1 1992.0,1489.8 1993.0,1481.0 1994.0,1480.3 1995.0,1474.8 1996.0,1467.2 1997.0,1469.9 1998.0,1480.0 1999.0,1475.8 2000.0,1482.2 2001.0,1477.5 2002.0,1472.9 2003.0,1475.8 2004.0,1478.5 2005.0,1480.3 2006.0,1477.3 2007.0,1468.8 2008.0,1471.2 2009.0,1472.7 2010.0,1468.9 2011.0,1473.8 2012.0,1469.4 2013.0,1479.4 2014.0,1473.4 2015.0,1472.0 2016.0,1467.8 2017.0,1468.5 2018.0,1476.9 2019.0,1462.2 2020.0,1468.5 2021.0,1475.5 2022.0,1455.7 2023.0,1465.9 2024.0,1459.4 2025.0,1470.7 2026.0,1461.5 2027.0,1459.1 2028.0,1466.6 2029.0,1474.5 2030.0,1462.5 2031.0,1464.6 2032.0,1466.9 2033.0,1461.6 2034.0,1463.6 2035.0,1462.6 2036.0,1465.3 2037.0,1460.6 2038.0,1458.0 2039.0,1457.4 2040.0,1471.0 2041.0,1459.7 2042.0,1459.2 2043.0,1463.1 2044.0,1467.0 2045.0,1459.0 2046.0,1459.6 2047.0,1454.4 2048.0,1462.2 2049.0,1460.1 2050.0,1455.0 2051.0,1459.5 2052.0,1453.3 2053.0,1466.1 2054.0,1452.5 2055.0,1463.9 2056.0,1452.0 2057.0,1455.6 2058.0,1457.1 2059.0,1441.4 2060.0,1449.1 2061.0,1452.6 2062.0,1447.5 2063.0,1451.7 2064.0,1460.5 2065.0,1452.5 2066.0,1453.9 2067.0,1450.1 2068.0,1447.5 2069.0,1457.7 2070.0,1458.7 2071.0,1444.4 2072.0,1452.1 2073.0,1450.2 2074.0,1439.2 2075.0,1448.8 2076.0,1440.9 2077.0,1442.5 2078.0,1441.1 2079.0,1442.3 2080.0,1447.3 2081.0,1449.9 2082.0,1452.4 2083.0,1441.1 2084.0,1455.3 2085.0,1445.7 2086.0,1440.2 2087.0,1453.4 2088.0,1453.1 2089.0,1455.8 2090.0,1455.3 2091.0,1456.2 2092.0,1448.2 2093.0,1448.6 2094.0,1443.0 2095.0,1447.4 2096.0,1445.1 2097.0,1455.7 2098.0,1449.4 2099.0,1454.3 2100.0,1448.3 2101.0,1446.6 2102.0,1442.4 2103.0,1447.1 2104.0,1431.8 2105.0,1439.4 2106.0,1448.7 2107.0,1446.9 2108.0,1448.2 2109.0,1436.4 2110.0,1437.7 2111.0,1439.4 2112.0,1433.5 2113.0,1438.7 2114.0,1437.6 2115.0,1437.5 2116.0,1441.3 2117.0,1439.2 2118.0,1442.0 2119.0,1440.4 2120.0,1439.3 2121.0,1445.5 2122.0,1438.7 2123.0,1441.6 2124.0,1448.1 2125.0,1446.0 2126.0,1438.2 2127.0,1440.8 2128.0,1435.4 2129.0,1435.9 2130.0,1434.9 2131.0,1438.4 2132.0,1438.9 2133.0,1437.4 2134.0,1433.5 2135.0,1432.1 2136.0,1438.7 2137.0,1438.0 2138.0,1442.9 2139.0,1438.6 2140.0,1443.6 2141.0,1439.1 2142.0,1435.9 2143.0,1432.8 2144.0,1436.1 2145.0,1439.7 2146.0,1433.9 2147.0,1446.7 2148.0,1443.6 2149.0,1442.2 2150.0,1437.8 2151.0,1444.9 2152.0,1442.6 2153.0,1432.8 2154.0,1436.5 2155.0,1443.7 2156.0,1431.5 2157.0,1437.4 2158.0,1437.3 2159.0,1438.7 2160.0,1441.5 2161.0,1454.1 2162.0,1436.8 2163.0,1437.5 2164.0,1451.1 2165.0,1444.1 2166.0,1438.5 2167.0,1448.1 2168.0,1437.8 2169.0,1437.8 2170.0,1439.1 2171.0,1441.1 2172.0,1446.5 2173.0,1448.1 2174.0,1447.2 2175.0,1445.8 2176.0,1450.2 2177.0,1438.8 2178.0,1438.0 2179.0,1446.0 2180.0,1441.7 2181.0,1454.1 2182.0,1452.3 2183.0,1443.6 2184.0,1439.4 2185.0,1445.8 2186.0,1451.3 2187.0,1443.7 2188.0,1454.8 2189.0,1447.4 2190.0,1447.8 2191.0,1453.7 2192.0,1461.0 2193.0,1454.2 2194.0,1461.8 2195.0,1462.7 2196.0,1465.1 2197.0,1464.1 2198.0,1463.9 2199.0,1468.0 2200.0,1467.7 2201.0,1462.6 2202.0,1467.4 2203.0,1468.0 2204.0,1472.2 2205.0,1462.3 2206.0,1471.0 2207.0,1455.5 2208.0,1454.5 2209.0,1453.1 2210.0,1452.8 2211.0,1463.5 2212.0,1461.9 2213.0,1466.0 2214.0,1460.4 2215.0,1456.4 2216.0,1470.6 2217.0,1468.2 2218.0,1462.5 2219.0,1464.8 2220.0,1465.6 2221.0,1470.2 2222.0,1470.9 2223.0,1474.5 2224.0,1470.5 2225.0,1476.4 2226.0,1470.4 2227.0,1467.3 2228.0,1469.9 2229.0,1468.3 2230.0,1464.7 2231.0,1467.8 2232.0,1464.6 2233.0,1477.7 2234.0,1472.8 2235.0,1472.7 2236.0,1474.8 2237.0,1470.0 2238.0,1475.8 2239.0,1460.2 2240.0,1477.6 2241.0,1471.6 2242.0,1465.1 2243.0,1477.1 2244.0,1475.9 2245.0,1470.9 2246.0,1478.0 2247.0,1481.0 2248.0,1471.0 2249.0,1476.0 2250.0,1474.9 2251.0,1468.3 2252.0,1470.4 2253.0,1475.7 2254.0,1463.3 2255.0,1471.5 2256.0,1475.1 2257.0,1474.1 2258.0,1469.8 2259.0,1476.2 2260.0,1476.4 2261.0,1472.7 2262.0,1479.3 2263.0,1476.7 2264.0,1475.1 2265.0,1468.5 2266.0,1471.4 2267.0,1468.9 2268.0,1474.9 2269.0,1468.8 2270.0,1467.5 2271.0,1473.1 2272.0,1468.8 2273.0,1472.2 2274.0,1483.7 2275.0,1467.7 2276.0,1479.4 2277.0,1469.9 2278.0,1468.3 2279.0,1470.7 2280.0,1470.8 2281.0,1471.7 2282.0,1475.2 2283.0,1474.5 2284.0,1480.5 2285.0,1475.7 2286.0,1470.7 2287.0,1465.7 2288.0,1475.3 2289.0,1474.3 2290.0,1476.8 2291.0,1468.6 2292.0,1483.8 2293.0,1479.8 2294.0,1474.2 2295.0,1476.1 2296.0,1467.3 2297.0,1472.7 2298.0,1473.8 2299.0,1471.2 2300.0,1479.2 2301.0,1470.1 2302.0,1469.7 2303.0,1473.4 2304.0,1467.0 2305.0,1470.5 2306.0,1467.1 2307.0,1464.1 2308.0,1464.3 2309.0,1461.4 2310.0,1463.1 2311.0,1462.4 2312.0,1462.4 2313.0,1463.6 2314.0,1453.2 2315.0,1454.1 2316.0,1452.3 2317.0,1454.0"/>
<polyline clip-path="url(#c2)" fill="none" stroke="#EDB120" stroke-width="6.6" stroke-linejoin="round" stroke-linecap="round" points="288.0,1841.0 288.5,1284.0 290.0,1841.0 291.5,1284.0 293.0,1841.0 294.5,1284.0 296.0,1841.0 297.5,1284.0 299.0,1841.0 300.0,1500.0 301.0,1461.4 302.0,1512.1 303.0,1558.2 304.0,1618.8 305.0,1657.4 306.0,1665.2 307.0,1674.2 308.0,1681.8 309.0,1684.9 310.0,1693.8 311.0,1699.6 312.0,1709.2 313.0,1710.8 314.0,1718.9 315.0,1722.5 316.0,1728.9 317.0,1737.8 318.0,1734.4 319.0,1725.5 320.0,1721.7 321.0,1714.3 322.0,1703.2 323.0,1685.4 324.0,1669.2 325.0,1647.3 326.0,1630.8 327.0,1615.1 328.0,1597.5 329.0,1589.8 330.0,1584.2 331.0,1573.5 332.0,1563.4 333.0,1557.4 334.0,1553.0 335.0,1550.5 336.0,1556.4 337.0,1553.3 338.0,1549.7 339.0,1542.8 340.0,1541.3 341.0,1544.5 342.0,1542.5 343.0,1536.2 344.0,1534.7 345.0,1539.1 346.0,1531.6 347.0,1528.7 348.0,1521.7 349.0,1517.8 350.0,1513.3 351.0,1510.0 352.0,1505.1 353.0,1510.6 354.0,1510.0 355.0,1504.4 356.0,1508.8 357.0,1502.9 358.0,1510.3 359.0,1511.0 360.0,1516.0 361.0,1515.6 362.0,1516.4 363.0,1513.2 364.0,1511.8 365.0,1514.8 366.0,1516.3 367.0,1511.4 368.0,1512.5 369.0,1508.0 370.0,1509.5 371.0,1520.7 372.0,1508.7 373.0,1508.9 374.0,1508.4 375.0,1514.1 376.0,1508.2 377.0,1515.1 378.0,1519.9 379.0,1521.0 380.0,1514.8 381.0,1513.5 382.0,1516.7 383.0,1508.3 384.0,1516.4 385.0,1510.1 386.0,1505.6 387.0,1513.8 388.0,1512.5 389.0,1517.7 390.0,1516.4 391.0,1502.3 392.0,1511.1 393.0,1519.1 394.0,1509.4 395.0,1507.5 396.0,1508.9 397.0,1511.1 398.0,1513.7 399.0,1514.8 400.0,1520.8 401.0,1514.7 402.0,1514.8 403.0,1512.1 404.0,1515.0 405.0,1511.1 406.0,1507.1 407.0,1514.4 408.0,1518.2 409.0,1515.0 410.0,1508.5 411.0,1506.4 412.0,1510.4 413.0,1518.7 414.0,1507.8 415.0,1506.8 416.0,1509.9 417.0,1524.8 418.0,1516.4 419.0,1525.3 420.0,1525.3 421.0,1514.6 422.0,1528.1 423.0,1517.6 424.0,1523.9 425.0,1524.4 426.0,1506.6 427.0,1512.6 428.0,1518.5 429.0,1519.5 430.0,1519.7 431.0,1509.0 432.0,1499.7 433.0,1514.9 434.0,1513.9 435.0,1505.4 436.0,1515.2 437.0,1516.4 438.0,1512.0 439.0,1509.5 440.0,1507.5 441.0,1521.8 442.0,1505.2 443.0,1506.9 444.0,1515.2 445.0,1506.1 446.0,1520.5 447.0,1507.1 448.0,1509.2 449.0,1499.1 450.0,1505.4 451.0,1509.6 452.0,1503.2 453.0,1493.7 454.0,1504.9 455.0,1508.0 456.0,1499.3 457.0,1506.6 458.0,1501.6 459.0,1504.1 460.0,1497.2 461.0,1516.7 462.0,1499.8 463.0,1504.0 464.0,1510.6 465.0,1508.5 466.0,1504.5 467.0,1501.0 468.0,1502.6 469.0,1505.4 470.0,1515.4 471.0,1497.6 472.0,1501.4 473.0,1497.3 474.0,1495.2 475.0,1496.5 476.0,1499.9 477.0,1486.8 478.0,1491.9 479.0,1482.3 480.0,1483.0 481.0,1490.6 482.0,1499.6 483.0,1499.5 484.0,1486.3 485.0,1493.8 486.0,1490.6 487.0,1492.1 488.0,1491.7 489.0,1496.6 490.0,1491.1 491.0,1497.2 492.0,1490.6 493.0,1493.0 494.0,1491.0 495.0,1485.6 496.0,1493.9 497.0,1499.4 498.0,1491.4 499.0,1486.4 500.0,1498.1 501.0,1486.4 502.0,1491.2 503.0,1493.8 504.0,1496.1 505.0,1491.9 506.0,1491.4 507.0,1484.6 508.0,1495.4 509.0,1482.9 510.0,1492.9 511.0,1493.2 512.0,1477.8 513.0,1495.1 514.0,1490.6 515.0,1487.5 516.0,1488.9 517.0,1491.5 518.0,1487.2 519.0,1486.7 520.0,1496.2 521.0,1495.3 522.0,1502.4 523.0,1498.2 524.0,1502.5 525.0,1489.0 526.0,1485.5 527.0,1501.9 528.0,1495.7 529.0,1492.2 530.0,1499.8 531.0,1495.8 532.0,1500.5 533.0,1507.0 534.0,1504.6 535.0,1502.7 536.0,1494.7 537.0,1500.9 538.0,1491.1 539.0,1490.9 540.0,1483.3 541.0,1497.6 542.0,1492.1 543.0,1500.0 544.0,1498.1 545.0,1496.1 546.0,1495.3 547.0,1496.3 548.0,1499.6 549.0,1505.6 550.0,1497.6 551.0,1500.6 552.0,1496.8 553.0,1502.1 554.0,1486.3 555.0,1494.3 556.0,1499.9 557.0,1494.0 558.0,1488.8 559.0,1487.8 560.0,1491.2 561.0,1492.5 562.0,1497.4 563.0,1489.1 564.0,1490.2 565.0,1489.8 566.0,1497.6 567.0,1495.1 568.0,1488.1 569.0,1487.3 570.0,1491.1 571.0,1490.1 572.0,1488.8 573.0,1491.2 574.0,1481.7 575.0,1488.5 576.0,1483.3 577.0,1488.9 578.0,1492.5 579.0,1492.2 580.0,1482.7 581.0,1477.6 582.0,1480.2 583.0,1493.5 584.0,1487.2 585.0,1490.9 586.0,1491.1 587.0,1482.7 588.0,1479.1 589.0,1486.2 590.0,1490.9 591.0,1482.0 592.0,1491.7 593.0,1492.8 594.0,1493.0 595.0,1489.4 596.0,1492.3 597.0,1483.4 598.0,1489.9 599.0,1483.6 600.0,1489.5 601.0,1489.8 602.0,1486.5 603.0,1480.0 604.0,1482.7 605.0,1480.6 606.0,1485.0 607.0,1487.3 608.0,1493.0 609.0,1480.3 610.0,1495.8 611.0,1485.1 612.0,1491.3 613.0,1487.6 614.0,1488.0 615.0,1477.9 616.0,1481.9 617.0,1482.2 618.0,1488.2 619.0,1488.7 620.0,1489.9 621.0,1479.9 622.0,1482.7 623.0,1495.4 624.0,1488.7 625.0,1496.5 626.0,1483.0 627.0,1493.2 628.0,1483.4 629.0,1488.8 630.0,1482.4 631.0,1480.4 632.0,1489.4 633.0,1478.7 634.0,1482.0 635.0,1482.5 636.0,1485.8 637.0,1483.4 638.0,1478.5 639.0,1482.9 640.0,1486.9 641.0,1482.3 642.0,1472.6 643.0,1485.4 644.0,1480.5 645.0,1481.8 646.0,1484.3 647.0,1489.8 648.0,1484.3 649.0,1477.1 650.0,1473.2 651.0,1470.9 652.0,1481.5 653.0,1462.7 654.0,1471.0 655.0,1470.3 656.0,1477.0 657.0,1468.6 658.0,1464.5 659.0,1472.4 660.0,1482.5 661.0,1482.1 662.0,1481.5 663.0,1483.7 664.0,1484.1 665.0,1471.4 666.0,1487.3 667.0,1463.7 668.0,1479.3 669.0,1488.6 670.0,1469.2 671.0,1495.6 672.0,1488.1 673.0,1484.3 674.0,1474.4 675.0,1482.4 676.0,1474.1 677.0,1487.1 678.0,1480.8 679.0,1476.4 680.0,1485.7 681.0,1486.1 682.0,1488.3 683.0,1493.4 684.0,1491.5 685.0,1488.0 686.0,1497.2 687.0,1499.5 688.0,1489.6 689.0,1495.0 690.0,1502.9 691.0,1492.6 692.0,1487.5 693.0,1486.3 694.0,1506.7 695.0,1503.2 696.0,1500.1 697.0,1495.4 698.0,1498.5 699.0,1499.5 700.0,1501.0 701.0,1505.7 702.0,1500.1 703.0,1501.4 704.0,1493.4 705.0,1505.4 706.0,1502.5 707.0,1499.2 708.0,1494.7 709.0,1507.6 710.0,1509.1 711.0,1494.7 712.0,1502.4 713.0,1510.1 714.0,1498.7 715.0,1495.9 716.0,1509.3 717.0,1491.8 718.0,1493.7 719.0,1497.4 720.0,1511.4 721.0,1509.5 722.0,1504.5 723.0,1511.7 724.0,1518.3 725.0,1507.3 726.0,1505.1 727.0,1501.5 728.0,1494.3 729.0,1502.0 730.0,1503.8 731.0,1502.1 732.0,1499.1 733.0,1499.5 734.0,1505.6 735.0,1511.5 736.0,1515.8 737.0,1507.3 738.0,1512.3 739.0,1510.4 740.0,1512.1 741.0,1510.7 742.0,1520.5 743.0,1514.7 744.0,1512.0 745.0,1508.9 746.0,1521.4 747.0,1511.5 748.0,1509.2 749.0,1511.6 750.0,1504.5 751.0,1505.2 752.0,1507.3 753.0,1521.0 754.0,1498.9 755.0,1516.7 756.0,1500.9 757.0,1503.9 758.0,1511.4 759.0,1509.7 760.0,1519.1 761.0,1507.3 762.0,1509.6 763.0,1525.0 764.0,1522.3 765.0,1511.4 766.0,1511.9 767.0,1507.3 768.0,1518.7 769.0,1506.8 770.0,1506.2 771.0,1510.3 772.0,1507.9 773.0,1510.1 774.0,1502.9 775.0,1507.4 776.0,1513.7 777.0,1505.9 778.0,1514.5 779.0,1515.2 780.0,1513.6 781.0,1509.7 782.0,1505.8 783.0,1502.1 784.0,1516.4 785.0,1504.6 786.0,1517.2 787.0,1507.0 788.0,1507.6 789.0,1506.9 790.0,1520.1 791.0,1499.3 792.0,1507.9 793.0,1511.0 794.0,1503.4 795.0,1508.4 796.0,1508.9 797.0,1512.9 798.0,1515.4 799.0,1515.6 800.0,1524.1 801.0,1507.8 802.0,1522.5 803.0,1516.5 804.0,1501.2 805.0,1512.8 806.0,1511.9 807.0,1517.8 808.0,1500.2 809.0,1507.9 810.0,1503.3 811.0,1499.5 812.0,1501.3 813.0,1492.9 814.0,1499.5 815.0,1504.2 816.0,1506.6 817.0,1497.5 818.0,1500.8 819.0,1502.0 820.0,1494.9 821.0,1502.4 822.0,1512.2 823.0,1499.1 824.0,1494.3 825.0,1502.9 826.0,1492.7 827.0,1499.0 828.0,1506.0 829.0,1499.2 830.0,1491.3 831.0,1495.7 832.0,1499.7 833.0,1496.7 834.0,1496.3 835.0,1497.9 836.0,1486.5 837.0,1491.8 838.0,1490.2 839.0,1498.3 840.0,1495.2 841.0,1490.9 842.0,1493.8 843.0,1497.3 844.0,1488.7 845.0,1496.2 846.0,1490.2 847.0,1480.5 848.0,1490.2 849.0,1485.3 850.0,1486.2 851.0,1488.9 852.0,1482.8 853.0,1482.3 854.0,1495.0 855.0,1480.6 856.0,1475.9 857.0,1482.2 858.0,1474.8 859.0,1490.0 860.0,1482.0 861.0,1485.7 862.0,1489.3 863.0,1485.0 864.0,1483.4 865.0,1495.0 866.0,1490.3 867.0,1486.1 868.0,1488.9 869.0,1484.7 870.0,1486.8 871.0,1487.3 872.0,1486.5 873.0,1504.0 874.0,1490.8 875.0,1489.6 876.0,1488.2 877.0,1479.8 878.0,1482.9 879.0,1482.8 880.0,1483.1 881.0,1491.9 882.0,1481.1 883.0,1478.9 884.0,1484.7 885.0,1490.0 886.0,1474.6 887.0,1495.0 888.0,1483.3 889.0,1487.3 890.0,1483.8 891.0,1489.2 892.0,1497.0 893.0,1485.2 894.0,1482.2 895.0,1487.5 896.0,1489.6 897.0,1476.6 898.0,1484.4 899.0,1487.7 900.0,1482.8 901.0,1484.0 902.0,1488.3 903.0,1486.2 904.0,1489.8 905.0,1473.9 906.0,1481.9 907.0,1483.9 908.0,1487.5 909.0,1483.6 910.0,1471.7 911.0,1484.3 912.0,1468.3 913.0,1484.0 914.0,1471.1 915.0,1466.1 916.0,1469.0 917.0,1470.4 918.0,1479.2 919.0,1476.9 920.0,1486.5 921.0,1471.4 922.0,1476.9 923.0,1467.8 924.0,1466.9 925.0,1470.0 926.0,1478.6 927.0,1462.6 928.0,1462.0 929.0,1454.7 930.0,1471.1 931.0,1462.8 932.0,1467.5 933.0,1465.3 934.0,1464.1 935.0,1466.9 936.0,1474.4 937.0,1470.5 938.0,1472.3 939.0,1453.6 940.0,1463.9 941.0,1464.5 942.0,1463.5 943.0,1468.4 944.0,1476.2 945.0,1467.6 946.0,1453.7 947.0,1459.1 948.0,1460.8 949.0,1473.9 950.0,1469.5 951.0,1468.2 952.0,1456.6 953.0,1469.8 954.0,1463.3 955.0,1466.4 956.0,1466.5 957.0,1453.5 958.0,1457.9 959.0,1467.8 960.0,1463.9 961.0,1468.4 962.0,1462.2 963.0,1470.4 964.0,1469.0 965.0,1468.5 966.0,1456.0 967.0,1469.1 968.0,1453.2 969.0,1457.3 970.0,1456.7 971.0,1454.2 972.0,1462.5 973.0,1463.5 974.0,1463.8 975.0,1458.3 976.0,1463.0 977.0,1473.0 978.0,1470.5 979.0,1472.1 980.0,1457.0 981.0,1473.6 982.0,1472.7 983.0,1473.5 984.0,1469.2 985.0,1470.8 986.0,1469.8 987.0,1476.6 988.0,1469.7 989.0,1484.4 990.0,1479.0 991.0,1482.8 992.0,1469.9 993.0,1473.4 994.0,1473.3 995.0,1480.5 996.0,1482.9 997.0,1494.0 998.0,1486.8 999.0,1496.0 1000.0,1492.0 1001.0,1482.3 1002.0,1479.2 1003.0,1473.8 1004.0,1481.4 1005.0,1483.2 1006.0,1483.4 1007.0,1484.3 1008.0,1476.6 1009.0,1487.6 1010.0,1481.2 1011.0,1489.5 1012.0,1493.5 1013.0,1486.3 1014.0,1483.9 1015.0,1480.9 1016.0,1487.5 1017.0,1482.4 1018.0,1480.5 1019.0,1481.6 1020.0,1489.7 1021.0,1483.3 1022.0,1470.3 1023.0,1468.6 1024.0,1466.6 1025.0,1468.2 1026.0,1459.6 1027.0,1467.2 1028.0,1477.4 1029.0,1470.2 1030.0,1462.5 1031.0,1477.4 1032.0,1468.2 1033.0,1473.3 1034.0,1469.2 1035.0,1462.3 1036.0,1463.6 1037.0,1477.0 1038.0,1464.7 1039.0,1470.3 1040.0,1478.7 1041.0,1466.2 1042.0,1467.1 1043.0,1475.7 1044.0,1461.7 1045.0,1470.2 1046.0,1471.5 1047.0,1473.7 1048.0,1473.7 1049.0,1461.7 1050.0,1472.9 1051.0,1473.2 1052.0,1468.6 1053.0,1463.8 1054.0,1468.5 1055.0,1471.8 1056.0,1471.7 1057.0,1473.3 1058.0,1473.7 1059.0,1470.3 1060.0,1458.9 1061.0,1468.7 1062.0,1482.1 1063.0,1477.2 1064.0,1468.9 1065.0,1475.3 1066.0,1471.7 1067.0,1476.4 1068.0,1477.6 1069.0,1484.9 1070.0,1466.8 1071.0,1465.0 1072.0,1477.6 1073.0,1462.9 1074.0,1468.8 1075.0,1470.3 1076.0,1468.9 1077.0,1472.7 1078.0,1479.1 1079.0,1471.5 1080.0,1475.9 1081.0,1468.2 1082.0,1477.4 1083.0,1482.4 1084.0,1474.8 1085.0,1471.2 1086.0,1480.9 1087.0,1483.8 1088.0,1473.1 1089.0,1466.5 1090.0,1471.9 1091.0,1478.8 1092.0,1465.9 1093.0,1474.3 1094.0,1470.4 1095.0,1475.7 1096.0,1474.5 1097.0,1485.6 1098.0,1484.3 1099.0,1479.1 1100.0,1482.1 1101.0,1479.2 1102.0,1485.4 1103.0,1481.3 1104.0,1488.1 1105.0,1485.0 1106.0,1479.9 1107.0,1482.2 1108.0,1478.9 1109.0,1480.9 1110.0,1476.2 1111.0,1484.9 1112.0,1480.0 1113.0,1475.3 1114.0,1476.0 1115.0,1477.9 1116.0,1485.9 1117.0,1487.7 1118.0,1482.0 1119.0,1486.8 1120.0,1488.8 1121.0,1489.4 1122.0,1489.4 1123.0,1486.9 1124.0,1487.0 1125.0,1492.4 1126.0,1491.4 1127.0,1488.7 1128.0,1485.8 1129.0,1487.3 1130.0,1482.6 1131.0,1494.2 1132.0,1494.4 1133.0,1492.3 1134.0,1491.1 1135.0,1486.8 1136.0,1498.8 1137.0,1495.5 1138.0,1492.5 1139.0,1497.1 1140.0,1495.3 1141.0,1502.6 1142.0,1500.6 1143.0,1492.0 1144.0,1502.3 1145.0,1492.8 1146.0,1486.7 1147.0,1486.5 1148.0,1491.7 1149.0,1498.1 1150.0,1491.6 1151.0,1508.5 1152.0,1507.3 1153.0,1488.7 1154.0,1493.6 1155.0,1481.9 1156.0,1497.6 1157.0,1494.2 1158.0,1490.0 1159.0,1492.2 1160.0,1489.8 1161.0,1488.9 1162.0,1496.0 1163.0,1495.2 1164.0,1489.6 1165.0,1498.5 1166.0,1489.8 1167.0,1500.4 1168.0,1482.5 1169.0,1489.3 1170.0,1499.0 1171.0,1482.3 1172.0,1497.4 1173.0,1490.0 1174.0,1488.2 1175.0,1494.7 1176.0,1492.6 1177.0,1491.7 1178.0,1479.6 1179.0,1478.6 1180.0,1478.5 1181.0,1487.7 1182.0,1479.1 1183.0,1482.2 1184.0,1473.1 1185.0,1481.0 1186.0,1484.3 1187.0,1485.1 1188.0,1482.9 1189.0,1481.2 1190.0,1481.0 1191.0,1484.1 1192.0,1485.0 1193.0,1481.9 1194.0,1485.5 1195.0,1477.4 1196.0,1492.9 1197.0,1480.1 1198.0,1478.1 1199.0,1477.3 1200.0,1476.9 1201.0,1473.9 1202.0,1484.7 1203.0,1483.6 1204.0,1486.5 1205.0,1498.6 1206.0,1481.1 1207.0,1490.0 1208.0,1489.5 1209.0,1484.8 1210.0,1481.2 1211.0,1488.0 1212.0,1489.1 1213.0,1497.5 1214.0,1490.7 1215.0,1486.2 1216.0,1495.4 1217.0,1489.4 1218.0,1486.6 1219.0,1491.2 1220.0,1491.1 1221.0,1492.5 1222.0,1486.8 1223.0,1476.9 1224.0,1485.0 1225.0,1496.6 1226.0,1485.1 1227.0,1489.1 1228.0,1490.6 1229.0,1490.3 1230.0,1484.2 1231.0,1492.4 1232.0,1490.6 1233.0,1487.9 1234.0,1471.5 1235.0,1491.2 1236.0,1488.6 1237.0,1488.6 1238.0,1479.5 1239.0,1485.6 1240.0,1472.9 1241.0,1477.6 1242.0,1472.5 1243.0,1471.4 1244.0,1471.0 1245.0,1463.5 1246.0,1477.0 1247.0,1468.5 1248.0,1477.1 1249.0,1467.1 1250.0,1476.1 1251.0,1467.6 1252.0,1485.6 1253.0,1480.9 1254.0,1477.4 1255.0,1481.9 1256.0,1486.2 1257.0,1483.4 1258.0,1487.0 1259.0,1492.8 1260.0,1484.4 1261.0,1495.8 1262.0,1492.9 1263.0,1483.3 1264.0,1492.3 1265.0,1483.2 1266.0,1480.3 1267.0,1482.4 1268.0,1492.1 1269.0,1478.6 1270.0,1480.9 1271.0,1479.3 1272.0,1478.9 1273.0,1481.8 1274.0,1475.5 1275.0,1485.2 1276.0,1499.5 1277.0,1488.1 1278.0,1488.1 1279.0,1487.6 1280.0,1478.9 1281.0,1496.2 1282.0,1495.8 1283.0,1482.6 1284.0,1487.4 1285.0,1488.7 1286.0,1495.6 1287.0,1497.3 1288.0,1489.9 1289.0,1488.4 1290.0,1487.4 1291.0,1494.6 1292.0,1490.1 1293.0,1486.6 1294.0,1482.9 1295.0,1486.4 1296.0,1494.1 1297.0,1488.4 1298.0,1488.1 1299.0,1495.6 1300.0,1498.1 1301.0,1491.4 1302.0,1489.0 1303.0,1492.4 1304.0,1481.7 1305.0,1488.1 1306.0,1480.9 1307.0,1484.7 1308.0,1482.0 1309.0,1489.7 1310.0,1492.5 1311.0,1486.4 1312.0,1487.4 1313.0,1487.6 1314.0,1495.4 1315.0,1485.6 1316.0,1499.9 1317.0,1495.2 1318.0,1492.5 1319.0,1483.2 1320.0,1485.9 1321.0,1491.5 1322.0,1489.9 1323.0,1494.6 1324.0,1487.7 1325.0,1492.7 1326.0,1495.3 1327.0,1491.5 1328.0,1493.9 1329.0,1487.2 1330.0,1486.2 1331.0,1499.0 1332.0,1492.2 1333.0,1498.6 1334.0,1479.5 1335.0,1473.1 1336.0,1478.5 1337.0,1479.3 1338.0,1492.9 1339.0,1489.8 1340.0,1487.7 1341.0,1488.2 1342.0,1495.2 1343.0,1487.6 1344.0,1495.9 1345.0,1491.3 1346.0,1481.5 1347.0,1481.3 1348.0,1487.6 1349.0,1478.8 1350.0,1485.6 1351.0,1491.3 1352.0,1489.0 1353.0,1488.9 1354.0,1490.8 1355.0,1488.8 1356.0,1490.1 1357.0,1481.8 1358.0,1486.8 1359.0,1482.7 1360.0,1483.6 1361.0,1482.1 1362.0,1487.4 1363.0,1489.0 1364.0,1492.7 1365.0,1490.6 1366.0,1485.5 1367.0,1497.2 1368.0,1498.9 1369.0,1489.5 1370.0,1500.7 1371.0,1493.7 1372.0,1495.6 1373.0,1495.4 1374.0,1497.2 1375.0,1498.0 1376.0,1494.4 1377.0,1501.7 1378.0,1499.4 1379.0,1500.3 1380.0,1492.0 1381.0,1488.6 1382.0,1482.2 1383.0,1485.7 1384.0,1490.4 1385.0,1503.0 1386.0,1486.1 1387.0,1491.8 1388.0,1489.0 1389.0,1484.5 1390.0,1488.2 1391.0,1490.0 1392.0,1492.0 1393.0,1488.6 1394.0,1478.2 1395.0,1486.9 1396.0,1505.6 1397.0,1497.6 1398.0,1493.9 1399.0,1489.8 1400.0,1490.2 1401.0,1486.7 1402.0,1493.7 1403.0,1494.3 1404.0,1485.4 1405.0,1494.6 1406.0,1492.0 1407.0,1495.9 1408.0,1484.7 1409.0,1486.9 1410.0,1490.8 1411.0,1487.4 1412.0,1481.3 1413.0,1493.4 1414.0,1487.4 1415.0,1477.8 1416.0,1485.3 1417.0,1476.5 1418.0,1472.4 1419.0,1472.6 1420.0,1482.3 1421.0,1476.2 1422.0,1466.7 1423.0,1473.8 1424.0,1472.1 1425.0,1463.8 1426.0,1462.6 1427.0,1469.9 1428.0,1467.3 1429.0,1465.8 1430.0,1469.0 1431.0,1463.7 1432.0,1466.2 1433.0,1456.6 1434.0,1454.3 1435.0,1459.9 1436.0,1466.2 1437.0,1462.6 1438.0,1466.6 1439.0,1461.4 1440.0,1478.4 1441.0,1477.0 1442.0,1479.2 1443.0,1480.7 1444.0,1477.5 1445.0,1468.6 1446.0,1468.0 1447.0,1474.8 1448.0,1466.5 1449.0,1475.6 1450.0,1477.0 1451.0,1460.4 1452.0,1477.1 1453.0,1473.8 1454.0,1482.1 1455.0,1473.6 1456.0,1466.1 1457.0,1470.1 1458.0,1475.8 1459.0,1470.4 1460.0,1476.2 1461.0,1469.8 1462.0,1470.0 1463.0,1466.8 1464.0,1477.2 1465.0,1484.4 1466.0,1475.4 1467.0,1475.5 1468.0,1484.7 1469.0,1483.0 1470.0,1487.9 1471.0,1485.1 1472.0,1485.2 1473.0,1479.5 1474.0,1467.4 1475.0,1477.9 1476.0,1477.3 1477.0,1477.4 1478.0,1472.8 1479.0,1481.7 1480.0,1481.7 1481.0,1480.4 1482.0,1483.3 1483.0,1482.3 1484.0,1476.8 1485.0,1479.5 1486.0,1483.0 1487.0,1487.6 1488.0,1485.8 1489.0,1489.4 1490.0,1493.0 1491.0,1487.3 1492.0,1487.0 1493.0,1495.5 1494.0,1484.0 1495.0,1496.9 1496.0,1499.1 1497.0,1488.2 1498.0,1494.6 1499.0,1491.4 1500.0,1503.3 1501.0,1498.0 1502.0,1490.4 1503.0,1497.0 1504.0,1491.2 1505.0,1490.8 1506.0,1491.2 1507.0,1499.1 1508.0,1503.5 1509.0,1506.6 1510.0,1499.6 1511.0,1497.3 1512.0,1505.3 1513.0,1506.9 1514.0,1506.2 1515.0,1503.6 1516.0,1503.7 1517.0,1503.7 1518.0,1502.5 1519.0,1496.7 1520.0,1501.0 1521.0,1500.9 1522.0,1510.4 1523.0,1513.1 1524.0,1507.6 1525.0,1507.2 1526.0,1508.2 1527.0,1511.4 1528.0,1504.3 1529.0,1504.0 1530.0,1512.1 1531.0,1510.7 1532.0,1505.1 1533.0,1497.0 1534.0,1507.6 1535.0,1516.9 1536.0,1512.8 1537.0,1506.5 1538.0,1506.0 1539.0,1511.3 1540.0,1525.4 1541.0,1517.1 1542.0,1524.7 1543.0,1520.0 1544.0,1527.2 1545.0,1514.5 1546.0,1514.4 1547.0,1511.0 1548.0,1526.2 1549.0,1527.5 1550.0,1515.9 1551.0,1526.0 1552.0,1522.6 1553.0,1531.2 1554.0,1525.7 1555.0,1535.3 1556.0,1531.9 1557.0,1527.3 1558.0,1522.2 1559.0,1518.3 1560.0,1525.3 1561.0,1526.3 1562.0,1524.5 1563.0,1537.7 1564.0,1526.6 1565.0,1533.9 1566.0,1530.2 1567.0,1529.7 1568.0,1521.1 1569.0,1527.8 1570.0,1523.0 1571.0,1515.0 1572.0,1525.0 1573.0,1511.2 1574.0,1526.8 1575.0,1511.9 1576.0,1508.7 1577.0,1510.1 1578.0,1507.1 1579.0,1513.4 1580.0,1509.8 1581.0,1502.7 1582.0,1497.9 1583.0,1512.5 1584.0,1502.3 1585.0,1510.2 1586.0,1511.4 1587.0,1505.9 1588.0,1507.5 1589.0,1504.4 1590.0,1511.3 1591.0,1499.2 1592.0,1507.6 1593.0,1509.9 1594.0,1511.7 1595.0,1507.6 1596.0,1501.2 1597.0,1503.7 1598.0,1506.4 1599.0,1511.0 1600.0,1504.8 1601.0,1494.1 1602.0,1500.1 1603.0,1500.6 1604.0,1499.4 1605.0,1499.7 1606.0,1504.3 1607.0,1508.7 1608.0,1501.0 1609.0,1504.6 1610.0,1507.1 1611.0,1497.7 1612.0,1496.8 1613.0,1491.7 1614.0,1500.3 1615.0,1502.6 1616.0,1494.5 1617.0,1495.3 1618.0,1505.5 1619.0,1503.4 1620.0,1510.0 1621.0,1512.4 1622.0,1495.3 1623.0,1502.9 1624.0,1505.0 1625.0,1499.3 1626.0,1505.0 1627.0,1507.6 1628.0,1516.8 1629.0,1501.8 1630.0,1511.4 1631.0,1509.5 1632.0,1507.9 1633.0,1500.9 1634.0,1497.3 1635.0,1504.9 1636.0,1510.0 1637.0,1498.8 1638.0,1492.0 1639.0,1507.3 1640.0,1511.9 1641.0,1510.9 1642.0,1499.6 1643.0,1510.2 1644.0,1505.0 1645.0,1511.6 1646.0,1513.2 1647.0,1516.0 1648.0,1517.3 1649.0,1512.4 1650.0,1515.4 1651.0,1506.5 1652.0,1506.8 1653.0,1513.2 1654.0,1502.2 1655.0,1511.3 1656.0,1506.9 1657.0,1497.6 1658.0,1506.7 1659.0,1503.3 1660.0,1509.3 1661.0,1502.4 1662.0,1500.5 1663.0,1499.1 1664.0,1504.2 1665.0,1499.3 1666.0,1507.3 1667.0,1503.0 1668.0,1510.2 1669.0,1491.9 1670.0,1484.0 1671.0,1501.1 1672.0,1489.3 1673.0,1496.0 1674.0,1494.8 1675.0,1491.2 1676.0,1484.9 1677.0,1480.7 1678.0,1491.5 1679.0,1492.6 1680.0,1490.4 1681.0,1492.6 1682.0,1492.4 1683.0,1498.6 1684.0,1492.6 1685.0,1493.6 1686.0,1496.1 1687.0,1500.6 1688.0,1489.4 1689.0,1488.6 1690.0,1490.1 1691.0,1481.3 1692.0,1498.5 1693.0,1492.2 1694.0,1494.3 1695.0,1489.5 1696.0,1484.4 1697.0,1483.2 1698.0,1485.8 1699.0,1488.1 1700.0,1484.4 1701.0,1486.6 1702.0,1484.2 1703.0,1491.4 1704.0,1497.3 1705.0,1481.9 1706.0,1491.0 1707.0,1484.0 1708.0,1499.4 1709.0,1492.8 1710.0,1481.7 1711.0,1490.1 1712.0,1487.8 1713.0,1477.5 1714.0,1491.6 1715.0,1494.2 1716.0,1490.5 1717.0,1486.3 1718.0,1489.5 1719.0,1484.3 1720.0,1481.5 1721.0,1476.0 1722.0,1480.1 1723.0,1488.1 1724.0,1477.9 1725.0,1485.2 1726.0,1489.5 1727.0,1489.4 1728.0,1490.4 1729.0,1490.7 1730.0,1491.8 1731.0,1491.0 1732.0,1484.1 1733.0,1494.0 1734.0,1494.7 1735.0,1490.8 1736.0,1491.6 1737.0,1487.3 1738.0,1495.2 1739.0,1494.8 1740.0,1498.2 1741.0,1494.0 1742.0,1492.5 1743.0,1494.8 1744.0,1497.8 1745.0,1497.2 1746.0,1498.7 1747.0,1496.6 1748.0,1491.2 1749.0,1485.8 1750.0,1494.1 1751.0,1489.4 1752.0,1498.2 1753.0,1488.7 1754.0,1494.7 1755.0,1498.0 1756.0,1499.7 1757.0,1509.3 1758.0,1502.6 1759.0,1498.8 1760.0,1493.2 1761.0,1483.9 1762.0,1484.6 1763.0,1482.3 1764.0,1476.4 1765.0,1486.8 1766.0,1487.2 1767.0,1489.3 1768.0,1490.1 1769.0,1488.8 1770.0,1484.2 1771.0,1487.1 1772.0,1487.1 1773.0,1478.5 1774.0,1488.5 1775.0,1491.1 1776.0,1482.3 1777.0,1481.5 1778.0,1486.3 1779.0,1462.5 1780.0,1473.8 1781.0,1465.7 1782.0,1474.1 1783.0,1475.8 1784.0,1472.5 1785.0,1470.5 1786.0,1471.6 1787.0,1465.1 1788.0,1468.5 1789.0,1471.5 1790.0,1470.6 1791.0,1470.6 1792.0,1464.5 1793.0,1464.7 1794.0,1470.5 1795.0,1458.4 1796.0,1468.4 1797.0,1463.0 1798.0,1462.1 1799.0,1465.7 1800.0,1459.5 1801.0,1462.9 1802.0,1461.9 1803.0,1460.0 1804.0,1457.3 1805.0,1468.2 1806.0,1457.5 1807.0,1451.1 1808.0,1458.2 1809.0,1462.5 1810.0,1454.5 1811.0,1460.9 1812.0,1463.9 1813.0,1465.4 1814.0,1456.4 1815.0,1454.0 1816.0,1453.7 1817.0,1462.1 1818.0,1453.7 1819.0,1461.3 1820.0,1461.2 1821.0,1455.4 1822.0,1457.8 1823.0,1457.2 1824.0,1463.2 1825.0,1460.2 1826.0,1454.5 1827.0,1460.2 1828.0,1455.1 1829.0,1460.8 1830.0,1471.6 1831.0,1463.5 1832.0,1460.4 1833.0,1454.6 1834.0,1463.4 1835.0,1458.8 1836.0,1466.1 1837.0,1451.7 1838.0,1467.4 1839.0,1456.2 1840.0,1462.1 1841.0,1460.7 1842.0,1459.8 1843.0,1461.7 1844.0,1448.4 1845.0,1450.0 1846.0,1457.9 1847.0,1451.3 1848.0,1445.3 1849.0,1453.6 1850.0,1461.0 1851.0,1452.4 1852.0,1458.7 1853.0,1448.7 1854.0,1458.8 1855.0,1452.2 1856.0,1452.0 1857.0,1454.0 1858.0,1455.9 1859.0,1465.6 1860.0,1454.4 1861.0,1448.3 1862.0,1457.5 1863.0,1452.4 1864.0,1447.5 1865.0,1446.0 1866.0,1459.0 1867.0,1450.4 1868.0,1451.5 1869.0,1451.4 1870.0,1451.8 1871.0,1448.6 1872.0,1437.0 1873.0,1445.2 1874.0,1451.6 1875.0,1453.0 1876.0,1466.1 1877.0,1464.0 1878.0,1460.6 1879.0,1450.1 1880.0,1455.8 1881.0,1442.9 1882.0,1443.9 1883.0,1453.1 1884.0,1460.5 1885.0,1458.0 1886.0,1467.1 1887.0,1472.0 1888.0,1464.8 1889.0,1463.8 1890.0,1455.0 1891.0,1458.8 1892.0,1465.2 1893.0,1462.9 1894.0,1466.3 1895.0,1464.0 1896.0,1466.3 1897.0,1464.3 1898.0,1452.0 1899.0,1451.2 1900.0,1449.3 1901.0,1445.3 1902.0,1447.7 1903.0,1460.9 1904.0,1458.5 1905.0,1453.0 1906.0,1456.7 1907.0,1452.9 1908.0,1461.9 1909.0,1469.2 1910.0,1462.2 1911.0,1460.0 1912.0,1450.8 1913.0,1458.2 1914.0,1462.9 1915.0,1460.0 1916.0,1461.6 1917.0,1459.4 1918.0,1457.8 1919.0,1456.9 1920.0,1459.4 1921.0,1458.7 1922.0,1455.0 1923.0,1449.3 1924.0,1465.5 1925.0,1457.5 1926.0,1456.0 1927.0,1460.0 1928.0,1468.8 1929.0,1472.5 1930.0,1455.4 1931.0,1464.5 1932.0,1471.8 1933.0,1461.9 1934.0,1479.0 1935.0,1473.9 1936.0,1468.4 1937.0,1470.4 1938.0,1473.8 1939.0,1461.4 1940.0,1469.6 1941.0,1465.7 1942.0,1463.6 1943.0,1474.6 1944.0,1473.6 1945.0,1474.2 1946.0,1474.4 1947.0,1471.2 1948.0,1476.7 1949.0,1477.5 1950.0,1474.9 1951.0,1476.0 1952.0,1461.4 1953.0,1468.2 1954.0,1475.8 1955.0,1477.9 1956.0,1469.1 1957.0,1468.8 1958.0,1461.1 1959.0,1474.1 1960.0,1476.2 1961.0,1466.3 1962.0,1473.7 1963.0,1471.8 1964.0,1465.8 1965.0,1465.7 1966.0,1473.3 1967.0,1469.9 1968.0,1471.9 1969.0,1463.2 1970.0,1463.7 1971.0,1459.3 1972.0,1466.5 1973.0,1454.9 1974.0,1465.3 1975.0,1463.5 1976.0,1459.2 1977.0,1476.4 1978.0,1473.1 1979.0,1470.9 1980.0,1476.2 1981.0,1477.5 1982.0,1478.3 1983.0,1473.3 1984.0,1470.2 1985.0,1477.3 1986.0,1477.3 1987.0,1475.4 1988.0,1476.7 1989.0,1473.5 1990.0,1475.4 1991.0,1469.8 1992.0,1478.6 1993.0,1465.6 1994.0,1470.0 1995.0,1474.7 1996.0,1484.0 1997.0,1478.2 1998.0,1483.1 1999.0,1469.2 2000.0,1476.8 2001.0,1481.9 2002.0,1472.8 2003.0,1472.0 2004.0,1471.3 2005.0,1475.0 2006.0,1475.2 2007.0,1475.5 2008.0,1477.3 2009.0,1467.8 2010.0,1469.8 2011.0,1464.5 2012.0,1469.8 2013.0,1467.6 2014.0,1468.7 2015.0,1480.9 2016.0,1482.9 2017.0,1481.4 2018.0,1468.2 2019.0,1472.8 2020.0,1474.5 2021.0,1482.6 2022.0,1478.2 2023.0,1474.4 2024.0,1475.0 2025.0,1473.9 2026.0,1482.5 2027.0,1469.0 2028.0,1481.6 2029.0,1482.3 2030.0,1465.1 2031.0,1476.0 2032.0,1467.6 2033.0,1479.7 2034.0,1475.9 2035.0,1473.1 2036.0,1475.5 2037.0,1460.7 2038.0,1465.4 2039.0,1469.8 2040.0,1460.8 2041.0,1457.2 2042.0,1465.2 2043.0,1455.6 2044.0,1457.2 2045.0,1453.9 2046.0,1463.7 2047.0,1452.3 2048.0,1463.6 2049.0,1453.0 2050.0,1457.9 2051.0,1457.2 2052.0,1465.2 2053.0,1468.5 2054.0,1461.3 2055.0,1467.9 2056.0,1472.3 2057.0,1458.7 2058.0,1463.7 2059.0,1460.7 2060.0,1449.2 2061.0,1463.9 2062.0,1451.8 2063.0,1455.4 2064.0,1456.6 2065.0,1454.6 2066.0,1465.6 2067.0,1464.8 2068.0,1458.7 2069.0,1453.4 2070.0,1451.7 2071.0,1457.2 2072.0,1454.0 2073.0,1451.0 2074.0,1452.8 2075.0,1452.6 2076.0,1449.8 2077.0,1453.8 2078.0,1452.8 2079.0,1459.4 2080.0,1440.4 2081.0,1460.5 2082.0,1456.6 2083.0,1452.3 2084.0,1449.9 2085.0,1459.0 2086.0,1451.2 2087.0,1455.3 2088.0,1460.2 2089.0,1459.5 2090.0,1448.1 2091.0,1442.8 2092.0,1444.8 2093.0,1458.1 2094.0,1459.3 2095.0,1449.7 2096.0,1436.9 2097.0,1454.4 2098.0,1455.2 2099.0,1448.9 2100.0,1459.0 2101.0,1448.6 2102.0,1441.8 2103.0,1450.8 2104.0,1448.0 2105.0,1458.8 2106.0,1442.6 2107.0,1457.3 2108.0,1453.2 2109.0,1444.4 2110.0,1463.0 2111.0,1449.6 2112.0,1456.5 2113.0,1443.9 2114.0,1449.3 2115.0,1448.2 2116.0,1453.3 2117.0,1444.6 2118.0,1447.8 2119.0,1454.0 2120.0,1458.0 2121.0,1458.7 2122.0,1455.6 2123.0,1455.9 2124.0,1448.6 2125.0,1455.9 2126.0,1439.4 2127.0,1445.8 2128.0,1453.1 2129.0,1435.5 2130.0,1439.7 2131.0,1450.1 2132.0,1437.4 2133.0,1443.3 2134.0,1442.8 2135.0,1442.6 2136.0,1444.5 2137.0,1452.8 2138.0,1440.5 2139.0,1448.9 2140.0,1441.8 2141.0,1446.0 2142.0,1442.7 2143.0,1444.2 2144.0,1441.1 2145.0,1450.0 2146.0,1447.1 2147.0,1445.3 2148.0,1442.5 2149.0,1451.0 2150.0,1432.7 2151.0,1433.6 2152.0,1434.8 2153.0,1450.4 2154.0,1437.5 2155.0,1435.8 2156.0,1438.9 2157.0,1426.8 2158.0,1431.0 2159.0,1437.7 2160.0,1442.2 2161.0,1445.5 2162.0,1440.2 2163.0,1426.4 2164.0,1433.6 2165.0,1427.0 2166.0,1424.5 2167.0,1433.6 2168.0,1442.9 2169.0,1440.1 2170.0,1433.0 2171.0,1437.0 2172.0,1433.2 2173.0,1439.6 2174.0,1436.6 2175.0,1443.5 2176.0,1433.3 2177.0,1439.8 2178.0,1431.1 2179.0,1432.6 2180.0,1439.0 2181.0,1435.2 2182.0,1421.5 2183.0,1429.4 2184.0,1437.8 2185.0,1441.1 2186.0,1433.3 2187.0,1424.0 2188.0,1428.9 2189.0,1433.4 2190.0,1429.7 2191.0,1429.8 2192.0,1429.1 2193.0,1432.6 2194.0,1423.1 2195.0,1424.7 2196.0,1419.0 2197.0,1416.5 2198.0,1420.4 2199.0,1413.6 2200.0,1424.7 2201.0,1418.3 2202.0,1428.7 2203.0,1426.2 2204.0,1422.6 2205.0,1421.7 2206.0,1429.6 2207.0,1422.7 2208.0,1427.5 2209.0,1420.5 2210.0,1423.9 2211.0,1423.3 2212.0,1432.0 2213.0,1421.3 2214.0,1421.6 2215.0,1429.4 2216.0,1430.1 2217.0,1430.2 2218.0,1426.7 2219.0,1430.0 2220.0,1430.1 2221.0,1424.0 2222.0,1438.0 2223.0,1432.1 2224.0,1425.8 2225.0,1425.3 2226.0,1422.5 2227.0,1424.9 2228.0,1421.9 2229.0,1424.3 2230.0,1433.5 2231.0,1430.4 2232.0,1436.3 2233.0,1433.6 2234.0,1428.9 2235.0,1437.2 2236.0,1433.2 2237.0,1424.7 2238.0,1423.1 2239.0,1428.4 2240.0,1417.6 2241.0,1430.0 2242.0,1430.6 2243.0,1424.4 2244.0,1424.1 2245.0,1426.9 2246.0,1430.8 2247.0,1420.0 2248.0,1417.4 2249.0,1424.7 2250.0,1421.9 2251.0,1414.5 2252.0,1421.0 2253.0,1412.7 2254.0,1416.7 2255.0,1416.3 2256.0,1411.2 2257.0,1416.5 2258.0,1418.1 2259.0,1409.7 2260.0,1421.3 2261.0,1415.6 2262.0,1412.0 2263.0,1423.7 2264.0,1410.9 2265.0,1424.1 2266.0,1423.1 2267.0,1410.7 2268.0,1426.6 2269.0,1424.3 2270.0,1426.7 2271.0,1422.2 2272.0,1423.6 2273.0,1419.8 2274.0,1427.8 2275.0,1422.2 2276.0,1425.1 2277.0,1428.3 2278.0,1434.8 2279.0,1430.8 2280.0,1427.2 2281.0,1429.8 2282.0,1436.5 2283.0,1434.8 2284.0,1440.3 2285.0,1435.5 2286.0,1435.5 2287.0,1431.2 2288.0,1437.9 2289.0,1441.9 2290.0,1437.2 2291.0,1439.2 2292.0,1435.7 2293.0,1435.7 2294.0,1435.8 2295.0,1431.3 2296.0,1437.1 2297.0,1446.5 2298.0,1434.4 2299.0,1436.0 2300.0,1438.1 2301.0,1440.5 2302.0,1445.9 2303.0,1434.4 2304.0,1442.4 2305.0,1438.3 2306.0,1438.5 2307.0,1443.3 2308.0,1446.4 2309.0,1447.3 2310.0,1450.3 2311.0,1441.9 2312.0,1451.7 2313.0,1451.2 2314.0,1454.9 2315.0,1459.5 2316.0,1460.4 2317.0,1455.6"/>
<text class="tk" transform="translate(139.0,1346.3) scale(1,1.02)">30</text>
<text class="tk" transform="translate(162,1513.3) scale(1,1.02)">0</text>
<text class="tk" transform="translate(0,1680.4) scale(1,1.02)"><tspan x="113.0" font-size="89.3" stroke-width="2.5" dy="-0.2">−</tspan><tspan x="161.7" dy="0.2">30</tspan></text>
<text class="lab" transform="translate(96,1845.1) rotate(-90) scale(1,1.048)">U errors (cm)</text>
<line x1="714.5" x2="887" y1="1561.4" y2="1561.4" stroke="#0072BD" stroke-width="7.2"/>
<text class="leg" transform="translate(898.7,1591.9) scale(1,1.05)">Standard, RMS=2.7 cm</text>
<line x1="714.5" x2="887" y1="1657.7" y2="1657.7" stroke="#D95319" stroke-width="7.2"/>
<text class="leg" transform="translate(899.9,1688.2) scale(1,1.05)">Tropo-weighted, RMS=2.5 cm</text>
<line x1="714.5" x2="887" y1="1754.0" y2="1754.0" stroke="#EDB120" stroke-width="7.2"/>
<text class="leg" transform="translate(899.9,1784.5) scale(1,1.05)">Tropo-fixed, RMS=4.1 cm</text>
</g>
<text class="tk" text-anchor="middle" transform="translate(286.9,1956.5) scale(1,1.02)">0</text>
<text class="tk" text-anchor="middle" transform="translate(654.9,1956.5) scale(1,1.02)">500</text>
<text class="tk" text-anchor="middle" transform="translate(1023.0,1956.5) scale(1,1.02)">1000</text>
<text class="tk" text-anchor="middle" transform="translate(1391.0,1956.5) scale(1,1.02)">1500</text>
<text class="tk" text-anchor="middle" transform="translate(1759.1,1956.5) scale(1,1.02)">2000</text>
<text class="tk" text-anchor="middle" transform="translate(2127.1,1956.5) scale(1,1.02)">2500</text>
<text class="lab" clip-path="url(#ce)" text-anchor="middle" style="font-size:94.6px" transform="translate(1301.6,2077) scale(1,1.04)">Epoch</text>
</g></svg></body></html>
